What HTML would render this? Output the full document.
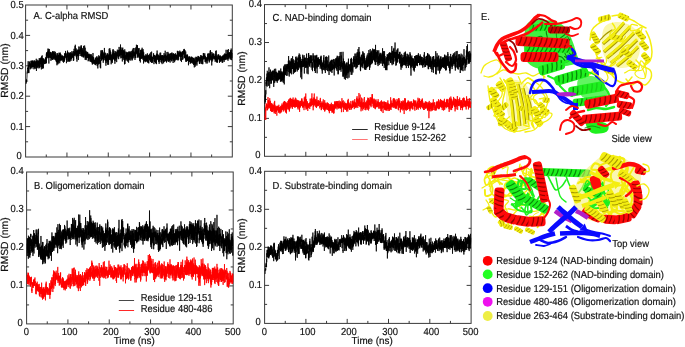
<!DOCTYPE html>
<html><head><meta charset="utf-8"><style>
html,body{margin:0;padding:0;background:#fff;}
svg{display:block;filter:blur(0.3px);}
text{font-family:"Liberation Sans", sans-serif;fill:#111;stroke:#111;stroke-width:0.18px;text-rendering:geometricPrecision;}
</style></head><body>
<svg width="685" height="347" viewBox="0 0 685 347">
<rect width="685" height="347" fill="#fff"/>
<rect x="25.6" y="5.0" width="206.70" height="152.00" fill="none" stroke="#3a3a3a" stroke-width="1.0"/>
<line x1="46.27" y1="157.0" x2="46.27" y2="154.5" stroke="#3a3a3a" stroke-width="1"/>
<line x1="46.27" y1="5.0" x2="46.27" y2="7.5" stroke="#3a3a3a" stroke-width="1"/>
<line x1="66.94" y1="157.0" x2="66.94" y2="152.5" stroke="#3a3a3a" stroke-width="1"/>
<line x1="66.94" y1="5.0" x2="66.94" y2="9.5" stroke="#3a3a3a" stroke-width="1"/>
<line x1="87.61" y1="157.0" x2="87.61" y2="154.5" stroke="#3a3a3a" stroke-width="1"/>
<line x1="87.61" y1="5.0" x2="87.61" y2="7.5" stroke="#3a3a3a" stroke-width="1"/>
<line x1="108.28" y1="157.0" x2="108.28" y2="152.5" stroke="#3a3a3a" stroke-width="1"/>
<line x1="108.28" y1="5.0" x2="108.28" y2="9.5" stroke="#3a3a3a" stroke-width="1"/>
<line x1="128.95" y1="157.0" x2="128.95" y2="154.5" stroke="#3a3a3a" stroke-width="1"/>
<line x1="128.95" y1="5.0" x2="128.95" y2="7.5" stroke="#3a3a3a" stroke-width="1"/>
<line x1="149.62" y1="157.0" x2="149.62" y2="152.5" stroke="#3a3a3a" stroke-width="1"/>
<line x1="149.62" y1="5.0" x2="149.62" y2="9.5" stroke="#3a3a3a" stroke-width="1"/>
<line x1="170.29" y1="157.0" x2="170.29" y2="154.5" stroke="#3a3a3a" stroke-width="1"/>
<line x1="170.29" y1="5.0" x2="170.29" y2="7.5" stroke="#3a3a3a" stroke-width="1"/>
<line x1="190.96" y1="157.0" x2="190.96" y2="152.5" stroke="#3a3a3a" stroke-width="1"/>
<line x1="190.96" y1="5.0" x2="190.96" y2="9.5" stroke="#3a3a3a" stroke-width="1"/>
<line x1="211.63" y1="157.0" x2="211.63" y2="154.5" stroke="#3a3a3a" stroke-width="1"/>
<line x1="211.63" y1="5.0" x2="211.63" y2="7.5" stroke="#3a3a3a" stroke-width="1"/>
<line x1="25.6" y1="141.80" x2="28.1" y2="141.80" stroke="#3a3a3a" stroke-width="1"/>
<line x1="232.3" y1="141.80" x2="229.8" y2="141.80" stroke="#3a3a3a" stroke-width="1"/>
<line x1="25.6" y1="126.60" x2="30.1" y2="126.60" stroke="#3a3a3a" stroke-width="1"/>
<line x1="232.3" y1="126.60" x2="227.8" y2="126.60" stroke="#3a3a3a" stroke-width="1"/>
<line x1="25.6" y1="111.40" x2="28.1" y2="111.40" stroke="#3a3a3a" stroke-width="1"/>
<line x1="232.3" y1="111.40" x2="229.8" y2="111.40" stroke="#3a3a3a" stroke-width="1"/>
<line x1="25.6" y1="96.20" x2="30.1" y2="96.20" stroke="#3a3a3a" stroke-width="1"/>
<line x1="232.3" y1="96.20" x2="227.8" y2="96.20" stroke="#3a3a3a" stroke-width="1"/>
<line x1="25.6" y1="81.00" x2="28.1" y2="81.00" stroke="#3a3a3a" stroke-width="1"/>
<line x1="232.3" y1="81.00" x2="229.8" y2="81.00" stroke="#3a3a3a" stroke-width="1"/>
<line x1="25.6" y1="65.80" x2="30.1" y2="65.80" stroke="#3a3a3a" stroke-width="1"/>
<line x1="232.3" y1="65.80" x2="227.8" y2="65.80" stroke="#3a3a3a" stroke-width="1"/>
<line x1="25.6" y1="50.60" x2="28.1" y2="50.60" stroke="#3a3a3a" stroke-width="1"/>
<line x1="232.3" y1="50.60" x2="229.8" y2="50.60" stroke="#3a3a3a" stroke-width="1"/>
<line x1="25.6" y1="35.40" x2="30.1" y2="35.40" stroke="#3a3a3a" stroke-width="1"/>
<line x1="232.3" y1="35.40" x2="227.8" y2="35.40" stroke="#3a3a3a" stroke-width="1"/>
<line x1="25.6" y1="20.20" x2="28.1" y2="20.20" stroke="#3a3a3a" stroke-width="1"/>
<line x1="232.3" y1="20.20" x2="229.8" y2="20.20" stroke="#3a3a3a" stroke-width="1"/>
<text transform="translate(21.70 158.70) scale(0.925 1)" text-anchor="end" font-size="10.2">0</text>
<text transform="translate(23.70 129.70) scale(0.925 1)" text-anchor="end" font-size="10.2">0.1</text>
<text transform="translate(23.70 99.30) scale(0.925 1)" text-anchor="end" font-size="10.2">0.2</text>
<text transform="translate(23.70 68.90) scale(0.925 1)" text-anchor="end" font-size="10.2">0.3</text>
<text transform="translate(23.70 38.50) scale(0.925 1)" text-anchor="end" font-size="10.2">0.4</text>
<text transform="translate(23.70 8.10) scale(0.925 1)" text-anchor="end" font-size="10.2">0.5</text>
<text transform="translate(33.50 19.20) scale(0.925 1)" font-size="10.2">A. C-alpha RMSD</text>
<text transform="translate(7.70 70.60) rotate(-90) scale(1.0 1)" text-anchor="middle" font-size="10.3">RMSD (nm)</text>
<rect x="264.5" y="4.6" width="206.50" height="151.70" fill="none" stroke="#3a3a3a" stroke-width="1.0"/>
<line x1="285.15" y1="156.3" x2="285.15" y2="153.8" stroke="#3a3a3a" stroke-width="1"/>
<line x1="285.15" y1="4.6" x2="285.15" y2="7.1" stroke="#3a3a3a" stroke-width="1"/>
<line x1="305.80" y1="156.3" x2="305.80" y2="151.8" stroke="#3a3a3a" stroke-width="1"/>
<line x1="305.80" y1="4.6" x2="305.80" y2="9.1" stroke="#3a3a3a" stroke-width="1"/>
<line x1="326.45" y1="156.3" x2="326.45" y2="153.8" stroke="#3a3a3a" stroke-width="1"/>
<line x1="326.45" y1="4.6" x2="326.45" y2="7.1" stroke="#3a3a3a" stroke-width="1"/>
<line x1="347.10" y1="156.3" x2="347.10" y2="151.8" stroke="#3a3a3a" stroke-width="1"/>
<line x1="347.10" y1="4.6" x2="347.10" y2="9.1" stroke="#3a3a3a" stroke-width="1"/>
<line x1="367.75" y1="156.3" x2="367.75" y2="153.8" stroke="#3a3a3a" stroke-width="1"/>
<line x1="367.75" y1="4.6" x2="367.75" y2="7.1" stroke="#3a3a3a" stroke-width="1"/>
<line x1="388.40" y1="156.3" x2="388.40" y2="151.8" stroke="#3a3a3a" stroke-width="1"/>
<line x1="388.40" y1="4.6" x2="388.40" y2="9.1" stroke="#3a3a3a" stroke-width="1"/>
<line x1="409.05" y1="156.3" x2="409.05" y2="153.8" stroke="#3a3a3a" stroke-width="1"/>
<line x1="409.05" y1="4.6" x2="409.05" y2="7.1" stroke="#3a3a3a" stroke-width="1"/>
<line x1="429.70" y1="156.3" x2="429.70" y2="151.8" stroke="#3a3a3a" stroke-width="1"/>
<line x1="429.70" y1="4.6" x2="429.70" y2="9.1" stroke="#3a3a3a" stroke-width="1"/>
<line x1="450.35" y1="156.3" x2="450.35" y2="153.8" stroke="#3a3a3a" stroke-width="1"/>
<line x1="450.35" y1="4.6" x2="450.35" y2="7.1" stroke="#3a3a3a" stroke-width="1"/>
<line x1="264.5" y1="137.34" x2="267.0" y2="137.34" stroke="#3a3a3a" stroke-width="1"/>
<line x1="471.0" y1="137.34" x2="468.5" y2="137.34" stroke="#3a3a3a" stroke-width="1"/>
<line x1="264.5" y1="118.38" x2="269.0" y2="118.38" stroke="#3a3a3a" stroke-width="1"/>
<line x1="471.0" y1="118.38" x2="466.5" y2="118.38" stroke="#3a3a3a" stroke-width="1"/>
<line x1="264.5" y1="99.41" x2="267.0" y2="99.41" stroke="#3a3a3a" stroke-width="1"/>
<line x1="471.0" y1="99.41" x2="468.5" y2="99.41" stroke="#3a3a3a" stroke-width="1"/>
<line x1="264.5" y1="80.45" x2="269.0" y2="80.45" stroke="#3a3a3a" stroke-width="1"/>
<line x1="471.0" y1="80.45" x2="466.5" y2="80.45" stroke="#3a3a3a" stroke-width="1"/>
<line x1="264.5" y1="61.49" x2="267.0" y2="61.49" stroke="#3a3a3a" stroke-width="1"/>
<line x1="471.0" y1="61.49" x2="468.5" y2="61.49" stroke="#3a3a3a" stroke-width="1"/>
<line x1="264.5" y1="42.53" x2="269.0" y2="42.53" stroke="#3a3a3a" stroke-width="1"/>
<line x1="471.0" y1="42.53" x2="466.5" y2="42.53" stroke="#3a3a3a" stroke-width="1"/>
<line x1="264.5" y1="23.56" x2="267.0" y2="23.56" stroke="#3a3a3a" stroke-width="1"/>
<line x1="471.0" y1="23.56" x2="468.5" y2="23.56" stroke="#3a3a3a" stroke-width="1"/>
<text transform="translate(260.60 158.00) scale(0.925 1)" text-anchor="end" font-size="10.2">0</text>
<text transform="translate(261.90 120.67) scale(0.925 1)" text-anchor="end" font-size="10.2">0.1</text>
<text transform="translate(261.90 82.75) scale(0.925 1)" text-anchor="end" font-size="10.2">0.2</text>
<text transform="translate(261.90 44.83) scale(0.925 1)" text-anchor="end" font-size="10.2">0.3</text>
<text transform="translate(261.90 6.90) scale(0.925 1)" text-anchor="end" font-size="10.2">0.4</text>
<text transform="translate(272.60 20.60) scale(0.925 1)" font-size="10.2">C. NAD-binding domain</text>
<text transform="translate(245.00 78.60) rotate(-90) scale(1.0 1)" text-anchor="middle" font-size="10.3">RMSD (nm)</text>
<rect x="26.6" y="172.0" width="206.60" height="151.90" fill="none" stroke="#3a3a3a" stroke-width="1.0"/>
<line x1="47.26" y1="323.9" x2="47.26" y2="321.4" stroke="#3a3a3a" stroke-width="1"/>
<line x1="47.26" y1="172.0" x2="47.26" y2="174.5" stroke="#3a3a3a" stroke-width="1"/>
<line x1="67.92" y1="323.9" x2="67.92" y2="319.4" stroke="#3a3a3a" stroke-width="1"/>
<line x1="67.92" y1="172.0" x2="67.92" y2="176.5" stroke="#3a3a3a" stroke-width="1"/>
<line x1="88.58" y1="323.9" x2="88.58" y2="321.4" stroke="#3a3a3a" stroke-width="1"/>
<line x1="88.58" y1="172.0" x2="88.58" y2="174.5" stroke="#3a3a3a" stroke-width="1"/>
<line x1="109.24" y1="323.9" x2="109.24" y2="319.4" stroke="#3a3a3a" stroke-width="1"/>
<line x1="109.24" y1="172.0" x2="109.24" y2="176.5" stroke="#3a3a3a" stroke-width="1"/>
<line x1="129.90" y1="323.9" x2="129.90" y2="321.4" stroke="#3a3a3a" stroke-width="1"/>
<line x1="129.90" y1="172.0" x2="129.90" y2="174.5" stroke="#3a3a3a" stroke-width="1"/>
<line x1="150.56" y1="323.9" x2="150.56" y2="319.4" stroke="#3a3a3a" stroke-width="1"/>
<line x1="150.56" y1="172.0" x2="150.56" y2="176.5" stroke="#3a3a3a" stroke-width="1"/>
<line x1="171.22" y1="323.9" x2="171.22" y2="321.4" stroke="#3a3a3a" stroke-width="1"/>
<line x1="171.22" y1="172.0" x2="171.22" y2="174.5" stroke="#3a3a3a" stroke-width="1"/>
<line x1="191.88" y1="323.9" x2="191.88" y2="319.4" stroke="#3a3a3a" stroke-width="1"/>
<line x1="191.88" y1="172.0" x2="191.88" y2="176.5" stroke="#3a3a3a" stroke-width="1"/>
<line x1="212.54" y1="323.9" x2="212.54" y2="321.4" stroke="#3a3a3a" stroke-width="1"/>
<line x1="212.54" y1="172.0" x2="212.54" y2="174.5" stroke="#3a3a3a" stroke-width="1"/>
<line x1="26.6" y1="304.91" x2="29.1" y2="304.91" stroke="#3a3a3a" stroke-width="1"/>
<line x1="233.2" y1="304.91" x2="230.7" y2="304.91" stroke="#3a3a3a" stroke-width="1"/>
<line x1="26.6" y1="285.92" x2="31.1" y2="285.92" stroke="#3a3a3a" stroke-width="1"/>
<line x1="233.2" y1="285.92" x2="228.7" y2="285.92" stroke="#3a3a3a" stroke-width="1"/>
<line x1="26.6" y1="266.94" x2="29.1" y2="266.94" stroke="#3a3a3a" stroke-width="1"/>
<line x1="233.2" y1="266.94" x2="230.7" y2="266.94" stroke="#3a3a3a" stroke-width="1"/>
<line x1="26.6" y1="247.95" x2="31.1" y2="247.95" stroke="#3a3a3a" stroke-width="1"/>
<line x1="233.2" y1="247.95" x2="228.7" y2="247.95" stroke="#3a3a3a" stroke-width="1"/>
<line x1="26.6" y1="228.96" x2="29.1" y2="228.96" stroke="#3a3a3a" stroke-width="1"/>
<line x1="233.2" y1="228.96" x2="230.7" y2="228.96" stroke="#3a3a3a" stroke-width="1"/>
<line x1="26.6" y1="209.97" x2="31.1" y2="209.97" stroke="#3a3a3a" stroke-width="1"/>
<line x1="233.2" y1="209.97" x2="228.7" y2="209.97" stroke="#3a3a3a" stroke-width="1"/>
<line x1="26.6" y1="190.99" x2="29.1" y2="190.99" stroke="#3a3a3a" stroke-width="1"/>
<line x1="233.2" y1="190.99" x2="230.7" y2="190.99" stroke="#3a3a3a" stroke-width="1"/>
<text transform="translate(22.70 325.60) scale(0.925 1)" text-anchor="end" font-size="10.2">0</text>
<text transform="translate(23.70 287.72) scale(0.925 1)" text-anchor="end" font-size="10.2">0.1</text>
<text transform="translate(23.70 249.75) scale(0.925 1)" text-anchor="end" font-size="10.2">0.2</text>
<text transform="translate(23.70 211.78) scale(0.925 1)" text-anchor="end" font-size="10.2">0.3</text>
<text transform="translate(23.70 173.80) scale(0.925 1)" text-anchor="end" font-size="10.2">0.4</text>
<text transform="translate(26.40 335.00) scale(0.925 1)" text-anchor="middle" font-size="10.2">0</text>
<text transform="translate(69.62 335.00) scale(0.925 1)" text-anchor="middle" font-size="10.2">100</text>
<text transform="translate(110.84 335.00) scale(0.925 1)" text-anchor="middle" font-size="10.2">200</text>
<text transform="translate(152.16 335.00) scale(0.925 1)" text-anchor="middle" font-size="10.2">300</text>
<text transform="translate(193.38 335.00) scale(0.925 1)" text-anchor="middle" font-size="10.2">400</text>
<text transform="translate(232.80 335.00) scale(0.925 1)" text-anchor="middle" font-size="10.2">500</text>
<text transform="translate(134.20 344.30) scale(0.965 1)" text-anchor="middle" font-size="10.2">Time (ns)</text>
<text transform="translate(34.10 189.20) scale(0.925 1)" font-size="10.2">B. Oligomerization domain</text>
<text transform="translate(7.70 244.60) rotate(-90) scale(1.0 1)" text-anchor="middle" font-size="10.3">RMSD (nm)</text>
<rect x="264.6" y="171.3" width="206.50" height="152.10" fill="none" stroke="#3a3a3a" stroke-width="1.0"/>
<line x1="285.25" y1="323.4" x2="285.25" y2="320.9" stroke="#3a3a3a" stroke-width="1"/>
<line x1="285.25" y1="171.3" x2="285.25" y2="173.8" stroke="#3a3a3a" stroke-width="1"/>
<line x1="305.90" y1="323.4" x2="305.90" y2="318.9" stroke="#3a3a3a" stroke-width="1"/>
<line x1="305.90" y1="171.3" x2="305.90" y2="175.8" stroke="#3a3a3a" stroke-width="1"/>
<line x1="326.55" y1="323.4" x2="326.55" y2="320.9" stroke="#3a3a3a" stroke-width="1"/>
<line x1="326.55" y1="171.3" x2="326.55" y2="173.8" stroke="#3a3a3a" stroke-width="1"/>
<line x1="347.20" y1="323.4" x2="347.20" y2="318.9" stroke="#3a3a3a" stroke-width="1"/>
<line x1="347.20" y1="171.3" x2="347.20" y2="175.8" stroke="#3a3a3a" stroke-width="1"/>
<line x1="367.85" y1="323.4" x2="367.85" y2="320.9" stroke="#3a3a3a" stroke-width="1"/>
<line x1="367.85" y1="171.3" x2="367.85" y2="173.8" stroke="#3a3a3a" stroke-width="1"/>
<line x1="388.50" y1="323.4" x2="388.50" y2="318.9" stroke="#3a3a3a" stroke-width="1"/>
<line x1="388.50" y1="171.3" x2="388.50" y2="175.8" stroke="#3a3a3a" stroke-width="1"/>
<line x1="409.15" y1="323.4" x2="409.15" y2="320.9" stroke="#3a3a3a" stroke-width="1"/>
<line x1="409.15" y1="171.3" x2="409.15" y2="173.8" stroke="#3a3a3a" stroke-width="1"/>
<line x1="429.80" y1="323.4" x2="429.80" y2="318.9" stroke="#3a3a3a" stroke-width="1"/>
<line x1="429.80" y1="171.3" x2="429.80" y2="175.8" stroke="#3a3a3a" stroke-width="1"/>
<line x1="450.45" y1="323.4" x2="450.45" y2="320.9" stroke="#3a3a3a" stroke-width="1"/>
<line x1="450.45" y1="171.3" x2="450.45" y2="173.8" stroke="#3a3a3a" stroke-width="1"/>
<line x1="264.6" y1="304.39" x2="267.1" y2="304.39" stroke="#3a3a3a" stroke-width="1"/>
<line x1="471.1" y1="304.39" x2="468.6" y2="304.39" stroke="#3a3a3a" stroke-width="1"/>
<line x1="264.6" y1="285.38" x2="269.1" y2="285.38" stroke="#3a3a3a" stroke-width="1"/>
<line x1="471.1" y1="285.38" x2="466.6" y2="285.38" stroke="#3a3a3a" stroke-width="1"/>
<line x1="264.6" y1="266.36" x2="267.1" y2="266.36" stroke="#3a3a3a" stroke-width="1"/>
<line x1="471.1" y1="266.36" x2="468.6" y2="266.36" stroke="#3a3a3a" stroke-width="1"/>
<line x1="264.6" y1="247.35" x2="269.1" y2="247.35" stroke="#3a3a3a" stroke-width="1"/>
<line x1="471.1" y1="247.35" x2="466.6" y2="247.35" stroke="#3a3a3a" stroke-width="1"/>
<line x1="264.6" y1="228.34" x2="267.1" y2="228.34" stroke="#3a3a3a" stroke-width="1"/>
<line x1="471.1" y1="228.34" x2="468.6" y2="228.34" stroke="#3a3a3a" stroke-width="1"/>
<line x1="264.6" y1="209.32" x2="269.1" y2="209.32" stroke="#3a3a3a" stroke-width="1"/>
<line x1="471.1" y1="209.32" x2="466.6" y2="209.32" stroke="#3a3a3a" stroke-width="1"/>
<line x1="264.6" y1="190.31" x2="267.1" y2="190.31" stroke="#3a3a3a" stroke-width="1"/>
<line x1="471.1" y1="190.31" x2="468.6" y2="190.31" stroke="#3a3a3a" stroke-width="1"/>
<text transform="translate(260.70 325.10) scale(0.925 1)" text-anchor="end" font-size="10.2">0</text>
<text transform="translate(262.00 287.77) scale(0.925 1)" text-anchor="end" font-size="10.2">0.1</text>
<text transform="translate(262.00 249.75) scale(0.925 1)" text-anchor="end" font-size="10.2">0.2</text>
<text transform="translate(262.00 211.72) scale(0.925 1)" text-anchor="end" font-size="10.2">0.3</text>
<text transform="translate(262.00 173.70) scale(0.925 1)" text-anchor="end" font-size="10.2">0.4</text>
<text transform="translate(264.40 334.50) scale(0.925 1)" text-anchor="middle" font-size="10.2">0</text>
<text transform="translate(307.60 334.50) scale(0.925 1)" text-anchor="middle" font-size="10.2">100</text>
<text transform="translate(348.80 334.50) scale(0.925 1)" text-anchor="middle" font-size="10.2">200</text>
<text transform="translate(390.10 334.50) scale(0.925 1)" text-anchor="middle" font-size="10.2">300</text>
<text transform="translate(431.30 334.50) scale(0.925 1)" text-anchor="middle" font-size="10.2">400</text>
<text transform="translate(470.70 334.50) scale(0.925 1)" text-anchor="middle" font-size="10.2">500</text>
<text transform="translate(372.15 343.80) scale(0.965 1)" text-anchor="middle" font-size="10.2">Time (ns)</text>
<text transform="translate(272.60 189.00) scale(0.925 1)" font-size="10.2">D. Substrate-binding domain</text>
<text transform="translate(245.00 245.60) rotate(-90) scale(1.0 1)" text-anchor="middle" font-size="10.3">RMSD (nm)</text>
<path d="M26.10 84.00l.08 -.89 .09 -1.02 .08 -1.80 .08 2.16 .09 -.45 .08 -2.61 .08 .80 .09 -.32 .08 -.95 .08 -1.02 .09 -.89 .08 -3.89 .08 .37 .09 -1.90 .08 1.36 .08 -3.42 .09 -.15 .08 -1.50 .08 -.27 .09 1.27 .08 -.98 .08 3.65 .09 -1.24 .08 -9.02 .08 1.14 .09 3.98 .08 -.08 .09 1.55 .08 .21 .08 4.83 .09 -7.63 .08 1.94 .08 5.89 .09 -3.67 .08 -.57 .08 -3.58 .09 -3.96 .08 3.16 .08 1.12 .09 -3.41 .08 .80 .08 2.77 .09 -1.77 .08 1.72 .08 .91 .09 -.84 .08 -1.51 .08 4.03 .09 1.01 .08 -2.48 .08 -2.96 .09 4.61 .08 -4.04 .08 2.89 .09 -3.88 .08 4.47 .08 -3.97 .09 -3.14 .08 4.37 .08 1.01 .09 .87 .08 -5.69 .08 -.76 .09 4.58 .08 -2.23 .08 2.91 .09 1.47 .08 -6.28 .08 6.03 .09 1.52 .08 -4.68 .08 -1.39 .09 4.08 .08 -2.83 .08 2.89 .09 -3.09 .08 -3.16 .08 3.97 .09 -1.34 .08 4.04 .08 -1.71 .09 -4.28 .08 .08 .09 4.99 .08 -.22 .08 -4.15 .09 1.23 .08 1.33 .08 1.14 .09 1.57 .08 -1.03 .08 -.95 .09 .03 .08 4.14 .08 -8.74 .09 5.19 .08 .48 .08 -5.67 .09 4.43 .08 -2.04 .08 4.39 .09 -2.87 .08 2.74 .08 .66 .09 -2.25 .08 -1.80 .08 -2.97 .09 8.19 .08 -4.74 .08 -1.43 .09 1.75 .08 -.14 .08 1.79 .09 -2.87 .08 .78 .08 -2.53 .09 3.70 .08 -3.50 .08 3.92 .09 2.17 .08 -7.43 .08 -1.75 .09 7.34 .08 4.88 .08 -9.85 .09 -.44 .08 3.45 .08 -3.01 .09 .93 .08 2.48 .08 3.12 .09 -2.89 .08 2.22 .08 -1.36 .09 -3.04 .08 -.71 .08 -.33 .09 2.85 .08 -4.59 .09 .92 .08 7.50 .08 -4.64 .09 .67 .08 -.10 .08 -2.43 .09 .71 .08 2.50 .08 -.14 .09 -3.83 .08 5.58 .08 -4.65 .09 -.10 .08 -.28 .08 1.80 .09 5.07 .08 -8.10 .08 3.93 .09 -6.18 .08 6.66 .08 2.84 .09 -4.27 .08 -1.03 .08 2.06 .09 .27 .08 -1.13 .08 4.05 .09 -5.28 .08 -3.27 .08 1.67 .09 .71 .08 .83 .08 -1.31 .09 .44 .08 -3.57 .08 6.40 .09 -4.09 .08 .58 .08 5.11 .09 1.15 .08 -4.25 .08 -.34 .09 -4.21 .08 11.36 .08 -6.16 .09 -6.90 .08 3.27 .08 2.58 .09 -3.77 .08 5.60 .08 -2.74 .09 4.99 .08 -1.12 .09 -9.80 .08 8.30 .08 -5.44 .09 9.49 .08 -2.74 .08 1.11 .09 -5.96 .08 8.80 .08 -1.02 .09 -8.49 .08 3.40 .08 -2.65 .09 1.79 .08 -3.19 .08 9.35 .09 -8.13 .08 1.85 .08 .92 .09 -4.43 .08 2.86 .08 -.14 .09 -.04 .08 -.78 .08 1.20 .09 1.05 .08 -.05 .08 .92 .09 -.51 .08 1.27 .08 -2.50 .09 .36 .08 -1.04 .08 .21 .09 -2.00 .08 3.69 .08 -2.80 .09 .28 .08 2.72 .08 .25 .09 -2.03 .08 -3.50 .08 5.37 .09 -1.21 .08 -3.97 .08 5.95 .09 -5.06 .08 -1.81 .08 1.93 .09 .60 .08 -.86 .08 -5.03 .09 9.35 .08 -7.70 .08 -3.05 .09 4.97 .08 -4.04 .09 2.00 .08 -1.34 .08 .39 .09 1.10 .08 -2.24 .08 5.14 .09 -4.83 .08 -.54 .08 2.11 .09 -.58 .08 -2.18 .08 -.70 .09 4.90 .08 -7.82 .08 3.98 .09 3.40 .08 -4.30 .08 3.46 .09 .20 .08 2.38 .08 -4.18 .09 .92 .08 3.13 .08 -8.71 .09 14.67 .08 -10.34 .08 -.95 .09 4.80 .08 -2.39 .08 -5.58 .09 8.11 .08 -.61 .08 -2.06 .09 -.12 .08 3.16 .08 -2.99 .09 2.65 .08 -1.45 .08 -1.56 .09 -2.00 .08 3.22 .08 -3.56 .09 4.11 .08 -1.33 .08 3.34 .09 -2.48 .08 -.29 .08 -2.42 .09 4.52 .08 3.53 .08 -6.18 .09 -2.40 .08 2.84 .09 -1.28 .08 .59 .08 .39 .09 -.54 .08 4.29 .08 -4.49 .09 2.03 .08 2.78 .08 -3.95 .09 5.00 .08 -6.38 .08 -.84 .09 1.16 .08 .58 .08 -2.53 .09 2.57 .08 -3.07 .08 8.57 .09 -4.06 .08 -2.42 .08 -2.36 .09 1.91 .08 .34 .08 -1.47 .09 -.14 .08 2.37 .08 -.50 .09 4.02 .08 .98 .08 -2.47 .09 1.98 .08 -5.35 .08 5.64 .09 -1.66 .08 .89 .08 2.07 .09 -8.45 .08 6.52 .08 -3.97 .09 4.37 .08 -4.81 .08 1.68 .09 .81 .08 1.54 .08 -1.23 .09 -2.18 .08 1.64 .08 2.60 .09 -2.74 .08 -3.72 .08 7.36 .09 -.53 .08 1.70 .08 -5.03 .09 3.74 .08 -4.39 .09 4.90 .08 -3.44 .08 3.67 .09 1.78 .08 -3.56 .08 1.66 .09 -1.29 .08 3.34 .08 -.73 .09 -5.22 .08 6.47 .08 .15 .09 2.87 .08 -12.05 .08 4.24 .09 4.98 .08 -9.15 .08 .04 .09 7.17 .08 2.00 .08 -5.71 .09 4.95 .08 -.77 .08 3.37 .09 -4.11 .08 3.35 .08 -8.58 .09 1.51 .08 1.11 .08 4.79 .09 -2.02 .08 -5.07 .08 5.06 .09 -1.34 .08 -1.63 .08 -.32 .09 .39 .08 -4.86 .08 6.54 .09 -1.99 .08 -3.40 .08 5.60 .09 -6.22 .08 3.87 .08 .49 .09 5.75 .08 -8.55 .08 5.34 .09 1.24 .08 -2.21 .08 1.43 .09 -4.80 .08 -3.11 .08 6.67 .09 -5.29 .08 2.74 .09 -.70 .08 4.30 .08 -.04 .09 -6.03 .08 3.16 .08 -.82 .09 .82 .08 .40 .08 -.30 .09 1.94 .08 -.17 .08 -2.70 .09 3.63 .08 -4.34 .08 1.83 .09 .33 .08 2.37 .08 -5.29 .09 5.36 .08 -4.31 .08 .51 .09 -.70 .08 2.53 .08 -.18 .09 -2.18 .08 -.21 .08 .48 .09 -.38 .08 4.47 .08 1.44 .09 -1.88 .08 -2.04 .08 -.34 .09 1.67 .08 1.58 .08 1.77 .09 -2.90 .08 -2.39 .08 .91 .09 -1.15 .08 -1.26 .08 1.94 .09 -.07 .08 3.44 .08 -4.98 .09 2.73 .08 2.65 .08 -5.86 .09 4.10 .08 -3.00 .08 -3.64 .09 2.18 .08 -1.59 .09 -.21 .08 2.28 .08 .63 .09 1.00 .08 -4.17 .08 2.65 .09 -5.06 .08 4.92 .08 .98 .09 .70 .08 -.08 .08 .26 .09 -3.71 .08 .18 .08 2.77 .09 2.44 .08 -2.08 .08 5.90 .09 -7.17 .08 2.98 .08 .89 .09 -4.86 .08 -2.20 .08 .09 .09 1.89 .08 2.77 .08 -2.09 .09 -.69 .08 -.94 .08 2.89 .09 -6.17 .08 3.88 .08 1.35 .09 -3.81 .08 9.86 .08 -9.11 .09 .28 .08 -.27 .08 8.36 .09 -4.33 .08 2.89 .08 -.50 .09 -.33 .08 -3.97 .08 1.30 .09 5.17 .08 -8.49 .08 1.76 .09 2.41 .08 3.87 .08 -2.49 .09 1.35 .08 -4.95 .08 5.69 .09 -1.49 .08 -6.21 .09 6.34 .08 2.67 .08 -7.44 .09 2.92 .08 2.68 .08 -5.19 .09 -2.38 .08 1.83 .08 1.81 .09 .51 .08 2.35 .08 -1.89 .09 -4.62 .08 5.30 .08 3.29 .09 -1.50 .08 -1.28 .08 -2.26 .09 2.60 .08 -4.43 .08 2.98 .09 -2.54 .08 4.70 .08 -2.12 .09 -4.01 .08 2.73 .08 1.62 .09 -6.43 .08 2.20 .08 -.80 .09 .11 .08 4.85 .08 -.50 .09 -1.08 .08 -1.92 .08 .94 .09 .54 .08 -1.85 .08 3.01 .09 1.21 .08 .30 .08 -2.82 .09 1.40 .08 -.51 .08 4.82 .09 -3.71 .08 -6.14 .08 6.12 .09 3.10 .08 -2.69 .08 .02 .09 -2.93 .08 -5.91 .08 1.78 .09 -.05 .08 1.88 .09 2.12 .08 .34 .08 -2.89 .09 3.43 .08 -1.07 .08 -2.01 .09 3.60 .08 -5.13 .08 -4.71 .09 5.11 .08 1.83 .08 -8.29 .09 9.46 .08 -1.92 .08 -2.51 .09 .44 .08 2.79 .08 -.66 .09 2.92 .08 -1.05 .08 -5.94 .09 1.99 .08 5.75 .08 1.09 .09 -4.09 .08 .60 .08 5.21 .09 -5.04 .08 .78 .08 -3.57 .09 2.94 .08 7.70 .08 -12.27 .09 3.20 .08 -2.13 .08 3.63 .09 1.77 .08 -4.54 .08 2.53 .09 -1.03 .08 -.90 .08 4.39 .09 -3.13 .08 -3.19 .08 .48 .09 -.07 .08 3.87 .08 -1.54 .09 7.32 .08 -2.91 .08 -7.28 .09 .69 .08 5.28 .09 -9.32 .08 2.96 .08 4.48 .09 -4.30 .08 1.20 .08 -1.09 .09 2.18 .08 -1.05 .08 .25 .09 1.17 .08 -.47 .08 2.09 .09 -4.82 .08 -2.29 .08 .17 .09 1.06 .08 4.66 .08 3.32 .09 -3.51 .08 -1.88 .08 -1.66 .09 1.37 .08 1.14 .08 -1.02 .09 -1.86 .08 .40 .08 4.79 .09 -7.99 .08 4.61 .08 -5.09 .09 7.03 .08 -2.88 .08 -2.32 .09 4.85 .08 4.27 .08 -3.97 .09 4.14 .08 -3.26 .08 -5.28 .09 6.20 .08 -2.63 .08 -3.06 .09 7.00 .08 -.33 .08 -2.94 .09 3.33 .08 -5.25 .08 4.53 .09 -3.34 .08 3.49 .08 -4.64 .09 6.90 .08 -2.55 .08 2.55 .09 -4.86 .08 -.33 .09 2.85 .08 -8.93 .08 4.46 .09 6.50 .08 -1.37 .08 2.02 .09 -3.27 .08 1.61 .08 -2.29 .09 -1.28 .08 .07 .08 2.96 .09 -1.08 .08 -2.28 .08 -6.44 .09 2.96 .08 2.78 .08 1.39 .09 -1.83 .08 -.20 .08 -2.88 .09 12.27 .08 -8.44 .08 6.84 .09 -1.08 .08 -3.49 .08 -1.53 .09 2.36 .08 -3.91 .08 4.70 .09 -1.26 .08 2.28 .08 .99 .09 2.65 .08 -4.91 .08 3.09 .09 -4.24 .08 -1.47 .08 -.19 .09 -.81 .08 6.32 .08 -.72 .09 .56 .08 -1.68 .08 .65 .09 -2.24 .08 -2.34 .08 4.26 .09 .17 .08 -3.50 .08 4.91 .09 -5.69 .08 4.65 .09 -.74 .08 -.19 .08 -.89 .09 6.18 .08 -1.28 .08 .11 .09 -2.53 .08 -3.75 .08 4.28 .09 -1.88 .08 2.68 .08 1.56 .09 -1.06 .08 -3.43 .08 .22 .09 1.53 .08 -3.96 .08 3.53 .09 .47 .08 -2.66 .08 .29 .09 1.40 .08 -2.10 .08 .21 .09 4.18 .08 -1.25 .08 3.43 .09 -5.63 .08 -.96 .08 7.06 .09 -.96 .08 -3.63 .08 -1.08 .09 3.01 .08 -3.58 .08 3.01 .09 -3.96 .08 3.30 .08 -3.75 .09 4.07 .08 3.67 .08 -4.04 .09 3.37 .08 -2.53 .08 -.53 .09 -.90 .08 5.28 .08 -3.53 .09 2.67 .08 -5.99 .08 2.45 .09 1.03 .08 3.35 .08 2.00 .09 -6.42 .08 -1.56 .09 .25 .08 7.46 .08 -3.74 .09 -2.89 .08 1.04 .08 -5.64 .09 2.22 .08 6.54 .08 -1.20 .09 .46 .08 -3.55 .08 3.64 .09 2.44 .08 -6.05 .08 3.05 .09 -.43 .08 1.78 .08 1.83 .09 -.58 .08 -2.92 .08 1.62 .09 -1.94 .08 1.51 .08 .67 .09 1.59 .08 -3.28 .08 -.08 .09 4.35 .08 -2.45 .08 -2.64 .09 2.87 .08 -1.81 .08 -.40 .09 1.81 .08 -4.26 .08 3.31 .09 4.08 .08 -2.26 .08 -5.14 .09 5.07 .08 -3.30 .08 1.53 .09 .93 .08 -2.12 .08 4.32 .09 -3.85 .08 2.06 .08 .42 .09 1.09 .08 .01 .08 -6.85 .09 3.33 .08 -4.24 .08 3.68 .09 4.99 .08 .09 .09 1.21 .08 -4.24 .08 -.18 .09 -2.03 .08 3.47 .08 -.10 .09 -5.25 .08 10.64 .08 -10.33 .09 .35 .08 3.17 .08 .38 .09 -.28 .08 -4.24 .08 6.38 .09 -4.76 .08 5.33 .08 -1.31 .09 -7.88 .08 1.79 .08 .23 .09 2.24 .08 -.10 .08 .38 .09 -3.15 .08 3.83 .08 2.99 .09 -7.08 .08 3.10 .08 1.02 .09 -1.61 .08 .79 .08 4.24 .09 .04 .08 .06 .08 -3.62 .09 7.15 .08 -4.38 .08 -2.82 .09 .48 .08 1.41 .08 6.07 .09 -6.25 .08 -2.66 .08 -9.00 .09 8.69 .08 -4.85 .08 .30 .09 5.07 .08 -6.45 .08 5.53 .09 1.94 .08 -7.31 .09 3.45 .08 -5.25 .08 3.90 .09 2.52 .08 -7.94 .08 9.41 .09 -4.13 .08 -3.45 .08 1.76 .09 3.21 .08 -6.35 .08 5.37 .09 -4.54 .08 8.00 .08 -3.59 .09 -2.20 .08 5.38 .08 -6.54 .09 2.93 .08 7.53 .08 -6.72 .09 4.79 .08 -3.15 .08 -1.48 .09 -.64 .08 .98 .08 -.72 .09 -1.68 .08 .49 .08 -1.30 .09 5.38 .08 -.92 .08 .27 .09 -10.14 .08 9.89 .08 -1.65 .09 -2.58 .08 4.86 .08 1.13 .09 .45 .08 -.71 .08 .98 .09 -.13 .08 -1.94 .08 -5.52 .09 3.45 .08 2.66 .08 -2.51 .09 3.11 .08 1.48 .08 -2.03 .09 6.84 .08 -6.70 .08 4.02 .09 -5.41 .08 -.73 .09 4.26 .08 -4.33 .08 2.66 .09 -3.41 .08 3.32 .08 -4.10 .09 -.42 .08 1.53 .08 -1.84 .09 5.36 .08 -6.68 .08 .94 .09 5.42 .08 -1.88 .08 2.38 .09 -.61 .08 5.25 .08 -11.25 .09 1.01 .08 1.82 .08 5.57 .09 -3.40 .08 3.27 .08 -.13 .09 -3.28 .08 -2.19 .08 -.89 .09 9.46 .08 -3.99 .08 -2.49 .09 -3.39 .08 .85 .08 -1.60 .09 .54 .08 -5.92 .08 7.98 .09 -.64 .08 1.76 .08 -.40 .09 2.44 .08 -1.66 .08 1.16 .09 -11.20 .08 4.00 .08 6.61 .09 -8.48 .08 4.39 .08 4.24 .09 -3.13 .08 4.47 .08 -6.40 .09 -2.19 .08 1.19 .08 -.59 .09 5.64 .08 -.70 .09 -.27 .08 -3.26 .08 10.57 .09 -8.22 .08 .47 .08 2.41 .09 -2.04 .08 -1.92 .08 5.27 .09 1.11 .08 -.69 .08 1.56 .09 -5.73 .08 -.33 .08 6.91 .09 -6.71 .08 1.40 .08 2.55 .09 .45 .08 -7.29 .08 2.50 .09 -1.67 .08 2.38 .08 -6.53 .09 6.39 .08 -7.54 .08 8.20 .09 .22 .08 .50 .08 -5.53 .09 6.51 .08 -3.65 .08 -1.96 .09 -.53 .08 .75 .08 3.56 .09 2.59 .08 -8.97 .08 2.47 .09 5.40 .08 -.98 .08 2.22 .09 -6.60 .08 7.15 .08 -6.14 .09 2.84 .08 4.21 .08 2.49 .09 -3.66 .08 1.00 .08 -3.90 .09 -.43 .08 2.89 .09 -3.97 .08 -.30 .08 -4.07 .09 5.45 .08 .99 .08 -3.97 .09 -.70 .08 6.46 .08 -4.23 .09 .32 .08 -3.94 .08 1.97 .09 .77 .08 4.27 .08 -3.76 .09 7.17 .08 -8.60 .08 2.64 .09 2.30 .08 -2.47 .08 -3.46 .09 1.75 .08 1.48 .08 -6.08 .09 2.81 .08 -.82 .08 -.10 .09 4.22 .08 -3.35 .08 .42 .09 -.04 .08 2.15 .08 -2.83 .09 4.72 .08 -6.39 .08 6.79 .09 -5.74 .08 1.79 .08 .81 .09 5.06 .08 -3.56 .08 -5.29 .09 5.33 .08 -5.75 .08 -2.99 .09 3.99 .08 -.80 .08 4.20 .09 -4.58 .08 3.85 .08 2.40 .09 -1.27 .08 -.85 .08 -3.18 .09 5.96 .08 -2.71 .09 1.00 .08 -4.20 .08 .34 .09 -3.88 .08 4.28 .08 -6.96 .09 6.80 .08 2.55 .08 -1.74 .09 6.24 .08 -5.60 .08 -5.39 .09 7.55 .08 -3.19 .08 -1.83 .09 3.52 .08 1.25 .08 .37 .09 -2.94 .08 .42 .08 .41 .09 5.06 .08 -7.94 .08 3.56 .09 .82 .08 -6.02 .08 .74 .09 12.34 .08 -12.15 .08 6.75 .09 -3.92 .08 .70 .08 -5.28 .09 4.37 .08 4.58 .08 -6.65 .09 5.66 .08 -2.27 .08 4.57 .09 -6.04 .08 6.35 .08 -1.04 .09 -2.77 .08 -4.01 .08 9.48 .09 -8.28 .08 2.86 .08 3.36 .09 -.14 .08 -5.95 .08 2.11 .09 .87 .08 6.83 .09 2.89 .08 -12.85 .08 7.88 .09 -10.06 .08 7.20 .08 -1.43 .09 8.85 .08 -4.66 .08 -2.95 .09 .35 .08 .31 .08 .44 .09 -1.69 .08 2.46 .08 1.24 .09 -.50 .08 -5.92 .08 -1.40 .09 2.79 .08 6.28 .08 -4.15 .09 -1.81 .08 1.38 .08 -3.86 .09 .33 .08 6.76 .08 -1.52 .09 -3.72 .08 1.56 .08 -1.77 .09 1.93 .08 -1.47 .08 2.69 .09 -.23 .08 -4.13 .08 2.57 .09 2.19 .08 4.04 .08 -9.23 .09 4.25 .08 -2.75 .08 4.20 .09 -.41 .08 2.68 .08 -2.61 .09 -2.93 .08 -.35 .08 2.74 .09 .28 .08 5.29 .08 -2.54 .09 -8.02 .08 3.88 .08 -3.97 .09 -.70 .08 8.14 .09 -1.10 .08 -4.51 .08 6.41 .09 -7.00 .08 -.95 .08 4.17 .09 -.82 .08 .43 .08 -.74 .09 .20 .08 -.88 .08 .21 .09 -3.45 .08 .65 .08 4.93 .09 -4.14 .08 2.67 .08 1.68 .09 -4.78 .08 2.47 .08 5.74 .09 -4.07 .08 2.44 .08 .46 .09 -2.34 .08 -1.10 .08 -4.59 .09 -.51 .08 3.52 .08 -.09 .09 -.60 .08 3.59 .08 -3.98 .09 5.02 .08 -3.87 .08 .04 .09 -.09 .08 -1.63 .08 7.56 .09 -10.84 .08 5.01 .08 2.09 .09 -1.03 .08 -2.02 .08 5.06 .09 -7.52 .08 -.08 .08 4.77 .09 -5.55 .08 -2.32 .08 8.12 .09 -.59 .08 .70 .08 -1.85 .09 .83 .08 -3.28 .09 5.96 .08 -3.43 .08 1.09 .09 -7.47 .08 7.48 .08 .68 .09 -.95 .08 -.39 .08 -1.51 .09 -.70 .08 2.75 .08 -.53 .09 .30 .08 -.35 .08 5.10 .09 -8.18 .08 1.75 .08 -2.00 .09 4.02 .08 2.34 .08 -2.05 .09 -1.85 .08 -6.40 .08 10.47 .09 -4.68 .08 -3.02 .08 -.86 .09 .13 .08 1.24 .08 1.41 .09 -.56 .08 -6.94 .08 6.87 .09 1.70 .08 -.93 .08 -2.42 .09 1.74 .08 2.15 .08 -3.36 .09 3.95 .08 -8.46 .08 2.21 .09 1.09 .08 -4.26 .08 5.16 .09 7.50 .08 -.70 .08 -3.38 .09 3.00 .08 -4.06 .08 -1.10 .09 2.03 .08 -.62 .09 2.29 .08 -5.97 .08 7.39 .09 -3.44 .08 1.66 .08 -6.47 .09 .79 .08 2.17 .08 2.38 .09 -5.69 .08 9.75 .08 -2.81 .09 -1.77 .08 5.05 .08 -1.88 .09 2.07 .08 2.57 .08 -4.51 .09 -1.55 .08 -.72 .08 2.39 .09 .10 .08 -2.71 .08 -.53 .09 4.75 .08 4.30 .08 -12.59 .09 8.75 .08 -2.48 .08 1.37 .09 1.10 .08 -3.27 .08 -2.99 .09 -.28 .08 -1.89 .08 8.04 .09 -3.91 .08 -.85 .08 1.07 .09 -4.20 .08 4.02 .08 4.56 .09 -2.30 .08 -7.28 .08 8.52 .09 -6.90 .08 -3.21 .08 1.63 .09 2.50 .08 1.86 .08 -1.83 .09 -1.63 .08 3.40 .08 4.83 .09 -7.43 .08 3.19 .09 -1.47 .08 7.08 .08 -10.70 .09 8.29 .08 -4.42 .08 2.79 .09 .09 .08 7.56 .08 -8.24 .09 -2.95 .08 7.45 .08 -4.35 .09 .83 .08 1.30 .08 -.05 .09 .34 .08 .73 .08 .80 .09 1.71 .08 -2.18 .08 -1.89 .09 -1.24 .08 2.82 .08 -2.55 .09 1.59 .08 .61 .08 4.02 .09 -3.69 .08 2.86 .08 -4.62 .09 .78 .08 1.35 .08 -3.13 .09 5.72 .08 -5.04 .08 3.98 .09 -6.32 .08 3.44 .08 1.46 .09 -.18 .08 -3.64 .08 4.88 .09 1.01 .08 -1.30 .08 -1.99 .09 -.32 .08 -1.07 .08 3.30 .09 2.04 .08 -3.43 .08 -2.60 .09 4.52 .08 .86 .09 -7.75 .08 5.32 .08 3.82 .09 -2.22 .08 -1.55 .08 1.21 .09 2.35 .08 -5.48 .08 -1.15 .09 1.67 .08 -1.46 .08 2.67 .09 -3.62 .08 6.58 .08 1.28 .09 -1.58 .08 -.87 .08 3.10 .09 -7.11 .08 .21 .08 -.75 .09 1.54 .08 -.25 .08 1.91 .09 -2.61 .08 -2.23 .08 -.39 .09 6.48 .08 -2.95 .08 -.50 .09 1.72 .08 .38 .08 1.24 .09 .25 .08 -1.99 .08 -1.04 .09 -1.69 .08 -.19 .08 6.38 .09 -5.66 .08 -3.77 .08 4.68 .09 -.38 .08 3.00 .08 -3.80 .09 3.59 .08 -2.29 .08 1.55 .09 .83 .08 3.39 .08 -4.40 .09 -6.94 .08 3.57 .08 1.60 .09 4.81 .08 -2.35 .09 1.73 .08 -3.32 .08 2.31 .09 -1.47 .08 -1.73 .08 4.07 .09 1.86 .08 -5.41 .08 2.23 .09 1.26 .08 -2.43 .08 .09 .09 .36 .08 -.97 .08 .93 .09 -2.73 .08 -.15 .08 .11 .09 -2.78 .08 .14 .08 3.82 .09 -2.49 .08 3.21 .08 6.25 .09 -1.19 .08 -6.73 .08 2.83 .09 -3.51 .08 5.93 .08 -6.33 .09 2.52 .08 4.30 .08 -5.76 .09 4.95 .08 -5.31 .08 2.87 .09 -.87 .08 -.44 .08 1.76 .09 -.87 .08 -2.76 .08 5.17 .09 -1.16 .08 2.10 .08 1.75 .09 -7.11 .08 6.28 .08 -.78 .09 -3.64 .08 4.40 .08 -.69 .09 -4.41 .08 -2.93 .08 1.55 .09 8.06 .08 -6.82 .09 -2.48 .08 1.37 .08 -2.67 .09 1.17 .08 1.64 .08 -5.80 .09 6.68 .08 2.45 .08 -4.89 .09 .01 .08 3.42 .08 -3.62 .09 1.60 .08 -1.47 .08 3.12 .09 1.63 .08 -1.80 .08 1.30 .09 1.29 .08 -1.12 .08 -3.51 .09 1.40 .08 4.84 .08 -6.17 .09 2.20 .08 -.38 .08 1.00 .09 -2.66 .08 -1.24 .08 9.23 .09 -3.73 .08 -4.01 .08 1.44 .09 2.08 .08 -.69 .08 2.56 .09 -5.05 .08 1.66 .08 .53 .09 -1.97 .08 -3.92 .08 5.90 .09 1.24 .08 -.27 .08 -2.98 .09 2.83 .08 .27 .08 -4.65 .09 -2.40 .08 6.94 .08 -3.35 .09 4.68 .08 1.31 .09 -6.35 .08 -.39 .08 2.81 .09 .77 .08 -3.64 .08 5.98 .09 1.28 .08 -2.21 .08 -2.49 .09 2.86 .08 -1.06 .08 -4.25 .09 8.56 .08 -5.41 .08 .02 .09 -3.17 .08 3.00 .08 1.35 .09 -3.66 .08 -.90 .08 2.53 .09 -2.40 .08 1.19 .08 1.19 .09 .07 .08 3.17 .08 -5.43 .09 3.09 .08 -2.56 .08 4.55 .09 2.55 .08 -5.39 .08 4.02 .09 -3.85 .08 -4.31 .08 -.23 .09 -.52 .08 1.80 .08 1.90 .09 5.02 .08 -2.81 .08 -.55 .09 -3.02 .08 -.61 .08 2.57 .09 -.72 .08 1.46 .08 -.28 .09 -1.78 .08 -5.29 .08 2.03 .09 .72 .08 7.32 .08 -6.07 .09 3.33 .08 2.88 .09 -2.84 .08 -1.05 .08 -.35 .09 -1.36 .08 2.92 .08 3.65 .09 -1.93 .08 .02 .08 .06 .09 2.50 .08 -6.45 .08 2.15 .09 1.90 .08 .63 .08 -8.70 .09 4.34 .08 1.26 .08 -1.46 .09 4.46 .08 -1.55 .08 -.37 .09 -4.06 .08 1.71 .08 .71 .09 1.77 .08 -3.89 .08 -3.12 .09 1.53 .08 .66 .08 6.34 .09 1.60 .08 -5.52 .08 2.74 .09 1.20 .08 -1.28 .08 -3.21 .09 -2.63 .08 2.49 .08 -1.46 .09 5.93 .08 1.25 .08 -7.53 .09 3.87 .08 .32 .08 1.55 .09 .90 .08 -1.61 .08 -3.43 .09 .42 .08 4.22 .08 -3.36 .09 1.25 .08 4.47 .08 -4.93 .09 -4.27 .08 2.35 .09 2.82 .08 -2.08 .08 2.84 .09 .62 .08 -5.12 .08 -1.03 .09 1.30 .08 -1.75 .08 3.40 .09 -.45 .08 3.06 .08 -3.84 .09 -.59 .08 6.38 .08 -6.71 .09 -.56 .08 -1.14 .08 1.99 .09 -2.36 .08 4.36 .08 -1.60 .09 1.35 .08 2.54 .08 .13 .09 -.84 .08 -2.92 .08 2.73 .09 -.22 .08 .43 .08 -4.52 .09 6.74 .08 -2.61 .08 4.88 .09 -3.08 .08 -5.07 .08 -1.63 .09 5.81 .08 -4.91 .08 4.36 .09 -4.16 .08 6.10 .08 -4.19 .09 3.61 .08 -1.15 .08 -4.88 .09 2.10 .08 3.23 .08 -3.56 .09 -1.17 .08 3.58 .08 4.26 .09 -7.28 .08 4.68 .09 -1.58 .08 2.30 .08 -3.91 .09 3.99 .08 -2.38 .08 -1.26 .09 .40 .08 -2.15 .08 -1.78 .09 .42 .08 2.91 .08 -1.53 .09 3.28 .08 -.64 .08 -.36 .09 -2.41 .08 1.22 .08 .47 .09 3.06 .08 -4.76 .08 1.03 .09 .29 .08 -.12 .08 -.78 .09 .14 .08 3.67 .08 -4.65 .09 3.26 .08 2.41 .08 -1.04 .09 -8.29 .08 6.90 .08 -.44 .09 -.27 .08 -5.46 .08 6.18 .09 -4.00 .08 4.12 .08 -.63 .09 3.16 .08 -6.38 .08 -2.74 .09 6.68 .08 -.59 .08 -2.88 .09 5.18 .08 -1.80 .08 -4.96 .09 2.27 .08 -1.13 .08 -.13 .09 1.15 .08 -2.14 .08 .47 .09 3.02 .08 -.83 .09 -.28 .08 -.51 .08 .38 .09 -4.57 .08 5.60 .08 -3.88 .09 3.04 .08 -3.56 .08 4.79 .09 -.89 .08 -3.89 .08 5.16 .09 -1.74 .08 5.47 .08 -3.65 .09 -3.68 .08 1.82 .08 -.26 .09 1.82 .08 -.99 .08 .89 .09 -4.03 .08 4.91 .08 4.50 .09 -3.76 .08 -.82 .08 -.45 .09 -3.52 .08 3.11 .08 -4.78 .09 3.41 .08 -1.15 .08 -1.49 .09 3.35 .08 -4.74 .08 4.25 .09 -2.62 .08 7.14 .08 -.12 .09 -3.49 .08 2.63 .08 -4.92 .09 1.06 .08 -2.08 .08 -2.18 .09 3.19 .08 -1.99 .08 .19 .09 1.72 .08 -1.97 .08 -2.65 .09 3.45 .08 -.75 .09 .73 .08 -1.18 .08 4.35 .09 1.55 .08 -8.59 .08 4.63 .09 .12 .08 -3.44 .08 3.67 .09 4.34 .08 -2.16 .08 1.91 .09 -7.75 .08 2.99 .08 3.61 .09 .43 .08 .03 .08 -.61 .09 -.88 .08 -.02 .08 3.32 .09 -7.57 .08 10.31 .08 -5.78 .09 -.43 .08 4.66 .08 -4.83 .09 3.00 .08 -1.43 .08 2.58 .09 -.31 .08 2.37 .08 -4.64 .09 .89 .08 .85 .08 -4.21 .09 5.12 .08 -.13 .08 -4.69 .09 5.37 .08 -.11 .08 -5.50 .09 4.29 .08 2.02 .08 -.02 .09 -5.20 .08 .26 .08 2.85 .09 -1.11 .08 2.20 .08 -.18 .09 .20 .08 -2.45 .08 .41 .09 7.36 .08 -7.12 .09 1.86 .08 -.11 .08 -1.33 .09 -1.94 .08 3.16 .08 -.83 .09 .37 .08 2.48 .08 -3.70 .09 2.81 .08 -4.50 .08 1.94 .09 3.28 .08 -2.82 .08 -1.41 .09 2.07 .08 -1.71 .08 1.41 .09 -.46 .08 5.09 .08 -4.13 .09 .18 .08 -1.35 .08 3.18 .09 -1.85 .08 3.06 .08 -2.94 .09 -.32 .08 -2.94 .08 6.31 .09 -1.02 .08 -.23 .08 -.97 .09 -1.38 .08 -2.64 .08 5.08 .09 -.98 .08 -1.22 .08 -.42 .09 1.91 .08 -1.34 .08 3.48 .09 -2.27 .08 -3.84 .08 -.22 .09 1.95 .08 -.89 .08 2.61 .09 .09 .08 1.64 .08 -.38 .09 -.74 .08 2.55 .08 -3.97 .09 1.04 .08 1.95 .09 -.47 .08 -2.86 .08 -1.51 .09 .03 .08 7.04 .08 -7.16 .09 2.07 .08 3.95 .08 -1.17 .09 -.58 .08 -3.13 .08 2.63 .09 5.77 .08 -6.86 .08 .72 .09 -.56 .08 2.33 .08 .89 .09 .63 .08 -5.39 .08 -1.50 .09 4.18 .08 .32 .08 4.46 .09 -1.64 .08 -3.32 .08 2.17 .09 .37 .08 -2.18 .08 -1.42 .09 2.82 .08 -2.56 .08 -4.13 .09 7.87 .08 -6.92 .08 1.60 .09 -.43 .08 .64 .08 .79 .09 -3.00 .08 4.60 .08 -.78 .09 -.18 .08 4.71 .08 -.51 .09 -.36 .08 -.46 .08 -3.01 .09 -3.83 .08 3.82 .08 .30 .09 -.64 .08 -1.74 .09 -.89 .08 3.20 .08 -.59 .09 -5.00 .08 2.74 .08 -.41 .09 -.28 .08 2.53 .08 -1.80 .09 -.20 .08 .74 .08 -3.10 .09 3.53 .08 -.48 .08 -2.29 .09 3.65 .08 .85 .08 -2.69 .09 .44 .08 3.42 .08 .99 .09 -3.72 .08 3.09 .08 1.07 .09 -3.18 .08 -3.13 .08 .58 .09 .02 .08 -1.00 .08 5.10 .09 -5.57 .08 2.30 .08 -1.06 .09 .97 .08 -2.41 .08 -1.48 .09 5.76 .08 -3.47 .08 1.71 .09 1.17 .08 3.39 .08 -1.28 .09 .15 .08 -.81 .08 -1.24 .09 .09 .08 -1.48 .08 -3.57 .09 3.34 .08 -3.06 .08 7.94 .09 -1.23 .08 -.91 .08 -3.38 .09 5.91 .08 -7.94 .09 .17 .08 1.21 .08 -.11 .09 3.00 .08 .72 .08 2.96 .09 -3.41 .08 .04 .08 -.76 .09 -2.15 .08 -2.17 .08 -2.53 .09 .95 .08 2.19 .08 2.35 .09 -5.70 .08 1.93 .08 4.39 .09 -2.38 .08 2.37 .08 -2.97 .09 -.24 .08 .09 .08 2.37 .09 -1.72 .08 -2.07 .08 1.76 .09 1.84 .08 -1.20 .08 -3.82 .09 3.39 .08 2.05 .08 3.10 .09 -1.41 .08 -1.23 .08 -3.35 .09 .38 .08 4.20 .08 -2.48 .09 3.88 .08 -.02 .08 -4.92 .09 3.29 .08 -.82 .08 4.04 .09 -2.62 .08 -1.92 .08 1.66 .09 -2.49 .08 1.30 .08 .55 .09 -.85 .08 2.26 .08 -2.32 .09 -1.82 .08 3.36 .09 -2.50 .08 -.43 .08 5.85 .09 -3.29 .08 -3.22 .08 -1.78 .09 -1.03 .08 3.37 .08 1.92 .09 -2.55 .08 1.18 .08 -.03 .09 2.62 .08 -7.68 .08 5.00 .09 -.21 .08 1.11 .08 -.77 .09 -1.73 .08 .47 .08 -2.83 .09 4.61 .08 .02 .08 .76 .09 -2.75 .08 .24 .08 5.61 .09 -4.54 .08 3.45 .08 -2.64 .09 -4.83 .08 4.53 .08 1.78 .09 -3.37 .08 -3.83 .08 6.36 .09 -1.65 .08 .03 .08 -6.63 .09 6.35 .08 -7.49 .08 4.91 .09 3.37 .08 -6.68 .08 .70 .09 2.83 .08 5.06 .08 .11 .09 -4.97 .08 4.29 .08 -1.19 .09 -1.16 .08 .14 .09 -1.41 .08 4.30 .08 .39 .09 4.71 .08 -4.06 .08 -9.31 .09 4.04 .08 5.49 .08 -1.18 .09 -6.64 .08 5.13 .08 -.52 .09 .21 .08 -2.11 .08 2.63 .09 1.23 .08 -2.04 .08 -4.65 .09 1.57 .08 .12 .08 1.92 .09 -2.50 .08 -.25 .08 -.99 .09 4.37 .08 .23 .08 .56 .09 -2.18 .08 1.25 .08 -2.72 .09 -1.29 .08 1.15 .08 4.32 .09 -2.22 .08 -1.22 .08 3.07 .09 .37 .08 -.72 .08 -.92 .09 1.15 .08 -2.29 .08 .68 .09 1.08 .08 2.55 .08 1.14 .09 -.27 .08 -2.23 .08 -2.71 .09 -.10 .08 .59 .08 3.39 .09 -9.46 .08 8.84 .08 -5.72 .09 3.63 .08 2.51 .09 -5.73 .08 -4.19 .08 9.89 .09 2.08 .08 -3.06 .08 2.44 .09 -5.62 .08 4.17 .08 .07 .09 -2.11 .08 .41 .08 3.32 .09 -.17 .08 -4.85 .08 5.68 .09 -.47 .08 -2.48 .08 2.58 .09 -1.16 .08 -1.06 .08 -3.75 .09 2.70 .08 -4.06 .08 2.67 .09 -3.36 .08 .98 .08 4.24 .09 -2.10 .08 -.23 .08 1.83 .09 -.71 .08 -3.71 .08 3.34 .09 .90 .08 -.97 .08 1.26 .09 -1.71 .08 -1.51 .08 1.17 .09 1.66 .08 4.09 .08 -6.48 .09 2.71 .08 -3.16 .08 6.11 .09 -4.25 .08 1.87 .08 1.71 .09 -.44 .08 -5.47 .08 5.00 .09 -3.45 .08 2.04 .09 -1.21 .08 2.43 .08 -.89 .09 -1.22 .08 3.64 .08 -5.47 .09 2.99 .08 -.64 .08 1.90 .09 -1.41 .08 .61 .08 -.72 .09 .10 .08 -2.48 .08 3.29 .09 .29 .08 -2.01 .08 -.80 .09 -.42 .08 5.68 .08 -3.28 .09 .61 .08 -1.72 .08 -1.35 .09 -.68 .08 6.50 .08 -6.90 .09 3.75 .08 -.13 .08 -.88 .09 -3.18 .08 -.27 .08 3.89 .09 -2.82 .08 3.80 .08 -.24 .09 .41 .08 .04 .08 -4.32 .09 1.02 .08 2.11 .08 -4.66 .09 7.60 .08 -4.49 .08 .28 .09 -2.36 .08 3.39 .08 -3.10 .09 1.80 .08 -2.71 .08 5.35 .09 -6.79 .08 3.70 .08 -1.40 .09 .47 .08 -1.98 .09 5.66 .08 .24 .08 -2.51 .09 .08 .08 -1.01 .08 2.27 .09 -4.87 .08 3.14 .08 -.66 .09 -3.17 .08 -3.52 .08 5.80 .09 .76 .08 3.16 .08 -2.17 .09 -2.38 .08 -.64 .08 2.86 .09 -1.45 .08 -1.80 .08 2.36 .09 2.98 .08 -2.92 .08 -2.02 .09 1.45 .08 -4.58 .08 -1.20 .09 5.77 .08 -1.29 .08 4.82 .09 -2.37 .08 -3.88 .08 4.47 .09 3.26 .08 -2.35 .08 -4.59 .09 2.20 .08 -7.03 .08 3.68 .09 -.34 .08 4.63 .08 1.48 .09 -5.21 .08 3.12 .08 -.45 .09 2.66 .08 -5.75 .08 .34 .09 2.09 .08 .32 .08 -.01 .09 1.72 .08 -5.19 .08 2.55 .09 .56 .08 .53 .09 -1.89 .08 1.12 .08 1.66 .09 .14 .08 1.83 .08 1.06 .09 -6.13 .08 5.07 .08 -7.88 .09 5.36 .08 1.80 .08 -5.46 .09 -.02 .08 -.64 .08 4.80 .09 -7.99 .08 4.72 .08 -1.68 .09 3.75 .08 4.79 .08 -2.41 .09 .24 .08 -1.28 .08 -3.69 .09 4.62 .08 -.36" fill="none" stroke="#000" stroke-width="0.8" stroke-linejoin="round"/>
<path d="M265.00 104.00l.08 -2.27 .09 -1.64 .08 -4.61 .08 6.83 .09 -2.13 .08 -6.16 .08 3.05 .09 -2.31 .08 -4.57 .08 4.19 .09 -6.17 .08 -2.40 .08 -4.58 .09 4.85 .08 -3.69 .08 1.62 .09 -6.41 .08 2.70 .08 -2.70 .09 6.73 .08 -2.88 .08 -.19 .09 -.41 .08 -7.27 .08 9.25 .09 3.74 .08 -15.79 .08 .58 .09 1.32 .08 8.22 .08 -4.31 .09 2.41 .08 1.25 .08 -2.01 .09 -.46 .08 .67 .09 2.74 .08 -8.67 .08 3.31 .09 2.72 .08 7.26 .08 -11.88 .09 -.91 .08 -.27 .08 6.41 .09 -5.02 .08 5.35 .08 -12.09 .09 12.25 .08 1.62 .08 -9.36 .09 5.14 .08 3.18 .08 -3.42 .09 2.04 .08 9.35 .08 -8.77 .09 -.60 .08 -2.55 .08 2.88 .09 -5.07 .08 -.08 .08 -.18 .09 3.00 .08 -7.25 .08 1.71 .09 -1.03 .08 10.60 .08 -3.65 .09 6.61 .08 -6.53 .08 -3.27 .09 5.74 .08 -1.84 .08 -6.35 .09 2.86 .08 9.05 .08 -3.21 .09 -1.55 .08 -5.58 .08 -.91 .09 7.86 .08 -3.24 .08 -2.52 .09 1.06 .08 -1.71 .08 1.75 .09 5.00 .08 -8.94 .08 8.40 .09 -9.18 .08 2.82 .08 -1.12 .09 1.12 .08 1.77 .08 -2.51 .09 .72 .08 -1.51 .08 -.08 .09 -1.40 .08 7.65 .08 .37 .09 .67 .08 -.92 .08 8.61 .09 -9.53 .08 -1.86 .09 7.61 .08 -11.92 .08 5.84 .09 -6.15 .08 6.40 .08 -8.44 .09 7.99 .08 -3.77 .08 -1.11 .09 10.66 .08 -3.03 .08 -1.02 .09 -4.76 .08 1.05 .08 2.59 .09 3.41 .08 -.49 .08 -5.95 .09 -2.55 .08 1.64 .08 -4.82 .09 1.20 .08 2.76 .08 5.14 .09 1.90 .08 -6.48 .08 4.18 .09 -2.70 .08 6.62 .08 -4.32 .09 .58 .08 -4.02 .08 -1.80 .09 5.65 .08 -1.54 .08 4.28 .09 -7.51 .08 7.88 .08 -5.67 .09 7.95 .08 -5.29 .08 2.94 .09 -7.22 .08 7.37 .08 -3.06 .09 1.34 .08 .92 .08 -2.84 .09 2.83 .08 .17 .08 .57 .09 -3.08 .08 -4.13 .08 1.46 .09 2.24 .08 -6.40 .08 8.58 .09 -3.53 .08 .51 .08 3.66 .09 -.56 .08 -2.29 .08 -3.16 .09 3.76 .08 .59 .08 -3.61 .09 4.43 .08 -.73 .08 -7.62 .09 6.19 .08 -5.71 .09 7.57 .08 -.11 .08 -6.12 .09 1.32 .08 2.40 .08 .36 .09 5.27 .08 -3.70 .08 -3.09 .09 .85 .08 -7.34 .08 7.56 .09 2.51 .08 -3.21 .08 -1.83 .09 3.86 .08 3.46 .08 -4.74 .09 -2.87 .08 7.49 .08 -9.33 .09 5.92 .08 -3.87 .08 4.88 .09 -3.51 .08 7.03 .08 -2.12 .09 -7.10 .08 -.29 .08 2.56 .09 5.26 .08 -6.04 .08 1.31 .09 -.58 .08 4.02 .08 -1.19 .09 -1.28 .08 -5.03 .08 7.14 .09 2.06 .08 -8.37 .08 10.58 .09 -5.95 .08 -4.74 .08 -4.76 .09 8.40 .08 -.76 .08 -3.65 .09 -5.55 .08 11.70 .08 -5.54 .09 1.78 .08 10.66 .08 -3.16 .09 -4.22 .08 -4.81 .08 2.57 .09 -10.25 .08 9.86 .08 -2.46 .09 -3.02 .08 -.89 .08 5.57 .09 -.17 .08 -1.41 .08 3.01 .09 -5.99 .08 -1.62 .09 -2.98 .08 4.42 .08 2.78 .09 -3.78 .08 3.39 .08 -3.29 .09 1.35 .08 -.34 .08 -2.22 .09 9.11 .08 -2.09 .08 -5.23 .09 .64 .08 1.76 .08 -5.14 .09 4.96 .08 -6.39 .08 4.90 .09 -5.30 .08 2.49 .08 -1.31 .09 -.38 .08 2.54 .08 .01 .09 2.17 .08 1.90 .08 4.27 .09 -1.26 .08 -5.32 .08 .04 .09 -4.86 .08 7.70 .08 -4.09 .09 -7.12 .08 7.39 .08 -1.51 .09 -10.56 .08 7.32 .08 4.31 .09 -6.09 .08 3.10 .08 -1.90 .09 6.65 .08 -2.38 .08 9.47 .09 -10.37 .08 6.38 .08 -5.62 .09 -.42 .08 -4.46 .08 -1.61 .09 5.65 .08 5.02 .08 2.42 .09 -1.99 .08 -2.01 .08 -4.71 .09 8.21 .08 -2.83 .08 -8.45 .09 2.92 .08 -3.18 .08 10.23 .09 -4.62 .08 -2.51 .08 2.49 .09 -.05 .08 -5.17 .08 -3.19 .09 2.49 .08 -2.80 .09 9.34 .08 6.64 .08 -14.27 .09 5.80 .08 -.43 .08 -4.39 .09 3.94 .08 -4.71 .08 8.78 .09 -5.44 .08 2.94 .08 2.30 .09 -5.65 .08 -7.00 .08 4.47 .09 6.76 .08 -2.14 .08 1.94 .09 -5.74 .08 3.46 .08 3.99 .09 -2.58 .08 7.75 .08 -9.62 .09 -3.99 .08 -1.16 .08 11.62 .09 -6.13 .08 4.63 .08 -3.56 .09 6.38 .08 -.67 .08 -3.84 .09 3.46 .08 1.19 .08 -9.39 .09 9.25 .08 -1.02 .08 -.17 .09 -5.02 .08 1.70 .08 -7.43 .09 5.48 .08 -2.56 .08 3.38 .09 -1.21 .08 2.61 .08 4.01 .09 -11.07 .08 9.81 .08 -12.02 .09 -1.77 .08 7.74 .08 -1.28 .09 1.37 .08 -8.37 .08 6.92 .09 1.03 .08 4.04 .08 -5.28 .09 .20 .08 -5.03 .08 4.61 .09 .29 .08 6.07 .08 -7.54 .09 .31 .08 5.03 .08 4.42 .09 -5.44 .08 1.52 .09 -5.27 .08 5.57 .08 -1.56 .09 3.84 .08 -4.85 .08 -6.98 .09 1.71 .08 -3.40 .08 .19 .09 10.19 .08 -.34 .08 -8.75 .09 11.88 .08 -6.54 .08 -4.40 .09 6.09 .08 -2.03 .08 -3.21 .09 -4.70 .08 9.90 .08 .21 .09 -11.73 .08 11.69 .08 1.93 .09 -4.26 .08 1.90 .08 -2.17 .09 -4.65 .08 2.86 .08 7.60 .09 -13.75 .08 7.55 .08 1.29 .09 -3.30 .08 1.72 .08 -4.89 .09 3.76 .08 3.60 .08 2.41 .09 -2.67 .08 13.37 .08 -16.49 .09 3.11 .08 -2.49 .08 .96 .09 6.71 .08 -5.40 .08 8.26 .09 -.95 .08 -10.09 .08 9.57 .09 -7.23 .08 15.81 .08 -13.81 .09 -1.88 .08 -4.61 .08 2.18 .09 .16 .08 -1.85 .08 -.52 .09 .52 .08 .47 .08 7.25 .09 -12.40 .08 2.94 .08 -.48 .09 -.61 .08 .77 .08 1.94 .09 7.44 .08 -4.88 .09 -.54 .08 5.27 .08 -3.29 .09 -1.23 .08 3.66 .08 -6.80 .09 7.33 .08 -1.23 .08 -5.50 .09 -4.35 .08 10.86 .08 -4.49 .09 12.02 .08 -15.46 .08 5.05 .09 -4.56 .08 1.77 .08 2.34 .09 -5.12 .08 4.16 .08 .48 .09 -.02 .08 2.87 .08 1.71 .09 .74 .08 -1.02 .08 -3.35 .09 -5.30 .08 1.42 .08 2.62 .09 5.97 .08 -3.41 .08 -3.02 .09 5.91 .08 -6.04 .08 1.00 .09 1.77 .08 3.29 .08 -13.69 .09 3.41 .08 7.97 .08 -1.69 .09 -1.85 .08 2.49 .08 9.57 .09 -5.16 .08 -.34 .08 .08 .09 -4.32 .08 .32 .08 -5.82 .09 -.31 .08 .79 .08 8.87 .09 -2.83 .08 -1.29 .08 -1.80 .09 12.49 .08 -4.86 .08 -4.53 .09 -2.85 .08 -8.51 .08 8.22 .09 -1.93 .08 -6.78 .08 11.83 .09 -.56 .08 -9.05 .08 3.02 .09 1.84 .08 2.61 .09 -.35 .08 -5.31 .08 9.63 .09 -4.47 .08 3.55 .08 -1.22 .09 -5.11 .08 1.59 .08 2.01 .09 -.45 .08 -1.69 .08 1.11 .09 1.24 .08 -3.39 .08 .82 .09 -5.23 .08 7.58 .08 -7.03 .09 2.79 .08 2.08 .08 .38 .09 6.24 .08 -6.50 .08 -5.31 .09 5.74 .08 -2.74 .08 4.20 .09 -3.56 .08 .03 .08 2.20 .09 -.44 .08 -5.66 .08 6.37 .09 2.07 .08 5.95 .08 -7.56 .09 .12 .08 5.18 .08 .57 .09 3.06 .08 -5.16 .08 -3.30 .09 4.66 .08 -.45 .08 -7.94 .09 1.58 .08 -7.26 .08 5.84 .09 -3.44 .08 3.51 .08 .45 .09 .33 .08 -.35 .08 2.81 .09 -.54 .08 -1.41 .08 -4.89 .09 9.57 .08 2.70 .08 -6.68 .09 5.58 .08 -5.54 .08 -1.77 .09 5.67 .08 5.87 .08 -9.75 .09 -.16 .08 7.98 .08 -13.54 .09 8.82 .08 .60 .09 -1.20 .08 .47 .08 8.77 .09 -12.80 .08 -.16 .08 1.41 .09 -2.82 .08 -3.09 .08 11.57 .09 -2.65 .08 -8.22 .08 2.73 .09 3.04 .08 -.10 .08 -6.12 .09 4.14 .08 .02 .08 3.19 .09 -.35 .08 -7.92 .08 13.54 .09 -5.76 .08 6.55 .08 4.10 .09 -9.26 .08 -4.45 .08 7.25 .09 -5.40 .08 -2.18 .08 -1.36 .09 8.82 .08 -5.19 .08 -3.47 .09 1.26 .08 -1.76 .08 4.23 .09 -1.34 .08 -3.01 .08 4.92 .09 -3.35 .08 5.43 .08 2.19 .09 -4.38 .08 -2.54 .08 2.63 .09 2.58 .08 -1.73 .08 .54 .09 -.94 .08 .85 .08 .85 .09 -5.47 .08 1.07 .08 2.64 .09 -1.47 .08 .48 .08 1.54 .09 -2.88 .08 -.15 .08 .16 .09 8.35 .08 -3.44 .08 -7.89 .09 .34 .08 8.58 .08 -1.97 .09 -4.40 .08 5.71 .09 -9.17 .08 5.60 .08 .70 .09 -7.12 .08 4.57 .08 5.41 .09 2.27 .08 -3.87 .08 .73 .09 4.21 .08 -5.83 .08 -2.79 .09 5.28 .08 -1.35 .08 6.01 .09 -3.09 .08 -3.66 .08 10.05 .09 -10.51 .08 3.15 .08 .59 .09 -.02 .08 -2.53 .08 2.33 .09 -2.40 .08 -2.13 .08 4.50 .09 .03 .08 -1.32 .08 1.50 .09 -2.86 .08 5.93 .08 -.67 .09 -11.55 .08 7.29 .08 -2.96 .09 -6.83 .08 9.72 .08 -4.49 .09 .74 .08 1.07 .08 5.07 .09 3.13 .08 -4.97 .08 2.54 .09 -1.76 .08 1.59 .08 -2.96 .09 .26 .08 -1.31 .08 4.40 .09 1.04 .08 -4.59 .08 4.37 .09 4.03 .08 -16.08 .08 8.66 .09 -.67 .08 .34 .08 -4.05 .09 6.39 .08 -.38 .08 -2.16 .09 -.25 .08 -.95 .08 -7.55 .09 13.75 .08 -4.41 .08 -2.93 .09 4.56 .08 -5.33 .09 -4.94 .08 10.00 .08 -10.13 .09 5.00 .08 2.25 .08 3.11 .09 -.03 .08 -4.52 .08 -2.12 .09 -.15 .08 6.93 .08 3.67 .09 -3.18 .08 -2.19 .08 5.47 .09 -5.20 .08 .19 .08 -.50 .09 .74 .08 -2.08 .08 1.80 .09 2.11 .08 -2.89 .08 -9.84 .09 3.44 .08 7.04 .08 1.63 .09 7.38 .08 -9.11 .08 1.05 .09 3.11 .08 .24 .08 -3.56 .09 2.41 .08 -5.25 .08 -.45 .09 7.29 .08 -8.75 .08 7.50 .09 -1.34 .08 .37 .08 2.39 .09 .02 .08 -10.14 .08 3.52 .09 .16 .08 6.75 .08 -7.35 .09 2.07 .08 -1.03 .08 6.82 .09 -9.99 .08 .88 .08 7.83 .09 -10.45 .08 7.89 .08 -2.29 .09 -5.79 .08 5.79 .08 -2.08 .09 2.52 .08 2.18 .08 4.76 .09 -4.19 .08 .69 .08 -2.79 .09 1.08 .08 2.01 .08 -9.97 .09 9.56 .08 -5.19 .09 2.63 .08 -.46 .08 3.06 .09 -2.33 .08 -2.27 .08 1.38 .09 -.02 .08 -.89 .08 .53 .09 2.76 .08 -3.03 .08 1.17 .09 -7.26 .08 2.99 .08 -3.47 .09 8.39 .08 -5.44 .08 7.32 .09 6.26 .08 -9.26 .08 3.10 .09 -2.77 .08 -3.60 .08 -1.18 .09 3.99 .08 2.01 .08 -1.85 .09 -6.34 .08 .04 .08 3.11 .09 4.36 .08 -.13 .08 .11 .09 .66 .08 -4.03 .08 1.01 .09 -.30 .08 -6.17 .08 7.51 .09 -.53 .08 -.31 .08 -6.11 .09 3.92 .08 6.79 .08 -2.21 .09 1.77 .08 -9.35 .08 2.46 .09 -4.62 .08 5.32 .08 -.97 .09 3.83 .08 5.23 .08 -1.42 .09 -13.81 .08 10.57 .08 -.17 .09 -6.19 .08 1.68 .08 .88 .09 4.10 .08 -6.12 .08 -4.29 .09 10.66 .08 -1.09 .08 8.63 .09 -14.99 .08 14.40 .08 -4.68 .09 -4.56 .08 3.57 .09 -7.99 .08 6.86 .08 -9.16 .09 4.46 .08 -3.11 .08 -2.85 .09 3.98 .08 -.34 .08 3.97 .09 6.27 .08 -3.74 .08 -1.58 .09 .90 .08 -9.72 .08 8.96 .09 -1.69 .08 -1.66 .08 -3.55 .09 -6.05 .08 8.67 .08 2.66 .09 3.77 .08 .91 .08 1.61 .09 -5.08 .08 3.41 .08 -5.97 .09 5.19 .08 .82 .08 3.66 .09 -13.76 .08 -6.09 .08 11.49 .09 -7.90 .08 2.75 .08 -.51 .09 .66 .08 8.47 .08 -1.01 .09 -4.85 .08 5.11 .08 -1.03 .09 4.20 .08 -3.02 .08 -1.87 .09 -1.45 .08 1.63 .08 3.67 .09 -5.48 .08 3.77 .08 1.54 .09 8.50 .08 -6.64 .08 -18.13 .09 10.66 .08 3.19 .08 4.04 .09 6.92 .08 -4.18 .08 -13.78 .09 9.27 .08 -.42 .08 2.76 .09 4.80 .08 -9.62 .08 7.90 .09 -11.52 .08 5.87 .08 2.58 .09 8.48 .08 -13.49 .09 -3.95 .08 6.80 .08 -3.93 .09 8.38 .08 -9.31 .08 .60 .09 9.76 .08 -5.69 .08 5.97 .09 -7.68 .08 13.50 .08 -8.59 .09 4.51 .08 -6.59 .08 -4.52 .09 3.23 .08 1.88 .08 5.89 .09 -6.21 .08 3.92 .08 -2.54 .09 7.36 .08 -15.52 .08 11.13 .09 -4.66 .08 1.87 .08 -3.32 .09 7.30 .08 -9.58 .08 -.49 .09 3.99 .08 -5.97 .08 8.99 .09 .31 .08 -6.02 .08 6.68 .09 -4.56 .08 1.01 .08 1.16 .09 8.10 .08 -8.00 .08 -3.96 .09 -.05 .08 6.81 .08 -11.60 .09 3.55 .08 2.39 .08 -8.95 .09 6.68 .08 6.47 .08 -1.96 .09 -4.70 .08 5.19 .08 .29 .09 7.04 .08 -12.81 .08 2.86 .09 -.53 .08 .62 .08 .47 .09 -.85 .08 -1.18 .08 -1.83 .09 6.02 .08 -2.59 .08 .91 .09 -.87 .08 3.05 .08 1.22 .09 -8.28 .08 5.82 .09 1.37 .08 -1.22 .08 -7.04 .09 -4.00 .08 10.71 .08 -.28 .09 -1.30 .08 -3.43 .08 10.41 .09 -.36 .08 -6.54 .08 -2.49 .09 -7.68 .08 10.65 .08 -9.40 .09 9.34 .08 1.45 .08 -2.67 .09 7.50 .08 -9.02 .08 3.92 .09 .24 .08 -1.25 .08 -3.22 .09 5.21 .08 -3.48 .08 -3.59 .09 -1.11 .08 2.52 .08 7.56 .09 -6.70 .08 1.48 .08 -4.63 .09 -.18 .08 -3.49 .08 5.29 .09 -.80 .08 -2.18 .08 -3.66 .09 4.29 .08 -.94 .08 -4.83 .09 7.16 .08 -.56 .08 .17 .09 3.19 .08 -7.31 .08 8.33 .09 -8.22 .08 5.59 .08 1.21 .09 -2.99 .08 -.60 .08 -5.24 .09 -3.32 .08 4.19 .08 -1.37 .09 4.69 .08 -2.44 .08 4.59 .09 -2.29 .08 1.57 .08 1.88 .09 -.68 .08 -2.70 .08 7.77 .09 -15.07 .08 9.23 .09 3.95 .08 -3.51 .08 3.75 .09 -2.61 .08 -6.21 .08 3.18 .09 -5.11 .08 10.19 .08 1.51 .09 -8.72 .08 1.60 .08 -3.37 .09 -4.83 .08 4.23 .08 -4.82 .09 3.42 .08 4.57 .08 3.82 .09 2.91 .08 -8.14 .08 2.58 .09 1.62 .08 .09 .08 -13.87 .09 6.51 .08 6.60 .08 -6.12 .09 6.88 .08 1.72 .08 -12.12 .09 9.97 .08 2.33 .08 -3.11 .09 -6.92 .08 -7.90 .08 9.86 .09 4.40 .08 -.26 .08 -1.07 .09 3.71 .08 -6.35 .08 .60 .09 -6.08 .08 6.49 .08 6.18 .09 -1.16 .08 -1.07 .08 -2.70 .09 0 .08 4.91 .08 -7.70 .09 13.38 .08 -11.49 .08 12.46 .09 -1.45 .08 -9.95 .08 6.08 .09 -1.37 .08 -.26 .08 -.14 .09 -5.37 .08 -.68 .08 2.14 .09 -5.01 .08 6.43 .08 .96 .09 2.30 .08 .44 .08 -1.63 .09 3.61 .08 -12.80 .09 6.58 .08 1.70 .08 3.77 .09 -2.16 .08 .44 .08 -2.61 .09 3.87 .08 -8.17 .08 2.86 .09 -9.41 .08 15.17 .08 1.71 .09 -8.89 .08 .12 .08 -6.94 .09 2.75 .08 7.72 .08 -2.38 .09 -5.81 .08 3.95 .08 .13 .09 5.46 .08 -.65 .08 -2.78 .09 2.01 .08 .07 .08 -9.73 .09 9.58 .08 .90 .08 4.64 .09 -12.13 .08 12.69 .08 -7.11 .09 2.18 .08 5.42 .08 -11.19 .09 3.31 .08 8.28 .08 -9.51 .09 1.13 .08 6.21 .08 -4.55 .09 3.80 .08 -2.31 .08 -1.60 .09 4.08 .08 2.93 .08 -8.07 .09 5.89 .08 -1.59 .08 -5.18 .09 1.63 .08 -4.24 .08 3.03 .09 3.79 .08 -1.64 .08 4.66 .09 -11.67 .08 4.61 .08 -1.80 .09 .71 .08 6.06 .08 -11.45 .09 12.21 .08 -6.14 .08 0 .09 6.29 .08 -6.82 .08 3.85 .09 -.13 .08 .09 .09 -3.23 .08 -7.72 .08 3.82 .09 7.47 .08 -.28 .08 -7.49 .09 9.82 .08 -.19 .08 -7.49 .09 -2.08 .08 5.60 .08 -12.23 .09 3.64 .08 2.85 .08 -1.19 .09 .58 .08 3.94 .08 -3.07 .09 1.46 .08 11.75 .08 -16.93 .09 6.22 .08 5.04 .08 -4.50 .09 7.80 .08 -5.18 .08 -.79 .09 -12.56 .08 16.11 .08 -2.70 .09 -8.18 .08 10.21 .08 -3.74 .09 .53 .08 2.96 .08 -7.56 .09 -3.90 .08 3.33 .08 -4.63 .09 1.89 .08 -1.52 .08 1.31 .09 7.97 .08 -2.08 .08 -5.59 .09 10.66 .08 -13.61 .08 4.14 .09 2.88 .08 4.79 .08 -2.77 .09 1.60 .08 1.95 .08 -2.78 .09 1.46 .08 -6.79 .08 -6.46 .09 4.18 .08 4.79 .08 -1.26 .09 3.15 .08 .65 .08 -1.12 .09 .14 .08 -5.87 .08 6.01 .09 -8.40 .08 3.26 .08 -4.18 .09 8.65 .08 -9.34 .09 10.92 .08 -10.23 .08 6.47 .09 -1.64 .08 -1.90 .08 7.90 .09 -8.53 .08 9.46 .08 -11.10 .09 3.25 .08 -4.51 .08 9.98 .09 -.67 .08 -2.11 .08 -1.66 .09 -3.82 .08 13.60 .08 -5.19 .09 -8.69 .08 3.93 .08 -9.82 .09 18.05 .08 1.92 .08 -1.35 .09 -6.99 .08 -1.87 .08 -2.42 .09 5.51 .08 -5.73 .08 1.94 .09 .74 .08 .40 .08 5.33 .09 1.74 .08 -7.31 .08 .65 .09 -5.44 .08 .03 .08 .30 .09 8.50 .08 -3.75 .08 1.61 .09 -2.91 .08 -2.30 .08 -.79 .09 4.56 .08 -3.77 .08 12.65 .09 -5.06 .08 -2.82 .08 9.80 .09 -7.72 .08 3.56 .08 -2.92 .09 1.74 .08 -3.34 .08 3.10 .09 2.05 .08 -10.79 .08 -1.46 .09 12.65 .08 -6.35 .08 4.48 .09 -2.76 .08 6.70 .08 -.82 .09 -8.55 .08 7.31 .08 -3.88 .09 -4.65 .08 4.59 .09 2.28 .08 -7.40 .08 -1.10 .09 8.26 .08 -4.38 .08 1.80 .09 -4.00 .08 2.32 .08 .62 .09 1.74 .08 -1.73 .08 5.94 .09 -4.91 .08 -5.53 .08 1.91 .09 1.94 .08 6.74 .08 -9.29 .09 .70 .08 3.32 .08 -2.11 .09 -.21 .08 1.21 .08 3.28 .09 -.54 .08 -2.50 .08 2.93 .09 -4.75 .08 5.78 .08 -1.56 .09 -1.62 .08 -5.68 .08 13.55 .09 -17.75 .08 6.69 .08 .51 .09 5.69 .08 -5.55 .08 4.94 .09 -1.09 .08 -2.92 .08 4.45 .09 2.60 .08 -2.39 .08 -2.75 .09 -7.28 .08 11.97 .08 -6.06 .09 -2.23 .08 4.94 .08 2.98 .09 -4.69 .08 -4.07 .08 13.95 .09 -7.17 .08 1.41 .08 1.86 .09 -12.84 .08 5.49 .08 -.29 .09 8.89 .08 -8.60 .08 -.73 .09 1.24 .08 2.75 .08 1.63 .09 .84 .08 1.37 .09 6.28 .08 -4.85 .08 1.74 .09 .86 .08 -2.24 .08 -5.04 .09 -2.22 .08 8.01 .08 -4.39 .09 7.23 .08 -9.45 .08 -2.60 .09 9.15 .08 3.53 .08 -3.92 .09 .25 .08 -2.29 .08 6.34 .09 -6.86 .08 -2.06 .08 -1.27 .09 -5.77 .08 11.30 .08 -1.15 .09 -8.78 .08 4.70 .08 -.64 .09 -2.39 .08 .86 .08 2.42 .09 -6.41 .08 1.44 .08 1.31 .09 2.02 .08 -1.30 .08 1.30 .09 .57 .08 -4.71 .08 4.82 .09 -2.63 .08 8.17 .08 -12.19 .09 4.98 .08 3.25 .08 -3.47 .09 -1.26 .08 -1.23 .08 3.73 .09 -6.56 .08 5.18 .08 -.52 .09 -4.27 .08 4.95 .08 -4.25 .09 4.15 .08 3.03 .08 -1.94 .09 -4.79 .08 5.18 .08 -6.39 .09 2.82 .08 7.36 .08 -4.76 .09 4.17 .08 -3.73 .08 -.15 .09 -5.59 .08 7.05 .08 -4.09 .09 3.05 .08 -.17 .09 -.57 .08 -3.11 .08 -1.75 .09 1.26 .08 -.90 .08 -7.55 .09 10.12 .08 7.41 .08 -5.33 .09 6.89 .08 -7.91 .08 -5.43 .09 -.63 .08 8.58 .08 -.85 .09 -2.31 .08 2.46 .08 -8.25 .09 5.11 .08 -3.44 .08 1.85 .09 1.89 .08 -2.71 .08 6.94 .09 1.58 .08 -9.14 .08 11.29 .09 -15.12 .08 5.54 .08 2.76 .09 -9.52 .08 12.92 .08 .68 .09 -4.84 .08 -1.04 .08 .54 .09 -3.90 .08 5.51 .08 -4.79 .09 -.29 .08 1.04 .08 2.02 .09 1.63 .08 -9.49 .08 -5.35 .09 9.63 .08 1.00 .08 -.77 .09 4.12 .08 2.99 .08 -3.04 .09 4.08 .08 -8.68 .08 4.91 .09 8.98 .08 -4.92 .08 -8.50 .09 4.89 .08 3.01 .08 4.77 .09 -5.10 .08 3.10 .08 -10.39 .09 2.80 .08 5.02 .08 -8.76 .09 3.52 .08 -5.25 .08 13.05 .09 -5.00 .08 2.52 .09 -10.63 .08 -.67 .08 12.66 .09 -6.42 .08 -.67 .08 2.42 .09 .88 .08 -9.71 .08 4.97 .09 5.18 .08 .06 .08 .42 .09 -4.19 .08 .57 .08 2.31 .09 -2.70 .08 -.93 .08 .64 .09 3.20 .08 .57 .08 -1.04 .09 -.52 .08 .61 .08 4.34 .09 -1.61 .08 -6.88 .08 10.04 .09 -11.39 .08 8.15 .08 -3.08 .09 5.99 .08 -.78 .08 -10.49 .09 9.27 .08 -2.87 .08 -1.06 .09 2.73 .08 -3.25 .08 1.53 .09 -3.17 .08 8.32 .08 .01 .09 3.14 .08 -5.66 .08 8.38 .09 .62 .08 -8.16 .08 -.90 .09 -3.43 .08 5.61 .08 3.78 .09 -6.40 .08 -6.42 .08 11.96 .09 -1.83 .08 2.49 .08 1.32 .09 -7.87 .08 1.78 .08 -1.34 .09 3.21 .08 2.60 .08 -6.34 .09 -1.90 .08 7.30 .08 -.08 .09 -4.41 .08 -5.72 .08 3.12 .09 4.48 .08 2.15 .09 -6.97 .08 3.38 .08 -4.26 .09 .69 .08 4.23 .08 -1.24 .09 .37 .08 3.82 .08 .55 .09 -7.36 .08 -.20 .08 -4.42 .09 -.53 .08 7.62 .08 -.81 .09 -4.59 .08 9.87 .08 -6.70 .09 2.81 .08 1.53 .08 -1.16 .09 -1.13 .08 -8.11 .08 10.93 .09 -4.28 .08 -3.53 .08 -3.70 .09 14.06 .08 -4.13 .08 -.03 .09 3.25 .08 -3.73 .08 -7.18 .09 7.05 .08 .70 .08 -2.20 .09 4.62 .08 4.09 .08 -11.65 .09 .65 .08 4.96 .08 -3.42 .09 -.11 .08 4.38 .08 1.13 .09 -5.55 .08 2.20 .08 -2.03 .09 2.17 .08 -4.02 .08 -3.00 .09 5.31 .08 -1.32 .08 6.43 .09 1.76 .08 -6.44 .08 2.31 .09 -5.57 .08 .13 .08 1.68 .09 -.91 .08 3.39 .08 .30 .09 7.07 .08 -5.91 .08 -7.32 .09 6.35 .08 -4.31 .08 2.76 .09 5.05 .08 -6.31 .09 2.51 .08 2.72 .08 -6.28 .09 6.00 .08 -.27 .08 1.88 .09 .25 .08 -3.10 .08 2.12 .09 -7.62 .08 -4.25 .08 5.37 .09 8.33 .08 -3.33 .08 -8.77 .09 6.91 .08 3.40 .08 -8.02 .09 9.97 .08 -6.54 .08 8.72 .09 -4.08 .08 11.44 .08 -16.09 .09 2.98 .08 -5.58 .08 10.04 .09 -3.78 .08 2.68 .08 -3.96 .09 -3.93 .08 .59 .08 -3.05 .09 .13 .08 7.27 .08 3.63 .09 -.78 .08 -2.93 .08 -3.57 .09 5.47 .08 -6.52 .08 4.51 .09 2.91 .08 -3.06 .08 .01 .09 2.16 .08 3.20 .08 -4.11 .09 -5.47 .08 4.86 .08 -2.93 .09 10.08 .08 -5.24 .08 -6.35 .09 6.08 .08 1.69 .08 -1.37 .09 -2.99 .08 1.53 .08 .30 .09 4.03 .08 -3.56 .08 7.05 .09 -9.44 .08 7.57 .08 -6.65 .09 -6.83 .08 1.31 .08 -1.39 .09 .92 .08 10.86 .09 -7.05 .08 6.78 .08 -6.01 .09 .26 .08 -5.45 .08 5.72 .09 -3.88 .08 -1.82 .08 1.88 .09 7.37 .08 -5.41 .08 1.30 .09 -6.20 .08 2.55 .08 2.46 .09 -5.23 .08 9.76 .08 -4.18 .09 -2.30 .08 .95 .08 1.00 .09 -1.22 .08 3.79 .08 -1.06 .09 3.97 .08 -6.58 .08 -1.52 .09 8.39 .08 -9.09 .08 .52 .09 4.30 .08 .66 .08 -7.28 .09 1.67 .08 1.99 .08 -.28 .09 -3.91 .08 4.53 .08 -2.79 .09 2.58 .08 -5.82 .08 9.76 .09 -6.78 .08 6.74 .08 -.92 .09 -4.22 .08 -.21 .08 1.57 .09 -1.63 .08 1.16 .08 .82 .09 -1.86 .08 -1.77 .08 9.32 .09 -2.93 .08 -3.08 .08 1.47 .09 -3.89 .08 1.30 .08 3.86 .09 2.42 .08 -2.93 .08 -7.00 .09 6.76 .08 -2.40 .08 2.99 .09 -5.31 .08 -.06 .09 2.04 .08 -1.55 .08 .32 .09 2.99 .08 4.92 .08 -4.09 .09 4.15 .08 -8.41 .08 6.65 .09 -1.68 .08 -3.94 .08 3.07 .09 -1.94 .08 .36 .08 -1.96 .09 7.69 .08 -5.34 .08 -2.60 .09 5.20 .08 2.18 .08 -2.37 .09 3.46 .08 -5.81 .08 1.20 .09 6.76 .08 -5.88 .08 2.36 .09 -1.53 .08 1.31 .08 -1.97 .09 -.43 .08 3.35 .08 -5.49 .09 3.38 .08 .50 .08 -2.45 .09 -2.84 .08 6.47 .08 -.32 .09 -3.74 .08 -5.70 .08 9.48 .09 3.03 .08 -11.46 .08 -3.65 .09 7.03 .08 1.83 .08 1.97 .09 -1.08 .08 .26 .08 .84 .09 -2.06 .08 -1.74 .08 2.48 .09 .94 .08 3.59 .08 -2.32 .09 -2.54 .08 5.61 .08 -5.88 .09 -.14 .08 2.47 .08 -6.41 .09 4.31 .08 3.55 .08 .06 .09 -8.90 .08 1.66 .08 -.73 .09 5.42 .08 -.58 .09 -5.95 .08 9.33 .08 -3.21 .09 1.18 .08 -2.89 .08 2.81 .09 -6.30 .08 8.68 .08 -4.53 .09 -1.24 .08 -6.14 .08 10.76 .09 -.26 .08 -10.81 .08 12.07 .09 -.31 .08 -10.45 .08 12.88 .09 -.19 .08 2.00 .08 -2.03 .09 -3.86 .08 1.58 .08 2.75 .09 1.44 .08 -7.82 .08 -.85 .09 2.80 .08 -8.81 .08 9.74 .09 -2.39 .08 -6.44 .08 11.15 .09 -7.71 .08 5.78 .08 2.13 .09 -8.24 .08 -.42 .08 3.99 .09 -5.62 .08 9.46 .08 -1.94 .09 3.26 .08 -8.54 .08 6.62 .09 .08 .08 -6.35 .08 8.27 .09 -10.69 .08 7.16 .08 -6.08 .09 7.86 .08 3.56 .08 -7.33 .09 .87 .08 3.32 .08 -4.91 .09 3.23 .08 1.69 .08 -.16 .09 4.02 .08 .48 .08 1.86 .09 -9.59 .08 2.04 .08 -5.27 .09 5.77 .08 3.71 .08 .90 .09 -12.96 .08 1.72 .09 4.52 .08 -4.05 .08 4.36 .09 .94 .08 -4.24 .08 .57 .09 -1.71 .08 3.53 .08 4.32 .09 -5.33 .08 11.42 .08 -16.66 .09 1.35 .08 5.59 .08 -6.92 .09 6.65 .08 .44 .08 .16 .09 .14 .08 2.61 .08 .52 .09 .10 .08 -.85 .08 -5.18 .09 -1.13 .08 2.94 .08 1.69 .09 -1.00 .08 4.01 .08 -2.00 .09 .80 .08 -3.27 .08 -3.97 .09 5.97 .08 -.86 .08 -4.58 .09 1.05 .08 13.74 .08 -22.95 .09 16.56 .08 -4.32 .08 1.33 .09 .22 .08 -.86 .08 10.32 .09 -11.45 .08 -.89 .08 4.90 .09 -1.56 .08 -3.83 .08 -.19 .09 -4.83 .08 7.50 .08 -6.73 .09 -4.08 .08 12.38 .08 -1.15 .09 -2.15 .08 -2.62 .08 6.46 .09 -8.13 .08 -.79 .08 7.68 .09 2.26 .08 -1.70 .08 5.08 .09 -4.25 .08 -3.06 .08 -3.44 .09 5.87 .08 -2.52 .09 .08 .08 -7.09 .08 3.46 .09 -4.16 .08 7.18 .08 .83 .09 2.23 .08 4.86 .08 -8.35 .09 4.81 .08 -7.48 .08 5.96 .09 3.48 .08 4.48 .08 -11.95 .09 -.08 .08 1.44 .08 .69 .09 -3.55 .08 -1.71 .08 2.02 .09 2.84 .08 -4.07 .08 11.54 .09 -3.87 .08 -10.11 .08 3.93 .09 7.60 .08 1.12 .08 -2.25 .09 -10.53 .08 4.89 .08 6.63 .09 -2.94 .08 -2.24 .08 3.94 .09 1.65 .08 -2.41 .08 -1.33 .09 .78 .08 -5.16 .08 -1.37 .09 5.85 .08 -5.14 .08 4.52 .09 -4.80 .08 7.37 .08 -8.11 .09 8.40 .08 -2.76 .08 -2.74 .09 -4.11 .08 1.69 .08 -1.31 .09 .17 .08 7.41 .08 -1.09 .09 3.45 .08 -9.15 .08 -.76 .09 1.97 .08 7.76 .08 -.25 .09 -9.76 .08 9.21 .08 -7.60 .09 -1.47 .08 5.78 .08 2.96 .09 -3.03 .08 -2.15 .09 -4.10 .08 -2.43 .08 6.64 .09 -5.23 .08 8.84 .08 -6.60 .09 10.18 .08 -13.71 .08 13.93 .09 -9.04 .08 -3.40 .08 5.34 .09 3.53 .08 -2.77 .08 -.71 .09 8.55 .08 -6.14 .08 -6.43 .09 2.89 .08 9.82 .08 -7.11 .09 2.15 .08 4.32 .08 -11.85 .09 5.96 .08 -3.77 .08 1.59 .09 1.16 .08 -7.24 .08 7.97 .09 .01 .08 2.17 .08 -6.13 .09 -3.47 .08 7.33 .08 -5.34 .09 5.84 .08 1.56 .08 -5.82 .09 1.06 .08 -3.09 .08 -5.58 .09 3.30 .08 -1.13 .08 7.29 .09 -4.90 .08 3.09 .08 1.59 .09 4.41 .08 -5.21 .08 -1.46 .09 5.69 .08 2.86 .08 -4.89 .09 2.79 .08 -1.83 .08 -4.18 .09 -3.34 .08 4.61 .08 1.28 .09 .03 .08 8.79 .08 -9.12 .09 2.53 .08 -1.74 .08 7.91 .09 -5.85 .08 8.77 .08 -8.55 .09 3.46 .08 -1.41 .09 -5.69 .08 3.33 .08 -2.27 .09 -6.86 .08 -1.52 .08 4.52 .09 7.17 .08 -8.53 .08 4.50 .09 -3.86 .08 5.98 .08 -4.32 .09 1.95 .08 3.60 .08 -4.17 .09 .24 .08 5.54 .08 -2.78 .09 -2.31 .08 -4.95 .08 4.06 .09 8.53 .08 -4.63 .08 -1.36 .09 1.83 .08 -1.03 .08 2.66 .09 -5.87 .08 -2.56 .08 -3.15 .09 3.70 .08 1.73 .08 3.76 .09 -1.10 .08 -4.16 .08 4.86 .09 -10.20 .08 1.72 .08 1.63 .09 1.09 .08 4.45 .08 -3.27 .09 -.84 .08 7.38 .08 -12.17 .09 3.23 .08 4.83 .08 1.57 .09 .71 .08 -4.85 .08 .31 .09 1.52 .08 2.86 .08 -4.95 .09 -6.54 .08 10.38 .08 -3.50 .09 1.88 .08 6.42 .08 -5.66 .09 8.82 .08 -14.33 .08 6.79 .09 1.01 .08 3.67 .08 -7.85 .09 1.99 .08 -1.17 .09 1.30 .08 -8.36 .08 -2.46 .09 9.09 .08 -1.24 .08 -.69 .09 2.19 .08 -.05 .08 -5.10 .09 9.44 .08 2.47 .08 -2.74 .09 -2.55 .08 -1.60 .08 -9.47 .09 5.13 .08 7.33 .08 4.18 .09 -4.34 .08 -4.67 .08 2.67 .09 4.73 .08 2.88 .08 -5.85 .09 -3.93 .08 3.79 .08 -.41 .09 7.11 .08 -5.71 .08 .40 .09 -3.84 .08 -6.05 .08 2.17 .09 2.95 .08 -1.48 .08 2.55 .09 -2.26 .08 3.98 .08 4.62 .09 -4.11 .08 1.65 .08 -10.25 .09 9.78 .08 1.49 .08 -3.64 .09 -.04 .08 .24 .08 4.70 .09 -.40 .08 .95 .08 -11.77 .09 17.53 .08 -15.60 .08 -.11 .09 5.18 .08 -4.20 .08 11.75 .09 -10.02 .08 -2.05 .08 6.54 .09 -1.09 .08 -9.78 .08 3.24 .09 1.62 .08 1.21 .08 10.49 .09 -2.08 .08 -.88 .08 1.62 .09 -5.27 .08 5.11 .09 -5.54 .08 -3.16 .08 10.37 .09 -15.76 .08 7.56 .08 -1.29 .09 -3.04 .08 4.85 .08 1.35 .09 1.57 .08 -4.53 .08 6.97 .09 -.47 .08 3.60 .08 -11.85 .09 4.04 .08 -2.20 .08 3.99 .09 -6.68 .08 2.21 .08 -4.04 .09 .34 .08 .27 .08 6.88 .09 -6.84 .08 -8.10 .08 13.78 .09 -5.36 .08 5.21 .08 .27 .09 -3.38 .08 -.77 .08 -1.61 .09 2.07 .08 -1.28 .08 5.05 .09 7.42 .08 -8.36 .08 -.32 .09 -.93 .08 4.08 .08 1.31 .09 1.82 .08 -4.06 .08 -3.72 .09 1.97 .08 -3.39 .08 6.09 .09 -4.78 .08 6.83 .08 -1.69 .09 -9.87 .08 .35 .08 6.98 .09 -12.51 .08 3.47 .08 6.06 .09 -.21 .08 -1.75 .08 6.70 .09 -18.66 .08 13.41 .08 -3.81 .09 -2.92 .08 2.19 .08 -1.92 .09 2.37 .08 -10.97 .08 10.79 .09 .18 .08 1.16 .09 .50 .08 -3.99 .08 6.28 .09 .16 .08 1.99 .08 2.23 .09 -2.01 .08 -4.02 .08 -5.96 .09 5.29 .08 5.09 .08 -.58 .09 -4.95 .08 3.54 .08 3.38 .09 -5.13 .08 5.26 .08 -9.27 .09 5.29 .08 1.00 .08 -3.70 .09 2.13 .08 2.34 .08 -10.41 .09 8.49 .08 1.26 .08 -2.13 .09 3.36 .08 -9.28 .08 4.37 .09 .51 .08 -3.01 .08 5.01 .09 -2.55 .08 -3.19" fill="none" stroke="#000" stroke-width="0.8" stroke-linejoin="round"/>
<path d="M265.00 120.00l.08 -4.11 .09 .98 .08 -2.89 .08 -1.56 .09 -.47 .08 -4.50 .08 3.58 .09 -2.54 .08 11.49 .08 -11.74 .09 -1.97 .08 .29 .08 -1.73 .09 -1.41 .08 .96 .08 3.47 .09 -3.00 .08 1.91 .08 -2.89 .09 .29 .08 4.12 .08 -1.21 .09 -2.95 .08 .85 .08 3.55 .09 1.96 .08 -5.37 .08 .86 .09 4.03 .08 -3.54 .08 .16 .09 2.96 .08 -1.31 .08 -1.93 .09 .74 .08 -9.97 .09 10.32 .08 -4.24 .08 -2.64 .09 5.73 .08 .65 .08 -3.57 .09 -3.37 .08 4.41 .08 .72 .09 3.57 .08 -1.81 .08 -2.22 .09 3.14 .08 -3.16 .08 -1.22 .09 4.00 .08 -1.12 .08 -2.96 .09 -.58 .08 1.55 .08 -6.10 .09 9.16 .08 -1.39 .08 -4.51 .09 4.48 .08 -2.06 .08 3.85 .09 -6.95 .08 3.29 .08 5.57 .09 1.38 .08 -8.38 .08 2.81 .09 2.35 .08 -2.97 .08 5.62 .09 -6.73 .08 4.72 .08 -3.23 .09 6.14 .08 -3.84 .08 .07 .09 -4.45 .08 8.56 .08 -1.31 .09 -.45 .08 1.46 .08 -1.57 .09 -1.32 .08 -.17 .08 -2.01 .09 5.30 .08 -7.07 .08 2.69 .09 .73 .08 2.61 .08 1.19 .09 -6.18 .08 -1.95 .08 2.69 .09 4.84 .08 -1.31 .08 -1.48 .09 -2.57 .08 1.54 .08 -.68 .09 2.55 .08 -4.17 .08 2.10 .09 1.27 .08 1.07 .09 -1.95 .08 5.77 .08 -2.61 .09 .24 .08 -8.87 .08 3.67 .09 -.42 .08 3.56 .08 -8.02 .09 10.75 .08 1.03 .08 -7.81 .09 .62 .08 1.39 .08 3.10 .09 2.59 .08 1.47 .08 -6.63 .09 2.16 .08 -.90 .08 3.21 .09 -1.97 .08 2.01 .08 -5.54 .09 1.04 .08 -1.25 .08 5.85 .09 -2.38 .08 -1.26 .08 -.76 .09 3.35 .08 -3.70 .08 .62 .09 4.28 .08 3.54 .08 -6.64 .09 -.81 .08 -2.51 .08 .18 .09 4.75 .08 -.12 .08 -1.95 .09 1.41 .08 -.83 .08 -.59 .09 -2.68 .08 1.53 .08 1.59 .09 -1.36 .08 1.05 .08 -2.51 .09 .98 .08 2.80 .08 -2.98 .09 1.17 .08 2.62 .08 -.41 .09 2.51 .08 -8.13 .08 7.40 .09 -4.88 .08 3.00 .08 .82 .09 .93 .08 -1.55 .08 -2.30 .09 2.54 .08 -3.17 .08 1.01 .09 2.00 .08 -3.26 .09 6.33 .08 -3.34 .08 2.26 .09 -5.34 .08 .03 .08 1.30 .09 .40 .08 -2.54 .08 2.71 .09 .08 .08 3.12 .08 -5.11 .09 5.38 .08 -4.71 .08 -1.35 .09 .78 .08 -1.77 .08 3.10 .09 1.67 .08 -2.64 .08 1.95 .09 2.12 .08 -4.05 .08 -.20 .09 -1.06 .08 -2.89 .08 6.66 .09 -5.01 .08 4.59 .08 -1.97 .09 1.40 .08 -2.52 .08 -1.32 .09 2.52 .08 -2.94 .08 .45 .09 -.23 .08 .65 .08 1.73 .09 -2.77 .08 3.13 .08 -5.48 .09 3.87 .08 -2.15 .08 6.78 .09 .57 .08 -9.07 .08 6.91 .09 -1.41 .08 -2.24 .08 4.49 .09 -3.89 .08 -5.30 .08 2.90 .09 .57 .08 1.53 .08 -4.97 .09 5.12 .08 2.28 .08 -6.76 .09 2.21 .08 2.16 .08 -.61 .09 5.10 .08 -3.89 .08 -4.71 .09 2.14 .08 1.22 .09 7.26 .08 -7.94 .08 1.15 .09 -.24 .08 -1.00 .08 7.56 .09 -8.32 .08 5.23 .08 -1.81 .09 1.68 .08 -5.43 .08 10.04 .09 -7.15 .08 -.31 .08 -3.50 .09 .97 .08 3.83 .08 1.75 .09 -.90 .08 .45 .08 -1.81 .09 -1.86 .08 .03 .08 .97 .09 -2.77 .08 2.29 .08 2.11 .09 -3.42 .08 -3.11 .08 3.48 .09 5.28 .08 -5.47 .08 1.24 .09 -1.18 .08 3.60 .08 -8.30 .09 7.60 .08 1.85 .08 -7.32 .09 4.86 .08 -1.15 .08 -4.65 .09 2.89 .08 -4.11 .08 5.68 .09 6.24 .08 -8.62 .08 7.78 .09 -5.52 .08 3.80 .08 -2.75 .09 -7.79 .08 2.51 .08 2.64 .09 -4.25 .08 .94 .08 3.46 .09 -2.46 .08 -3.44 .08 2.25 .09 6.03 .08 -3.60 .08 3.55 .09 2.17 .08 -4.93 .08 -3.43 .09 -.91 .08 5.29 .08 2.40 .09 -1.38 .08 1.31 .09 -3.27 .08 1.47 .08 -3.61 .09 .95 .08 -2.27 .08 -1.09 .09 3.84 .08 -3.27 .08 .94 .09 3.10 .08 -2.58 .08 7.98 .09 -3.55 .08 -4.87 .08 3.04 .09 -1.64 .08 -.44 .08 4.97 .09 -4.52 .08 -4.25 .08 9.43 .09 -5.72 .08 5.01 .08 -6.20 .09 .69 .08 5.63 .08 -6.19 .09 2.90 .08 2.98 .08 -3.14 .09 -.44 .08 .07 .08 1.11 .09 -4.24 .08 3.21 .08 -.26 .09 5.16 .08 -6.44 .08 -.71 .09 4.16 .08 -1.11 .08 .89 .09 -1.25 .08 3.64 .08 -5.26 .09 1.62 .08 -5.38 .08 3.97 .09 5.75 .08 -4.82 .08 .03 .09 -1.95 .08 3.53 .08 -1.11 .09 -4.57 .08 4.50 .08 -1.35 .09 2.15 .08 -2.48 .08 5.66 .09 -3.45 .08 -1.94 .08 -1.70 .09 .96 .08 3.81 .08 -2.17 .09 4.03 .08 -1.50 .08 -.24 .09 .01 .08 -.89 .09 -3.99 .08 6.09 .08 1.78 .09 .11 .08 .36 .08 -2.08 .09 .03 .08 -1.68 .08 4.98 .09 -3.85 .08 -2.88 .08 -1.65 .09 2.60 .08 3.04 .08 -2.87 .09 -3.64 .08 7.25 .08 -.16 .09 -.95 .08 -1.43 .08 .37 .09 -.26 .08 .50 .08 -3.62 .09 7.33 .08 -1.84 .08 4.44 .09 -10.57 .08 6.58 .08 -.02 .09 -2.03 .08 .37 .08 .44 .09 -2.21 .08 -3.68 .08 1.81 .09 3.66 .08 1.06 .08 -3.36 .09 -.60 .08 .06 .08 2.14 .09 -4.35 .08 .47 .08 3.92 .09 -4.13 .08 .42 .08 2.16 .09 .86 .08 -5.78 .08 6.72 .09 -7.03 .08 6.07 .08 -6.54 .09 .29 .08 6.46 .08 -3.67 .09 -.74 .08 1.71 .08 4.19 .09 -1.34 .08 -.43 .08 2.32 .09 -4.39 .08 1.28 .08 -1.01 .09 5.11 .08 -.97 .08 -.87 .09 -4.54 .08 .77 .09 4.37 .08 -3.26 .08 3.02 .09 -1.21 .08 -3.68 .08 1.98 .09 -1.83 .08 6.35 .08 1.89 .09 -7.16 .08 .82 .08 -6.33 .09 8.21 .08 -.45 .08 -4.78 .09 4.47 .08 -6.00 .08 4.41 .09 -.71 .08 -6.03 .08 7.97 .09 3.08 .08 -7.07 .08 -.79 .09 6.19 .08 -5.00 .08 -4.24 .09 4.48 .08 1.65 .08 -9.36 .09 11.76 .08 -.76 .08 5.15 .09 -1.71 .08 -2.28 .08 .06 .09 1.24 .08 -.92 .08 -6.79 .09 6.66 .08 -2.80 .08 5.64 .09 -3.65 .08 -1.26 .08 .19 .09 4.89 .08 -4.87 .08 -1.38 .09 1.58 .08 -2.95 .08 1.91 .09 1.20 .08 1.05 .08 5.52 .09 -5.79 .08 1.64 .08 -1.16 .09 2.40 .08 -3.62 .08 1.66 .09 1.03 .08 .18 .08 -2.60 .09 -1.00 .08 -.64 .08 1.76 .09 2.65 .08 -2.25 .08 -.03 .09 .19 .08 -1.39 .09 1.76 .08 -1.33 .08 .69 .09 -.09 .08 -2.42 .08 5.23 .09 1.10 .08 -4.78 .08 1.09 .09 -1.07 .08 1.82 .08 -7.43 .09 7.27 .08 -3.49 .08 3.68 .09 -3.54 .08 .73 .08 1.33 .09 2.16 .08 -5.01 .08 .96 .09 -.56 .08 -3.26 .08 7.10 .09 -1.19 .08 -1.98 .08 1.67 .09 -6.14 .08 2.88 .08 4.29 .09 -3.53 .08 -6.35 .08 -2.22 .09 5.85 .08 5.40 .08 -3.47 .09 1.95 .08 1.45 .08 -3.84 .09 2.32 .08 1.91 .08 -2.02 .09 -1.68 .08 -2.23 .08 3.48 .09 -1.76 .08 4.41 .08 5.13 .09 -9.74 .08 -2.96 .08 4.29 .09 3.48 .08 1.34 .08 -.22 .09 -5.05 .08 -2.30 .08 5.22 .09 -5.14 .08 4.94 .08 -4.36 .09 -6.28 .08 11.45 .08 -.59 .09 .16 .08 -6.74 .08 3.78 .09 .40 .08 1.17 .08 2.64 .09 -4.17 .08 -1.32 .09 0 .08 .77 .08 2.21 .09 -3.73 .08 4.72 .08 -1.29 .09 .47 .08 -2.28 .08 5.95 .09 -.75 .08 -7.32 .08 7.19 .09 .46 .08 -5.17 .08 -.21 .09 6.73 .08 -2.41 .08 -4.75 .09 3.20 .08 -.10 .08 -1.15 .09 -6.24 .08 8.98 .08 -2.89 .09 1.40 .08 -1.44 .08 2.23 .09 -1.67 .08 -1.12 .08 2.88 .09 1.45 .08 -4.06 .08 2.91 .09 -2.71 .08 -2.19 .08 5.08 .09 -5.36 .08 5.18 .08 -1.25 .09 1.92 .08 -4.01 .08 -.07 .09 3.21 .08 -1.04 .08 1.10 .09 -2.33 .08 1.96 .08 -3.60 .09 .50 .08 .28 .08 -.51 .09 .27 .08 2.07 .08 -.93 .09 .59 .08 5.00 .08 -2.24 .09 .82 .08 -3.40 .08 -1.39 .09 -2.65 .08 2.46 .08 -4.11 .09 4.59 .08 2.95 .08 1.23 .09 -.21 .08 -3.76 .09 3.68 .08 -3.19 .08 3.99 .09 -2.42 .08 1.36 .08 4.04 .09 -3.59 .08 3.31 .08 -4.28 .09 -2.54 .08 4.21 .08 .43 .09 -5.14 .08 2.01 .08 -3.28 .09 2.41 .08 3.23 .08 -2.24 .09 -.38 .08 -1.15 .08 3.48 .09 .03 .08 -.30 .08 -.13 .09 -3.34 .08 5.97 .08 -5.24 .09 -.46 .08 1.81 .08 -5.61 .09 5.16 .08 .70 .08 1.13 .09 3.50 .08 -2.25 .08 -5.06 .09 2.90 .08 1.48 .08 .53 .09 -3.00 .08 -.30 .08 4.16 .09 -.38 .08 .15 .08 -4.22 .09 7.53 .08 -11.18 .08 5.31 .09 5.75 .08 -4.18 .08 .97 .09 -3.52 .08 5.07 .08 -6.89 .09 5.50 .08 -.86 .08 -2.74 .09 4.01 .08 -5.11 .08 1.38 .09 1.66 .08 .23 .08 1.27 .09 1.41 .08 -2.92 .08 -.10 .09 -.59 .08 .65 .08 1.91 .09 -3.50 .08 .93 .09 -1.25 .08 -1.90 .08 4.31 .09 -2.97 .08 1.79 .08 4.07 .09 -5.53 .08 2.00 .08 -3.88 .09 3.09 .08 -1.68 .08 2.39 .09 -.37 .08 1.64 .08 2.45 .09 -2.53 .08 1.30 .08 -.23 .09 -1.54 .08 -1.85 .08 -1.89 .09 3.96 .08 3.46 .08 -2.33 .09 -2.27 .08 5.09 .08 -4.18 .09 -1.49 .08 -.59 .08 -.84 .09 3.33 .08 5.78 .08 -5.43 .09 -1.08 .08 .71 .08 1.08 .09 -2.94 .08 4.11 .08 1.04 .09 -.61 .08 .23 .08 -4.66 .09 -1.64 .08 5.52 .08 1.07 .09 -5.33 .08 2.80 .08 .01 .09 1.34 .08 -2.30 .08 -1.81 .09 1.90 .08 1.44 .08 .24 .09 -3.40 .08 -2.75 .08 5.27 .09 -3.16 .08 4.52 .08 1.33 .09 -2.19 .08 -1.25 .08 2.00 .09 3.50 .08 -3.84 .08 2.53 .09 -.93 .08 -1.65 .08 3.41 .09 -5.78 .08 2.91 .09 -5.23 .08 .86 .08 -.12 .09 3.05 .08 -3.47 .08 2.35 .09 -1.51 .08 3.94 .08 1.87 .09 -3.34 .08 3.51 .08 -1.59 .09 3.96 .08 -4.80 .08 -3.04 .09 7.20 .08 -4.00 .08 -2.37 .09 -.38 .08 -2.20 .08 2.63 .09 -2.79 .08 5.79 .08 -2.85 .09 -5.41 .08 .45 .08 2.80 .09 -3.03 .08 4.60 .08 1.35 .09 -1.28 .08 -.62 .08 1.07 .09 1.69 .08 -.11 .08 -4.27 .09 1.28 .08 -4.02 .08 3.02 .09 -1.36 .08 5.28 .08 -5.24 .09 .39 .08 1.33 .08 .45 .09 -4.02 .08 2.44 .08 1.33 .09 .94 .08 -2.53 .08 2.98 .09 -1.28 .08 4.33 .08 -2.21 .09 -4.24 .08 -1.64 .08 4.03 .09 1.98 .08 -2.14 .08 1.52 .09 -2.74 .08 -2.49 .08 3.97 .09 -1.18 .08 1.77 .08 -5.04 .09 4.57 .08 -1.37 .08 3.63 .09 -2.83 .08 -1.01 .09 1.40 .08 3.18 .08 -2.73 .09 -1.50 .08 -.66 .08 -.22 .09 4.79 .08 -7.65 .08 2.21 .09 4.26 .08 .55 .08 -2.52 .09 2.27 .08 -.17 .08 .01 .09 -2.21 .08 2.47 .08 -2.85 .09 3.50 .08 -6.22 .08 5.23 .09 -4.74 .08 -1.07 .08 5.32 .09 -3.48 .08 4.74 .08 -4.62 .09 5.54 .08 -4.08 .08 -2.32 .09 3.99 .08 1.59 .08 -4.28 .09 4.40 .08 4.01 .08 -3.43 .09 -2.43 .08 -2.64 .08 2.89 .09 -3.62 .08 -4.74 .08 4.65 .09 -.62 .08 5.21 .08 -2.23 .09 -3.66 .08 -.55 .08 4.35 .09 -1.95 .08 .95 .08 -.27 .09 -.51 .08 .74 .08 -1.16 .09 3.38 .08 .93 .08 -7.08 .09 11.67 .08 -8.01 .08 3.58 .09 -4.17 .08 2.14 .08 -.53 .09 -.91 .08 2.02 .08 .16 .09 -2.85 .08 3.26 .08 1.56 .09 -.96 .08 -1.79 .09 -2.20 .08 -.38 .08 -1.31 .09 1.58 .08 6.35 .08 -4.83 .09 .34 .08 -1.95 .08 5.20 .09 .69 .08 -4.33 .08 1.81 .09 -2.63 .08 6.07 .08 -2.95 .09 -3.98 .08 5.97 .08 -2.81 .09 1.28 .08 .04 .08 -2.97 .09 .27 .08 2.45 .08 -2.28 .09 -1.29 .08 7.87 .08 -5.94 .09 -1.04 .08 -.48 .08 3.90 .09 1.67 .08 -2.58 .08 1.59 .09 -5.84 .08 3.01 .08 .65 .09 .08 .08 -.50 .08 -5.84 .09 11.30 .08 -7.74 .08 2.41 .09 1.10 .08 .41 .08 -1.19 .09 -7.66 .08 4.38 .08 5.08 .09 -4.25 .08 1.00 .08 -3.11 .09 6.27 .08 -.82 .08 -4.53 .09 2.29 .08 1.85 .08 -1.87 .09 .72 .08 .52 .08 .75 .09 2.70 .08 -3.60 .08 -.40 .09 1.96 .08 -2.68 .08 -1.71 .09 6.57 .08 -4.94 .08 .32 .09 2.03 .08 -3.34 .09 2.87 .08 -1.02 .08 -1.85 .09 1.87 .08 -2.92 .08 -2.06 .09 4.84 .08 -1.44 .08 3.98 .09 -1.18 .08 -1.45 .08 .98 .09 2.88 .08 -.19 .08 -2.11 .09 .60 .08 -2.06 .08 -.46 .09 1.70 .08 -.52 .08 1.63 .09 -4.85 .08 -1.16 .08 -.57 .09 2.58 .08 3.77 .08 -.42 .09 -5.19 .08 -1.30 .08 5.60 .09 -1.51 .08 -4.72 .08 5.08 .09 -2.28 .08 3.55 .08 -2.66 .09 1.59 .08 -.90 .08 -2.13 .09 1.67 .08 -.25 .08 3.16 .09 -4.05 .08 -.84 .08 3.71 .09 1.37 .08 1.71 .08 -1.02 .09 -6.40 .08 3.04 .08 -.07 .09 1.73 .08 -7.29 .08 5.14 .09 .29 .08 -2.59 .08 3.42 .09 2.24 .08 -3.14 .08 .23 .09 .95 .08 -.29 .08 -.09 .09 -2.41 .08 4.34 .08 -3.64 .09 -.37 .08 4.91 .09 -4.85 .08 1.48 .08 1.99 .09 -1.68 .08 -.69 .08 1.96 .09 -1.14 .08 -7.24 .08 .21 .09 5.76 .08 -1.67 .08 -5.99 .09 2.97 .08 3.05 .08 -3.24 .09 2.82 .08 -1.86 .08 2.65 .09 -1.92 .08 3.79 .08 3.45 .09 -7.12 .08 5.31 .08 -.44 .09 -1.41 .08 -2.43 .08 -2.43 .09 .39 .08 3.63 .08 1.63 .09 .73 .08 -1.37 .08 -.83 .09 -3.29 .08 -7.30 .08 9.01 .09 2.06 .08 -1.49 .08 -3.98 .09 1.54 .08 -2.24 .08 5.59 .09 -2.04 .08 2.27 .08 2.04 .09 -1.22 .08 2.54 .08 -8.63 .09 -3.84 .08 11.06 .08 .82 .09 .44 .08 -2.52 .08 2.01 .09 -.70 .08 -3.50 .08 .51 .09 2.72 .08 -3.15 .08 9.01 .09 -10.89 .08 2.45 .08 4.73 .09 -7.16 .08 -.44 .08 -2.38 .09 2.84 .08 8.75 .08 -2.62 .09 -1.44 .08 -2.86 .09 4.28 .08 -2.46 .08 -1.42 .09 1.63 .08 .50 .08 2.31 .09 -2.84 .08 2.25 .08 3.96 .09 -10.63 .08 -1.31 .08 7.62 .09 -.30 .08 -2.11 .08 2.30 .09 -.58 .08 .98 .08 -3.16 .09 5.79 .08 -7.16 .08 1.21 .09 4.15 .08 -2.98 .08 3.48 .09 -4.07 .08 -.60 .08 2.21 .09 -2.56 .08 -5.75 .08 3.25 .09 2.20 .08 .38 .08 3.36 .09 .05 .08 -.73 .08 2.67 .09 1.79 .08 -7.50 .08 5.21 .09 -1.59 .08 -3.74 .08 3.56 .09 2.87 .08 -3.06 .08 4.51 .09 -3.23 .08 1.02 .08 -1.78 .09 .34 .08 -3.29 .08 4.33 .09 -7.12 .08 4.68 .08 2.92 .09 -.19 .08 -2.54 .08 2.20 .09 -4.50 .08 -.95 .08 2.84 .09 1.07 .08 3.85 .08 -6.43 .09 5.21 .08 -7.86 .08 2.37 .09 1.50 .08 2.82 .08 -4.07 .09 -5.83 .08 7.05 .09 -1.58 .08 -3.38 .08 -.76 .09 .73 .08 3.47 .08 1.45 .09 -6.56 .08 12.46 .08 -7.93 .09 .13 .08 3.12 .08 -2.94 .09 6.02 .08 -3.62 .08 -2.75 .09 .59 .08 -.85 .08 -.76 .09 1.44 .08 -3.33 .08 5.32 .09 -4.23 .08 .08 .08 3.64 .09 -6.91 .08 2.82 .08 4.42 .09 -1.91 .08 .68 .08 1.44 .09 -1.76 .08 1.62 .08 -4.54 .09 -3.00 .08 8.74 .08 -5.02 .09 -.35 .08 6.56 .08 -1.25 .09 -4.55 .08 .01 .08 -.26 .09 -3.50 .08 3.94 .08 -1.63 .09 .42 .08 1.95 .08 -1.85 .09 2.94 .08 .29 .08 -9.57 .09 7.14 .08 -5.49 .08 -1.54 .09 7.28 .08 -2.20 .08 .84 .09 3.35 .08 -3.01 .08 .31 .09 2.82 .08 2.77 .08 -1.97 .09 -5.75 .08 2.66 .08 .74 .09 5.68 .08 -2.96 .08 -.51 .09 .51 .08 -3.30 .09 2.78 .08 .23 .08 -4.58 .09 2.97 .08 .69 .08 -4.91 .09 4.95 .08 .81 .08 1.31 .09 -4.20 .08 3.17 .08 3.71 .09 -2.38 .08 -3.63 .08 2.03 .09 3.16 .08 -3.52 .08 .85 .09 4.21 .08 -6.53 .08 -.24 .09 -2.15 .08 .74 .08 4.78 .09 -4.96 .08 -1.50 .08 1.62 .09 2.79 .08 1.92 .08 -2.24 .09 3.87 .08 -3.40 .08 2.51 .09 0 .08 .53 .08 -2.73 .09 .80 .08 1.44 .08 -5.15 .09 4.02 .08 1.58 .08 .30 .09 -3.22 .08 -1.16 .08 1.77 .09 -2.35 .08 2.09 .08 .83 .09 .40 .08 -3.90 .08 1.50 .09 -3.98 .08 7.07 .08 -3.76 .09 2.83 .08 -3.47 .08 3.52 .09 3.07 .08 .25 .08 -6.58 .09 4.18 .08 -3.33 .08 -.75 .09 3.55 .08 -1.68 .08 .34 .09 -1.77 .08 1.13 .08 .78 .09 -.24 .08 -1.06 .09 .91 .08 2.77 .08 1.57 .09 -3.38 .08 3.48 .08 -3.32 .09 -1.71 .08 4.55 .08 -6.64 .09 3.68 .08 1.95 .08 -2.67 .09 .66 .08 5.89 .08 -6.12 .09 .05 .08 1.02 .08 -.79 .09 .48 .08 1.11 .08 -6.36 .09 11.04 .08 -7.04 .08 -.46 .09 3.56 .08 -2.41 .08 -3.59 .09 3.19 .08 -2.69 .08 1.64 .09 -1.31 .08 .98 .08 3.93 .09 -1.60 .08 .42 .08 2.65 .09 -1.65 .08 -1.07 .08 2.12 .09 4.94 .08 -5.05 .08 .03 .09 -2.00 .08 .95 .08 -.23 .09 -1.54 .08 -.96 .08 -2.57 .09 2.34 .08 3.83 .08 -.95 .09 1.04 .08 -2.53 .08 -3.70 .09 4.10 .08 .60 .08 -4.61 .09 6.85 .08 -1.34 .08 2.80 .09 -6.49 .08 -.03 .08 5.40 .09 -6.67 .08 3.52 .08 -2.25 .09 -.98 .08 -.62 .09 4.45 .08 3.79 .08 -1.51 .09 -.56 .08 -2.54 .08 4.69 .09 -2.74 .08 1.36 .08 -6.60 .09 5.54 .08 -3.26 .08 4.82 .09 -1.43 .08 -3.64 .08 3.90 .09 2.46 .08 -3.92 .08 .73 .09 -3.65 .08 .14 .08 -1.33 .09 2.79 .08 3.91 .08 -1.45 .09 -1.15 .08 -2.20 .08 4.44 .09 -2.91 .08 -5.40 .08 -.31 .09 4.45 .08 -1.46 .08 7.66 .09 -4.08 .08 -3.29 .08 .23 .09 5.38 .08 -4.80 .08 3.62 .09 -1.71 .08 2.61 .08 -1.33 .09 -2.76 .08 1.39 .08 -1.65 .09 2.49 .08 -2.58 .08 6.41 .09 -3.70 .08 1.94 .08 -3.21 .09 1.37 .08 -1.49 .08 .61 .09 2.73 .08 -3.75 .08 -1.54 .09 5.48 .08 -4.46 .08 -1.50 .09 4.59 .08 -1.10 .08 -9.62 .09 7.01 .08 2.92 .08 -.18 .09 -3.02 .08 5.99 .08 -6.01 .09 .35 .08 1.85 .09 -.85 .08 1.01 .08 .43 .09 -4.02 .08 3.45 .08 -5.75 .09 2.54 .08 4.36 .08 -3.92 .09 2.70 .08 -2.65 .08 .47 .09 .80 .08 1.72 .08 -2.83 .09 .57 .08 .54 .08 1.09 .09 -2.38 .08 1.60 .08 1.30 .09 -5.83 .08 -1.83 .08 9.06 .09 -1.35 .08 -4.12 .08 -.03 .09 -3.02 .08 -.31 .08 4.04 .09 -4.94 .08 5.24 .08 -4.63 .09 3.65 .08 4.14 .08 1.00 .09 -5.92 .08 4.51 .08 -6.10 .09 .35 .08 3.20 .08 3.87 .09 -5.78 .08 3.68 .08 -1.74 .09 -3.90 .08 4.46 .08 4.49 .09 -5.31 .08 2.30 .08 .97 .09 -4.85 .08 6.23 .08 -1.75 .09 1.33 .08 1.13 .08 -4.91 .09 -2.12 .08 .86 .08 1.70 .09 .22 .08 3.56 .08 .57 .09 -6.02 .08 4.28 .08 -4.86 .09 2.87 .08 -4.10 .08 -1.78 .09 4.87 .08 1.87 .09 -2.08 .08 -1.54 .08 -1.29 .09 2.90 .08 -2.73 .08 3.79 .09 -4.04 .08 4.89 .08 1.32 .09 2.33 .08 .40 .08 -1.50 .09 -3.52 .08 -3.74 .08 5.71 .09 3.70 .08 -.19 .08 -11.92 .09 4.19 .08 .80 .08 -4.68 .09 4.44 .08 1.76 .08 -.87 .09 1.85 .08 -4.42 .08 .90 .09 .65 .08 4.97 .08 -7.23 .09 4.13 .08 2.21 .08 -2.13 .09 2.97 .08 -3.34 .08 2.84 .09 1.73 .08 3.46 .08 -6.34 .09 .57 .08 -3.47 .08 -.20 .09 5.11 .08 -3.46 .08 2.47 .09 -1.92 .08 3.72 .08 .74 .09 -8.29 .08 7.80 .08 -4.03 .09 .57 .08 -.97 .08 2.15 .09 -5.43 .08 .69 .08 -.20 .09 2.73 .08 2.12 .08 1.93 .09 -.44 .08 -3.04 .08 -3.01 .09 5.87 .08 -.08 .08 1.15 .09 1.37 .08 -2.82 .08 -1.43 .09 -5.88 .08 6.69 .09 -3.00 .08 -2.93 .08 5.14 .09 -2.53 .08 .29 .08 5.71 .09 -1.77 .08 -.43 .08 .01 .09 1.32 .08 -.99 .08 6.18 .09 -6.61 .08 .24 .08 -3.17 .09 -1.62 .08 -4.71 .08 .58 .09 9.53 .08 -.23 .08 -5.17 .09 1.83 .08 1.48 .08 -4.54 .09 8.20 .08 -7.16 .08 -.28 .09 -3.96 .08 9.83 .08 -3.24 .09 4.55 .08 -6.85 .08 2.83 .09 -.71 .08 .26 .08 4.11 .09 1.51 .08 -2.58 .08 -4.84 .09 4.59 .08 .52 .08 -3.05 .09 .34 .08 .07 .08 -3.22 .09 4.59 .08 2.67 .08 -5.55 .09 3.00 .08 2.54 .08 -6.11 .09 2.37 .08 -4.25 .08 2.77 .09 -1.42 .08 2.18 .08 -.87 .09 1.25 .08 .19 .08 -5.61 .09 8.78 .08 -4.26 .08 -3.39 .09 2.38 .08 1.58 .08 -3.10 .09 1.45 .08 .43 .08 1.46 .09 -2.26 .08 3.23 .09 .83 .08 -1.31 .08 2.93 .09 -4.51 .08 -2.95 .08 4.94 .09 -.90 .08 -.78 .08 .61 .09 5.72 .08 -6.40 .08 2.08 .09 -1.39 .08 3.98 .08 -3.53 .09 -.57 .08 -1.82 .08 4.38 .09 .20 .08 -6.68 .08 1.93 .09 3.72 .08 .58 .08 -5.80 .09 2.15 .08 2.30 .08 -3.78 .09 .57 .08 -.63 .08 -1.03 .09 3.78 .08 1.48 .08 -3.48 .09 2.91 .08 2.38 .08 -3.11 .09 2.01 .08 -3.82 .08 5.35 .09 -5.60 .08 6.15 .08 -5.89 .09 -.09 .08 0 .08 .25 .09 1.23 .08 -.39 .08 -.47 .09 1.62 .08 -.60 .08 -3.68 .09 4.10 .08 -5.93 .08 .94 .09 -.87 .08 4.30 .08 -3.15 .09 .21 .08 6.26 .08 2.01 .09 -1.18 .08 -6.26 .08 2.80 .09 1.71 .08 -1.53 .08 -4.01 .09 2.50 .08 -2.92 .08 1.63 .09 8.60 .08 -3.68 .09 -6.06 .08 .50 .08 5.38 .09 -3.59 .08 1.22 .08 -2.75 .09 2.27 .08 1.86 .08 -4.23 .09 -1.09 .08 .99 .08 2.05 .09 .79 .08 1.12 .08 .17 .09 1.08 .08 -3.26 .08 5.23 .09 1.24 .08 -4.54 .08 -1.09 .09 3.83 .08 -.84 .08 -1.43 .09 -1.92 .08 -1.08 .08 -.99 .09 5.47 .08 1.23 .08 -6.52 .09 3.84 .08 -.06 .08 -2.09 .09 -2.53 .08 1.04 .08 -4.51 .09 5.42 .08 .18 .08 6.35 .09 -2.73 .08 -3.81 .08 .69 .09 3.39 .08 .56 .08 -3.07 .09 -1.58 .08 -3.79 .08 1.87 .09 .75 .08 -1.89 .08 7.54 .09 -9.35 .08 5.44 .08 .86 .09 -1.04 .08 3.74 .08 -8.15 .09 3.59 .08 2.33 .08 1.14 .09 -1.27 .08 -1.58 .08 3.30 .09 -5.45 .08 1.85 .08 5.14 .09 .97 .08 -2.02 .09 -5.46 .08 .43 .08 -.64 .09 -.39 .08 2.95 .08 2.52 .09 -2.49 .08 -1.86 .08 .87 .09 -1.01 .08 5.02 .08 -7.05 .09 5.80 .08 -5.49 .08 1.16 .09 -2.08 .08 4.27 .08 -2.36 .09 6.63 .08 -9.48 .08 2.12 .09 3.31 .08 .70 .08 -1.09 .09 -2.29 .08 7.29 .08 -1.00 .09 -1.54 .08 -2.33 .08 2.46 .09 -3.34 .08 1.81 .08 .92 .09 4.53 .08 -3.99 .08 -1.03 .09 2.57 .08 -1.57 .08 -.25 .09 -.27 .08 2.35 .08 -4.46 .09 3.01 .08 3.61 .08 -2.77 .09 -3.51 .08 -.42 .08 3.97 .09 -2.18 .08 -.07 .08 .39 .09 -2.08 .08 4.68 .08 -6.26 .09 5.57 .08 -3.97 .08 2.58 .09 2.10 .08 -1.11 .08 1.92 .09 -4.26 .08 -3.31 .08 6.23 .09 -5.01 .08 2.91 .08 2.31 .09 -1.53 .08 -1.32 .08 -2.33 .09 .85 .08 .60 .09 -1.58 .08 4.98 .08 -4.75 .09 1.85 .08 1.07 .08 3.04 .09 -1.46 .08 -1.71 .08 .37 .09 2.68 .08 1.98 .08 -1.51 .09 -1.74 .08 -.35 .08 3.58 .09 -8.07 .08 6.28 .08 -4.48 .09 5.17 .08 -4.40 .08 1.36 .09 -3.74 .08 2.39 .08 2.45 .09 2.15 .08 -5.45 .08 2.38 .09 11.73 .08 -8.15 .08 -2.73 .09 1.14 .08 -7.54 .08 10.24 .09 -2.70 .08 -5.14 .08 7.19 .09 -4.74 .08 -1.64 .08 5.02 .09 .01 .08 -2.87 .08 -.01 .09 -2.70 .08 -1.17 .08 6.36 .09 .20 .08 -2.11 .08 -.81 .09 -1.92 .08 2.15 .08 -.87 .09 5.96 .08 -6.40 .08 .99 .09 -.60 .08 -2.57 .08 7.64 .09 -6.56 .08 -.50 .08 1.87 .09 -2.25 .08 3.67 .08 -2.39 .09 4.12 .08 -.15 .08 -4.05 .09 6.11 .08 -2.62 .08 -4.30 .09 4.81 .08 -1.36 .09 3.63 .08 -7.88 .08 3.89 .09 -3.12 .08 2.07 .08 -1.45 .09 1.77 .08 -.17 .08 -3.80 .09 -2.45 .08 5.04 .08 -.91 .09 1.74 .08 1.47 .08 -2.05 .09 5.40 .08 -3.41 .08 .38 .09 .64 .08 .26 .08 -2.33 .09 .42 .08 -2.86 .08 .42 .09 1.22 .08 1.06 .08 -3.80 .09 3.55 .08 3.35 .08 1.50 .09 -3.92 .08 3.87 .08 -2.14 .09 -.37 .08 .67 .08 -1.67 .09 1.68 .08 -.98 .08 -2.23 .09 1.82 .08 1.54 .08 1.79 .09 -2.79 .08 .56 .08 1.96 .09 -6.77 .08 1.96 .08 1.78 .09 -1.89 .08 -3.26 .08 5.82 .09 -3.29 .08 -1.92 .08 6.05 .09 -7.74 .08 3.70 .08 -1.12 .09 2.85 .08 1.48 .08 -3.24 .09 1.36 .08 -1.01 .08 -3.03 .09 5.20 .08 -1.97 .08 -.16 .09 -.73 .08 .90 .08 1.67 .09 -2.03 .08 4.35 .09 -9.84 .08 1.10 .08 4.50 .09 -5.08 .08 4.42 .08 -1.91 .09 4.81 .08 .59 .08 1.43 .09 -1.81 .08 .90 .08 -2.98 .09 2.64 .08 -1.51 .08 -3.15 .09 -.78 .08 .94 .08 4.04 .09 -6.80 .08 4.76 .08 -2.96 .09 3.25 .08 -2.37 .08 -1.23 .09 4.00 .08 -7.15 .08 6.02 .09 1.43 .08 -6.20 .08 6.78 .09 -3.14 .08 1.11 .08 -4.77 .09 5.92 .08 .34 .08 -1.33 .09 -3.22 .08 4.29 .08 1.64 .09 -2.89 .08 .89 .08 -5.50 .09 2.10 .08 1.03 .08 .62 .09 6.00 .08 -6.85 .08 -1.01 .09 4.55 .08 -5.83 .08 3.47 .09 -.18 .08 -2.75 .08 1.84 .09 -.91 .08 1.79 .08 -1.73 .09 5.65 .08 -2.37 .08 -2.61 .09 -2.42 .08 9.88 .08 -1.88 .09 -2.11 .08 -.67 .08 .36 .09 -2.38 .08 5.76 .08 -4.59 .09 -3.29 .08 1.85 .09 -4.83 .08 7.85 .08 -.97 .09 2.54 .08 1.42 .08 -7.78 .09 2.86 .08 1.32 .08 .09 .09 -3.04 .08 3.41 .08 -1.62 .09 1.90 .08 -.51 .08 -1.23 .09 -.60 .08 .19 .08 -2.53 .09 2.21 .08 2.04 .08 -1.07 .09 2.94 .08 -1.21 .08 -1.00 .09 -5.92 .08 4.69 .08 2.34 .09 -7.04 .08 -.55 .08 .12 .09 .75 .08 .90 .08 -2.44 .09 4.86 .08 -3.95 .08 3.12 .09 -1.23 .08 -.74 .08 6.23 .09 -2.49 .08 -.24 .08 -1.64 .09 1.49 .08 1.57 .08 -2.57 .09 -3.92 .08 7.31 .08 -1.04 .09 -.38 .08 .13 .08 1.24 .09 .14 .08 -3.63 .08 4.25 .09 1.31 .08 -3.56 .08 -2.41 .09 9.15 .08 -3.14 .08 -2.28 .09 -1.65 .08 -7.10 .08 2.34 .09 4.24 .08 3.90 .08 -8.95 .09 1.67 .08 8.42 .08 -4.11 .09 -2.89 .08 1.75 .09 -2.51 .08 1.61 .08 .17 .09 -.17 .08 -4.40 .08 6.30 .09 -8.56 .08 2.62 .08 10.97 .09 -10.46 .08 3.54 .08 -4.60 .09 2.55 .08 -.71 .08 2.03 .09 3.04 .08 4.33 .08 -4.02 .09 1.65 .08 -4.74 .08 5.20 .09 -4.61 .08 2.85 .08 -4.80 .09 2.79 .08 3.81 .08 -1.60 .09 -2.34 .08 -1.50 .08 -.86 .09 1.14 .08 .84 .08 -4.07 .09 2.01 .08 2.28 .08 -2.37 .09 3.91 .08 -2.89 .08 .47 .09 -6.05 .08 2.87 .08 1.85 .09 .40 .08 -1.16 .08 4.07 .09 -.52 .08 -1.28 .08 -4.78 .09 8.33 .08 -3.28 .08 3.58 .09 -4.65 .08 .77 .08 1.69 .09 .10 .08 .93 .08 -.99 .09 6.51 .08 -11.85 .08 3.62 .09 3.90 .08 -3.51 .08 -1.95 .09 -2.69 .08 6.88 .08 -6.25 .09 6.00 .08 -1.59 .09 3.07 .08 2.37 .08 -4.52 .09 -.90 .08 1.28 .08 -3.71 .09 5.01 .08 -4.37 .08 1.64 .09 -4.28 .08 3.51 .08 -2.23 .09 1.77 .08 -2.27 .08 4.22 .09 -4.16 .08 -4.27 .08 8.75 .09 -1.81 .08 -1.54 .08 8.33 .09 -6.79 .08 -3.92 .08 1.36 .09 3.43 .08 -1.48 .08 3.59 .09 -.24 .08 -4.54 .08 2.91 .09 1.76 .08 -3.31 .08 -.90 .09 3.23 .08 -1.54 .08 -4.06 .09 2.71 .08 .36 .08 .82 .09 -1.81 .08 4.28 .08 -5.98 .09 1.00 .08 2.48 .08 -5.59 .09 3.04 .08 4.29 .08 -4.91 .09 -.04 .08 6.45 .08 -2.45 .09 -.41 .08 -.42 .08 -1.53 .09 1.55 .08 .25 .08 6.64 .09 -6.10 .08 -.69 .08 -.97 .09 .18 .08 -2.39 .08 .98 .09 6.68 .08 -7.27 .08 1.35 .09 4.82 .08 .97 .08 -6.73 .09 6.71 .08 -4.87 .09 3.74 .08 -3.22 .08 .27 .09 3.97 .08 -2.28 .08 -2.84 .09 7.85 .08 -6.82 .08 3.92 .09 -5.19 .08 -3.66 .08 2.57 .09 2.28 .08 1.67 .08 2.40 .09 -5.25 .08 -1.46 .08 -2.40 .09 3.24 .08 .49 .08 -4.38 .09 7.33 .08 -.98 .08 2.78 .09 -7.14 .08 1.46 .08 .61 .09 -3.77 .08 .95 .08 .46 .09 4.71 .08 .65 .08 1.18 .09 -3.48 .08 -1.79 .08 4.59 .09 -.10 .08 .47 .08 1.10 .09 -4.03 .08 4.51 .08 -5.23 .09 2.83 .08 1.75 .08 -3.54 .09 2.09 .08 -4.05 .08 2.66 .09 1.22 .08 -4.36 .08 .67 .09 8.30 .08 -6.16 .08 -1.82 .09 -.38 .08 4.96 .08 -9.73 .09 5.83 .08 2.38 .08 -3.19 .09 2.17 .08 -4.55 .08 2.99 .09 .44 .08 .51 .08 -.17 .09 .26 .08 3.30 .08 -4.34 .09 -.49 .08 2.49 .09 -.82 .08 -3.33 .08 -1.04 .09 .89 .08 4.60 .08 -2.44 .09 .46 .08 7.12 .08 -3.59 .09 -3.23 .08 -1.28 .08 4.57 .09 -3.76 .08 4.53 .08 -1.47 .09 2.70 .08 -5.37 .08 4.25 .09 -7.44 .08 4.21 .08 1.16 .09 -.53 .08 -6.00 .08 5.50 .09 .54 .08 -.64 .08 -1.01 .09 1.87 .08 -.75 .08 3.47 .09 -1.58 .08 2.43 .08 -.80 .09 -5.64 .08 2.31" fill="none" stroke="#ff0000" stroke-width="0.8" stroke-linejoin="round"/>
<path d="M27.10 243.66l.08 1.86 .09 10.51 .08 -4.73 .08 -12.96 .09 9.61 .08 -3.49 .08 5.50 .09 -10.21 .08 9.11 .08 -2.07 .09 6.01 .08 -6.71 .08 2.81 .09 -10.85 .08 20.71 .08 -23.06 .09 16.08 .08 -7.90 .08 -2.37 .09 .42 .08 2.24 .08 7.43 .09 -4.30 .08 9.70 .08 -19.55 .09 10.50 .08 -5.23 .08 11.40 .09 -17.31 .08 9.93 .09 4.05 .08 -9.34 .08 16.30 .09 -7.81 .08 5.17 .08 -4.50 .09 -11.24 .08 -1.19 .08 1.73 .09 6.39 .08 -.51 .08 -8.64 .09 -3.34 .08 3.20 .08 -2.73 .09 2.58 .08 5.20 .08 10.73 .09 -11.01 .08 3.11 .08 3.59 .09 -9.20 .08 2.71 .08 2.65 .09 5.90 .08 -10.22 .08 10.67 .09 -8.18 .08 3.74 .08 1.21 .09 .60 .08 3.53 .08 -4.09 .09 -2.10 .08 2.56 .08 -6.14 .09 10.05 .08 -12.56 .08 -3.95 .09 20.40 .08 -12.62 .08 -7.39 .09 14.96 .08 -13.75 .08 8.81 .09 -8.46 .08 5.28 .08 -10.05 .09 -2.80 .08 3.86 .08 4.09 .09 3.05 .08 12.45 .08 -17.59 .09 10.07 .08 -12.64 .08 5.75 .09 -5.55 .08 .08 .08 4.68 .09 -3.74 .08 7.22 .09 -4.91 .08 10.91 .08 -6.28 .09 -2.19 .08 3.74 .08 -.85 .09 -1.26 .08 -.96 .08 -1.51 .09 5.56 .08 -.73 .08 -4.34 .09 4.23 .08 -8.21 .08 3.92 .09 -9.27 .08 17.52 .08 -7.95 .09 -.19 .08 .37 .08 -2.23 .09 -.59 .08 7.31 .08 -6.01 .09 -4.49 .08 7.96 .08 -11.78 .09 16.36 .08 -10.02 .08 .60 .09 13.39 .08 -2.03 .08 -9.38 .09 4.51 .08 1.57 .08 4.13 .09 -7.81 .08 -1.01 .08 7.43 .09 -6.18 .08 3.15 .08 -2.59 .09 -10.13 .08 2.43 .08 -5.15 .09 16.16 .08 11.57 .08 -11.48 .09 12.00 .08 -1.44 .08 -5.51 .09 -1.45 .08 -.86 .08 -4.25 .09 3.36 .08 -.03 .08 1.58 .09 .41 .08 -1.70 .08 6.15 .09 -5.88 .08 4.33 .09 3.49 .08 -3.88 .08 2.12 .09 1.36 .08 -5.93 .08 -2.01 .09 2.06 .08 9.27 .08 -8.06 .09 9.14 .08 -8.21 .08 -15.14 .09 11.27 .08 9.68 .08 -8.52 .09 -.35 .08 -2.07 .08 11.36 .09 -.86 .08 -1.21 .08 .49 .09 3.93 .08 -2.97 .08 -11.46 .09 12.01 .08 -1.69 .08 -2.05 .09 6.47 .08 -4.59 .08 -13.49 .09 22.28 .08 -3.78 .08 -8.60 .09 -2.42 .08 3.34 .08 -10.66 .09 9.75 .08 -.42 .08 .62 .09 -2.64 .08 2.32 .08 8.11 .09 .38 .08 -2.87 .08 -3.33 .09 -2.90 .08 7.03 .08 5.52 .09 -15.24 .08 13.50 .08 -15.24 .09 10.80 .08 -1.62 .08 -5.00 .09 -4.55 .08 12.41 .08 .93 .09 -10.88 .08 7.60 .08 -9.35 .09 11.78 .08 -8.57 .09 3.22 .08 .39 .08 -.31 .09 9.86 .08 -1.54 .08 -9.90 .09 -2.54 .08 -4.67 .08 2.90 .09 .84 .08 -1.02 .08 1.86 .09 1.71 .08 4.60 .08 -10.25 .09 .36 .08 9.38 .08 -2.39 .09 -9.35 .08 13.03 .08 -10.28 .09 1.36 .08 -8.38 .08 14.81 .09 -3.97 .08 4.25 .08 .06 .09 -2.87 .08 -.26 .08 5.07 .09 -5.21 .08 .54 .08 .20 .09 4.85 .08 -3.71 .08 6.44 .09 -11.83 .08 6.12 .08 -9.99 .09 9.89 .08 -3.29 .08 7.81 .09 -5.16 .08 -9.29 .08 5.45 .09 .28 .08 -5.16 .08 1.42 .09 -4.71 .08 17.50 .08 -11.72 .09 4.83 .08 -10.12 .08 .43 .09 2.91 .08 1.91 .08 5.55 .09 -9.54 .08 7.21 .08 3.21 .09 -10.58 .08 10.88 .09 -10.64 .08 5.55 .08 2.13 .09 5.37 .08 -15.01 .08 8.54 .09 5.06 .08 -11.67 .08 6.61 .09 -2.31 .08 -.16 .08 7.04 .09 -2.77 .08 9.83 .08 -9.84 .09 -.92 .08 -7.78 .08 .72 .09 4.58 .08 -15.20 .08 19.59 .09 -12.13 .08 -3.58 .08 6.57 .09 9.00 .08 -.54 .08 -8.78 .09 6.29 .08 -5.05 .08 -6.18 .09 6.24 .08 1.54 .08 -8.30 .09 13.28 .08 -14.38 .08 9.40 .09 -7.05 .08 1.69 .08 .50 .09 8.18 .08 -11.23 .08 4.74 .09 8.57 .08 -14.87 .08 3.31 .09 7.28 .08 -7.10 .08 6.27 .09 -5.08 .08 5.77 .08 -4.30 .09 -4.61 .08 10.63 .08 -6.42 .09 -.18 .08 -3.55 .08 2.32 .09 2.68 .08 .91 .08 .28 .09 -11.35 .08 3.82 .09 7.87 .08 -5.43 .08 1.11 .09 4.13 .08 -8.54 .08 2.16 .09 -1.35 .08 11.04 .08 -5.31 .09 -8.87 .08 8.66 .08 -9.19 .09 11.04 .08 1.55 .08 -7.45 .09 -2.24 .08 -8.45 .08 13.30 .09 1.29 .08 -3.33 .08 4.81 .09 -8.00 .08 -.60 .08 1.22 .09 -4.10 .08 21.25 .08 -11.45 .09 -2.36 .08 8.24 .08 -23.52 .09 16.32 .08 1.57 .08 -7.27 .09 7.15 .08 -11.98 .08 11.03 .09 4.57 .08 -13.18 .08 2.53 .09 7.59 .08 2.88 .08 -5.88 .09 3.38 .08 -2.88 .08 -7.05 .09 8.14 .08 -9.51 .08 -5.46 .09 -2.27 .08 21.26 .08 -6.90 .09 10.82 .08 -19.39 .08 7.11 .09 1.65 .08 -2.27 .08 1.83 .09 -1.37 .08 -3.59 .08 -7.82 .09 7.40 .08 16.10 .09 -6.53 .08 4.85 .08 -9.91 .09 1.05 .08 -3.32 .08 6.20 .09 -.76 .08 2.50 .08 6.51 .09 -13.13 .08 4.55 .08 -9.09 .09 13.53 .08 -7.58 .08 1.60 .09 -.85 .08 7.53 .08 -7.02 .09 -4.67 .08 -3.87 .08 6.43 .09 -3.22 .08 .81 .08 -.38 .09 4.16 .08 -4.23 .08 6.12 .09 4.44 .08 -14.95 .08 15.79 .09 2.67 .08 -13.61 .08 5.99 .09 -10.68 .08 5.58 .08 -2.26 .09 2.80 .08 -4.72 .08 .80 .09 2.54 .08 -2.89 .08 1.14 .09 .68 .08 -3.29 .08 3.92 .09 5.42 .08 -14.33 .08 8.20 .09 -3.33 .08 -1.81 .08 -1.75 .09 3.21 .08 3.15 .08 4.39 .09 -8.27 .08 12.29 .08 -7.14 .09 5.97 .08 .50 .08 -9.45 .09 8.74 .08 3.98 .09 -12.46 .08 5.61 .08 -.98 .09 .58 .08 .85 .08 -4.88 .09 5.37 .08 -1.60 .08 -2.12 .09 8.57 .08 -4.66 .08 -2.43 .09 -5.77 .08 10.00 .08 -3.05 .09 -16.12 .08 5.69 .08 2.45 .09 5.54 .08 1.21 .08 -6.15 .09 3.26 .08 2.29 .08 -6.87 .09 7.90 .08 -3.93 .08 3.07 .09 -1.78 .08 -3.40 .08 1.41 .09 5.24 .08 -1.61 .08 -2.30 .09 6.80 .08 -5.46 .08 -5.53 .09 3.08 .08 -1.10 .08 -1.48 .09 8.51 .08 -2.82 .08 3.56 .09 -.53 .08 -4.20 .08 5.57 .09 -7.96 .08 1.72 .08 -5.03 .09 7.38 .08 -1.00 .08 1.64 .09 5.56 .08 3.78 .08 -6.03 .09 -4.62 .08 4.07 .08 -1.46 .09 -4.48 .08 4.08 .08 -1.18 .09 -2.71 .08 7.32 .09 -9.14 .08 1.29 .08 5.66 .09 -8.83 .08 -5.03 .08 1.74 .09 9.87 .08 -2.39 .08 -.82 .09 -3.18 .08 -.58 .08 7.39 .09 -11.44 .08 6.72 .08 -7.31 .09 5.60 .08 -.11 .08 7.63 .09 -19.15 .08 21.20 .08 -13.10 .09 7.34 .08 3.68 .08 -7.82 .09 4.36 .08 1.73 .08 -4.51 .09 -3.16 .08 5.51 .08 .89 .09 -9.42 .08 14.53 .08 -5.50 .09 -14.08 .08 4.99 .08 10.95 .09 1.97 .08 -8.28 .08 -11.46 .09 6.44 .08 7.53 .08 -.10 .09 -2.58 .08 -2.51 .08 7.66 .09 -4.16 .08 2.85 .08 -1.73 .09 8.25 .08 -5.83 .08 -1.51 .09 -10.40 .08 15.34 .08 -.69 .09 -5.11 .08 -11.12 .08 11.24 .09 2.07 .08 11.18 .08 -7.81 .09 -1.30 .08 1.08 .09 2.86 .08 -10.92 .08 3.14 .09 -1.17 .08 3.74 .08 -.59 .09 2.57 .08 -7.89 .08 3.61 .09 -3.55 .08 12.95 .08 -13.46 .09 18.49 .08 -3.65 .08 -13.07 .09 9.92 .08 -.70 .08 -13.12 .09 9.32 .08 -3.81 .08 1.27 .09 -3.83 .08 3.59 .08 .55 .09 -1.31 .08 -1.14 .08 3.88 .09 -6.81 .08 5.53 .08 -18.44 .09 23.05 .08 -7.00 .08 1.83 .09 4.81 .08 -12.34 .08 18.17 .09 -19.04 .08 7.49 .08 .08 .09 5.70 .08 -7.05 .08 -8.74 .09 8.08 .08 -14.86 .08 13.32 .09 -1.93 .08 11.34 .08 -9.64 .09 -1.60 .08 -3.10 .08 .61 .09 5.43 .08 7.38 .08 -10.80 .09 5.03 .08 -7.67 .08 9.54 .09 -.05 .08 -4.26 .09 3.48 .08 4.09 .08 2.88 .09 2.61 .08 -4.66 .08 -6.69 .09 -.50 .08 12.68 .08 .25 .09 -4.62 .08 6.96 .08 -10.72 .09 1.60 .08 11.83 .08 -16.40 .09 8.23 .08 -1.30 .08 -1.01 .09 5.59 .08 -12.46 .08 3.03 .09 -5.20 .08 3.71 .08 2.08 .09 1.62 .08 1.00 .08 3.99 .09 -3.31 .08 -8.62 .08 10.85 .09 2.19 .08 -9.47 .08 5.24 .09 12.34 .08 -4.26 .08 -2.72 .09 -3.15 .08 -5.45 .08 -1.45 .09 4.54 .08 -3.26 .08 -.34 .09 2.47 .08 -1.06 .08 6.01 .09 -11.23 .08 14.59 .08 -18.96 .09 5.12 .08 9.47 .08 -10.14 .09 .99 .08 3.35 .08 -17.06 .09 11.95 .08 -4.01 .08 4.51 .09 -.13 .08 -.13 .08 3.30 .09 1.42 .08 .04 .09 -4.63 .08 9.12 .08 -10.53 .09 2.73 .08 7.11 .08 -2.00 .09 -10.40 .08 7.08 .08 6.84 .09 -3.73 .08 .37 .08 -12.99 .09 -1.94 .08 6.66 .08 -1.86 .09 4.15 .08 .80 .08 3.76 .09 -.62 .08 4.73 .08 1.39 .09 -4.79 .08 -9.87 .08 9.33 .09 -2.14 .08 2.43 .08 -3.91 .09 -7.47 .08 10.20 .08 -7.38 .09 -4.78 .08 16.77 .08 -10.89 .09 1.48 .08 4.81 .08 5.25 .09 -17.31 .08 3.53 .08 7.19 .09 -8.30 .08 -13.98 .08 21.28 .09 .52 .08 3.88 .08 -5.06 .09 -4.53 .08 4.29 .08 .53 .09 -3.34 .08 6.08 .08 3.54 .09 -11.83 .08 10.36 .08 -20.43 .09 18.98 .08 -16.33 .08 14.52 .09 -1.40 .08 -7.86 .08 10.18 .09 -11.79 .08 15.12 .09 -5.08 .08 -5.83 .08 10.14 .09 -6.81 .08 -.32 .08 -6.12 .09 11.16 .08 2.74 .08 -.10 .09 -13.28 .08 12.95 .08 2.34 .09 -2.80 .08 -7.66 .08 -4.24 .09 2.74 .08 4.91 .08 1.05 .09 .92 .08 -7.11 .08 -5.80 .09 4.60 .08 -1.88 .08 14.28 .09 -15.23 .08 8.47 .08 1.83 .09 -8.03 .08 8.96 .08 -2.83 .09 -3.31 .08 1.43 .08 5.65 .09 3.86 .08 -15.62 .08 13.15 .09 -3.86 .08 -2.88 .08 4.21 .09 1.90 .08 -2.61 .08 1.65 .09 -9.51 .08 17.04 .08 -5.60 .09 -8.28 .08 -5.76 .08 10.85 .09 -3.80 .08 4.60 .08 .48 .09 6.33 .08 -10.93 .08 8.72 .09 -4.56 .08 -.72 .08 10.10 .09 -10.82 .08 1.60 .08 -1.84 .09 2.18 .08 -.58 .09 -1.64 .08 -4.82 .08 6.68 .09 -3.94 .08 1.84 .08 3.29 .09 -.63 .08 -12.09 .08 18.33 .09 -4.72 .08 6.26 .08 2.02 .09 -17.57 .08 3.65 .08 3.55 .09 5.43 .08 -6.71 .08 .78 .09 4.49 .08 -7.04 .08 7.51 .09 4.11 .08 -7.15 .08 4.79 .09 -5.50 .08 -7.87 .08 5.83 .09 -.75 .08 -.27 .08 2.80 .09 -.71 .08 -.78 .08 -2.11 .09 -4.05 .08 3.35 .08 -1.69 .09 4.05 .08 9.33 .08 -17.67 .09 10.47 .08 -9.05 .08 5.85 .09 7.54 .08 -5.01 .08 9.90 .09 -10.42 .08 2.52 .08 -1.76 .09 1.45 .08 -2.73 .08 -.80 .09 4.61 .08 3.66 .08 -4.43 .09 -.34 .08 -.61 .08 -3.35 .09 -4.32 .08 3.78 .08 5.47 .09 -10.83 .08 14.58 .09 -5.64 .08 -3.73 .08 3.29 .09 8.32 .08 -3.00 .08 -2.57 .09 3.88 .08 6.65 .08 -18.84 .09 10.60 .08 -9.40 .08 -2.67 .09 3.23 .08 10.92 .08 -5.44 .09 -1.82 .08 7.66 .08 -3.00 .09 -3.99 .08 11.94 .08 -6.25 .09 -6.27 .08 -3.70 .08 4.12 .09 1.16 .08 6.34 .08 -3.41 .09 -3.37 .08 -2.06 .08 9.40 .09 -3.15 .08 -4.67 .08 -.88 .09 6.38 .08 1.69 .08 3.15 .09 -12.00 .08 17.41 .08 -17.62 .09 5.97 .08 7.01 .08 -1.32 .09 -10.39 .08 6.16 .08 .97 .09 -1.45 .08 -10.90 .08 12.70 .09 -18.48 .08 8.27 .08 -4.12 .09 1.75 .08 2.68 .08 5.90 .09 -7.97 .08 7.99 .08 6.99 .09 -5.68 .08 -1.20 .08 -.89 .09 -6.97 .08 2.10 .09 -.30 .08 2.85 .08 7.57 .09 -.72 .08 -11.35 .08 .18 .09 -5.48 .08 -5.41 .08 17.99 .09 -5.06 .08 -10.88 .08 7.98 .09 12.74 .08 -9.53 .08 .13 .09 1.58 .08 -3.88 .08 -.01 .09 2.35 .08 3.59 .08 -.20 .09 3.85 .08 4.22 .08 -6.62 .09 -.74 .08 -4.52 .08 -4.69 .09 17.11 .08 -6.94 .08 3.10 .09 -8.31 .08 -5.73 .08 15.73 .09 -14.82 .08 8.75 .08 -3.51 .09 5.72 .08 4.09 .08 -1.61 .09 -12.21 .08 14.71 .08 -15.58 .09 12.26 .08 -7.10 .08 -3.43 .09 2.76 .08 -3.32 .08 8.18 .09 2.38 .08 -4.49 .08 -1.10 .09 5.48 .08 -.67 .08 9.32 .09 -5.43 .08 -8.66 .08 3.93 .09 -2.59 .08 1.33 .08 2.98 .09 5.20 .08 -2.27 .09 -4.39 .08 4.02 .08 -7.82 .09 1.70 .08 -8.25 .08 7.63 .09 .58 .08 15.89 .08 -19.06 .09 5.32 .08 -.66 .08 -8.06 .09 8.67 .08 .04 .08 -8.78 .09 -1.33 .08 11.41 .08 -6.77 .09 8.55 .08 -3.93 .08 3.60 .09 -3.21 .08 8.17 .08 -3.43 .09 1.97 .08 -8.42 .08 -5.65 .09 -3.84 .08 5.52 .08 5.12 .09 -6.09 .08 15.96 .08 -12.22 .09 2.52 .08 1.02 .08 -6.83 .09 11.64 .08 -2.61 .08 .75 .09 -8.48 .08 5.17 .08 -.29 .09 7.87 .08 -13.06 .08 10.05 .09 5.60 .08 -8.58 .08 -1.20 .09 10.99 .08 -6.67 .08 5.96 .09 -2.24 .08 1.17 .08 -6.63 .09 -9.55 .08 14.39 .08 -10.23 .09 8.89 .08 -9.08 .08 9.55 .09 -7.59 .08 5.59 .09 2.85 .08 -7.76 .08 2.60 .09 -.50 .08 -5.82 .08 11.41 .09 -11.40 .08 -2.25 .08 1.61 .09 3.62 .08 .92 .08 .59 .09 -2.60 .08 -8.37 .08 12.65 .09 4.71 .08 -13.12 .08 -2.33 .09 14.01 .08 -3.64 .08 -20.89 .09 18.22 .08 -4.48 .08 1.99 .09 13.69 .08 -6.76 .08 -4.73 .09 4.33 .08 10.51 .08 -17.52 .09 8.85 .08 -8.41 .08 11.85 .09 -5.85 .08 -5.65 .08 11.20 .09 -2.73 .08 3.97 .08 -9.39 .09 -1.61 .08 -4.19 .08 9.75 .09 -13.39 .08 4.05 .08 7.25 .09 -5.78 .08 -1.43 .08 .31 .09 1.36 .08 -1.58 .08 -5.16 .09 -8.43 .08 21.43 .08 -11.65 .09 13.14 .08 -9.51 .08 17.64 .09 -32.14 .08 20.93 .08 1.57 .09 -15.80 .08 9.38 .09 -2.39 .08 1.18 .08 -12.86 .09 .95 .08 14.52 .08 -3.93 .09 -1.38 .08 2.77 .08 -2.62 .09 -.32 .08 1.17 .08 -4.54 .09 8.03 .08 -5.07 .08 -2.93 .09 6.91 .08 4.73 .08 -6.12 .09 4.09 .08 2.23 .08 5.27 .09 -1.94 .08 3.01 .08 -9.02 .09 2.44 .08 7.13 .08 -7.37 .09 -2.34 .08 -1.66 .08 8.89 .09 -2.80 .08 6.04 .08 -5.16 .09 6.37 .08 -9.81 .08 -4.80 .09 7.06 .08 .93 .08 4.42 .09 -8.38 .08 -.46 .08 1.16 .09 -2.14 .08 -7.81 .08 13.05 .09 4.22 .08 -10.49 .08 -1.46 .09 2.44 .08 -3.00 .08 9.10 .09 -8.31 .08 8.16 .08 -8.85 .09 -1.22 .08 .39 .08 .85 .09 5.76 .08 3.88 .08 -2.55 .09 -.01 .08 -16.44 .09 11.38 .08 -11.87 .08 15.61 .09 8.11 .08 -10.54 .08 3.07 .09 -2.98 .08 -8.34 .08 .29 .09 2.78 .08 3.28 .08 5.36 .09 -3.55 .08 5.66 .08 -7.66 .09 -5.27 .08 5.09 .08 -1.47 .09 -6.84 .08 12.99 .08 -5.83 .09 1.54 .08 4.14 .08 -5.10 .09 6.05 .08 -.64 .08 .68 .09 -5.58 .08 -1.19 .08 -1.85 .09 5.47 .08 5.10 .08 -2.19 .09 -2.87 .08 4.78 .08 3.07 .09 -14.19 .08 6.33 .08 5.79 .09 -7.03 .08 -.64 .08 5.45 .09 -4.36 .08 4.88 .08 -5.24 .09 4.87 .08 7.45 .08 -5.00 .09 -10.79 .08 -1.14 .08 .10 .09 4.58 .08 -6.62 .08 9.82 .09 5.40 .08 -3.05 .08 -10.48 .09 1.07 .08 .01 .09 -.86 .08 15.91 .08 -10.00 .09 -3.88 .08 6.79 .08 1.86 .09 6.23 .08 .79 .08 -10.62 .09 -8.98 .08 14.51 .08 2.25 .09 6.79 .08 -19.30 .08 3.47 .09 12.23 .08 -.21 .08 .02 .09 -7.31 .08 6.71 .08 -7.59 .09 -1.25 .08 5.29 .08 -2.37 .09 3.01 .08 -.19 .08 -15.57 .09 10.80 .08 .29 .08 -9.16 .09 4.76 .08 1.26 .08 -1.04 .09 -6.47 .08 1.60 .08 .29 .09 8.42 .08 -3.60 .08 -2.77 .09 6.92 .08 -6.84 .08 -4.01 .09 10.89 .08 -1.69 .08 -.43 .09 -7.90 .08 10.76 .08 -10.75 .09 -4.15 .08 4.76 .08 11.65 .09 -10.83 .08 6.32 .08 3.06 .09 -7.62 .08 .79 .08 2.17 .09 4.04 .08 -9.02 .08 6.22 .09 3.18 .08 -4.37 .09 2.02 .08 -2.78 .08 -8.48 .09 2.48 .08 4.02 .08 -.68 .09 -1.08 .08 -5.61 .08 7.78 .09 1.66 .08 3.03 .08 -7.25 .09 9.04 .08 -.47 .08 -9.26 .09 7.93 .08 -5.58 .08 -1.54 .09 2.94 .08 -3.88 .08 -9.47 .09 11.09 .08 -9.72 .08 5.99 .09 4.79 .08 -4.65 .08 -.54 .09 3.78 .08 2.65 .08 -6.90 .09 1.05 .08 3.37 .08 7.29 .09 -6.45 .08 3.78 .08 -9.85 .09 5.81 .08 -.78 .08 -6.64 .09 7.60 .08 .83 .08 -7.89 .09 10.97 .08 -4.60 .08 .39 .09 -.58 .08 -5.94 .08 2.72 .09 4.32 .08 -4.04 .08 3.28 .09 7.42 .08 -10.10 .08 .46 .09 9.94 .08 -10.13 .08 -3.18 .09 4.98 .08 -.05 .08 1.10 .09 -8.35 .08 7.94 .09 3.80 .08 7.57 .08 -6.85 .09 -3.72 .08 1.73 .08 -1.73 .09 -1.75 .08 -1.99 .08 8.13 .09 -5.75 .08 3.94 .08 -7.48 .09 9.83 .08 -12.36 .08 14.49 .09 -7.89 .08 3.25 .08 2.87 .09 -11.35 .08 12.70 .08 -7.03 .09 4.54 .08 -8.24 .08 -3.76 .09 12.91 .08 -6.72 .08 -1.65 .09 -5.91 .08 13.32 .08 -13.74 .09 2.30 .08 -2.52 .08 6.86 .09 .73 .08 -1.04 .08 .91 .09 -3.92 .08 11.20 .08 1.85 .09 -12.37 .08 -5.65 .08 6.31 .09 -7.77 .08 10.62 .08 .39 .09 -1.49 .08 6.84 .08 3.11 .09 -6.34 .08 -1.65 .08 7.33 .09 -.11 .08 -13.41 .08 1.94 .09 4.62 .08 -8.86 .08 1.84 .09 14.31 .08 -14.31 .08 12.57 .09 -9.54 .08 12.16 .09 -4.66 .08 2.27 .08 -12.08 .09 10.03 .08 -4.02 .08 5.87 .09 -2.99 .08 -5.30 .08 -.81 .09 1.10 .08 .99 .08 -3.52 .09 -.90 .08 -.47 .08 .09 .09 10.84 .08 -12.34 .08 -14.85 .09 26.21 .08 -13.87 .08 -1.50 .09 8.20 .08 -7.96 .08 9.25 .09 5.54 .08 -4.32 .08 .39 .09 -1.49 .08 9.07 .08 -10.69 .09 13.11 .08 2.05 .08 -11.52 .09 3.87 .08 10.34 .08 -17.36 .09 5.02 .08 3.55 .08 -9.60 .09 7.00 .08 -1.21 .08 -1.84 .09 11.84 .08 -10.00 .08 14.30 .09 -8.46 .08 -7.25 .08 8.10 .09 -3.85 .08 3.57 .08 .22 .09 -8.32 .08 3.86 .08 2.90 .09 .11 .08 -6.89 .08 10.28 .09 -.07 .08 -14.84 .08 12.93 .09 -15.39 .08 8.88 .09 -2.28 .08 .21 .08 6.70 .09 -3.75 .08 5.19 .08 8.51 .09 -6.76 .08 3.02 .08 -5.01 .09 -13.52 .08 18.14 .08 -5.56 .09 -.97 .08 -4.79 .08 .66 .09 -2.51 .08 3.58 .08 1.48 .09 -3.41 .08 2.62 .08 -7.98 .09 6.63 .08 -3.43 .08 5.48 .09 -3.19 .08 -.37 .08 4.29 .09 -5.37 .08 2.53 .08 9.25 .09 -7.57 .08 -4.73 .08 6.08 .09 2.59 .08 -.93 .08 -9.77 .09 10.71 .08 -3.31 .08 .65 .09 -.40 .08 1.44 .08 1.04 .09 4.45 .08 -7.16 .08 -2.07 .09 3.44 .08 -5.11 .08 10.03 .09 -2.19 .08 -.32 .08 -7.40 .09 6.59 .08 1.46 .08 -8.40 .09 3.29 .08 .93 .08 -7.29 .09 2.96 .08 11.51 .08 -.54 .09 5.91 .08 -11.86 .09 5.41 .08 -7.97 .08 16.35 .09 -14.90 .08 4.64 .08 6.90 .09 -1.47 .08 -11.75 .08 14.41 .09 -7.89 .08 -9.02 .08 6.05 .09 1.34 .08 2.65 .08 -15.25 .09 23.04 .08 -17.28 .08 8.45 .09 7.49 .08 -5.98 .08 -2.55 .09 -2.13 .08 5.78 .08 4.65 .09 -12.36 .08 6.38 .08 -2.22 .09 -.18 .08 -8.41 .08 11.32 .09 1.50 .08 -7.67 .08 5.71 .09 -4.15 .08 4.86 .08 -4.61 .09 -3.68 .08 -.63 .08 1.47 .09 -.48 .08 -2.22 .08 3.56 .09 -6.20 .08 -1.65 .08 10.81 .09 1.64 .08 .71 .08 -4.50 .09 1.08 .08 6.02 .08 -16.07 .09 7.48 .08 6.33 .08 4.23 .09 -5.92 .08 -3.60 .08 -7.27 .09 6.59 .08 1.96 .08 -.79 .09 2.13 .08 .01 .09 -4.52 .08 -4.26 .08 3.25 .09 1.91 .08 4.82 .08 -15.12 .09 12.61 .08 -5.86 .08 6.81 .09 3.00 .08 -5.17 .08 -7.05 .09 2.82 .08 2.56 .08 -.76 .09 -1.27 .08 -2.19 .08 1.57 .09 -.39 .08 6.74 .08 .19 .09 2.12 .08 -12.52 .08 4.17 .09 -.43 .08 1.17 .08 -4.93 .09 -.66 .08 9.18 .08 -5.00 .09 -2.17 .08 4.20 .08 13.96 .09 -8.29 .08 -8.56 .08 2.92 .09 1.81 .08 -.69 .08 -8.54 .09 4.22 .08 .73 .08 -9.13 .09 9.81 .08 1.41 .08 3.11 .09 1.81 .08 -6.19 .08 2.40 .09 4.00 .08 .82 .08 -3.94 .09 -2.45 .08 6.59 .08 -2.50 .09 -.86 .08 .25 .08 4.64 .09 -8.89 .08 2.22 .08 -1.41 .09 6.58 .08 1.80 .09 -8.43 .08 9.94 .08 -10.15 .09 4.08 .08 -1.70 .08 5.26 .09 -9.22 .08 9.06 .08 -7.39 .09 -2.35 .08 1.96 .08 .22 .09 11.95 .08 -11.88 .08 4.51 .09 7.96 .08 -8.88 .08 -2.35 .09 -.31 .08 -6.11 .08 5.29 .09 5.25 .08 -8.28 .08 -2.37 .09 10.05 .08 -4.05 .08 -.82 .09 4.53 .08 1.22 .08 -2.58 .09 8.06 .08 -16.55 .08 3.40 .09 3.97 .08 -4.49 .08 13.70 .09 -18.85 .08 15.80 .08 -1.17 .09 -1.79 .08 .47 .08 -5.46 .09 .62 .08 10.95 .08 -9.75 .09 -6.61 .08 -1.71 .08 -2.37 .09 9.63 .08 6.93 .08 -6.60 .09 3.67 .08 -4.80 .08 8.73 .09 .22 .08 -1.28 .08 3.23 .09 -15.10 .08 7.65 .08 -13.18 .09 10.87 .08 1.88 .09 .05 .08 3.53 .08 -3.16 .09 -3.57 .08 8.23 .08 -7.98 .09 5.70 .08 -6.77 .08 9.16 .09 -1.64 .08 -3.22 .08 .79 .09 6.68 .08 -3.42 .08 2.07 .09 -5.20 .08 1.57 .08 -10.78 .09 3.36 .08 9.59 .08 -.60 .09 -3.06 .08 .51 .08 -6.73 .09 6.66 .08 -7.69 .08 3.71 .09 5.92 .08 -8.95 .08 1.25 .09 3.70 .08 .36 .08 4.92 .09 -13.28 .08 3.47 .08 5.12 .09 -4.97 .08 -.70 .08 -1.71 .09 4.34 .08 5.88 .08 2.70 .09 -2.96 .08 5.14 .08 -8.86 .09 -7.09 .08 11.05 .08 -13.55 .09 9.41 .08 2.25 .08 -6.99 .09 5.01 .08 -2.24 .08 2.11 .09 -4.74 .08 6.10 .08 -5.46 .09 4.50 .08 -2.73 .08 .56 .09 -2.73 .08 .59 .09 8.94 .08 -1.61 .08 -13.98 .09 4.58 .08 14.36 .08 -9.39 .09 15.48 .08 -9.49 .08 -2.54 .09 -7.07 .08 .72 .08 3.23 .09 4.04 .08 -7.13 .08 .95 .09 -2.06 .08 1.74 .08 1.16 .09 1.37 .08 -4.47 .08 .13 .09 3.30 .08 -13.27 .08 6.47 .09 -.20 .08 9.83 .08 -9.41 .09 -2.53 .08 6.34 .08 -1.83 .09 10.19 .08 -9.92 .08 -1.21 .09 -.11 .08 8.27 .08 .30 .09 -4.04 .08 4.57 .08 -11.58 .09 14.43 .08 -4.17 .08 -.99 .09 1.41 .08 1.09 .08 -3.34 .09 .64 .08 -5.04 .08 12.33 .09 -13.19 .08 4.83 .08 4.56 .09 2.60 .08 2.59 .08 -10.49 .09 .08 .08 3.68 .08 -8.96 .09 15.26 .08 -15.04 .09 4.29 .08 5.42 .08 .04 .09 -6.65 .08 4.18 .08 1.43 .09 -13.18 .08 8.11 .08 4.90 .09 -2.18 .08 -3.32 .08 2.14 .09 10.98 .08 -13.64 .08 6.36 .09 -7.45 .08 10.95 .08 2.08 .09 -6.65 .08 -1.26 .08 11.04 .09 -13.54 .08 9.24 .08 -12.66 .09 14.87 .08 -16.91 .08 3.05 .09 -.84 .08 3.87 .08 1.76 .09 7.57 .08 4.52 .08 -3.43 .09 -6.32 .08 -2.27 .08 -9.20 .09 10.85 .08 -4.50 .08 4.95 .09 -8.77 .08 -.48 .08 1.43 .09 4.79 .08 -.75 .08 -6.85 .09 .02 .08 4.30 .08 1.01 .09 1.71 .08 1.57 .08 3.49 .09 .36 .08 -8.74 .08 -.92 .09 14.42 .08 -8.68 .08 4.81 .09 -6.26 .08 -2.12 .08 7.45 .09 -9.14 .08 4.75 .09 -3.33 .08 -3.52 .08 -3.66 .09 2.39 .08 5.66 .08 3.81 .09 -11.84 .08 5.75 .08 -8.86 .09 10.11 .08 11.71 .08 -17.46 .09 4.24 .08 -2.14 .08 2.53 .09 -4.70 .08 8.71 .08 -10.14 .09 5.96 .08 .58 .08 -1.35 .09 9.85 .08 -16.90 .08 5.83 .09 -2.96 .08 7.87 .08 -.53 .09 -7.57 .08 13.07 .08 -4.47 .09 6.62 .08 -1.50 .08 -5.68 .09 -3.06 .08 -6.30 .08 7.95 .09 6.41 .08 -6.26 .08 -4.01 .09 6.44 .08 -.68 .08 10.73 .09 -19.29 .08 1.98 .08 -.76 .09 .63 .08 7.94 .08 -3.46 .09 -7.87 .08 16.14 .08 .65 .09 -6.02 .08 -8.86 .08 -.26 .09 14.85 .08 -9.84 .08 1.23 .09 -3.18 .08 14.54 .08 -11.93 .09 2.05 .08 -3.83 .09 2.62 .08 -2.11 .08 11.04 .09 -11.60 .08 10.33 .08 -12.55 .09 5.21 .08 4.65 .08 -10.19 .09 7.15 .08 -5.34 .08 -5.02 .09 3.82 .08 -6.55 .08 8.22 .09 -2.10 .08 9.99 .08 7.16 .09 -2.01 .08 -9.15 .08 1.28 .09 9.41 .08 -.71 .08 -2.77 .09 -16.20 .08 9.89 .08 13.62 .09 -8.45 .08 -6.20 .08 1.96 .09 12.02 .08 -5.35 .08 -12.72 .09 -1.32 .08 8.81 .08 6.96 .09 -12.34 .08 -1.56 .08 -8.02 .09 9.38 .08 2.72 .08 1.17 .09 -9.38 .08 10.23 .08 -8.94 .09 -.95 .08 8.15 .08 -12.29 .09 3.50 .08 -.42 .08 7.05 .09 2.27 .08 -5.59 .08 -.89 .09 3.51 .08 -10.69 .08 12.61 .09 11.11 .08 -5.08 .08 2.05 .09 -9.05 .08 .22 .09 4.80 .08 1.12 .08 1.61 .09 -7.75 .08 6.03 .08 -9.19 .09 11.43 .08 -7.34 .08 -2.01 .09 -4.33 .08 11.01 .08 1.58 .09 -.37 .08 1.90 .08 -8.35 .09 7.47 .08 -5.36 .08 -13.29 .09 15.30 .08 -1.78 .08 4.03 .09 -2.55 .08 -4.15 .08 9.46 .09 -6.76 .08 5.14 .08 2.66 .09 -6.25 .08 -6.77 .08 7.16 .09 -2.31 .08 -6.56 .08 5.81 .09 9.82 .08 -2.38 .08 3.97 .09 -2.66 .08 -6.78 .08 1.23 .09 -5.97 .08 11.62 .08 -7.59 .09 5.90 .08 6.93 .08 -5.58 .09 -6.40 .08 -1.45 .08 3.28 .09 6.64 .08 -9.57 .08 1.53 .09 -6.43 .08 10.10 .08 -2.10 .09 .57 .08 -9.19 .08 6.57 .09 -11.41 .08 3.43 .08 1.56 .09 -.47 .08 3.64 .09 -13.59 .08 11.93 .08 -3.77 .09 -3.13 .08 6.26 .08 2.89 .09 -6.35 .08 .52 .08 8.64 .09 -9.44 .08 10.14 .08 -.26 .09 .19 .08 1.34 .08 3.62 .09 -8.49 .08 8.15 .08 -11.19 .09 7.06 .08 2.31 .08 -3.21 .09 -11.07 .08 -1.45 .08 1.63 .09 9.07 .08 -.44 .08 5.01 .09 -12.39 .08 11.15 .08 4.23 .09 -6.77 .08 -.39 .08 3.73 .09 6.68 .08 1.39 .08 .10 .09 -15.84 .08 14.88 .08 -8.06 .09 5.92 .08 -10.96 .08 5.96 .09 .02 .08 -1.66 .08 12.93 .09 -18.05 .08 13.85 .08 -3.91 .09 -8.36 .08 14.16 .08 -10.15 .09 -3.02 .08 1.97 .08 -4.18 .09 12.85 .08 -16.79 .08 4.28 .09 -6.97 .08 12.55 .08 1.75 .09 1.46 .08 3.50 .09 -9.99 .08 -3.10 .08 9.03 .09 -9.97 .08 6.77 .08 -3.48 .09 -2.11 .08 4.84 .08 4.91 .09 -.52 .08 -5.06 .08 -13.91 .09 16.30 .08 5.87 .08 -1.14 .09 -6.64 .08 8.57 .08 -3.16 .09 -9.83 .08 15.99 .08 3.77 .09 -9.01 .08 -9.05 .08 12.23 .09 -3.98 .08 -17.26 .08 18.58 .09 -4.36 .08 1.32 .08 -13.27 .09 -.73 .08 14.33 .08 8.56 .09 -10.30 .08 -.16 .08 -3.39 .09 -3.01 .08 10.05 .08 -12.02 .09 13.22 .08 -5.47 .08 -2.47 .09 -.34 .08 -.90 .08 2.11 .09 -7.31 .08 5.73 .08 -11.95 .09 28.15 .08 -12.27 .08 -7.56 .09 11.17 .08 -.59 .08 -3.58 .09 5.04 .08 -9.85 .08 1.10 .09 -.45 .08 5.58 .08 -8.25 .09 6.82 .08 -19.25 .09 26.31 .08 -3.85 .08 5.67 .09 -3.81 .08 2.21 .08 -5.92 .09 2.05 .08 -.26 .08 -4.95 .09 -4.96 .08 7.01 .08 .69 .09 -3.38 .08 6.96 .08 -6.64 .09 2.50 .08 5.19 .08 -3.41 .09 -4.56 .08 -3.30 .08 .62 .09 -1.86 .08 8.33 .08 -23.94 .09 31.91 .08 -14.37 .08 11.39 .09 -6.27 .08 2.36 .08 -11.72 .09 12.70 .08 -6.49 .08 8.53 .09 -6.47 .08 1.78 .08 -2.95 .09 7.48 .08 3.09 .08 -5.79 .09 3.35 .08 -.17 .08 -3.54 .09 -1.82 .08 -11.17 .08 18.46 .09 -5.72 .08 1.46 .08 2.35 .09 -4.25 .08 2.58 .08 4.38 .09 -11.50 .08 4.06 .08 1.04 .09 -11.63 .08 5.35 .08 12.15 .09 5.58 .08 -9.58 .08 .66 .09 -7.94 .08 11.63 .09 -8.82 .08 .91 .08 .62 .09 -4.55 .08 -.28 .08 4.47 .09 -2.50 .08 2.13 .08 -8.79 .09 9.81 .08 6.11 .08 1.67 .09 -3.71 .08 -6.34 .08 5.12 .09 -4.89 .08 .10 .08 11.41 .09 -5.73 .08 -3.62 .08 2.49 .09 1.99 .08 -1.51 .08 -1.86 .09 3.41 .08 -4.11 .08 -.54 .09 -8.67 .08 6.62 .08 4.56 .09 -4.32 .08 13.18 .08 3.01 .09 -3.20 .08 -14.67 .08 10.04 .09 .69 .08 -.78 .08 -10.97 .09 14.90 .08 2.19 .08 -3.63 .09 8.69 .08 -15.54 .08 5.07 .09 .69 .08 -6.26 .08 3.23 .09 -2.94 .08 10.46 .08 -12.73 .09 7.92 .08 -6.26 .08 10.50 .09 -8.13 .08 2.20 .08 1.74 .09 -2.24 .08 1.14 .08 -.43 .09 -3.21 .08 4.56 .09 -7.43 .08 5.04 .08 -2.35 .09 -1.54 .08 -3.88 .08 -4.60 .09 5.15 .08 7.36 .08 -1.60 .09 10.80 .08 -11.91 .08 5.20 .09 -10.44 .08 16.25 .08 -15.21 .09 11.00 .08 -1.46 .08 12.71 .09 -11.43 .08 -3.66 .08 -2.49 .09 11.01 .08 -12.73 .08 -8.10 .09 10.64 .08 -4.70 .08 -.66 .09 4.15 .08 3.72 .08 -10.21 .09 13.38 .08 6.16 .08 -10.91 .09 -5.63 .08 8.20 .08 -2.74 .09 4.77 .08 .86 .08 -6.58 .09 9.32 .08 -18.16 .08 6.62 .09 4.54 .08 -1.38 .08 -2.94 .09 3.33 .08 -9.62 .08 -4.72 .09 17.93 .08 6.22 .08 -5.50 .09 -8.47 .08 1.65 .08 6.06 .09 -3.32 .08 4.68 .08 1.59 .09 -1.02 .08 -5.57 .08 10.24 .09 -2.03 .08 -4.01 .09 -1.38 .08 -.61 .08 -4.28 .09 8.41 .08 -9.89 .08 4.84 .09 3.82 .08 1.31 .08 -15.94 .09 7.10 .08 -3.82 .08 9.38 .09 -6.22 .08 12.19 .08 -11.39 .09 2.53 .08 -5.35 .08 1.67 .09 2.36 .08 2.80 .08 -12.81 .09 12.62 .08 -8.84 .08 9.83 .09 -7.87 .08 6.94 .08 10.45 .09 -.53 .08 -15.34" fill="none" stroke="#000" stroke-width="0.8" stroke-linejoin="round"/>
<path d="M27.10 276.84l.08 -1.40 .09 3.96 .08 2.86 .08 1.81 .09 -5.03 .08 -3.35 .08 -.93 .09 4.92 .08 2.13 .08 -4.00 .09 -5.25 .08 2.58 .08 9.10 .09 -3.41 .08 -7.73 .08 4.88 .09 -4.62 .08 3.02 .08 4.36 .09 -.84 .08 3.54 .08 -1.93 .09 -1.89 .08 4.32 .08 1.14 .09 -9.42 .08 2.80 .08 -1.47 .09 4.14 .08 -3.57 .09 3.49 .08 -.40 .08 -.91 .09 -1.55 .08 2.25 .08 -1.00 .09 -1.28 .08 4.56 .08 -2.43 .09 6.25 .08 -2.34 .08 -6.71 .09 7.54 .08 -3.07 .08 .53 .09 1.48 .08 -6.96 .08 5.82 .09 .33 .08 1.02 .08 -7.42 .09 7.48 .08 -2.34 .08 1.26 .09 .57 .08 7.44 .08 -2.52 .09 4.35 .08 -5.52 .08 -.57 .09 -1.27 .08 -3.11 .08 .95 .09 4.21 .08 -4.70 .08 1.10 .09 -1.69 .08 2.76 .08 -2.51 .09 2.39 .08 -.05 .08 .40 .09 -2.42 .08 4.95 .08 -7.13 .09 .38 .08 -1.22 .08 6.09 .09 -2.91 .08 -2.68 .08 -.98 .09 6.25 .08 -4.84 .08 -.70 .09 4.89 .08 -6.15 .08 2.17 .09 .60 .08 .88 .08 .78 .09 2.69 .08 -5.74 .09 -.57 .08 -2.26 .08 5.72 .09 -.77 .08 .90 .08 -1.83 .09 -.18 .08 .30 .08 1.93 .09 2.35 .08 1.12 .08 .05 .09 6.77 .08 -4.31 .08 -5.32 .09 10.10 .08 -6.95 .08 -4.10 .09 6.85 .08 -2.81 .08 -3.26 .09 -.30 .08 -.44 .08 4.57 .09 2.43 .08 -4.13 .08 1.44 .09 3.58 .08 -9.50 .08 6.31 .09 -.97 .08 -2.69 .08 .08 .09 3.63 .08 1.16 .08 -3.42 .09 1.60 .08 2.81 .08 -1.71 .09 2.59 .08 -3.13 .08 -.27 .09 4.17 .08 -2.66 .08 -2.18 .09 1.68 .08 -4.27 .08 1.95 .09 3.08 .08 -.47 .08 2.29 .09 -3.46 .08 -3.91 .08 11.35 .09 -.62 .08 -6.05 .08 7.22 .09 -4.87 .08 -3.97 .08 3.66 .09 -1.14 .08 7.25 .09 -7.52 .08 .88 .08 .03 .09 1.23 .08 -2.19 .08 3.33 .09 1.35 .08 -1.95 .08 -3.87 .09 -.92 .08 3.94 .08 -1.57 .09 -.36 .08 -1.88 .08 10.10 .09 -4.06 .08 -6.50 .08 4.62 .09 2.41 .08 -11.14 .08 7.18 .09 -.34 .08 3.98 .08 -1.21 .09 -.93 .08 .14 .08 3.40 .09 3.29 .08 -8.44 .08 -.58 .09 10.46 .08 -10.94 .08 .08 .09 2.81 .08 1.46 .08 1.29 .09 -1.49 .08 -5.63 .08 4.76 .09 -.97 .08 6.65 .08 -5.22 .09 -4.52 .08 .45 .08 10.42 .09 -7.81 .08 -3.33 .08 4.85 .09 1.78 .08 1.11 .08 -6.10 .09 4.41 .08 -.55 .08 -3.89 .09 .87 .08 6.69 .08 -1.07 .09 -1.90 .08 -1.19 .08 1.58 .09 -4.71 .08 -.19 .09 -2.46 .08 2.51 .08 1.93 .09 9.07 .08 -9.62 .08 4.14 .09 -.57 .08 -4.16 .08 4.20 .09 -10.83 .08 6.54 .08 2.29 .09 -10.65 .08 4.42 .08 6.30 .09 -3.05 .08 -2.66 .08 2.98 .09 -1.01 .08 2.30 .08 -1.52 .09 -1.82 .08 -.23 .08 2.63 .09 4.94 .08 -2.40 .08 1.07 .09 -2.30 .08 -4.14 .08 2.19 .09 3.95 .08 -2.03 .08 -3.20 .09 -.21 .08 3.42 .08 -2.12 .09 -.34 .08 .52 .08 1.94 .09 1.62 .08 .14 .08 1.77 .09 -.38 .08 -2.53 .08 -3.13 .09 .99 .08 1.77 .08 -2.73 .09 3.28 .08 2.92 .08 -6.69 .09 -5.12 .08 9.50 .08 -2.44 .09 4.25 .08 -6.85 .08 11.15 .09 -4.06 .08 -1.57 .08 -2.59 .09 .57 .08 -2.34 .09 1.17 .08 -4.18 .08 8.91 .09 -6.65 .08 -1.15 .08 1.61 .09 -8.21 .08 11.31 .08 -3.42 .09 -.68 .08 .49 .08 -5.34 .09 6.31 .08 -4.10 .08 -1.36 .09 -1.67 .08 3.54 .08 1.07 .09 -6.01 .08 -3.08 .08 8.88 .09 -8.92 .08 10.57 .08 -2.76 .09 -2.84 .08 1.29 .08 2.59 .09 .89 .08 -3.08 .08 3.68 .09 4.30 .08 -12.42 .08 -3.11 .09 -.27 .08 -1.42 .08 .96 .09 -.90 .08 -1.15 .08 7.52 .09 -10.77 .08 5.33 .08 12.90 .09 -3.85 .08 -2.81 .08 -1.30 .09 4.18 .08 -5.61 .08 -2.54 .09 -4.43 .08 2.02 .08 -2.91 .09 .20 .08 1.52 .08 4.21 .09 -.57 .08 4.31 .08 -8.60 .09 5.58 .08 7.97 .08 -7.79 .09 4.09 .08 .14 .09 1.48 .08 -2.91 .08 -6.29 .09 4.78 .08 -1.68 .08 -4.98 .09 2.60 .08 -3.88 .08 -.92 .09 8.55 .08 .34 .08 -2.81 .09 -1.94 .08 .44 .08 .95 .09 -.76 .08 2.08 .08 -1.76 .09 3.18 .08 -.29 .08 1.64 .09 -3.05 .08 -.51 .08 2.24 .09 -1.89 .08 1.10 .08 -10.64 .09 -.65 .08 13.39 .08 -.36 .09 3.03 .08 -1.95 .08 -.02 .09 -1.88 .08 -6.03 .08 7.99 .09 -5.25 .08 5.33 .08 -.99 .09 -2.44 .08 3.15 .08 -4.25 .09 1.17 .08 -1.42 .08 1.48 .09 7.81 .08 -8.04 .08 3.79 .09 -1.06 .08 -.97 .08 2.82 .09 -6.39 .08 6.71 .08 2.53 .09 -9.11 .08 3.21 .08 -3.78 .09 3.52 .08 -6.19 .08 10.85 .09 -7.98 .08 -3.14 .09 10.47 .08 -1.20 .08 .31 .09 .47 .08 -3.86 .08 1.36 .09 4.52 .08 1.42 .08 1.16 .09 -.91 .08 -2.87 .08 .03 .09 3.35 .08 .99 .08 -6.31 .09 -.97 .08 6.30 .08 .32 .09 -1.37 .08 -7.36 .08 2.79 .09 -1.39 .08 3.83 .08 -6.43 .09 10.45 .08 -4.95 .08 1.35 .09 -5.34 .08 2.48 .08 5.80 .09 -8.41 .08 6.24 .08 1.62 .09 -5.68 .08 6.01 .08 -4.12 .09 5.46 .08 -1.84 .08 -.76 .09 4.72 .08 -3.55 .08 1.58 .09 -6.93 .08 .67 .08 5.60 .09 .41 .08 -3.31 .08 4.25 .09 -5.66 .08 2.84 .08 -4.35 .09 3.64 .08 -3.77 .08 -.71 .09 2.04 .08 7.50 .08 -8.19 .09 -1.30 .08 5.42 .08 -4.95 .09 7.07 .08 -4.28 .09 -.16 .08 1.35 .08 3.53 .09 -1.86 .08 -.80 .08 .18 .09 -6.22 .08 2.24 .08 6.13 .09 -1.09 .08 -1.07 .08 -.33 .09 -3.59 .08 3.03 .08 -5.85 .09 3.54 .08 -4.34 .08 2.86 .09 2.45 .08 -3.24 .08 2.63 .09 -.41 .08 -2.47 .08 3.75 .09 -7.20 .08 -1.89 .08 6.54 .09 .47 .08 4.78 .08 -4.67 .09 2.68 .08 -6.25 .08 5.01 .09 -1.40 .08 -4.97 .08 1.71 .09 2.64 .08 2.52 .08 -10.62 .09 10.22 .08 -.07 .08 -2.61 .09 1.52 .08 0 .08 -3.79 .09 5.43 .08 -3.22 .08 -3.41 .09 4.42 .08 5.54 .08 -11.01 .09 -.07 .08 -1.18 .08 13.25 .09 -7.84 .08 .48 .08 -2.67 .09 .17 .08 -4.67 .08 8.85 .09 -.89 .08 -8.14 .09 2.59 .08 .49 .08 3.35 .09 2.28 .08 2.66 .08 .65 .09 .11 .08 -.51 .08 -8.68 .09 .51 .08 4.25 .08 -2.32 .09 -1.08 .08 -7.94 .08 -2.01 .09 11.30 .08 -1.44 .08 -3.26 .09 .17 .08 -5.88 .08 7.96 .09 2.40 .08 4.35 .08 -5.98 .09 .81 .08 -4.64 .08 7.69 .09 4.40 .08 -10.95 .08 5.22 .09 -2.31 .08 -1.58 .08 -8.57 .09 10.35 .08 5.87 .08 -7.70 .09 1.86 .08 -10.92 .08 18.51 .09 -1.15 .08 -3.41 .08 -3.26 .09 .60 .08 1.31 .08 -.39 .09 -.02 .08 .76 .08 -.08 .09 5.13 .08 -13.56 .08 6.35 .09 -3.87 .08 .07 .08 -4.84 .09 11.61 .08 -7.80 .08 1.58 .09 6.77 .08 -5.69 .08 5.04 .09 -1.05 .08 2.41 .09 1.94 .08 -7.60 .08 5.35 .09 -3.51 .08 .65 .08 .28 .09 4.32 .08 -8.96 .08 6.11 .09 1.86 .08 -4.59 .08 9.11 .09 -10.29 .08 3.00 .08 -1.32 .09 -.75 .08 -2.81 .08 4.17 .09 2.51 .08 -2.40 .08 5.83 .09 2.91 .08 -10.84 .08 8.49 .09 -2.35 .08 -.97 .08 8.40 .09 -4.46 .08 -4.10 .08 -1.01 .09 -10.17 .08 8.73 .08 -5.61 .09 4.80 .08 1.00 .08 4.25 .09 3.80 .08 -1.90 .08 -.11 .09 -5.99 .08 1.24 .08 1.36 .09 -7.67 .08 10.46 .08 -8.98 .09 -1.23 .08 8.24 .08 2.00 .09 -8.57 .08 2.17 .08 11.61 .09 -10.84 .08 -6.13 .08 4.50 .09 6.88 .08 -6.76 .08 1.92 .09 1.80 .08 -1.94 .09 -2.76 .08 -2.25 .08 7.94 .09 -5.65 .08 4.55 .08 5.10 .09 -4.12 .08 -1.84 .08 -.21 .09 1.85 .08 -.10 .08 -6.91 .09 3.87 .08 5.74 .08 -3.56 .09 -4.13 .08 .22 .08 -6.13 .09 5.75 .08 8.16 .08 -5.49 .09 -2.87 .08 2.81 .08 .92 .09 .77 .08 -1.00 .08 -3.06 .09 5.47 .08 1.34 .08 -6.27 .09 .59 .08 5.98 .08 -9.83 .09 4.44 .08 2.21 .08 .14 .09 -2.28 .08 -.62 .08 3.02 .09 -4.54 .08 -3.56 .08 -1.91 .09 9.92 .08 -8.33 .08 5.84 .09 -.17 .08 1.42 .08 -1.98 .09 -1.06 .08 2.26 .08 -2.38 .09 -4.33 .08 9.55 .08 -6.96 .09 10.02 .08 -6.48 .08 -4.72 .09 4.70 .08 1.14 .08 -10.67 .09 3.87 .08 -1.67 .09 3.77 .08 1.88 .08 -.53 .09 -3.34 .08 -1.11 .08 6.14 .09 .22 .08 -4.70 .08 -6.34 .09 9.43 .08 -.68 .08 .59 .09 6.39 .08 -5.34 .08 -6.63 .09 1.14 .08 9.41 .08 -6.73 .09 .60 .08 -4.61 .08 -2.23 .09 5.00 .08 5.65 .08 -6.35 .09 -4.40 .08 2.42 .08 .91 .09 2.49 .08 -.38 .08 4.34 .09 -7.28 .08 -2.84 .08 2.62 .09 1.70 .08 -.55 .08 3.29 .09 -.64 .08 -7.26 .08 6.32 .09 -4.30 .08 -2.72 .08 9.51 .09 -3.21 .08 6.98 .08 -3.61 .09 -2.36 .08 -5.08 .08 2.94 .09 4.07 .08 -5.80 .08 8.22 .09 -12.93 .08 9.79 .08 1.48 .09 -3.44 .08 -1.52 .08 4.22 .09 -6.86 .08 -2.32 .08 5.55 .09 3.23 .08 -2.28 .09 -2.02 .08 1.25 .08 1.40 .09 -7.27 .08 -6.83 .08 5.48 .09 -3.22 .08 3.69 .08 -3.88 .09 2.21 .08 5.36 .08 1.61 .09 -1.53 .08 8.11 .08 -7.43 .09 .57 .08 5.24 .08 -9.70 .09 -2.01 .08 11.11 .08 -2.71 .09 .40 .08 2.05 .08 2.55 .09 -8.56 .08 1.77 .08 -3.84 .09 3.59 .08 -2.32 .08 -3.41 .09 5.15 .08 10.10 .08 -13.88 .09 8.08 .08 .25 .08 1.72 .09 -6.42 .08 8.22 .08 -2.61 .09 -3.88 .08 -2.54 .08 4.21 .09 1.69 .08 -1.27 .08 3.02 .09 -7.98 .08 2.46 .08 -2.92 .09 5.17 .08 -.43 .08 -3.51 .09 -4.61 .08 3.53 .08 4.07 .09 3.75 .08 -2.25 .08 -4.72 .09 2.20 .08 .82 .08 -.72 .09 1.25 .08 2.69 .09 -1.86 .08 -3.09 .08 -5.85 .09 6.26 .08 -3.64 .08 5.62 .09 1.13 .08 -6.14 .08 4.11 .09 -.86 .08 5.79 .08 -4.84 .09 -6.46 .08 7.51 .08 -.68 .09 -1.34 .08 -.57 .08 2.52 .09 .53 .08 1.07 .08 -3.35 .09 1.90 .08 -5.23 .08 1.04 .09 3.02 .08 -1.70 .08 1.51 .09 7.96 .08 -8.19 .08 -4.36 .09 -5.14 .08 5.78 .08 -.89 .09 -1.19 .08 9.46 .08 -2.44 .09 3.61 .08 8.40 .08 -9.51 .09 -1.90 .08 -2.96 .08 -.51 .09 -1.30 .08 3.74 .08 4.58 .09 -5.45 .08 -4.54 .08 -.36 .09 .97 .08 1.62 .08 .88 .09 1.50 .08 .53 .08 -5.60 .09 3.84 .08 -1.27 .08 2.10 .09 -7.16 .08 10.91 .08 -8.74 .09 .70 .08 6.52 .09 -4.62 .08 7.37 .08 -4.63 .09 -3.51 .08 1.89 .08 -2.69 .09 9.24 .08 -1.96 .08 -2.48 .09 -4.75 .08 1.97 .08 3.11 .09 -5.69 .08 -.79 .08 7.19 .09 2.02 .08 -6.30 .08 -.73 .09 -6.85 .08 11.43 .08 -2.44 .09 -2.99 .08 2.03 .08 .40 .09 7.68 .08 -2.51 .08 -7.99 .09 9.77 .08 -1.64 .08 -9.39 .09 -5.29 .08 11.56 .08 -4.73 .09 2.89 .08 -1.91 .08 6.65 .09 1.71 .08 -3.36 .08 -3.34 .09 1.02 .08 3.19 .08 -8.36 .09 9.48 .08 -6.92 .08 1.23 .09 .62 .08 2.44 .08 1.51 .09 3.86 .08 -6.00 .08 -2.84 .09 4.01 .08 -4.03 .08 4.39 .09 -7.33 .08 6.23 .08 .10 .09 .58 .08 -3.08 .08 5.11 .09 -1.05 .08 -8.02 .09 7.71 .08 -.66 .08 -1.69 .09 -.62 .08 2.04 .08 2.17 .09 -.35 .08 2.74 .08 -1.46 .09 -5.73 .08 .15 .08 4.46 .09 -5.56 .08 1.23 .08 1.79 .09 1.98 .08 -2.60 .08 4.95 .09 -6.81 .08 2.28 .08 -3.23 .09 2.39 .08 -3.59 .08 -2.50 .09 -5.25 .08 12.38 .08 -2.00 .09 -1.39 .08 -2.36 .08 -.28 .09 3.07 .08 -.07 .08 5.02 .09 -4.17 .08 -1.12 .08 4.67 .09 -5.08 .08 2.84 .08 -7.76 .09 5.90 .08 1.91 .08 -4.72 .09 1.19 .08 1.77 .08 -1.48 .09 8.37 .08 -6.81 .08 1.40 .09 -.27 .08 -5.54 .08 -.06 .09 5.86 .08 -.74 .08 6.04 .09 -7.06 .08 .51 .08 3.94 .09 -2.85 .08 5.62 .08 -10.70 .09 6.78 .08 .98 .09 -1.12 .08 .65 .08 1.86 .09 -4.06 .08 -3.61 .08 5.61 .09 -2.44 .08 4.02 .08 2.95 .09 -3.90 .08 -4.43 .08 4.41 .09 5.07 .08 -6.05 .08 5.56 .09 -5.38 .08 1.65 .08 -4.41 .09 1.99 .08 5.80 .08 -5.40 .09 .70 .08 -3.10 .08 3.90 .09 -9.52 .08 4.22 .08 5.07 .09 3.80 .08 -6.53 .08 5.79 .09 -10.73 .08 8.36 .08 -1.61 .09 -4.97 .08 -1.61 .08 4.31 .09 3.92 .08 1.06 .08 -.46 .09 .82 .08 -2.98 .08 -6.66 .09 2.82 .08 -.79 .08 5.75 .09 -4.88 .08 3.67 .08 -2.90 .09 10.33 .08 -10.48 .08 .25 .09 1.59 .08 1.77 .08 8.75 .09 -11.05 .08 -3.35 .08 2.72 .09 2.16 .08 -5.66 .08 5.88 .09 -1.11 .08 -2.83 .09 1.33 .08 -2.51 .08 2.25 .09 -1.06 .08 7.93 .08 -.31 .09 -7.52 .08 1.56 .08 -6.71 .09 7.09 .08 3.39 .08 -1.77 .09 .07 .08 3.63 .08 -2.59 .09 -1.79 .08 5.10 .08 -13.06 .09 3.44 .08 .89 .08 -.40 .09 .40 .08 1.19 .08 -2.71 .09 2.55 .08 2.55 .08 -.87 .09 .11 .08 -5.25 .08 .12 .09 2.28 .08 5.59 .08 -2.67 .09 3.42 .08 -.04 .08 .12 .09 -8.55 .08 7.36 .08 .19 .09 4.90 .08 -4.29 .08 -1.33 .09 -2.01 .08 -.28 .08 -6.13 .09 4.15 .08 .04 .08 5.35 .09 -7.14 .08 5.78 .08 5.77 .09 -9.56 .08 6.46 .08 -6.57 .09 1.70 .08 2.03 .08 2.56 .09 -3.36 .08 -2.26 .08 7.19 .09 -6.46 .08 1.96 .09 1.73 .08 -.37 .08 -3.40 .09 .04 .08 -3.59 .08 4.69 .09 -.12 .08 2.49 .08 6.99 .09 -5.05 .08 -3.18 .08 -5.45 .09 6.76 .08 2.39 .08 -9.33 .09 5.72 .08 -3.28 .08 1.83 .09 -1.73 .08 -5.79 .08 3.38 .09 -3.16 .08 9.95 .08 .04 .09 -4.38 .08 .84 .08 -.03 .09 -.52 .08 -1.77 .08 .74 .09 .51 .08 -4.60 .08 3.51 .09 3.79 .08 2.29 .08 -2.26 .09 10.74 .08 -9.36 .08 .12 .09 3.14 .08 .63 .08 1.38 .09 -4.12 .08 -5.33 .08 2.00 .09 7.32 .08 -4.76 .08 1.91 .09 -4.28 .08 7.07 .08 -.27 .09 -2.90 .08 -3.81 .08 -6.02 .09 1.96 .08 6.59 .08 1.77 .09 -13.12 .08 9.22 .08 5.61 .09 .13 .08 -5.03 .09 2.58 .08 -2.36 .08 -1.82 .09 4.85 .08 .88 .08 -5.90 .09 -1.67 .08 -1.97 .08 1.44 .09 9.65 .08 .67 .08 -6.38 .09 4.33 .08 -4.03 .08 3.02 .09 2.35 .08 -1.70 .08 -3.76 .09 -4.89 .08 .28 .08 3.94 .09 -2.03 .08 2.40 .08 -3.37 .09 .09 .08 3.48 .08 .41 .09 -.08 .08 -2.72 .08 1.09 .09 4.45 .08 -2.57 .08 -2.46 .09 -1.45 .08 4.10 .08 2.68 .09 3.72 .08 -6.83 .08 6.98 .09 -7.01 .08 1.22 .08 -3.08 .09 4.94 .08 .95 .08 -5.80 .09 -.85 .08 -3.38 .08 4.56 .09 -4.52 .08 1.32 .08 -.45 .09 -1.30 .08 2.34 .08 3.29 .09 1.72 .08 -3.05 .08 3.16 .09 -1.83 .08 -.50 .09 -6.35 .08 9.83 .08 -4.20 .09 4.53 .08 -8.56 .08 3.54 .09 -4.67 .08 5.08 .08 -3.35 .09 5.14 .08 -3.81 .08 3.85 .09 -5.58 .08 3.11 .08 -2.43 .09 -.61 .08 2.35 .08 2.16 .09 -5.66 .08 -1.14 .08 8.35 .09 1.08 .08 -10.83 .08 -6.14 .09 12.30 .08 5.88 .08 -1.30 .09 4.44 .08 -1.26 .08 4.43 .09 -18.70 .08 6.19 .08 6.89 .09 -10.24 .08 -.06 .08 6.51 .09 3.90 .08 1.05 .08 -13.44 .09 1.38 .08 4.37 .08 -3.32 .09 5.25 .08 .69 .08 9.42 .09 -13.13 .08 2.60 .08 .32 .09 7.83 .08 -11.20 .08 4.73 .09 -4.85 .08 -4.88 .08 9.41 .09 -1.30 .08 1.76 .08 -5.43 .09 4.15 .08 -1.03 .08 .14 .09 -1.76 .08 8.62 .09 -11.10 .08 10.71 .08 -7.85 .09 5.76 .08 -2.57 .08 -.35 .09 3.39 .08 -4.24 .08 -5.17 .09 3.51 .08 -.97 .08 -9.97 .09 13.73 .08 .53 .08 -11.64 .09 6.01 .08 4.19 .08 -8.37 .09 3.55 .08 2.77 .08 2.57 .09 2.08 .08 -2.38 .08 .01 .09 4.57 .08 -.97 .08 -2.16 .09 4.13 .08 -11.11 .08 6.83 .09 -2.57 .08 -.96 .08 -.33 .09 -.41 .08 11.98 .08 -6.39 .09 .41 .08 4.12 .08 -4.70 .09 -10.60 .08 9.17 .08 1.85 .09 -5.86 .08 2.79 .08 -4.35 .09 2.84 .08 -7.06 .08 .03 .09 5.90 .08 1.23 .08 1.91 .09 -5.86 .08 -2.14 .08 7.83 .09 -4.30 .08 7.80 .08 -7.48 .09 -5.45 .08 4.23 .08 -3.08 .09 -4.01 .08 3.71 .09 -.23 .08 3.47 .08 -.76 .09 5.98 .08 -.38 .08 -2.09 .09 -2.33 .08 -6.81 .08 .84 .09 2.91 .08 7.88 .08 -6.27 .09 2.20 .08 3.14 .08 4.46 .09 -7.29 .08 -1.76 .08 4.70 .09 -3.09 .08 -1.63 .08 5.89 .09 -9.06 .08 2.94 .08 .22 .09 4.50 .08 -9.10 .08 .82 .09 4.97 .08 .54 .08 2.16 .09 -1.03 .08 3.93 .08 .41 .09 -2.30 .08 -5.36 .08 9.61 .09 -12.22 .08 6.61 .08 2.36 .09 -3.97 .08 7.55 .08 4.98 .09 -2.54 .08 -4.96 .08 -.91 .09 -6.76 .08 3.70 .08 .50 .09 -.96 .08 -.04 .08 -1.95 .09 -6.25 .08 7.14 .08 -.87 .09 8.13 .08 -5.68 .08 -1.18 .09 1.99 .08 -1.65 .08 -1.82 .09 .55 .08 -6.86 .09 4.19 .08 5.05 .08 -15.32 .09 4.99 .08 8.82 .08 -2.25 .09 1.32 .08 -8.68 .08 5.51 .09 4.60 .08 .31 .08 -.11 .09 -7.02 .08 5.16 .08 -6.85 .09 4.52 .08 -2.94 .08 -8.17 .09 10.47 .08 1.61 .08 -10.41 .09 16.38 .08 -2.52 .08 -9.78 .09 1.36 .08 12.17 .08 -10.38 .09 9.62 .08 -9.45 .08 -7.36 .09 15.23 .08 -3.45 .08 .10 .09 -6.46 .08 -.49 .08 5.79 .09 -4.60 .08 -3.46 .08 12.42 .09 -6.02 .08 7.51 .08 -6.93 .09 2.33 .08 -.15 .08 -6.97 .09 11.61 .08 -8.25 .08 2.01 .09 4.98 .08 -2.66 .08 3.39 .09 -1.63 .08 1.05 .08 -1.22 .09 2.53 .08 -3.44 .08 3.83 .09 -5.73 .08 5.97 .08 -14.24 .09 7.78 .08 2.98 .09 1.14 .08 .54 .08 5.18 .09 3.45 .08 -9.81 .08 -6.00 .09 2.98 .08 1.83 .08 2.23 .09 -1.17 .08 3.11 .08 -1.91 .09 -.15 .08 -.41 .08 -3.60 .09 2.05 .08 12.88 .08 -11.49 .09 -2.59 .08 -4.76 .08 12.20 .09 -5.56 .08 -2.27 .08 11.47 .09 -4.92 .08 -12.08 .08 6.01 .09 5.92 .08 -1.74 .08 -7.97 .09 11.54 .08 2.48 .08 -11.31 .09 -2.17 .08 2.85 .08 8.29 .09 .55 .08 -1.70 .08 -3.90 .09 3.03 .08 2.45 .08 -6.97 .09 -1.00 .08 5.05 .08 3.05 .09 -3.77 .08 -.10 .08 -3.87 .09 6.60 .08 -12.65 .08 7.24 .09 -2.12 .08 2.58 .08 -3.10 .09 6.66 .08 -2.33 .08 -.78 .09 4.15 .08 -3.65 .08 -2.73 .09 1.55 .08 3.43 .09 -6.77 .08 3.65 .08 .53 .09 -.20 .08 -1.28 .08 7.52 .09 -16.39 .08 9.56 .08 -4.36 .09 8.44 .08 -11.72 .08 10.38 .09 -11.72 .08 9.55 .08 .88 .09 -1.68 .08 -4.55 .08 2.26 .09 4.22 .08 -1.60 .08 -3.86 .09 .12 .08 11.81 .08 -1.02 .09 -.67 .08 -4.85 .08 -1.06 .09 -.43 .08 .35 .08 -3.73 .09 -.45 .08 -2.05 .08 5.08 .09 -3.94 .08 5.07 .08 7.09 .09 -7.42 .08 5.18 .08 2.91 .09 -15.16 .08 1.69 .08 8.39 .09 -4.26 .08 4.16 .08 -.35 .09 -5.69 .08 7.42 .08 3.53 .09 -4.66 .08 -9.27 .08 3.71 .09 .89 .08 7.86 .08 -7.80 .09 -.64 .08 2.47 .08 1.71 .09 -2.97 .08 1.46 .08 .47 .09 3.63 .08 .43 .09 -3.55 .08 -2.46 .08 .25 .09 -4.72 .08 7.35 .08 -1.28 .09 -1.38 .08 -8.23 .08 17.72 .09 -2.87 .08 .72 .08 -4.48 .09 .97 .08 8.31 .08 -12.91 .09 7.29 .08 -1.30 .08 -1.16 .09 1.68 .08 -4.58 .08 4.88 .09 -9.36 .08 12.91 .08 -2.33 .09 -6.29 .08 -4.15 .08 7.62 .09 1.79 .08 -4.98 .08 9.30 .09 -4.68 .08 -3.78 .08 -5.37 .09 5.17 .08 -.80 .08 3.68 .09 1.97 .08 -4.57 .08 1.95 .09 2.96 .08 -2.29 .08 -4.89 .09 1.83 .08 -2.86 .08 1.46 .09 -1.34 .08 -4.35 .08 8.29 .09 -2.33 .08 2.44 .08 -10.45 .09 11.71 .08 -.95 .08 -5.70 .09 .36 .08 2.48 .08 -1.45 .09 2.09 .08 -4.11 .08 -2.59 .09 4.27 .08 9.53 .09 -11.51 .08 -.84 .08 -1.01 .09 4.93 .08 5.02 .08 -8.15 .09 2.71 .08 1.68 .08 -.16 .09 -2.86 .08 5.98 .08 .13 .09 -8.39 .08 13.08 .08 -15.91 .09 -3.29 .08 10.48 .08 -1.09 .09 -2.78 .08 4.30 .08 4.75 .09 -5.55 .08 -2.25 .08 -1.72 .09 -1.13 .08 2.39 .08 8.85 .09 -5.75 .08 .39 .08 -4.60 .09 8.72 .08 -9.91 .08 7.49 .09 1.19 .08 -5.97 .08 -1.13 .09 6.09 .08 -2.37 .08 -.80 .09 2.69 .08 -6.31 .08 2.36 .09 10.47 .08 -9.04 .08 7.48 .09 -10.07 .08 5.57 .08 -3.37 .09 1.48 .08 4.45 .08 5.80 .09 -10.03 .08 5.20 .08 -4.30 .09 -.67 .08 -3.31 .08 -2.04 .09 2.92 .08 -1.96 .08 4.38 .09 -4.12 .08 4.38 .09 1.09 .08 7.83 .08 -1.22 .09 -6.15 .08 -3.86 .08 4.50 .09 1.91 .08 -3.69 .08 -2.61 .09 -2.56 .08 6.94 .08 8.20 .09 -9.53 .08 3.98 .08 .09 .09 -1.35 .08 -.15 .08 -8.76 .09 7.22 .08 3.82 .08 .21 .09 4.02 .08 -6.97 .08 5.26 .09 1.35 .08 -10.63 .08 3.66 .09 -2.64 .08 4.02 .08 -9.68 .09 2.35 .08 5.44 .08 4.48 .09 -3.18 .08 -6.53 .08 9.99 .09 -6.96 .08 -1.31 .08 5.05 .09 1.03 .08 -4.46 .08 -6.24 .09 3.73 .08 3.74 .08 1.08 .09 -8.30 .08 6.06 .08 -7.11 .09 7.36 .08 -9.43 .08 5.90 .09 -2.79 .08 1.51 .08 -2.03 .09 -2.21 .08 15.38 .08 -.50 .09 -2.38 .08 -3.29 .08 5.23 .09 -9.15 .08 3.75 .09 5.05 .08 -2.89 .08 4.53 .09 -6.04 .08 -.70 .08 2.65 .09 -4.81 .08 .19 .08 9.47 .09 -11.67 .08 9.64 .08 -3.84 .09 2.93 .08 -2.25 .08 .39 .09 5.21 .08 -9.49 .08 -.54 .09 4.76 .08 -8.84 .08 8.86 .09 -1.10 .08 -3.81 .08 -3.79 .09 -3.46 .08 16.21 .08 -13.17 .09 .67 .08 9.10 .08 -2.44 .09 .29 .08 -.15 .08 -3.04 .09 -3.63 .08 1.46 .08 6.96 .09 1.78 .08 2.03 .08 -4.61 .09 -8.08 .08 8.45 .08 -3.75 .09 -10.25 .08 16.97 .08 -5.06 .09 -1.70 .08 -1.62 .08 1.86 .09 1.65 .08 -1.22 .08 -.27 .09 1.49 .08 .58 .08 8.15 .09 -8.03 .08 -3.80 .08 -1.71 .09 2.17 .08 .10 .09 .05 .08 -.72 .08 1.63 .09 4.12 .08 4.25 .08 -5.55 .09 -3.38 .08 -4.16 .08 -.36 .09 7.13 .08 -4.13 .08 -.69 .09 -2.20 .08 3.06 .08 -7.98 .09 2.76 .08 1.94 .08 8.92 .09 -4.26 .08 -2.20 .08 7.19 .09 -3.93 .08 4.16 .08 -.48 .09 -3.13 .08 -3.30 .08 2.48 .09 -6.13 .08 -2.02 .08 12.51 .09 -4.92 .08 3.25 .08 1.96 .09 .10 .08 -18.58 .08 7.92 .09 8.54 .08 -14.00 .08 10.69 .09 -4.50 .08 -2.22 .08 6.46 .09 -6.44 .08 9.28 .08 2.50 .09 -12.72 .08 4.09 .08 7.36 .09 -3.78 .08 -3.75 .08 8.34 .09 -13.04 .08 3.08 .08 1.00 .09 -1.20 .08 7.93 .08 -12.04 .09 8.12 .08 -2.09 .08 9.67 .09 -1.96 .08 -6.82 .09 -1.71 .08 4.15 .08 -4.56 .09 -1.23 .08 4.08 .08 -5.37 .09 11.82 .08 -6.58 .08 -.09 .09 -5.02 .08 .59 .08 7.32 .09 -1.64 .08 5.24 .08 -2.11 .09 -5.34 .08 -5.88 .08 7.74 .09 -.81 .08 -8.22 .08 9.86 .09 -5.21 .08 3.24 .08 -5.99 .09 6.51 .08 8.64 .08 -14.12 .09 5.16 .08 9.63 .08 -15.48 .09 3.66 .08 .78 .08 1.51 .09 -7.35 .08 9.23 .08 .66 .09 9.31 .08 -9.41 .08 -2.00 .09 2.27 .08 -11.81 .08 12.08 .09 5.42 .08 -6.04 .08 -.88 .09 -.21 .08 3.48 .08 -7.05 .09 10.49 .08 -9.31 .08 .94 .09 9.43 .08 -8.09 .08 -5.35 .09 10.46 .08 -5.25 .08 4.06 .09 -7.39 .08 -7.85 .08 8.82 .09 5.25 .08 -6.51 .09 6.09 .08 2.56 .08 -2.75 .09 .06 .08 1.95 .08 -1.52 .09 -3.43 .08 5.97 .08 -.59 .09 -1.76 .08 3.20 .08 -15.15 .09 11.99 .08 .65 .08 -8.90 .09 17.30 .08 -5.26 .08 -7.67 .09 -1.63 .08 2.55 .08 1.17 .09 -4.78 .08 5.25 .08 2.46 .09 -1.16 .08 2.30 .08 -7.63 .09 1.13 .08 5.97 .08 -2.16 .09 1.73 .08 -4.27 .08 4.21 .09 -1.68 .08 .71 .08 -1.75 .09 -.63 .08 -2.99 .08 7.37 .09 -1.55 .08 -3.01 .08 2.52 .09 3.28 .08 2.00 .08 -1.21 .09 1.63 .08 -8.62 .08 -.38 .09 1.18 .08 -2.46 .08 11.67 .09 -5.77 .08 2.63 .08 9.86 .09 -4.91 .08 -12.27 .08 7.48 .09 -6.67 .08 7.24 .08 -11.36 .09 4.43 .08 -1.05 .09 13.95 .08 -16.08 .08 12.72 .09 -1.21 .08 -3.40 .08 2.16 .09 9.12 .08 -10.03 .08 -5.86 .09 8.25 .08 -1.69 .08 -8.39 .09 6.78 .08 -1.88 .08 -5.46 .09 -.09 .08 1.86 .08 -3.12 .09 6.12 .08 -.66 .08 -12.50 .09 8.89 .08 4.24 .08 -4.48 .09 5.03 .08 1.60 .08 -8.91 .09 5.94 .08 -7.22 .08 11.91 .09 -7.08 .08 -5.63 .08 .75 .09 -.52 .08 11.59 .08 -10.96 .09 2.77 .08 1.26 .08 -4.59 .09 8.70 .08 -13.98 .08 17.19 .09 -8.92 .08 4.35 .08 3.37 .09 .78 .08 -7.87 .08 8.95 .09 -4.12 .08 -.46 .08 .44 .09 7.12 .08 -3.97 .08 1.47 .09 -.91 .08 -12.16 .08 9.22 .09 6.58 .08 -7.39 .08 -2.99 .09 -3.93 .08 19.85 .09 -11.99 .08 3.34 .08 -6.70 .09 4.47 .08 4.99 .08 -13.23 .09 6.03 .08 -2.01 .08 -4.80 .09 3.18 .08 5.97 .08 2.88 .09 1.99 .08 -5.61 .08 -6.84 .09 9.19 .08 -2.61 .08 2.16 .09 -6.26 .08 4.62 .08 9.29 .09 -6.31 .08 -.85 .08 -1.40 .09 -5.05 .08 2.13 .08 -.41 .09 4.01 .08 -2.79 .08 -2.57 .09 7.78 .08 -5.03 .08 5.42 .09 -3.50 .08 4.19 .08 -2.95 .09 1.75 .08 -3.44 .08 -9.98 .09 -.74 .08 9.12 .08 8.43 .09 -10.05 .08 -1.67 .08 13.88 .09 -15.71 .08 1.46 .08 .37 .09 -1.03 .08 2.03 .08 9.27 .09 -4.71 .08 1.91 .08 -8.12 .09 10.04 .08 -1.23 .08 -1.66 .09 1.84 .08 -3.70 .08 -2.00 .09 -.35 .08 -.43 .09 .14 .08 .40 .08 7.13 .09 -9.20 .08 5.92 .08 3.53 .09 2.57 .08 -9.54 .08 .78 .09 -.57 .08 -2.46 .08 1.97 .09 15.75 .08 -11.68 .08 8.34 .09 -3.21 .08 2.18 .08 -.92 .09 -4.42 .08 -3.09 .08 10.39 .09 -2.72 .08 -1.71 .08 1.19 .09 -7.21 .08 3.12 .08 .31 .09 -6.33 .08 1.23 .08 4.91 .09 -10.04 .08 11.34 .08 .38 .09 -3.03 .08 3.29 .08 -11.84 .09 7.16 .08 1.42 .08 -.41 .09 1.71 .08 -5.75 .08 7.92 .09 -6.59 .08 .22 .08 1.12 .09 -7.01 .08 .94 .08 8.34 .09 -8.50 .08 2.14 .08 6.68 .09 -6.46 .08 2.03 .08 -2.49 .09 .32 .08 12.04 .08 -4.96 .09 .30 .08 -10.74 .08 -.87 .09 5.94 .08 10.72 .09 .82 .08 -13.91 .08 -1.49 .09 9.54 .08 -2.48 .08 2.27 .09 .59 .08 -8.42 .08 4.25 .09 .54 .08 5.12 .08 -5.93 .09 -5.12 .08 12.85 .08 .17 .09 -4.94 .08 -5.74 .08 -1.28 .09 8.58 .08 -6.94 .08 4.63 .09 1.62 .08 -5.62 .08 -8.48 .09 11.03 .08 -4.11 .08 -2.39 .09 6.51 .08 2.61 .08 -2.33 .09 2.84 .08 -10.67 .08 12.39 .09 3.07 .08 -8.17 .08 -.42 .09 4.69 .08 5.74 .08 -5.19 .09 -2.04 .08 -4.25 .08 11.19 .09 1.50 .08 -6.21 .08 5.96 .09 -10.89 .08 4.36 .08 -9.25 .09 1.35 .08 3.64 .08 1.67 .09 -.92 .08 -3.56 .08 .16 .09 .47 .08 .78 .08 .16 .09 4.37 .08 3.79 .08 -13.09 .09 10.88 .08 -5.14 .09 .33 .08 .95 .08 3.34 .09 .56 .08 -9.46 .08 9.88 .09 -9.10 .08 5.46 .08 -.25 .09 -8.00 .08 8.49 .08 -1.71 .09 -2.67 .08 9.62 .08 -6.46 .09 .23 .08 6.27 .08 -6.46 .09 -1.33 .08 -5.86 .08 9.35 .09 -.88 .08 2.89 .08 -10.58 .09 8.22 .08 3.79 .08 -2.03 .09 -4.00 .08 -5.09 .08 6.76 .09 -.43 .08 -5.37 .08 7.75 .09 -2.45 .08 1.47 .08 7.22 .09 -7.99 .08 -6.37 .08 -.78 .09 11.25 .08 -2.23 .08 -2.16 .09 -3.73 .08 3.16 .08 -4.58 .09 4.75 .08 -2.61 .08 -.40 .09 4.42 .08 -5.59 .08 4.14 .09 -12.05 .08 8.33 .08 10.38 .09 -3.91 .08 -6.58 .08 2.00 .09 -.87 .08 -.49 .08 9.05 .09 -7.89 .08 .51 .09 -3.57 .08 1.58 .08 -2.80 .09 3.34 .08 .63 .08 -1.32 .09 2.28 .08 1.58 .08 1.15 .09 -2.24 .08 3.91 .08 -1.76 .09 2.11 .08 -3.76 .08 3.30 .09 -4.95 .08 -6.08 .08 6.70 .09 -.39 .08 -3.46 .08 1.91 .09 1.21 .08 12.83 .08 -6.55 .09 5.38 .08 -3.29 .08 -1.94 .09 -2.23 .08 -5.58 .08 8.26 .09 -6.99 .08 5.76 .08 -2.62 .09 9.27 .08 -2.60 .08 3.56 .09 -6.47 .08 -1.81 .08 2.81 .09 5.84 .08 -5.92 .08 -1.98 .09 -6.60 .08 1.98 .08 .40 .09 4.76 .08 .84 .08 -1.92 .09 .11 .08 5.32 .08 -1.71 .09 -2.68 .08 1.77 .08 -3.29 .09 3.12 .08 -10.89 .08 3.56 .09 2.36 .08 2.46 .08 3.24 .09 -9.99 .08 7.68 .09 -1.44 .08 -5.67 .08 2.09 .09 4.87 .08 -1.20 .08 -2.46 .09 3.81 .08 -1.69 .08 5.07 .09 -6.08 .08 4.32 .08 -5.63 .09 2.93 .08 -1.39 .08 1.55 .09 2.51 .08 -6.75 .08 1.85 .09 1.55 .08 -1.53 .08 3.48 .09 -6.97 .08 7.08 .08 3.14 .09 .28 .08 -5.05 .08 -2.12 .09 -2.78 .08 8.59" fill="none" stroke="#ff0000" stroke-width="0.8" stroke-linejoin="round"/>
<path d="M265.10 274.00l.08 -.96 .09 -3.42 .08 .76 .08 -.22 .09 -.35 .08 -1.43 .08 2.02 .09 -2.12 .08 -.45 .08 -1.56 .09 -2.69 .08 -.03 .08 3.52 .09 -4.36 .08 4.03 .08 -1.45 .09 .72 .08 -7.48 .08 3.68 .09 -9.04 .08 .22 .08 3.91 .09 .06 .08 -6.60 .08 -.97 .09 5.39 .08 -4.79 .08 6.84 .09 -3.64 .08 1.28 .08 -2.33 .09 1.65 .08 -4.00 .08 4.53 .09 -6.20 .08 .15 .09 -2.10 .08 4.53 .08 -2.60 .09 -.94 .08 10.22 .08 -6.44 .09 .13 .08 2.45 .08 4.44 .09 -6.29 .08 4.47 .08 -1.76 .09 -5.56 .08 6.97 .08 -1.41 .09 -4.26 .08 .29 .08 -2.76 .09 -.83 .08 3.89 .08 3.19 .09 -4.32 .08 3.72 .08 .95 .09 -2.12 .08 -.40 .08 2.72 .09 -6.63 .08 6.24 .08 -8.35 .09 7.78 .08 -.82 .08 -5.17 .09 -2.71 .08 5.00 .08 -.60 .09 .48 .08 -4.03 .08 6.65 .09 -5.30 .08 2.45 .08 -.41 .09 4.91 .08 -8.11 .08 4.31 .09 5.06 .08 -5.86 .08 -2.56 .09 6.63 .08 -3.40 .08 4.31 .09 -4.85 .08 4.80 .08 1.34 .09 1.55 .08 -7.54 .08 7.41 .09 -7.46 .08 -.90 .08 2.38 .09 2.16 .08 -1.43 .08 3.98 .09 .34 .08 .66 .08 -2.40 .09 6.42 .08 -17.38 .08 3.68 .09 2.61 .08 -2.45 .09 -4.88 .08 5.92 .08 1.74 .09 -7.12 .08 12.23 .08 .62 .09 .39 .08 -4.92 .08 2.26 .09 -4.27 .08 4.54 .08 -2.84 .09 4.44 .08 -2.04 .08 4.02 .09 1.61 .08 .13 .08 -7.58 .09 -1.44 .08 8.03 .08 -2.69 .09 2.07 .08 .03 .08 1.09 .09 -.09 .08 -2.65 .08 -.92 .09 -2.20 .08 8.36 .08 -5.84 .09 2.80 .08 -2.11 .08 2.01 .09 -3.51 .08 .41 .08 .22 .09 -1.82 .08 -.45 .08 .85 .09 -1.33 .08 -2.75 .08 10.49 .09 -10.55 .08 2.44 .08 7.43 .09 -8.75 .08 4.41 .08 .52 .09 -4.36 .08 -4.46 .08 -.54 .09 4.16 .08 2.44 .08 -9.00 .09 5.92 .08 -1.70 .08 4.31 .09 -2.24 .08 -2.72 .08 -.24 .09 2.97 .08 4.88 .08 3.70 .09 -8.29 .08 -2.22 .08 1.07 .09 -.56 .08 .42 .08 -3.69 .09 -.49 .08 -2.66 .09 2.86 .08 4.40 .08 -4.57 .09 4.72 .08 -.55 .08 -4.46 .09 6.19 .08 -10.43 .08 7.59 .09 1.80 .08 -7.06 .08 .67 .09 4.34 .08 1.40 .08 -2.82 .09 .12 .08 3.59 .08 -3.26 .09 -6.20 .08 2.72 .08 1.47 .09 -4.30 .08 8.17 .08 -3.74 .09 6.52 .08 -7.17 .08 1.44 .09 -2.19 .08 8.77 .08 .07 .09 1.35 .08 -1.26 .08 -.15 .09 -.19 .08 -9.84 .08 7.32 .09 -1.62 .08 -.18 .08 -3.40 .09 9.20 .08 -5.82 .08 -7.10 .09 6.76 .08 -2.86 .08 -2.87 .09 1.65 .08 -2.30 .08 -5.06 .09 4.18 .08 7.53 .08 -1.51 .09 -2.14 .08 -4.87 .08 1.23 .09 2.08 .08 3.60 .08 -6.80 .09 -.17 .08 9.32 .08 -5.42 .09 -1.99 .08 .06 .08 .37 .09 8.93 .08 -4.49 .08 -5.61 .09 -1.72 .08 11.19 .09 -.05 .08 -.50 .08 1.00 .09 -13.81 .08 3.41 .08 8.20 .09 -3.91 .08 3.92 .08 -5.41 .09 -2.51 .08 4.69 .08 -2.62 .09 .28 .08 1.25 .08 -.44 .09 6.03 .08 -.17 .08 -8.62 .09 1.36 .08 -1.17 .08 5.37 .09 -7.81 .08 6.83 .08 .58 .09 -.46 .08 -5.71 .08 2.96 .09 -2.22 .08 5.83 .08 1.29 .09 -7.42 .08 2.17 .08 4.83 .09 -1.97 .08 6.75 .08 -7.19 .09 2.96 .08 -5.41 .08 9.49 .09 -4.10 .08 1.34 .08 -2.41 .09 -8.63 .08 .94 .08 -.13 .09 4.67 .08 -3.85 .08 2.29 .09 1.62 .08 -.66 .08 6.52 .09 -3.08 .08 -7.73 .08 5.58 .09 9.00 .08 -10.99 .08 9.04 .09 2.86 .08 -10.08 .08 2.19 .09 -6.78 .08 9.30 .08 -8.63 .09 -3.06 .08 3.50 .08 .10 .09 .26 .08 1.45 .08 -.96 .09 -3.44 .08 8.76 .09 6.31 .08 -8.03 .08 -1.19 .09 -1.14 .08 6.33 .08 -4.55 .09 .44 .08 -7.34 .08 4.66 .09 1.85 .08 6.94 .08 -6.62 .09 -6.70 .08 11.75 .08 .97 .09 1.97 .08 -17.66 .08 11.46 .09 1.11 .08 .61 .08 -2.37 .09 -4.72 .08 5.17 .08 -.61 .09 3.63 .08 .27 .08 -4.45 .09 2.72 .08 -9.09 .08 1.99 .09 2.69 .08 5.20 .08 -3.78 .09 6.15 .08 -4.39 .08 -4.84 .09 4.09 .08 -2.90 .08 -.50 .09 -.82 .08 11.35 .08 -1.58 .09 -9.63 .08 10.30 .08 .80 .09 -6.58 .08 6.01 .08 8.33 .09 -8.33 .08 .51 .08 4.04 .09 -11.57 .08 -.76 .08 -1.78 .09 5.45 .08 4.18 .08 -6.79 .09 -4.05 .08 5.12 .08 -4.44 .09 5.55 .08 -3.69 .08 .91 .09 1.85 .08 1.76 .08 -7.71 .09 -.34 .08 12.20 .08 5.27 .09 -10.55 .08 -10.91 .09 10.82 .08 3.01 .08 -12.68 .09 5.81 .08 -3.17 .08 .86 .09 -.83 .08 10.04 .08 -2.84 .09 .28 .08 6.39 .08 -11.84 .09 -5.65 .08 12.40 .08 4.57 .09 -6.36 .08 -.75 .08 -2.60 .09 -1.44 .08 11.55 .08 -3.35 .09 -1.20 .08 -5.72 .08 -5.32 .09 -.18 .08 -.75 .08 6.72 .09 -5.07 .08 .57 .08 5.96 .09 1.30 .08 -2.29 .08 1.62 .09 -2.20 .08 -7.25 .08 7.42 .09 -1.29 .08 -2.47 .08 2.24 .09 -1.90 .08 7.99 .08 -5.21 .09 1.94 .08 2.78 .08 -3.16 .09 1.23 .08 2.57 .08 -.23 .09 -6.62 .08 -2.23 .08 -.70 .09 2.49 .08 -6.86 .08 6.73 .09 -1.50 .08 1.94 .08 -1.62 .09 5.88 .08 -.27 .08 2.79 .09 -7.83 .08 2.18 .08 .05 .09 8.30 .08 -.01 .08 -8.05 .09 4.09 .08 5.87 .08 -12.96 .09 4.04 .08 5.79 .09 -2.51 .08 -7.81 .08 9.55 .09 -.81 .08 -1.72 .08 -5.90 .09 6.66 .08 7.19 .08 -3.42 .09 1.04 .08 -4.07 .08 6.36 .09 -7.63 .08 4.12 .08 -3.59 .09 -5.58 .08 11.94 .08 -12.66 .09 .77 .08 1.65 .08 -4.26 .09 1.20 .08 7.79 .08 -2.02 .09 1.34 .08 3.13 .08 7.21 .09 -12.07 .08 12.10 .08 -9.75 .09 -.89 .08 -9.37 .08 5.31 .09 8.67 .08 2.09 .08 -6.65 .09 6.39 .08 -.83 .08 -6.86 .09 -3.97 .08 3.08 .08 2.43 .09 2.07 .08 3.71 .08 -9.30 .09 3.62 .08 -1.91 .08 1.43 .09 3.85 .08 1.77 .08 -5.41 .09 1.27 .08 -3.63 .08 .21 .09 2.24 .08 .93 .08 -1.77 .09 -2.35 .08 .86 .08 4.52 .09 9.67 .08 -7.93 .08 .44 .09 -.84 .08 .31 .08 8.89 .09 -9.72 .08 -1.78 .08 -3.74 .09 5.22 .08 -4.57 .09 -.91 .08 .16 .08 -1.85 .09 5.75 .08 -7.89 .08 16.67 .09 -19.10 .08 4.94 .08 6.43 .09 1.97 .08 -4.14 .08 2.33 .09 .80 .08 -2.44 .08 2.22 .09 -1.35 .08 -2.19 .08 -2.91 .09 6.15 .08 -1.08 .08 2.44 .09 5.19 .08 -5.44 .08 3.40 .09 -8.11 .08 3.25 .08 -.70 .09 -1.36 .08 1.20 .08 4.25 .09 -9.06 .08 -.37 .08 2.23 .09 -9.67 .08 7.53 .08 3.49 .09 -1.60 .08 .60 .08 -1.14 .09 6.09 .08 -5.33 .08 1.05 .09 -14.81 .08 13.75 .08 4.61 .09 -2.70 .08 -4.06 .08 7.84 .09 -10.32 .08 3.24 .08 4.86 .09 -5.28 .08 3.33 .08 -3.21 .09 -4.27 .08 1.95 .08 .30 .09 -.98 .08 6.02 .08 -3.89 .09 -3.36 .08 -2.56 .08 3.90 .09 5.17 .08 -5.58 .08 3.82 .09 -.96 .08 -4.94 .08 -3.86 .09 7.17 .08 -11.31 .09 8.46 .08 -10.72 .08 11.54 .09 -6.66 .08 3.02 .08 7.74 .09 -9.22 .08 5.21 .08 .52 .09 .83 .08 .56 .08 -2.58 .09 -.28 .08 -2.65 .08 5.93 .09 -3.35 .08 3.64 .08 1.65 .09 -5.60 .08 -.99 .08 3.35 .09 -2.24 .08 5.02 .08 -13.35 .09 9.11 .08 2.96 .08 -1.72 .09 1.47 .08 -3.51 .08 -.19 .09 3.34 .08 -6.51 .08 -2.35 .09 7.63 .08 -1.03 .08 -.82 .09 1.00 .08 .55 .08 -4.71 .09 3.10 .08 .10 .08 -6.06 .09 4.15 .08 1.55 .08 -3.81 .09 6.90 .08 -3.77 .08 3.40 .09 -1.13 .08 -10.09 .08 2.53 .09 5.46 .08 -1.72 .08 .90 .09 7.15 .08 -8.45 .08 5.56 .09 -4.36 .08 -.95 .08 5.19 .09 -.97 .08 1.58 .08 -.87 .09 1.51 .08 .20 .08 -8.88 .09 4.12 .08 .91 .09 5.01 .08 -6.32 .08 3.01 .09 -1.63 .08 -6.69 .08 7.03 .09 2.93 .08 -2.66 .08 3.85 .09 -2.09 .08 .43 .08 -4.52 .09 .98 .08 3.64 .08 -.82 .09 -5.01 .08 3.13 .08 .99 .09 2.80 .08 .22 .08 -6.26 .09 4.91 .08 -8.96 .08 4.77 .09 -3.02 .08 11.23 .08 -6.23 .09 -.46 .08 -3.48 .08 6.79 .09 -5.56 .08 3.79 .08 2.71 .09 -5.17 .08 5.51 .08 -9.16 .09 9.39 .08 -10.47 .08 8.14 .09 -.11 .08 1.65 .08 7.10 .09 -18.38 .08 10.70 .08 -2.08 .09 2.29 .08 -1.15 .08 .99 .09 -5.77 .08 1.47 .08 4.76 .09 -6.79 .08 8.74 .08 -7.10 .09 3.17 .08 -1.67 .08 4.60 .09 -.15 .08 2.80 .08 .03 .09 -6.11 .08 1.90 .08 -.65 .09 4.29 .08 -9.45 .08 6.86 .09 -3.01 .08 -4.13 .08 4.03 .09 -2.91 .08 8.73 .09 -9.24 .08 7.64 .08 -4.22 .09 4.86 .08 -9.68 .08 3.11 .09 3.67 .08 -2.66 .08 -2.78 .09 7.23 .08 2.27 .08 -.80 .09 -1.44 .08 3.21 .08 -5.56 .09 4.81 .08 1.29 .08 -11.67 .09 8.38 .08 -2.29 .08 -.21 .09 .83 .08 3.49 .08 2.05 .09 -1.00 .08 -8.88 .08 7.50 .09 -13.47 .08 12.00 .08 -.34 .09 .20 .08 -7.02 .08 7.26 .09 -.49 .08 -3.27 .08 -2.96 .09 4.81 .08 -4.42 .08 -3.62 .09 4.29 .08 13.65 .08 -16.14 .09 4.68 .08 3.40 .08 2.13 .09 -7.80 .08 -.35 .08 7.35 .09 -1.98 .08 2.83 .08 -9.25 .09 3.02 .08 4.72 .08 -2.56 .09 -3.30 .08 4.46 .08 -7.99 .09 2.65 .08 7.29 .08 .81 .09 -2.32 .08 1.79 .08 -6.86 .09 3.78 .08 6.74 .08 5.21 .09 -8.45 .08 -5.31 .08 .37 .09 6.38 .08 -.37 .09 -6.55 .08 3.70 .08 4.44 .09 .37 .08 -5.59 .08 -.04 .09 3.52 .08 -3.86 .08 -1.96 .09 2.05 .08 8.68 .08 -.07 .09 -1.92 .08 -4.61 .08 -2.81 .09 2.37 .08 1.71 .08 5.48 .09 -6.95 .08 2.87 .08 -5.92 .09 -.32 .08 5.73 .08 -4.21 .09 -.29 .08 -5.37 .08 10.32 .09 -9.34 .08 6.49 .08 -6.57 .09 3.54 .08 7.60 .08 -5.21 .09 -.08 .08 1.73 .08 -1.30 .09 3.82 .08 -9.03 .08 11.24 .09 -5.90 .08 -2.46 .08 4.23 .09 1.25 .08 -3.80 .08 2.31 .09 -6.96 .08 -1.48 .08 5.05 .09 6.44 .08 -2.09 .08 -.92 .09 -3.26 .08 1.60 .08 4.76 .09 -6.58 .08 .09 .08 4.29 .09 1.60 .08 -3.32 .08 2.69 .09 -4.32 .08 -3.52 .08 -4.44 .09 11.19 .08 -6.84 .08 .51 .09 1.76 .08 3.12 .08 .65 .09 2.18 .08 -2.20 .09 -2.11 .08 1.44 .08 -3.95 .09 6.10 .08 1.21 .08 -3.34 .09 -1.64 .08 -2.60 .08 -1.89 .09 -1.07 .08 -.61 .08 3.49 .09 -.91 .08 2.67 .08 .42 .09 -5.36 .08 2.92 .08 .19 .09 1.51 .08 -3.18 .08 .45 .09 5.49 .08 -2.05 .08 -.90 .09 -2.58 .08 -2.64 .08 2.12 .09 .14 .08 -1.09 .08 2.05 .09 -2.18 .08 3.25 .08 -3.54 .09 1.77 .08 .85 .08 -6.89 .09 1.03 .08 3.34 .08 1.19 .09 2.32 .08 5.04 .08 -5.25 .09 -.99 .08 .80 .08 -4.94 .09 4.80 .08 -3.81 .08 4.04 .09 -2.61 .08 .46 .08 10.09 .09 -.79 .08 2.87 .08 -8.09 .09 -4.21 .08 -2.04 .08 3.16 .09 -6.53 .08 7.00 .08 -1.96 .09 -1.25 .08 -2.27 .08 2.04 .09 2.24 .08 3.65 .08 -7.10 .09 7.25 .08 1.16 .08 5.01 .09 -7.11 .08 1.46 .09 -5.27 .08 .87 .08 -2.08 .09 -.14 .08 2.39 .08 -2.22 .09 6.22 .08 -3.71 .08 2.60 .09 -5.30 .08 .61 .08 4.86 .09 -3.66 .08 8.07 .08 -8.48 .09 -.53 .08 11.57 .08 -13.38 .09 3.86 .08 3.11 .08 1.35 .09 -7.06 .08 11.56 .08 -10.13 .09 -6.22 .08 11.17 .08 -5.93 .09 2.09 .08 3.34 .08 -7.01 .09 .02 .08 2.78 .08 2.57 .09 -8.34 .08 10.54 .08 -3.64 .09 -5.32 .08 4.31 .08 3.86 .09 1.04 .08 -1.71 .08 2.65 .09 -5.71 .08 3.04 .08 -14.26 .09 14.56 .08 -2.29 .08 5.68 .09 -9.64 .08 .33 .08 .32 .09 2.59 .08 1.61 .08 .88 .09 -5.19 .08 4.16 .08 6.09 .09 -5.52 .08 .57 .08 -6.88 .09 6.52 .08 3.04 .08 -3.96 .09 5.61 .08 -13.71 .08 5.78 .09 -1.82 .08 6.04 .08 -5.09 .09 .69 .08 9.51 .09 -12.09 .08 4.41 .08 3.19 .09 -4.31 .08 -1.32 .08 2.63 .09 -1.47 .08 -1.08 .08 3.51 .09 -3.06 .08 11.85 .08 -6.86 .09 -5.70 .08 2.14 .08 3.79 .09 -.35 .08 -3.52 .08 -4.90 .09 8.03 .08 -4.96 .08 2.95 .09 5.40 .08 -6.77 .08 5.65 .09 -6.30 .08 3.10 .08 -1.56 .09 7.96 .08 -13.83 .08 5.59 .09 -2.45 .08 -1.58 .08 -2.28 .09 2.57 .08 7.87 .08 .64 .09 -8.09 .08 -3.98 .08 1.59 .09 8.43 .08 -6.22 .08 -7.21 .09 10.37 .08 -4.22 .08 2.12 .09 -.31 .08 -5.87 .08 9.78 .09 -.49 .08 -4.54 .08 -5.59 .09 5.28 .08 .76 .08 5.64 .09 -7.17 .08 -.11 .08 1.88 .09 -1.78 .08 2.21 .08 .88 .09 .27 .08 -7.77 .08 5.80 .09 -.70 .08 8.97 .08 -3.49 .09 -8.61 .08 4.37 .09 -8.52 .08 2.30 .08 3.68 .09 2.44 .08 -5.20 .08 5.39 .09 3.33 .08 -10.16 .08 1.85 .09 -2.22 .08 10.95 .08 -9.01 .09 1.36 .08 -1.38 .08 3.21 .09 -1.53 .08 1.58 .08 .04 .09 5.76 .08 -7.41 .08 4.05 .09 -1.23 .08 -.97 .08 3.61 .09 3.88 .08 -10.85 .08 12.79 .09 -7.24 .08 -1.53 .08 -9.99 .09 9.68 .08 .92 .08 -.97 .09 3.23 .08 -2.93 .08 .68 .09 -3.16 .08 -2.04 .08 4.36 .09 1.98 .08 -1.26 .08 -1.71 .09 -2.90 .08 2.78 .08 -1.30 .09 -2.51 .08 7.65 .08 -2.28 .09 -1.96 .08 1.90 .08 2.87 .09 3.75 .08 -12.16 .08 4.45 .09 1.73 .08 3.86 .08 -4.56 .09 -4.35 .08 1.59 .08 1.75 .09 -3.53 .08 -.55 .08 -.08 .09 12.08 .08 -9.07 .08 .14 .09 3.69 .08 -1.81 .08 .11 .09 .95 .08 -4.00 .09 .56 .08 5.13 .08 -2.21 .09 -5.63 .08 7.09 .08 -6.16 .09 -2.17 .08 7.97 .08 -.66 .09 -2.32 .08 -5.09 .08 6.44 .09 -1.49 .08 -.96 .08 .77 .09 -.46 .08 8.48 .08 -8.74 .09 3.05 .08 2.83 .08 -2.07 .09 -5.87 .08 1.35 .08 -1.10 .09 -1.02 .08 3.95 .08 4.17 .09 -3.50 .08 2.31 .08 -2.64 .09 -5.88 .08 2.05 .08 -7.26 .09 10.27 .08 -6.20 .08 9.30 .09 -8.46 .08 -.16 .08 3.48 .09 .88 .08 -5.97 .08 -.42 .09 6.60 .08 -5.54 .08 6.91 .09 4.30 .08 -10.65 .08 6.92 .09 7.85 .08 -2.02 .08 -9.02 .09 5.83 .08 4.15 .08 -14.32 .09 7.72 .08 4.65 .08 -7.48 .09 1.11 .08 4.95 .08 -8.37 .09 6.13 .08 1.13 .08 -2.39 .09 -11.70 .08 16.21 .08 -7.51 .09 1.65 .08 -5.84 .08 4.80 .09 6.89 .08 -9.64 .09 1.43 .08 -2.72 .08 8.17 .09 0 .08 -4.61 .08 5.42 .09 -2.25 .08 7.98 .08 -10.36 .09 7.42 .08 -2.75 .08 6.13 .09 -6.27 .08 -5.73 .08 5.02 .09 -2.86 .08 -2.05 .08 3.28 .09 1.12 .08 -5.17 .08 2.44 .09 5.81 .08 -1.40 .08 -2.23 .09 -.24 .08 1.75 .08 -.57 .09 -4.28 .08 6.16 .08 -6.52 .09 9.74 .08 -4.47 .08 -.18 .09 -5.19 .08 1.96 .08 -4.45 .09 .44 .08 -1.26 .08 10.14 .09 -6.41 .08 9.43 .08 -4.44 .09 -6.77 .08 9.08 .08 -3.32 .09 -5.46 .08 4.25 .08 -2.06 .09 -1.44 .08 2.03 .08 2.51 .09 -2.47 .08 1.38 .08 2.48 .09 -1.50 .08 -1.95 .08 -2.71 .09 2.05 .08 .30 .08 -.84 .09 2.86 .08 .35 .08 -1.94 .09 -2.70 .08 3.70 .08 1.17 .09 .59 .08 -7.86 .08 5.65 .09 -5.38 .08 5.33 .09 .63 .08 -.23 .08 4.32 .09 -3.15 .08 .17 .08 -5.84 .09 3.68 .08 .30 .08 1.46 .09 -1.71 .08 -11.45 .08 14.21 .09 .18 .08 -8.01 .08 7.91 .09 2.19 .08 -4.06 .08 -.74 .09 -3.06 .08 -.68 .08 12.25 .09 -3.34 .08 3.29 .08 -6.13 .09 5.07 .08 -.32 .08 .39 .09 -5.77 .08 13.48 .08 -8.97 .09 -3.76 .08 2.04 .08 -8.81 .09 11.69 .08 -7.68 .08 1.72 .09 -1.05 .08 -8.85 .08 6.35 .09 6.52 .08 -10.10 .08 5.90 .09 4.55 .08 2.87 .08 -9.26 .09 7.13 .08 -1.64 .08 -1.75 .09 1.03 .08 -2.06 .08 -7.18 .09 3.98 .08 -3.39 .08 4.18 .09 -.40 .08 7.18 .08 -1.96 .09 -2.93 .08 -4.59 .08 2.62 .09 -4.97 .08 4.52 .08 -10.29 .09 12.34 .08 -3.02 .08 6.05 .09 -.69 .08 -.04 .08 -5.76 .09 7.52 .08 -2.14 .09 -8.10 .08 7.24 .08 -3.93 .09 3.21 .08 4.96 .08 -3.66 .09 4.18 .08 -3.72 .08 .95 .09 3.31 .08 -.26 .08 -1.57 .09 1.62 .08 -1.17 .08 -8.74 .09 1.43 .08 4.96 .08 3.77 .09 -4.55 .08 -4.30 .08 4.35 .09 -2.59 .08 7.43 .08 -12.92 .09 11.40 .08 -.25 .08 -12.94 .09 7.75 .08 2.23 .08 1.40 .09 -.32 .08 1.00 .08 -1.20 .09 -3.65 .08 7.15 .08 -5.21 .09 -2.27 .08 4.88 .08 -1.61 .09 -.90 .08 -1.24 .08 -2.05 .09 2.28 .08 .55 .08 -2.93 .09 8.57 .08 -1.41 .08 -1.46 .09 -3.47 .08 4.33 .08 8.87 .09 -8.48 .08 6.63 .08 -.41 .09 .69 .08 -6.17 .08 1.92 .09 .35 .08 -3.89 .08 9.14 .09 -7.45 .08 1.45 .08 4.65 .09 -.83 .08 -5.73 .08 4.24 .09 -.59 .08 -9.61 .09 12.17 .08 -6.19 .08 -2.98 .09 .72 .08 -6.38 .08 10.47 .09 5.34 .08 -4.76 .08 6.56 .09 -2.90 .08 -5.18 .08 8.58 .09 -8.15 .08 -.86 .08 6.52 .09 -.65 .08 -1.23 .08 -.86 .09 -5.62 .08 8.51 .08 -.85 .09 -1.05 .08 11.69 .08 -10.01 .09 -1.43 .08 6.30 .08 -4.00 .09 -3.37 .08 6.43 .08 -4.59 .09 -1.61 .08 .80 .08 -1.77 .09 3.63 .08 1.52 .08 -7.55 .09 6.77 .08 -6.40 .08 1.18 .09 -5.60 .08 11.96 .08 -3.69 .09 -2.36 .08 -.43 .08 3.62 .09 -1.75 .08 -8.99 .08 9.37 .09 -.40 .08 -1.57 .08 -1.13 .09 3.40 .08 -3.81 .08 8.21 .09 -4.61 .08 -1.24 .08 1.94 .09 -4.81 .08 4.79 .08 -3.59 .09 -.50 .08 4.81 .08 -1.89 .09 -4.02 .08 -.87 .08 3.26 .09 7.90 .08 -7.78 .08 .69 .09 .01 .08 -4.26 .09 2.65 .08 3.09 .08 -.17 .09 -1.84 .08 -4.96 .08 4.91 .09 4.73 .08 1.83 .08 -4.80 .09 -6.02 .08 .77 .08 -.39 .09 5.99 .08 -10.17 .08 3.35 .09 -3.08 .08 5.13 .08 .62 .09 5.23 .08 -.76 .08 -1.32 .09 -1.93 .08 -3.36 .08 7.74 .09 -7.32 .08 -3.33 .08 2.90 .09 1.86 .08 -1.60 .08 -1.72 .09 11.10 .08 -5.73 .08 -.05 .09 .50 .08 -3.08 .08 .68 .09 -9.05 .08 11.55 .08 -1.42 .09 -1.81 .08 .49 .08 8.70 .09 -3.23 .08 -3.15 .08 3.49 .09 -7.68 .08 .61 .08 2.46 .09 2.33 .08 1.16 .08 3.81 .09 -6.47 .08 3.64 .08 -6.22 .09 2.08 .08 -6.60 .08 9.47 .09 -6.57 .08 8.68 .08 -11.56 .09 15.02 .08 -7.46 .08 .84 .09 .31 .08 -7.80 .08 4.33 .09 .05 .08 1.93 .08 -5.32 .09 3.77 .08 2.08 .09 2.45 .08 -.94 .08 -7.79 .09 7.71 .08 3.42 .08 -3.96 .09 -4.23 .08 -1.90 .08 3.14 .09 10.46 .08 -10.93 .08 -5.84 .09 12.27 .08 -4.77 .08 2.02 .09 -.54 .08 6.99 .08 -4.14 .09 -2.72 .08 -2.61 .08 9.55 .09 -3.27 .08 -3.08 .08 -1.20 .09 .52 .08 4.06 .08 -6.60 .09 10.44 .08 -7.18 .08 -13.56 .09 7.05 .08 1.42 .08 9.82 .09 -1.16 .08 -5.94 .08 -5.12 .09 4.00 .08 2.09 .08 -2.00 .09 1.96 .08 1.66 .08 -4.13 .09 -1.71 .08 3.25 .08 -5.47 .09 4.03 .08 6.95 .08 -3.25 .09 -6.56 .08 2.18 .08 -2.42 .09 3.71 .08 5.59 .08 -2.57 .09 -4.24 .08 11.74 .08 -10.84 .09 4.32 .08 .09 .08 -2.89 .09 3.88 .08 -1.18 .08 -.06 .09 1.77 .08 -5.19 .08 5.85 .09 -8.44 .08 9.51 .08 3.13 .09 -8.67 .08 9.15 .09 -11.66 .08 -1.07 .08 -4.55 .09 5.84 .08 -.95 .08 -1.76 .09 7.74 .08 -8.16 .08 5.69 .09 -6.61 .08 1.91 .08 4.31 .09 .58 .08 -2.97 .08 4.24 .09 -1.51 .08 -5.34 .08 1.12 .09 -3.43 .08 -1.16 .08 2.75 .09 2.07 .08 5.42 .08 -.19 .09 -1.02 .08 -9.96 .08 5.05 .09 4.98 .08 1.65 .08 -4.80 .09 -6.72 .08 -4.45 .08 3.27 .09 11.13 .08 2.04 .08 4.37 .09 -10.39 .08 4.31 .08 -5.32 .09 1.65 .08 2.07 .08 -3.94 .09 4.16 .08 -6.88 .08 9.31 .09 -5.07 .08 1.14 .08 4.60 .09 -6.72 .08 3.28 .08 -1.02 .09 1.28 .08 -7.07 .08 7.26 .09 .24 .08 -4.48 .08 -.91 .09 .60 .08 3.95 .08 -2.86 .09 4.95 .08 -3.85 .08 -4.18 .09 3.84 .08 .45 .08 .93 .09 2.96 .08 1.35 .08 -2.23 .09 -.36 .08 4.11 .09 -2.41 .08 -4.73 .08 -4.17 .09 7.76 .08 -6.85 .08 1.40 .09 -.93 .08 .08 .08 -7.95 .09 6.42 .08 8.01 .08 7.28 .09 -9.95 .08 3.12 .08 -1.21 .09 -4.03 .08 -.69 .08 4.98 .09 4.17 .08 -3.52 .08 2.99 .09 -2.10 .08 -1.80 .08 -.28 .09 5.07 .08 -2.57 .08 -4.74 .09 .98 .08 .67 .08 -.36 .09 6.47 .08 -.90 .08 -6.24 .09 2.02 .08 -1.45 .08 2.54 .09 .44 .08 -9.14 .08 6.52 .09 5.29 .08 -10.52 .08 12.23 .09 -2.04 .08 -5.36 .08 -3.29 .09 8.95 .08 -8.51 .08 -1.95 .09 5.26 .08 -6.34 .08 1.41 .09 10.55 .08 -6.71 .08 .83 .09 -3.90 .08 .83 .08 6.71 .09 -1.78 .08 2.61 .08 -2.49 .09 -.59 .08 -2.29 .08 -7.63 .09 11.25 .08 -3.36 .08 10.47 .09 -10.18 .08 .12 .08 -1.99 .09 -1.34 .08 5.28 .09 1.33 .08 -.75 .08 -1.75 .09 -1.33 .08 8.56 .08 -1.60 .09 -7.47 .08 -3.88 .08 1.28 .09 1.66 .08 9.19 .08 -7.98 .09 3.94 .08 -4.45 .08 5.90 .09 9.15 .08 -13.22 .08 3.04 .09 -3.47 .08 5.04 .08 -4.31 .09 -2.05 .08 7.29 .08 -2.19 .09 -.48 .08 -7.19 .08 .96 .09 9.65 .08 -10.81 .08 12.94 .09 1.20 .08 -7.45 .08 -1.86 .09 -2.00 .08 6.88 .08 -1.61 .09 -5.33 .08 -2.39 .08 4.03 .09 -3.44 .08 3.40 .08 -7.51 .09 9.83 .08 -2.24 .08 -2.32 .09 -3.30 .08 3.10 .08 2.24 .09 -.69 .08 -.27 .08 -2.94 .09 4.89 .08 2.98 .08 -6.02 .09 -2.89 .08 9.54 .08 -4.81 .09 -7.22 .08 8.40 .08 -3.80 .09 -2.52 .08 2.66 .08 -3.33 .09 .50 .08 -2.93 .08 10.06 .09 -5.24 .08 2.93 .09 .69 .08 -9.98 .08 7.62 .09 -2.82 .08 8.01 .08 -8.66 .09 5.45 .08 3.17 .08 -4.16 .09 3.21 .08 1.73 .08 -5.72 .09 -2.55 .08 -.72 .08 9.60 .09 -2.30 .08 -.64 .08 -8.13 .09 7.71 .08 -5.15 .08 2.47 .09 -1.58 .08 4.41 .08 -4.00 .09 -1.34 .08 3.78 .08 -1.44 .09 -.73 .08 10.55 .08 -2.58 .09 -8.60 .08 -3.84 .08 1.48 .09 5.02 .08 3.16 .08 3.57 .09 -5.01 .08 -3.41 .08 3.97 .09 -.33 .08 -1.95 .08 3.78 .09 -7.32 .08 6.03 .08 3.68 .09 -2.79 .08 2.77 .08 1.28 .09 -1.53 .08 -.02 .08 .52 .09 -3.72 .08 2.74 .08 -1.93 .09 -4.99 .08 6.43 .08 -4.40 .09 -8.29 .08 17.24 .08 -5.67 .09 -3.31 .08 5.84 .08 -1.54 .09 -.30 .08 7.00 .08 -.16 .09 -8.06 .08 -2.33 .08 -1.87 .09 5.47 .08 -.82 .09 4.17 .08 -2.48 .08 1.22 .09 1.15 .08 -8.41 .08 .23 .09 5.62 .08 -2.70 .08 3.55 .09 -1.87 .08 4.62 .08 -4.47 .09 5.84 .08 -2.80 .08 1.69 .09 -2.48 .08 2.38 .08 -2.74 .09 -2.14 .08 -1.65 .08 8.50 .09 -3.79 .08 5.04 .08 -.84 .09 -8.31 .08 11.65 .08 -9.09 .09 -3.86 .08 -.17 .08 1.85 .09 -7.70 .08 8.49 .08 -3.57 .09 4.45 .08 -.19 .08 .90 .09 4.24 .08 -.83 .08 -5.88 .09 10.69 .08 -8.38 .08 1.72 .09 .62 .08 -6.03 .08 .48 .09 -3.35 .08 9.76 .08 .30 .09 -5.02 .08 -1.25 .08 -8.09 .09 15.31 .08 -5.91 .08 -1.01 .09 1.48 .08 -.87 .08 3.08 .09 1.25 .08 -3.15 .08 -3.69 .09 3.30 .08 2.80 .08 -2.17 .09 .04 .08 5.00 .08 -3.22 .09 -.58 .08 .35 .08 -8.15 .09 6.75 .08 3.97 .09 -7.13 .08 1.18 .08 -1.06 .09 4.24 .08 -1.00 .08 -3.91 .09 5.33 .08 -1.62 .08 2.63 .09 .81 .08 -5.92 .08 4.36 .09 -1.27 .08 .10 .08 -2.77 .09 2.43 .08 -2.20 .08 -3.69 .09 7.10 .08 -6.86 .08 4.41 .09 2.12 .08 -2.34 .08 -2.79 .09 .63 .08 -3.84 .08 5.72 .09 -5.30 .08 1.18 .08 -1.09 .09 6.45 .08 -2.49 .08 .97 .09 5.91 .08 -8.76 .08 2.94 .09 -8.30 .08 3.64 .08 .58 .09 -1.02 .08 4.50 .08 2.79 .09 -3.06 .08 .02 .08 .04 .09 -4.58 .08 -1.05 .08 4.08 .09 4.51 .08 -5.12 .08 -3.04 .09 6.47 .08 1.95 .08 -.30 .09 -.28 .08 -2.44 .08 3.06 .09 -4.54 .08 4.74 .08 1.06 .09 -1.82 .08 1.41 .08 .84 .09 -8.03 .08 2.47 .08 -2.38 .09 -2.85 .08 1.42 .08 1.86 .09 3.27 .08 .04 .09 -8.11 .08 8.70 .08 -4.22 .09 5.45 .08 -5.22 .08 6.08 .09 1.69 .08 -2.02 .08 -6.93 .09 1.67 .08 0 .08 .44 .09 5.07 .08 -11.81 .08 3.87 .09 3.43 .08 -3.57 .08 .47 .09 7.63 .08 -2.74 .08 -1.74 .09 -2.99 .08 1.67 .08 3.97 .09 -3.42 .08 5.53 .08 -4.97 .09 -1.63 .08 3.15 .08 -4.69 .09 -1.26 .08 9.07 .08 .68 .09 3.13 .08 -12.37 .08 10.53 .09 0 .08 -2.83 .08 -.28 .09 .61 .08 -.89 .08 -.74 .09 -3.61 .08 4.76 .08 -5.70 .09 3.56 .08 -2.55 .08 1.87 .09 -1.21 .08 .88 .08 2.76 .09 -7.71 .08 10.27 .08 -6.54 .09 8.31 .08 -8.80 .08 2.10 .09 2.54 .08 -6.84 .08 2.81 .09 -.61 .08 .82 .08 -1.32 .09 -2.13 .08 -2.25 .08 4.12 .09 .74 .08 .25 .08 3.93 .09 -1.14 .08 -5.37 .09 2.43 .08 4.26 .08 -1.81 .09 -1.60 .08 -.79 .08 4.11 .09 -6.58 .08 1.02 .08 5.79 .09 -8.97 .08 7.34 .08 -4.92 .09 2.50 .08 -2.69 .08 -2.69 .09 5.66 .08 -5.71 .08 2.95 .09 1.45 .08 -.04 .08 1.64 .09 2.08 .08 -8.97 .08 10.86 .09 -11.38 .08 4.34 .08 -.14 .09 -2.64 .08 6.28 .08 -4.19 .09 1.43 .08 10.03 .08 -12.10 .09 7.82 .08 -10.83 .08 6.95 .09 -1.17 .08 2.53 .08 -11.25 .09 1.53 .08 9.80 .08 .72 .09 .22 .08 -4.54 .08 .83 .09 1.69 .08 -3.04 .08 7.76 .09 -8.05 .08 -2.69 .08 2.29 .09 -3.13 .08 3.92 .08 -3.14 .09 1.02 .08 1.88 .08 5.13 .09 -3.91 .08 6.07 .08 -.22 .09 -6.03 .08 -.59 .08 4.92 .09 -4.41 .08 -.44 .08 8.06 .09 -2.10 .08 -2.65 .08 -9.77 .09 6.75 .08 -6.55 .09 7.32 .08 -.42 .08 4.90 .09 -10.13 .08 7.59 .08 .76 .09 .54 .08 -.15 .08 1.97 .09 -2.60 .08 -2.87 .08 2.37 .09 3.42 .08 -6.08 .08 -6.93 .09 2.49 .08 1.06 .08 -.16 .09 7.06 .08 2.03 .08 -6.89 .09 1.31 .08 5.94 .08 -.62 .09 -1.09 .08 7.48 .08 -11.34 .09 5.31 .08 -2.83 .08 -8.20 .09 4.84 .08 3.09 .08 -3.37 .09 -.20 .08 .20 .08 2.38 .09 -2.54 .08 4.15 .08 -3.85 .09 -2.68 .08 2.91 .08 -1.33 .09 6.08 .08 -10.47 .08 5.11 .09 1.34 .08 2.76 .08 5.05 .09 -9.08 .08 2.74 .08 -1.36 .09 -1.47 .08 -3.86 .08 6.11 .09 -5.40 .08 12.10 .08 -2.30 .09 1.48 .08 2.60 .08 -8.01 .09 -3.16 .08 -6.75 .08 11.54 .09 .24 .08 -3.87 .08 -.78 .09 5.76 .08 .62 .09 -6.58 .08 9.02 .08 -6.22 .09 2.37 .08 -9.34 .08 2.76 .09 4.23 .08 -3.31 .08 11.29 .09 -12.67 .08 4.00 .08 -3.58 .09 4.65 .08 6.47 .08 -3.75 .09 -.86 .08 3.61 .08 -9.07 .09 3.45 .08 -1.87 .08 7.90 .09 -11.13 .08 11.97 .08 -7.65 .09 2.24 .08 -.63 .08 4.41 .09 -2.36 .08 -3.12 .08 .70 .09 1.72 .08 -3.01 .08 1.41 .09 -3.46 .08 5.36 .08 -3.71 .09 8.16 .08 -11.20 .08 5.02 .09 .99 .08 6.10 .08 -4.87 .09 -1.44 .08 -.95 .08 -1.30 .09 9.14 .08 -.43 .08 -8.93 .09 -2.62 .08 7.31 .08 1.28 .09 -7.97 .08 .97 .08 -.51 .09 1.96 .08 1.60 .08 -3.97 .09 -4.05 .08 12.42 .08 -8.30 .09 2.97 .08 -4.79 .08 3.30 .09 1.07 .08 -.79 .08 9.55 .09 -6.06 .08 -1.49 .08 .14 .09 -.09 .08 -1.20 .09 5.03 .08 .49 .08 -4.87 .09 2.25 .08 -5.02 .08 5.31 .09 -1.56 .08 -3.85 .08 4.89 .09 4.81 .08 -7.27 .08 -.02 .09 4.62 .08 .40 .08 -3.38 .09 -4.63 .08 2.49 .08 8.47 .09 -12.45 .08 7.23 .08 3.90 .09 -2.14 .08 6.31 .08 -6.51 .09 -3.83 .08 -.85 .08 -1.55 .09 7.59 .08 -7.42 .08 5.33 .09 -5.23 .08 2.82 .08 6.80 .09 -7.41 .08 -.34 .08 -3.43 .09 -3.53 .08 1.20 .08 2.25 .09 2.08 .08 -5.04 .08 6.33 .09 6.31 .08 -5.82 .08 2.02 .09 -.82 .08 -2.38 .08 0 .09 3.32 .08 2.12 .08 -10.79 .09 8.62 .08 -5.61 .08 2.02 .09 .66 .08 -1.06 .08 7.56 .09 -2.11 .08 -3.74 .08 3.64 .09 -8.67 .08 5.18 .08 -5.47 .09 -.99 .08 5.49 .08 -1.76 .09 -2.38 .08 2.60 .08 1.09 .09 1.11 .08 -7.02 .09 2.88 .08 2.62 .08 .32 .09 .58 .08 -4.24 .08 2.66 .09 -7.33 .08 3.97 .08 7.62 .09 3.45 .08 -5.09 .08 -2.52 .09 -6.83 .08 6.37 .08 .30 .09 9.39 .08 -7.55 .08 -1.35 .09 -5.77 .08 10.69 .08 -5.06 .09 6.20 .08 -6.65 .08 -1.24 .09 4.21 .08 .63 .08 -5.77 .09 6.76 .08 2.41 .08 -8.36 .09 -6.39 .08 10.19 .08 -1.66 .09 0 .08 -4.57" fill="none" stroke="#000" stroke-width="0.8" stroke-linejoin="round"/>
<rect x="350" y="119" width="100" height="26" fill="#fff"/>
<line x1="352.1" y1="129.5" x2="367.7" y2="129.5" stroke="#111" stroke-width="0.9"/>
<line x1="352.1" y1="139.5" x2="367.7" y2="139.5" stroke="#ff5050" stroke-width="0.8"/>
<text transform="translate(374.30 129.80) scale(0.925 1)" font-size="10.2">Residue 9-124</text>
<text transform="translate(374.30 141.30) scale(0.925 1)" font-size="10.2">Residue 152-262</text>
<rect x="116" y="290" width="100" height="26" fill="#fff"/>
<line x1="118.8" y1="300.5" x2="134.1" y2="300.5" stroke="#333" stroke-width="0.9"/>
<line x1="118.8" y1="310.5" x2="134.1" y2="310.5" stroke="#ff1010" stroke-width="0.9"/>
<text transform="translate(140.70 300.90) scale(0.925 1)" font-size="10.2">Residue 129-151</text>
<text transform="translate(140.70 312.40) scale(0.925 1)" font-size="10.2">Residue 480-486</text>
<path d="M481.0 73.0 C481.5 71.8 482.5 67.8 484.0 66.0 C485.5 64.2 487.8 63.0 490.0 62.0 C492.2 61.0 495.2 59.3 497.0 60.0 C498.8 60.7 501.2 63.7 501.0 66.0 C500.8 68.3 498.0 72.2 496.0 74.0 C494.0 75.8 491.0 76.7 489.0 77.0 C487.0 77.3 484.8 76.2 484.0 76.0" fill="none" stroke="#f4ee10" stroke-width="1.30" stroke-linecap="round" stroke-linejoin="round"/>
<path d="M497.0 74.0 C498.0 73.3 500.8 70.3 503.0 70.0 C505.2 69.7 507.5 71.3 510.0 72.0 C512.5 72.7 515.3 73.8 518.0 74.0 C520.7 74.2 523.5 72.7 526.0 73.0 C528.5 73.3 530.7 76.0 533.0 76.0 C535.3 76.0 538.0 72.8 540.0 73.0 C542.0 73.2 544.2 76.3 545.0 77.0" fill="none" stroke="#f4ee10" stroke-width="1.30" stroke-linecap="round" stroke-linejoin="round"/>
<path d="M528.0 78.0 C529.7 79.0 535.2 81.7 538.0 84.0 C540.8 86.3 543.3 89.3 545.0 92.0 C546.7 94.7 547.8 97.3 548.0 100.0 C548.2 102.7 546.3 106.7 546.0 108.0" fill="none" stroke="#f4ee10" stroke-width="1.30" stroke-linecap="round" stroke-linejoin="round"/>
<path d="M540.0 72.0 C540.7 73.0 544.3 75.3 544.0 78.0 C543.7 80.7 540.3 84.7 538.0 88.0 C535.7 91.3 531.3 96.3 530.0 98.0" fill="none" stroke="#f4ee10" stroke-width="1.40" stroke-linecap="round" stroke-linejoin="round"/>
<path d="M507.0 82.0 C508.8 78.7 513.7 79.3 517.0 80.0 C520.3 80.7 524.5 82.7 527.0 86.0 C529.5 89.3 531.2 94.7 532.0 100.0 C532.8 105.3 533.0 113.3 532.0 118.0 C531.0 122.7 528.7 126.3 526.0 128.0 C523.3 129.7 518.8 129.7 516.0 128.0 C513.2 126.3 510.7 122.7 509.0 118.0 C507.3 113.3 506.3 106.0 506.0 100.0 C505.7 94.0 505.2 85.3 507.0 82.0Z" fill="#f4ee30" opacity="0.4"/>
<path d="M508.0 84.0 C508.7 87.3 511.0 97.3 512.0 104.0 C513.0 110.7 513.7 120.7 514.0 124.0" fill="none" stroke="#a89a00" stroke-width="3.0" stroke-linecap="butt" stroke-linejoin="round"/>
<path d="M507.3 84.0 C508.0 87.3 510.3 97.3 511.3 104.0 C512.3 110.7 513.0 120.7 513.3 124.0" fill="none" stroke="#f4ee10" stroke-width="2.3" stroke-linecap="butt" stroke-linejoin="round"/>
<path d="M513.0 82.0 C513.8 85.7 516.3 96.7 517.5 104.0 C518.7 111.3 519.6 122.3 520.0 126.0" fill="none" stroke="#a89a00" stroke-width="3.0" stroke-linecap="butt" stroke-linejoin="round"/>
<path d="M512.3 82.0 C513.0 85.7 515.6 96.7 516.8 104.0 C518.0 111.3 518.9 122.3 519.3 126.0" fill="none" stroke="#f4ee10" stroke-width="2.3" stroke-linecap="butt" stroke-linejoin="round"/>
<path d="M518.0 84.0 C518.8 87.3 521.3 97.3 522.5 104.0 C523.7 110.7 524.6 120.7 525.0 124.0" fill="none" stroke="#a89a00" stroke-width="3.0" stroke-linecap="butt" stroke-linejoin="round"/>
<path d="M517.3 84.0 C518.0 87.3 520.6 97.3 521.8 104.0 C523.0 110.7 523.9 120.7 524.3 124.0" fill="none" stroke="#f4ee10" stroke-width="2.3" stroke-linecap="butt" stroke-linejoin="round"/>
<path d="M523.0 88.0 C523.6 90.7 525.7 98.7 526.5 104.0 C527.3 109.3 527.8 117.3 528.0 120.0" fill="none" stroke="#a89a00" stroke-width="3.0" stroke-linecap="butt" stroke-linejoin="round"/>
<path d="M522.3 88.0 C522.9 90.7 525.0 98.7 525.8 104.0 C526.6 109.3 527.0 117.3 527.3 120.0" fill="none" stroke="#f4ee10" stroke-width="2.3" stroke-linecap="butt" stroke-linejoin="round"/>
<path d="M527.0 95.0 C527.5 96.7 529.3 101.7 530.0 105.0 C530.7 108.3 530.8 113.3 531.0 115.0" fill="none" stroke="#a89a00" stroke-width="3.0" stroke-linecap="butt" stroke-linejoin="round"/>
<path d="M526.3 95.0 C526.8 96.7 528.6 101.7 529.3 105.0 C530.0 108.3 530.1 113.3 530.3 115.0" fill="none" stroke="#f4ee10" stroke-width="2.3" stroke-linecap="butt" stroke-linejoin="round"/>
<g transform="translate(490.0 89.0) rotate(48.8)"><rect x="-1.05" y="-3.50" width="12.73" height="7.00" rx="2.45" fill="#f4ee10"/><path d="M1.24 2.62Q2.66 0.35 3.01 -2.62M4.78 2.62Q6.20 0.35 6.56 -2.62M8.33 2.62Q9.74 0.35 10.10 -2.62" stroke="#a89a00" stroke-width="0.99" stroke-linecap="round" fill="none"/></g>
<g transform="translate(492.0 99.0) rotate(48.8)"><rect x="-1.05" y="-3.50" width="12.73" height="7.00" rx="2.45" fill="#f4ee10"/><path d="M1.24 2.62Q2.66 0.35 3.01 -2.62M4.78 2.62Q6.20 0.35 6.56 -2.62M8.33 2.62Q9.74 0.35 10.10 -2.62" stroke="#a89a00" stroke-width="0.99" stroke-linecap="round" fill="none"/></g>
<g transform="translate(495.0 109.0) rotate(41.2)"><rect x="-1.05" y="-3.50" width="12.73" height="7.00" rx="2.45" fill="#f4ee10"/><path d="M1.24 2.62Q2.66 0.35 3.01 -2.62M4.78 2.62Q6.20 0.35 6.56 -2.62M8.33 2.62Q9.74 0.35 10.10 -2.62" stroke="#a89a00" stroke-width="0.99" stroke-linecap="round" fill="none"/></g>
<g transform="translate(500.0 119.0) rotate(33.7)"><rect x="-1.05" y="-3.50" width="12.92" height="7.00" rx="2.45" fill="#f4ee10"/><path d="M1.26 2.62Q2.70 0.35 3.06 -2.62M4.87 2.62Q6.31 0.35 6.67 -2.62M8.47 2.62Q9.92 0.35 10.28 -2.62" stroke="#a89a00" stroke-width="1.01" stroke-linecap="round" fill="none"/></g>
<g transform="translate(508.0 125.0) rotate(32.0)"><rect x="-1.05" y="-3.50" width="11.53" height="7.00" rx="2.45" fill="#f4ee10"/><path d="M1.10 2.62Q2.36 0.35 2.67 -2.62M4.25 2.62Q5.50 0.35 5.82 -2.62M7.39 2.62Q8.65 0.35 8.96 -2.62" stroke="#a89a00" stroke-width="0.88" stroke-linecap="round" fill="none"/></g>
<g transform="translate(509.0 79.0) rotate(66.0)"><rect x="-1.05" y="-3.50" width="11.95" height="7.00" rx="2.45" fill="#f4ee10"/><path d="M1.15 2.62Q2.46 0.35 2.79 -2.62M4.43 2.62Q5.75 0.35 6.07 -2.62M7.71 2.62Q9.03 0.35 9.36 -2.62" stroke="#a89a00" stroke-width="0.92" stroke-linecap="round" fill="none"/></g>
<g transform="translate(511.0 90.0) rotate(63.4)"><rect x="-1.05" y="-3.50" width="11.04" height="7.00" rx="2.45" fill="#f4ee10"/><path d="M1.04 2.62Q2.24 0.35 2.53 -2.62M4.02 2.62Q5.22 0.35 5.52 -2.62M7.01 2.62Q8.20 0.35 8.50 -2.62" stroke="#a89a00" stroke-width="0.83" stroke-linecap="round" fill="none"/></g>
<g transform="translate(533.0 108.0) rotate(53.1)"><rect x="-1.05" y="-3.50" width="12.10" height="7.00" rx="2.45" fill="#f4ee10"/><path d="M1.17 2.62Q2.50 0.35 2.83 -2.62M4.50 2.62Q5.83 0.35 6.17 -2.62M7.83 2.62Q9.17 0.35 9.50 -2.62" stroke="#a89a00" stroke-width="0.93" stroke-linecap="round" fill="none"/></g>
<g transform="translate(535.0 118.0) rotate(49.4)"><rect x="-1.05" y="-3.50" width="11.32" height="7.00" rx="2.45" fill="#f4ee10"/><path d="M1.08 2.62Q2.30 0.35 2.61 -2.62M4.15 2.62Q5.38 0.35 5.69 -2.62M7.22 2.62Q8.45 0.35 8.76 -2.62" stroke="#a89a00" stroke-width="0.86" stroke-linecap="round" fill="none"/></g>
<g transform="translate(541.0 110.0) rotate(23.2)"><rect x="-1.05" y="-3.50" width="9.72" height="7.00" rx="2.45" fill="#f4ee10"/><path d="M1.33 2.62Q2.86 0.35 3.24 -2.62M5.14 2.62Q6.66 0.35 7.04 -2.62" stroke="#a89a00" stroke-width="1.07" stroke-linecap="round" fill="none"/></g>
<g transform="translate(498.0 83.0) rotate(49.4)"><rect x="-1.05" y="-3.50" width="11.32" height="7.00" rx="2.45" fill="#f4ee10"/><path d="M1.08 2.62Q2.30 0.35 2.61 -2.62M4.15 2.62Q5.38 0.35 5.69 -2.62M7.22 2.62Q8.45 0.35 8.76 -2.62" stroke="#a89a00" stroke-width="0.86" stroke-linecap="round" fill="none"/></g>
<path d="M488.0 86.0 C488.3 88.3 489.0 95.7 490.0 100.0 C491.0 104.3 492.3 108.0 494.0 112.0 C495.7 116.0 497.3 120.8 500.0 124.0 C502.7 127.2 506.7 129.8 510.0 131.0 C513.3 132.2 516.7 131.5 520.0 131.0 C523.3 130.5 528.3 128.5 530.0 128.0" fill="none" stroke="#f4ee10" stroke-width="1.30" stroke-linecap="round" stroke-linejoin="round"/>
<path d="M535.0 100.0 C535.8 101.0 538.2 104.0 540.0 106.0 C541.8 108.0 544.0 110.7 546.0 112.0 C548.0 113.3 551.7 112.7 552.0 114.0 C552.3 115.3 550.0 118.3 548.0 120.0 C546.0 121.7 542.3 122.3 540.0 124.0 C537.7 125.7 536.5 128.7 534.0 130.0 C531.5 131.3 526.5 131.7 525.0 132.0" fill="none" stroke="#f4ee10" stroke-width="1.30" stroke-linecap="round" stroke-linejoin="round"/>
<path d="M500.0 78.0 C500.8 79.7 504.5 84.3 505.0 88.0 C505.5 91.7 503.5 96.3 503.0 100.0 C502.5 103.7 502.2 108.3 502.0 110.0" fill="none" stroke="#f4ee10" stroke-width="1.40" stroke-linecap="round" stroke-linejoin="round"/>
<path d="M521.0 84.0 C522.2 83.0 525.8 78.3 528.0 78.0 C530.2 77.7 533.0 81.3 534.0 82.0" fill="none" stroke="#f4ee10" stroke-width="1.30" stroke-linecap="round" stroke-linejoin="round"/>
<path d="M544.4 91.2 C543.5 91.5 540.5 92.0 538.7 92.9 C536.9 93.8 534.4 94.8 533.8 96.3 C533.1 97.9 533.7 100.7 534.6 102.3 C535.6 103.9 539.4 104.6 539.5 105.8 C539.5 107.1 536.2 108.3 535.0 109.8 C533.8 111.4 532.7 114.3 532.2 115.1" fill="none" stroke="#f4ee10" stroke-width="1.30" stroke-linecap="round" stroke-linejoin="round"/>
<path d="M542.4 118.3 C541.4 118.6 538.5 119.3 536.7 120.1 C534.8 120.9 531.8 121.7 531.4 123.0 C531.0 124.4 534.0 128.4 534.2 128.4 C534.3 128.3 532.7 124.6 532.5 122.6 C532.2 120.7 533.1 118.4 532.5 116.6 C531.9 114.8 529.4 112.7 528.8 111.9" fill="none" stroke="#f4ee10" stroke-width="1.44" stroke-linecap="round" stroke-linejoin="round"/>
<path d="M523.5 87.0 C524.2 86.2 526.2 82.8 527.7 82.6 C529.2 82.5 531.1 84.8 532.5 86.2 C533.8 87.6 534.4 90.1 535.9 91.1 C537.4 92.2 540.2 91.6 541.7 92.6 C543.2 93.7 545.5 96.5 545.1 97.6 C544.7 98.6 540.3 98.7 539.3 98.9" fill="none" stroke="#f4ee10" stroke-width="1.34" stroke-linecap="round" stroke-linejoin="round"/>
<path d="M507.3 105.1 C506.3 105.4 503.1 105.5 501.5 106.6 C499.8 107.6 498.9 109.6 497.6 111.2 C496.3 112.7 493.5 114.9 493.9 115.8 C494.2 116.8 498.0 115.9 499.8 116.6 C501.6 117.3 503.0 120.2 504.6 120.2 C506.3 120.2 508.7 117.2 509.5 116.7" fill="none" stroke="#f4ee10" stroke-width="1.32" stroke-linecap="round" stroke-linejoin="round"/>
<path d="M489.5 98.6 C490.2 99.3 492.8 101.1 493.8 102.8 C494.8 104.4 494.2 107.6 495.5 108.5 C496.8 109.5 500.9 107.5 501.5 108.4 C502.1 109.3 499.3 112.0 499.1 113.9 C499.0 115.8 501.4 119.2 500.9 119.7 C500.3 120.1 496.6 117.1 495.7 116.6" fill="none" stroke="#f4ee10" stroke-width="1.19" stroke-linecap="round" stroke-linejoin="round"/>
<path d="M539.1 115.4 C540.0 115.7 543.5 117.9 544.8 117.3 C546.1 116.6 546.7 113.4 546.6 111.6 C546.5 109.7 545.6 107.1 544.3 106.0 C542.9 105.0 539.7 106.4 538.3 105.4 C536.8 104.5 536.9 101.3 535.4 100.2 C534.0 99.1 530.6 99.1 529.6 98.9" fill="none" stroke="#f4ee10" stroke-width="1.43" stroke-linecap="round" stroke-linejoin="round"/>
<path d="M546.4 109.6 C545.9 110.5 544.6 113.2 543.5 114.9 C542.4 116.5 541.4 118.5 539.8 119.6 C538.2 120.6 535.9 120.8 533.9 121.0 C532.0 121.2 528.8 119.8 528.0 120.7 C527.1 121.7 529.9 125.9 529.1 126.6 C528.3 127.3 524.3 125.1 523.4 124.8" fill="none" stroke="#f4ee10" stroke-width="1.50" stroke-linecap="round" stroke-linejoin="round"/>
<path d="M518.4 76.6 C518.7 77.6 521.0 81.3 520.4 82.3 C519.7 83.3 516.4 82.7 514.4 82.9 C512.4 83.0 510.2 83.6 508.4 83.0 C506.6 82.5 503.8 79.2 503.6 79.4 C503.4 79.6 505.6 83.2 507.2 84.3 C508.7 85.4 511.9 85.7 512.9 86.0" fill="none" stroke="#f4ee10" stroke-width="1.33" stroke-linecap="round" stroke-linejoin="round"/>
<path d="M496.1 105.9 C496.5 105.0 497.7 102.2 498.7 100.5 C499.7 98.8 501.5 97.3 501.9 95.4 C502.4 93.6 502.4 90.7 501.4 89.5 C500.3 88.2 497.5 87.8 495.6 87.9 C493.7 88.1 490.0 89.9 490.1 90.2 C490.1 90.6 495.1 90.2 496.1 90.2" fill="none" stroke="#f4ee10" stroke-width="1.20" stroke-linecap="round" stroke-linejoin="round"/>
<g transform="translate(523.9 108.7) rotate(-173.0)"><rect x="-0.76" y="-2.53" width="6.53" height="5.05" rx="1.77" fill="#f4ee10"/><path d="M0.88 1.89Q1.88 0.25 2.13 -1.89M3.39 1.89Q4.39 0.25 4.64 -1.89" stroke="#a89a00" stroke-width="0.70" stroke-linecap="round" fill="none"/></g>
<g transform="translate(543.3 99.9) rotate(5.7)"><rect x="-0.82" y="-2.72" width="7.37" height="5.45" rx="1.91" fill="#f4ee10"/><path d="M1.00 2.04Q2.15 0.27 2.44 -2.04M3.87 2.04Q5.01 0.27 5.30 -2.04" stroke="#a89a00" stroke-width="0.80" stroke-linecap="round" fill="none"/></g>
<g transform="translate(539.3 103.7) rotate(42.2)"><rect x="-0.82" y="-2.74" width="6.88" height="5.48" rx="1.92" fill="#f4ee10"/><path d="M0.92 2.06Q1.96 0.27 2.23 -2.06M3.53 2.06Q4.58 0.27 4.84 -2.06" stroke="#a89a00" stroke-width="0.73" stroke-linecap="round" fill="none"/></g>
<g transform="translate(493.5 104.5) rotate(147.2)"><rect x="-0.69" y="-2.29" width="8.67" height="4.57" rx="1.60" fill="#f4ee10"/><path d="M1.28 1.71Q2.74 0.23 3.10 -1.71M4.92 1.71Q6.38 0.23 6.75 -1.71" stroke="#a89a00" stroke-width="1.02" stroke-linecap="round" fill="none"/></g>
<g transform="translate(517.4 123.1) rotate(148.3)"><rect x="-0.76" y="-2.52" width="8.84" height="5.04" rx="1.77" fill="#f4ee10"/><path d="M1.28 1.89Q2.75 0.25 3.12 -1.89M4.95 1.89Q6.41 0.25 6.78 -1.89" stroke="#a89a00" stroke-width="1.03" stroke-linecap="round" fill="none"/></g>
<g transform="translate(500.3 118.7) rotate(90.6)"><rect x="-0.72" y="-2.39" width="8.25" height="4.78" rx="1.67" fill="#f4ee10"/><path d="M1.19 1.79Q2.56 0.24 2.90 -1.79M4.60 1.79Q5.97 0.24 6.31 -1.79" stroke="#a89a00" stroke-width="0.95" stroke-linecap="round" fill="none"/></g>
<g transform="translate(507.1 103.8) rotate(134.7)"><rect x="-0.76" y="-2.54" width="8.55" height="5.07" rx="1.78" fill="#f4ee10"/><path d="M1.23 1.90Q2.63 0.25 2.99 -1.90M4.74 1.90Q6.15 0.25 6.50 -1.90" stroke="#a89a00" stroke-width="0.98" stroke-linecap="round" fill="none"/></g>
<g transform="translate(512.9 88.6) rotate(52.4)"><rect x="-0.82" y="-2.73" width="7.44" height="5.46" rx="1.91" fill="#f4ee10"/><path d="M1.01 2.05Q2.17 0.27 2.46 -2.05M3.91 2.05Q5.07 0.27 5.36 -2.05" stroke="#a89a00" stroke-width="0.81" stroke-linecap="round" fill="none"/></g>
<path d="M604.0 28.0 C606.3 23.7 611.7 22.5 616.0 22.0 C620.3 21.5 626.3 23.0 630.0 25.0 C633.7 27.0 636.3 29.8 638.0 34.0 C639.7 38.2 640.7 45.0 640.0 50.0 C639.3 55.0 637.3 61.0 634.0 64.0 C630.7 67.0 624.3 68.3 620.0 68.0 C615.7 67.7 611.0 65.3 608.0 62.0 C605.0 58.7 602.7 53.7 602.0 48.0 C601.3 42.3 601.7 32.3 604.0 28.0Z" fill="#f4ee30" opacity="0.4"/>
<path d="M630.0 27.0 C627.8 29.2 621.3 36.3 617.0 40.5 C612.7 44.7 606.2 50.1 604.0 52.0" fill="none" stroke="#a89a00" stroke-width="3.2" stroke-linecap="butt" stroke-linejoin="round"/>
<path d="M630.0 26.2 C627.8 28.4 621.3 35.5 617.0 39.7 C612.7 43.9 606.2 49.3 604.0 51.2" fill="none" stroke="#f4ee10" stroke-width="2.4" stroke-linecap="butt" stroke-linejoin="round"/>
<path d="M634.0 33.0 C631.8 35.2 625.0 42.3 620.5 46.5 C616.0 50.7 609.2 56.1 607.0 58.0" fill="none" stroke="#a89a00" stroke-width="3.2" stroke-linecap="butt" stroke-linejoin="round"/>
<path d="M634.0 32.2 C631.8 34.5 625.0 41.5 620.5 45.7 C616.0 49.9 609.2 55.3 607.0 57.2" fill="none" stroke="#f4ee10" stroke-width="2.4" stroke-linecap="butt" stroke-linejoin="round"/>
<path d="M637.0 40.0 C634.8 42.1 628.3 48.7 624.0 52.5 C619.7 56.3 613.2 61.2 611.0 63.0" fill="none" stroke="#a89a00" stroke-width="3.2" stroke-linecap="butt" stroke-linejoin="round"/>
<path d="M637.0 39.2 C634.8 41.3 628.3 47.9 624.0 51.7 C619.7 55.5 613.2 60.5 611.0 62.2" fill="none" stroke="#f4ee10" stroke-width="2.4" stroke-linecap="butt" stroke-linejoin="round"/>
<path d="M638.0 47.0 C636.2 48.8 631.0 54.3 627.5 57.5 C624.0 60.7 618.8 64.6 617.0 66.0" fill="none" stroke="#a89a00" stroke-width="3.2" stroke-linecap="butt" stroke-linejoin="round"/>
<path d="M638.0 46.2 C636.2 48.0 631.0 53.5 627.5 56.7 C624.0 59.9 618.8 63.8 617.0 65.2" fill="none" stroke="#f4ee10" stroke-width="2.4" stroke-linecap="butt" stroke-linejoin="round"/>
<path d="M624.0 23.0 C622.2 24.9 617.0 31.0 613.5 34.5 C610.0 38.0 604.8 42.4 603.0 44.0" fill="none" stroke="#a89a00" stroke-width="3.2" stroke-linecap="butt" stroke-linejoin="round"/>
<path d="M624.0 22.2 C622.2 24.1 617.0 30.2 613.5 33.7 C610.0 37.2 604.8 41.6 603.0 43.2" fill="none" stroke="#f4ee10" stroke-width="2.4" stroke-linecap="butt" stroke-linejoin="round"/>
<g transform="translate(599.0 20.0) rotate(-15.3)"><rect x="-0.90" y="-3.00" width="13.20" height="6.00" rx="2.10" fill="#f4ee10"/><path d="M1.33 2.25Q2.85 0.30 3.23 -2.25M5.13 2.25Q6.65 0.30 7.03 -2.25M8.93 2.25Q10.45 0.30 10.83 -2.25" stroke="#a89a00" stroke-width="1.06" stroke-linecap="round" fill="none"/></g>
<g transform="translate(592.0 33.0) rotate(59.0)"><rect x="-0.90" y="-3.00" width="13.46" height="6.00" rx="2.10" fill="#f4ee10"/><path d="M1.02 2.25Q2.19 0.30 2.48 -2.25M3.94 2.25Q5.10 0.30 5.39 -2.25M6.85 2.25Q8.02 0.30 8.31 -2.25M9.77 2.25Q10.93 0.30 11.22 -2.25" stroke="#a89a00" stroke-width="0.82" stroke-linecap="round" fill="none"/></g>
<g transform="translate(592.0 45.0) rotate(48.8)"><rect x="-0.90" y="-3.00" width="12.43" height="6.00" rx="2.10" fill="#f4ee10"/><path d="M1.24 2.25Q2.66 0.30 3.01 -2.25M4.78 2.25Q6.20 0.30 6.56 -2.25M8.33 2.25Q9.74 0.30 10.10 -2.25" stroke="#a89a00" stroke-width="0.99" stroke-linecap="round" fill="none"/></g>
<g transform="translate(637.0 31.0) rotate(48.8)"><rect x="-0.90" y="-3.00" width="12.43" height="6.00" rx="2.10" fill="#f4ee10"/><path d="M1.24 2.25Q2.66 0.30 3.01 -2.25M4.78 2.25Q6.20 0.30 6.56 -2.25M8.33 2.25Q9.74 0.30 10.10 -2.25" stroke="#a89a00" stroke-width="0.99" stroke-linecap="round" fill="none"/></g>
<g transform="translate(641.0 42.0) rotate(49.4)"><rect x="-0.90" y="-3.00" width="11.02" height="6.00" rx="2.10" fill="#f4ee10"/><path d="M1.08 2.25Q2.30 0.30 2.61 -2.25M4.15 2.25Q5.38 0.30 5.69 -2.25M7.22 2.25Q8.45 0.30 8.76 -2.25" stroke="#a89a00" stroke-width="0.86" stroke-linecap="round" fill="none"/></g>
<g transform="translate(643.0 54.0) rotate(49.4)"><rect x="-0.90" y="-3.00" width="11.02" height="6.00" rx="2.10" fill="#f4ee10"/><path d="M1.08 2.25Q2.30 0.30 2.61 -2.25M4.15 2.25Q5.38 0.30 5.69 -2.25M7.22 2.25Q8.45 0.30 8.76 -2.25" stroke="#a89a00" stroke-width="0.86" stroke-linecap="round" fill="none"/></g>
<g transform="translate(605.0 69.0) rotate(24.0)"><rect x="-0.90" y="-3.00" width="11.65" height="6.00" rx="2.10" fill="#f4ee10"/><path d="M1.15 2.25Q2.46 0.30 2.79 -2.25M4.43 2.25Q5.75 0.30 6.07 -2.25M7.71 2.25Q9.03 0.30 9.36 -2.25" stroke="#a89a00" stroke-width="0.92" stroke-linecap="round" fill="none"/></g>
<g transform="translate(619.0 15.0) rotate(24.0)"><rect x="-0.90" y="-3.00" width="11.65" height="6.00" rx="2.10" fill="#f4ee10"/><path d="M1.15 2.25Q2.46 0.30 2.79 -2.25M4.43 2.25Q5.75 0.30 6.07 -2.25M7.71 2.25Q9.03 0.30 9.36 -2.25" stroke="#a89a00" stroke-width="0.92" stroke-linecap="round" fill="none"/></g>
<g transform="translate(612.0 36.0) rotate(21.8)"><rect x="-0.90" y="-3.00" width="12.57" height="6.00" rx="2.10" fill="#f4ee10"/><path d="M1.26 2.25Q2.69 0.30 3.05 -2.25M4.85 2.25Q6.28 0.30 6.64 -2.25M8.44 2.25Q9.87 0.30 10.23 -2.25" stroke="#a89a00" stroke-width="1.01" stroke-linecap="round" fill="none"/></g>
<g transform="translate(622.0 50.0) rotate(33.7)"><rect x="-0.90" y="-3.00" width="12.62" height="6.00" rx="2.10" fill="#f4ee10"/><path d="M1.26 2.25Q2.70 0.30 3.06 -2.25M4.87 2.25Q6.31 0.30 6.67 -2.25M8.47 2.25Q9.92 0.30 10.28 -2.25" stroke="#a89a00" stroke-width="1.01" stroke-linecap="round" fill="none"/></g>
<g transform="translate(628.0 62.0) rotate(36.9)"><rect x="-0.90" y="-3.00" width="11.80" height="6.00" rx="2.10" fill="#f4ee10"/><path d="M1.17 2.25Q2.50 0.30 2.83 -2.25M4.50 2.25Q5.83 0.30 6.17 -2.25M7.83 2.25Q9.17 0.30 9.50 -2.25" stroke="#a89a00" stroke-width="0.93" stroke-linecap="round" fill="none"/></g>
<path d="M612.0 16.0 C613.3 15.8 617.5 14.7 620.0 15.0 C622.5 15.3 624.7 17.0 627.0 18.0 C629.3 19.0 631.8 19.8 634.0 21.0 C636.2 22.2 638.0 23.8 640.0 25.0 C642.0 26.2 645.0 27.5 646.0 28.0" fill="none" stroke="#f4ee10" stroke-width="1.50" stroke-linecap="round" stroke-linejoin="round"/>
<path d="M590.0 40.0 C590.3 38.3 590.7 32.7 592.0 30.0 C593.3 27.3 595.8 25.7 598.0 24.0 C600.2 22.3 603.8 20.7 605.0 20.0" fill="none" stroke="#f4ee10" stroke-width="1.50" stroke-linecap="round" stroke-linejoin="round"/>
<path d="M636.0 60.0 C637.0 61.0 639.7 64.3 642.0 66.0 C644.3 67.7 648.5 68.0 650.0 70.0 C651.5 72.0 651.8 75.5 651.0 78.0 C650.2 80.5 647.2 84.5 645.0 85.0 C642.8 85.5 640.2 81.0 638.0 81.0 C635.8 81.0 634.0 85.3 632.0 85.0 C630.0 84.7 627.0 80.0 626.0 79.0" fill="none" stroke="#f4ee10" stroke-width="1.50" stroke-linecap="round" stroke-linejoin="round"/>
<path d="M608.0 68.0 C608.7 69.2 610.3 72.8 612.0 75.0 C613.7 77.2 615.7 79.7 618.0 81.0 C620.3 82.3 623.7 83.7 626.0 83.0 C628.3 82.3 631.0 78.0 632.0 77.0" fill="none" stroke="#f4ee10" stroke-width="1.50" stroke-linecap="round" stroke-linejoin="round"/>
<path d="M600.0 58.0 C599.3 59.3 597.3 63.7 596.0 66.0 C594.7 68.3 593.3 70.3 592.0 72.0 C590.7 73.7 588.7 75.3 588.0 76.0" fill="none" stroke="#f4ee10" stroke-width="1.50" stroke-linecap="round" stroke-linejoin="round"/>
<path d="M644.0 66.0 C645.0 65.2 648.7 63.3 650.0 61.0 C651.3 58.7 652.0 55.5 652.0 52.0 C652.0 48.5 651.0 43.5 650.0 40.0 C649.0 36.5 646.7 32.5 646.0 31.0" fill="none" stroke="#f4ee10" stroke-width="1.50" stroke-linecap="round" stroke-linejoin="round"/>
<path d="M596.0 54.0 C596.7 55.3 598.3 60.0 600.0 62.0 C601.7 64.0 605.0 65.3 606.0 66.0" fill="none" stroke="#f4ee10" stroke-width="1.50" stroke-linecap="round" stroke-linejoin="round"/>
<path d="M600.0 40.0 C601.0 39.0 604.0 35.7 606.0 34.0 C608.0 32.3 611.0 30.7 612.0 30.0" fill="none" stroke="#a89a00" stroke-width="1.20" stroke-linecap="round" stroke-linejoin="round"/>
<path d="M598.1 61.3 C599.1 61.5 603.0 61.0 604.0 62.2 C605.1 63.3 605.3 67.5 604.5 68.1 C603.6 68.8 598.8 66.5 598.8 66.1 C598.9 65.8 602.8 66.0 604.8 66.0 C606.8 66.0 609.0 66.8 610.8 66.3 C612.6 65.7 614.8 63.2 615.6 62.6" fill="none" stroke="#f4ee10" stroke-width="1.47" stroke-linecap="round" stroke-linejoin="round"/>
<path d="M644.0 63.9 C644.8 63.3 648.4 59.8 648.6 60.0 C648.7 60.1 646.0 63.1 644.9 64.7 C643.8 66.4 643.4 69.0 642.0 70.0 C640.5 71.0 638.0 70.6 636.0 70.6 C634.0 70.6 631.9 69.8 630.0 70.2 C628.1 70.6 625.6 72.5 624.7 72.9" fill="none" stroke="#f4ee10" stroke-width="1.30" stroke-linecap="round" stroke-linejoin="round"/>
<path d="M612.4 23.3 C612.9 24.2 615.5 27.1 615.2 28.7 C614.8 30.2 611.3 30.9 610.5 32.5 C609.8 34.1 609.6 37.3 610.6 38.5 C611.6 39.7 614.5 39.4 616.4 39.9 C618.4 40.4 620.8 42.0 622.3 41.4 C623.7 40.8 624.9 37.2 625.4 36.3" fill="none" stroke="#f4ee10" stroke-width="1.40" stroke-linecap="round" stroke-linejoin="round"/>
<path d="M627.4 50.8 C627.6 49.8 629.5 45.5 628.8 45.0 C628.2 44.5 624.9 46.4 623.4 47.6 C622.0 48.9 620.8 50.7 620.0 52.5 C619.2 54.3 619.8 56.9 618.8 58.4 C617.7 59.9 615.0 60.0 613.5 61.4 C612.1 62.7 610.6 65.4 610.0 66.2" fill="none" stroke="#f4ee10" stroke-width="1.39" stroke-linecap="round" stroke-linejoin="round"/>
<path d="M627.3 63.9 C628.2 64.2 631.0 65.2 633.0 65.6 C634.9 66.1 637.6 67.4 638.9 66.6 C640.2 65.8 639.8 61.1 640.8 60.9 C641.8 60.7 644.0 63.6 644.9 65.3 C645.8 67.0 646.2 69.2 646.3 71.2 C646.3 73.1 645.5 76.1 645.4 77.1" fill="none" stroke="#f4ee10" stroke-width="1.26" stroke-linecap="round" stroke-linejoin="round"/>
<path d="M601.9 57.3 C600.9 57.5 596.0 57.7 596.0 58.2 C595.9 58.8 600.6 59.1 601.5 60.5 C602.5 61.9 600.6 66.1 601.4 66.5 C602.2 66.9 605.3 64.4 606.2 62.8 C607.0 61.2 605.6 58.2 606.6 56.8 C607.6 55.4 611.2 54.8 612.1 54.4" fill="none" stroke="#f4ee10" stroke-width="1.09" stroke-linecap="round" stroke-linejoin="round"/>
<path d="M641.4 66.7 C641.9 67.6 643.5 70.2 644.0 72.1 C644.6 74.0 645.8 77.1 644.9 78.1 C644.1 79.0 640.6 78.5 638.9 77.7 C637.3 76.9 634.9 74.8 634.9 73.3 C634.9 71.7 638.1 70.4 638.8 68.7 C639.5 66.9 639.0 63.7 639.1 62.7" fill="none" stroke="#f4ee10" stroke-width="1.03" stroke-linecap="round" stroke-linejoin="round"/>
<path d="M644.3 37.9 C643.7 37.1 641.1 34.8 640.8 33.1 C640.4 31.3 642.8 27.8 642.1 27.2 C641.4 26.7 638.6 29.2 636.7 29.8 C634.8 30.3 631.6 31.4 630.7 30.5 C629.8 29.6 630.3 25.4 631.4 24.5 C632.5 23.7 636.3 25.4 637.3 25.6" fill="none" stroke="#f4ee10" stroke-width="1.32" stroke-linecap="round" stroke-linejoin="round"/>
<path d="M527.0 24.0 C529.7 20.0 535.2 20.3 540.0 20.0 C544.8 19.7 551.7 20.7 556.0 22.0 C560.3 23.3 563.3 25.0 566.0 28.0 C568.7 31.0 570.3 36.0 572.0 40.0 C573.7 44.0 575.0 48.3 576.0 52.0 C577.0 55.7 579.7 59.7 578.0 62.0 C576.3 64.3 570.7 65.0 566.0 66.0 C561.3 67.0 555.0 67.7 550.0 68.0 C545.0 68.3 540.0 69.3 536.0 68.0 C532.0 66.7 528.0 64.0 526.0 60.0 C524.0 56.0 523.8 50.0 524.0 44.0 C524.2 38.0 524.3 28.0 527.0 24.0Z" fill="#1ef01e" opacity="0.85"/>
<path d="M573.6 57.3 C572.8 56.4 569.3 54.0 569.0 52.1 C568.7 50.1 572.3 46.3 571.6 45.6 C571.0 44.9 566.1 46.4 565.1 48.0 C564.1 49.5 564.7 53.0 565.7 55.0 C566.6 56.9 570.9 59.6 570.7 59.8 C570.5 60.1 565.5 57.1 564.5 56.5" fill="none" stroke="#078a07" stroke-width="1.01" stroke-linecap="round" stroke-linejoin="round"/>
<path d="M538.4 48.8 C539.0 47.9 540.4 44.4 542.1 42.9 C543.8 41.4 546.3 40.0 548.4 39.9 C550.6 39.7 552.8 42.1 555.0 42.2 C557.3 42.2 559.6 41.0 561.7 40.1 C563.9 39.2 566.7 36.1 567.8 36.7 C569.0 37.2 568.5 42.5 568.6 43.6" fill="none" stroke="#078a07" stroke-width="0.88" stroke-linecap="round" stroke-linejoin="round"/>
<path d="M528.2 48.1 C528.8 49.1 531.1 54.4 531.4 54.3 C531.6 54.2 530.3 49.8 529.7 47.5 C529.2 45.3 527.2 42.2 528.1 40.7 C528.9 39.3 532.6 39.5 534.8 38.8 C537.0 38.0 539.7 35.6 541.3 36.3 C542.9 36.9 543.9 41.5 544.5 42.5" fill="none" stroke="#078a07" stroke-width="1.08" stroke-linecap="round" stroke-linejoin="round"/>
<path d="M569.9 39.1 C569.3 40.1 566.3 43.5 566.6 45.3 C567.0 47.0 571.2 47.9 572.0 49.8 C572.8 51.7 572.3 54.7 571.4 56.8 C570.5 58.8 568.3 61.9 566.6 61.9 C565.0 62.0 563.6 58.0 561.6 57.0 C559.7 56.0 555.9 55.9 554.8 55.7" fill="none" stroke="#078a07" stroke-width="1.20" stroke-linecap="round" stroke-linejoin="round"/>
<path d="M552.7 26.4 C553.8 26.6 559.0 26.0 559.6 27.2 C560.3 28.4 556.8 31.2 556.4 33.4 C556.0 35.6 557.0 38.0 557.2 40.4 C557.4 42.7 557.7 45.0 557.5 47.3 C557.4 49.7 557.7 52.8 556.4 54.3 C555.1 55.7 550.8 55.7 549.6 56.0" fill="none" stroke="#078a07" stroke-width="0.84" stroke-linecap="round" stroke-linejoin="round"/>
<path d="M530.6 52.0 C531.6 51.5 534.6 49.6 536.7 48.6 C538.8 47.5 541.4 47.3 543.2 45.9 C545.0 44.5 546.8 42.4 547.4 40.3 C547.9 38.2 546.8 35.6 546.4 33.3 C546.1 31.0 546.5 27.1 545.3 26.4 C544.0 25.8 540.1 29.1 539.0 29.6" fill="none" stroke="#078a07" stroke-width="1.12" stroke-linecap="round" stroke-linejoin="round"/>
<path d="M547.5 54.8 C548.7 54.8 553.9 55.8 554.5 54.8 C555.1 53.8 550.9 50.5 551.2 48.6 C551.5 46.8 554.8 45.6 556.3 43.9 C557.8 42.1 558.8 39.9 560.3 38.2 C561.9 36.4 565.4 35.1 565.5 33.4 C565.6 31.7 561.7 29.0 560.9 28.1" fill="none" stroke="#078a07" stroke-width="1.19" stroke-linecap="round" stroke-linejoin="round"/>
<path d="M545.9 59.9 C546.4 58.9 549.0 55.8 549.1 53.7 C549.1 51.6 547.5 47.7 546.0 47.3 C544.6 47.0 542.4 51.6 540.6 51.7 C538.7 51.8 536.8 49.0 534.8 47.8 C532.8 46.5 529.1 45.9 528.7 44.3 C528.3 42.7 531.6 39.2 532.2 38.2" fill="none" stroke="#078a07" stroke-width="1.12" stroke-linecap="round" stroke-linejoin="round"/>
<g transform="translate(530.0 28.0) rotate(-2.2)"><rect x="-1.05" y="-3.50" width="28.12" height="7.00" rx="2.45" fill="#1ef01e"/><path d="M1.52 2.62Q3.25 0.35 3.69 -2.62M5.85 2.62Q7.59 0.35 8.02 -2.62M10.19 2.62Q11.93 0.35 12.36 -2.62M14.53 2.62Q16.26 0.35 16.70 -2.62M18.86 2.62Q20.60 0.35 21.03 -2.62M23.20 2.62Q24.94 0.35 25.37 -2.62" stroke="#078a07" stroke-width="1.21" stroke-linecap="round" fill="none"/></g>
<g transform="translate(526.0 49.0) rotate(1.3)"><rect x="-0.90" y="-3.00" width="45.81" height="6.00" rx="2.10" fill="#1ef01e"/><path d="M1.54 2.25Q3.30 0.30 3.74 -2.25M5.94 2.25Q7.70 0.30 8.14 -2.25M10.34 2.25Q12.10 0.30 12.54 -2.25M14.74 2.25Q16.50 0.30 16.94 -2.25M19.14 2.25Q20.91 0.30 21.35 -2.25M23.55 2.25Q25.31 0.30 25.75 -2.25M27.95 2.25Q29.71 0.30 30.15 -2.25M32.35 2.25Q34.11 0.30 34.55 -2.25M36.75 2.25Q38.51 0.30 38.95 -2.25M41.15 2.25Q42.91 0.30 43.35 -2.25" stroke="#078a07" stroke-width="1.23" stroke-linecap="round" fill="none"/></g>
<g transform="translate(540.0 71.0) rotate(-16.9)"><rect x="-1.50" y="-5.00" width="27.04" height="10.00" rx="3.50" fill="#1ef01e"/><path d="M1.68 3.75Q3.61 0.50 4.09 -3.75M6.49 3.75Q8.41 0.50 8.90 -3.75M11.30 3.75Q13.22 0.50 13.70 -3.75M16.11 3.75Q18.03 0.50 18.51 -3.75M20.92 3.75Q22.84 0.50 23.32 -3.75" stroke="#078a07" stroke-width="1.35" stroke-linecap="round" fill="none"/></g>
<g transform="translate(556.0 81.0) rotate(-16.2)"><rect x="-1.50" y="-5.00" width="35.28" height="10.00" rx="3.50" fill="#1ef01e"/><path d="M1.61 3.75Q3.46 0.50 3.92 -3.75M6.23 3.75Q8.07 0.50 8.53 -3.75M10.84 3.75Q12.68 0.50 13.14 -3.75M15.45 3.75Q17.29 0.50 17.75 -3.75M20.06 3.75Q21.90 0.50 22.37 -3.75M24.67 3.75Q26.52 0.50 26.98 -3.75M29.28 3.75Q31.13 0.50 31.59 -3.75" stroke="#078a07" stroke-width="1.29" stroke-linecap="round" fill="none"/></g>
<g transform="translate(570.0 92.0) rotate(-10.3)"><rect x="-1.50" y="-5.00" width="36.54" height="10.00" rx="3.50" fill="#1ef01e"/><path d="M1.68 3.75Q3.59 0.50 4.07 -3.75M6.47 3.75Q8.39 0.50 8.86 -3.75M11.26 3.75Q13.18 0.50 13.66 -3.75M16.05 3.75Q17.97 0.50 18.45 -3.75M20.84 3.75Q22.76 0.50 23.24 -3.75M25.63 3.75Q27.55 0.50 28.03 -3.75M30.43 3.75Q32.34 0.50 32.82 -3.75" stroke="#078a07" stroke-width="1.34" stroke-linecap="round" fill="none"/></g>
<g transform="translate(574.0 103.0) rotate(-7.1)"><rect x="-1.20" y="-4.00" width="34.65" height="8.00" rx="2.80" fill="#1ef01e"/><path d="M1.61 3.00Q3.46 0.40 3.92 -3.00M6.22 3.00Q8.06 0.40 8.52 -3.00M10.83 3.00Q12.67 0.40 13.13 -3.00M15.43 3.00Q17.28 0.40 17.74 -3.00M20.04 3.00Q21.88 0.40 22.34 -3.00M24.65 3.00Q26.49 0.40 26.95 -3.00M29.25 3.00Q31.10 0.40 31.56 -3.00" stroke="#078a07" stroke-width="1.29" stroke-linecap="round" fill="none"/></g>
<path d="M562.0 64.0 C563.3 63.3 567.3 60.0 570.0 60.0 C572.7 60.0 575.3 62.3 578.0 64.0 C580.7 65.7 584.7 69.0 586.0 70.0" fill="none" stroke="#1ef01e" stroke-width="2.40" stroke-linecap="round" stroke-linejoin="round"/>
<path d="M586.0 72.0 C587.3 72.3 591.7 72.7 594.0 74.0 C596.3 75.3 598.3 78.0 600.0 80.0 C601.7 82.0 603.3 85.0 604.0 86.0" fill="none" stroke="#1ef01e" stroke-width="2.20" stroke-linecap="round" stroke-linejoin="round"/>
<path d="M548.0 76.0 C549.3 76.7 554.0 78.3 556.0 80.0 C558.0 81.7 559.3 85.0 560.0 86.0" fill="none" stroke="#1ef01e" stroke-width="2.00" stroke-linecap="round" stroke-linejoin="round"/>
<path d="M578.0 80.0 C580.0 77.0 588.0 75.7 592.0 76.0 C596.0 76.3 599.3 79.3 602.0 82.0 C604.7 84.7 607.7 89.0 608.0 92.0 C608.3 95.0 607.0 98.7 604.0 100.0 C601.0 101.3 594.0 101.0 590.0 100.0 C586.0 99.0 582.0 97.3 580.0 94.0 C578.0 90.7 576.0 83.0 578.0 80.0Z" fill="#1ef01e" opacity="0.7"/>
<path d="M603.0 86.0 C603.8 87.0 606.8 89.7 608.0 92.0 C609.2 94.3 610.3 97.7 610.0 100.0 C609.7 102.3 606.7 105.0 606.0 106.0" fill="none" stroke="#1ef01e" stroke-width="2.20" stroke-linecap="round" stroke-linejoin="round"/>
<path d="M560.0 86.0 C561.0 87.0 564.0 90.3 566.0 92.0 C568.0 93.7 571.0 95.3 572.0 96.0" fill="none" stroke="#1ef01e" stroke-width="2.00" stroke-linecap="round" stroke-linejoin="round"/>
<path d="M586.0 123.0 C587.0 121.0 594.3 120.7 598.0 121.0 C601.7 121.3 606.7 123.2 608.0 125.0 C609.3 126.8 608.7 130.7 606.0 132.0 C603.3 133.3 595.3 134.5 592.0 133.0 C588.7 131.5 585.0 125.0 586.0 123.0Z" fill="#1ef01e"/>
<path d="M585.0 128.0 C586.2 127.7 589.5 126.0 592.0 126.0 C594.5 126.0 598.7 127.7 600.0 128.0" fill="none" stroke="#078a07" stroke-width="0.80" stroke-linecap="round" stroke-linejoin="round"/>
<path d="M494.0 52.0 C494.5 50.8 495.7 47.2 497.0 45.0 C498.3 42.8 499.7 40.7 502.0 39.0 C504.3 37.3 507.8 36.3 511.0 35.0 C514.2 33.7 518.0 32.7 521.0 31.0 C524.0 29.3 526.7 27.2 529.0 25.0 C531.3 22.8 533.3 19.7 535.0 18.0 C536.7 16.3 538.3 15.5 539.0 15.0" fill="none" stroke="#ff0a0a" stroke-width="3.6" stroke-linecap="butt" stroke-linejoin="round"/>
<path d="M500.0 44.0 C501.3 43.3 505.0 41.2 508.0 40.0 C511.0 38.8 514.7 38.2 518.0 37.0 C521.3 35.8 524.8 34.7 528.0 33.0 C531.2 31.3 534.5 28.8 537.0 27.0 C539.5 25.2 542.0 22.8 543.0 22.0" fill="none" stroke="#ff0a0a" stroke-width="2.6" stroke-linecap="butt" stroke-linejoin="round"/>
<path d="M539.0 15.0 C540.0 15.2 543.0 15.2 545.0 16.0 C547.0 16.8 549.2 19.0 551.0 20.0 C552.8 21.0 555.2 21.7 556.0 22.0" fill="none" stroke="#ff0a0a" stroke-width="2.40" stroke-linecap="round" stroke-linejoin="round"/>
<path d="M532.0 24.0 C533.0 23.2 535.7 19.5 538.0 19.0 C540.3 18.5 543.7 19.8 546.0 21.0 C548.3 22.2 551.0 25.2 552.0 26.0" fill="none" stroke="#9a0000" stroke-width="1.60" stroke-linecap="round" stroke-linejoin="round"/>
<g transform="translate(503.0 43.0) rotate(70.6)"><rect x="-1.05" y="-3.50" width="20.13" height="7.00" rx="2.45" fill="#ff0a0a"/><path d="M1.26 2.62Q2.70 0.35 3.06 -2.62M4.87 2.62Q6.31 0.35 6.67 -2.62M8.47 2.62Q9.92 0.35 10.28 -2.62M12.08 2.62Q13.52 0.35 13.88 -2.62M15.68 2.62Q17.13 0.35 17.49 -2.62" stroke="#9a0000" stroke-width="1.01" stroke-linecap="round" fill="none"/></g>
<path d="M497.0 53.0 C497.5 54.2 498.7 57.7 500.0 60.0 C501.3 62.3 503.3 65.0 505.0 67.0 C506.7 69.0 508.3 71.5 510.0 72.0 C511.7 72.5 514.0 71.3 515.0 70.0 C516.0 68.7 515.8 65.0 516.0 64.0" fill="none" stroke="#ff0a0a" stroke-width="2.60" stroke-linecap="round" stroke-linejoin="round"/>
<path d="M506.0 62.0 C507.0 62.7 510.3 66.3 512.0 66.0 C513.7 65.7 515.7 62.3 516.0 60.0 C516.3 57.7 515.0 54.2 514.0 52.0 C513.0 49.8 510.7 47.8 510.0 47.0" fill="none" stroke="#ff0a0a" stroke-width="2.20" stroke-linecap="round" stroke-linejoin="round"/>
<path d="M509.0 40.0 C509.8 40.7 512.7 42.0 514.0 44.0 C515.3 46.0 516.5 50.7 517.0 52.0" fill="none" stroke="#9a0000" stroke-width="1.80" stroke-linecap="round" stroke-linejoin="round"/>
<path d="M495.0 52.0 C495.5 52.7 496.7 55.7 498.0 56.0 C499.3 56.3 502.2 54.3 503.0 54.0" fill="none" stroke="#ff0a0a" stroke-width="2.20" stroke-linecap="round" stroke-linejoin="round"/>
<path d="M545.0 24.0 C546.8 24.0 552.5 24.3 556.0 24.0 C559.5 23.7 563.3 22.7 566.0 22.0 C568.7 21.3 570.2 20.7 572.0 20.0 C573.8 19.3 575.5 17.8 577.0 18.0 C578.5 18.2 580.5 19.5 581.0 21.0 C581.5 22.5 581.0 25.7 580.0 27.0 C579.0 28.3 576.7 29.0 575.0 29.0 C573.3 29.0 570.8 27.3 570.0 27.0" fill="none" stroke="#ff0a0a" stroke-width="2.00" stroke-linecap="round" stroke-linejoin="round"/>
<path d="M566.0 34.0 C567.0 34.3 570.0 36.0 572.0 36.0 C574.0 36.0 577.0 34.3 578.0 34.0" fill="none" stroke="#ff0a0a" stroke-width="1.80" stroke-linecap="round" stroke-linejoin="round"/>
<g transform="translate(517.0 41.0) rotate(2.8)"><rect x="-1.50" y="-5.00" width="54.06" height="10.00" rx="3.50" fill="#ff0a0a"/><path d="M1.79 3.75Q3.83 0.50 4.34 -3.75M6.89 3.75Q8.94 0.50 9.45 -3.75M12.00 3.75Q14.04 0.50 14.55 -3.75M17.11 3.75Q19.15 0.50 19.66 -3.75M22.21 3.75Q24.25 0.50 24.76 -3.75M27.32 3.75Q29.36 0.50 29.87 -3.75M32.42 3.75Q34.47 0.50 34.98 -3.75M37.53 3.75Q39.57 0.50 40.08 -3.75M42.64 3.75Q44.68 0.50 45.19 -3.75M47.74 3.75Q49.78 0.50 50.30 -3.75" stroke="#9a0000" stroke-width="1.43" stroke-linecap="round" fill="none"/></g>
<g transform="translate(522.0 57.0) rotate(0.0)"><rect x="-1.50" y="-5.00" width="38.00" height="10.00" rx="3.50" fill="#ff0a0a"/><path d="M1.75 3.75Q3.75 0.50 4.25 -3.75M6.75 3.75Q8.75 0.50 9.25 -3.75M11.75 3.75Q13.75 0.50 14.25 -3.75M16.75 3.75Q18.75 0.50 19.25 -3.75M21.75 3.75Q23.75 0.50 24.25 -3.75M26.75 3.75Q28.75 0.50 29.25 -3.75M31.75 3.75Q33.75 0.50 34.25 -3.75" stroke="#9a0000" stroke-width="1.40" stroke-linecap="round" fill="none"/></g>
<g transform="translate(549.0 30.0) rotate(0.0)"><rect x="-1.05" y="-3.50" width="22.10" height="7.00" rx="2.45" fill="#c80000"/><path d="M1.40 2.62Q3.00 0.35 3.40 -2.62M5.40 2.62Q7.00 0.35 7.40 -2.62M9.40 2.62Q11.00 0.35 11.40 -2.62M13.40 2.62Q15.00 0.35 15.40 -2.62M17.40 2.62Q19.00 0.35 19.40 -2.62" stroke="#700000" stroke-width="1.12" stroke-linecap="round" fill="none"/></g>
<path d="M566.0 44.0 C567.0 44.7 570.5 46.0 572.0 48.0 C573.5 50.0 574.5 54.7 575.0 56.0" fill="none" stroke="#ff0a0a" stroke-width="1.60" stroke-linecap="round" stroke-linejoin="round"/>
<path d="M532.0 92.0 C533.7 91.9 538.5 91.6 542.0 91.5 C545.5 91.4 549.7 90.6 553.0 91.5 C556.3 92.4 559.0 95.1 562.0 97.0 C565.0 98.9 568.8 101.5 571.0 103.0 C573.2 104.5 574.3 105.5 575.0 106.0" fill="none" stroke="#0a0aff" stroke-width="4" stroke-linecap="butt" stroke-linejoin="round"/>
<path d="M530.0 93.0 C530.3 91.8 531.0 88.0 532.0 86.0 C533.0 84.0 533.8 81.9 536.0 81.0 C538.2 80.1 542.3 79.5 545.0 80.5 C547.7 81.5 550.3 85.1 552.0 87.0 C553.7 88.9 554.5 91.2 555.0 92.0" fill="none" stroke="#0a0aff" stroke-width="2.60" stroke-linecap="round" stroke-linejoin="round"/>
<path d="M567.0 57.0 C568.3 57.4 571.2 58.3 575.0 59.5 C578.8 60.7 585.5 62.7 590.0 64.0 C594.5 65.3 598.0 66.4 602.0 67.5 C606.0 68.6 612.0 70.0 614.0 70.5" fill="none" stroke="#0a0aff" stroke-width="5" stroke-linecap="butt" stroke-linejoin="round"/>
<path d="M569.0 56.0 C570.0 57.2 572.7 61.3 575.0 63.0 C577.3 64.7 580.2 65.3 583.0 66.0 C585.8 66.7 589.8 66.0 592.0 67.0 C594.2 68.0 595.3 71.2 596.0 72.0" fill="none" stroke="#0a0aff" stroke-width="3.4" stroke-linecap="butt" stroke-linejoin="round"/>
<polygon points="593.6,73.9 599.1,75.8 598.4,70.1" fill="#0a0aff"/>
<path d="M614.0 70.0 C614.3 71.3 616.2 75.3 616.0 78.0 C615.8 80.7 614.7 85.2 613.0 86.0 C611.3 86.8 608.2 84.2 606.0 83.0 C603.8 81.8 601.7 80.2 600.0 79.0 C598.3 77.8 596.7 76.5 596.0 76.0" fill="none" stroke="#0a0aff" stroke-width="2.20" stroke-linecap="round" stroke-linejoin="round"/>
<path d="M572.0 49.0 C572.5 49.8 575.7 52.7 575.0 54.0 C574.3 55.3 569.2 56.5 568.0 57.0" fill="none" stroke="#0a0aff" stroke-width="2.60" stroke-linecap="round" stroke-linejoin="round"/>
<polygon points="573.0,103.0 578.0,103.0 578.0,110.0 573.0,110.0" fill="#0a0aff"/>
<path d="M556.0 93.0 C556.7 94.0 558.3 97.3 560.0 99.0 C561.7 100.7 564.0 102.3 566.0 103.0 C568.0 103.7 571.0 103.0 572.0 103.0" fill="none" stroke="#0a0aff" stroke-width="1.80" stroke-linecap="round" stroke-linejoin="round"/>
<path d="M575.0 60.8 C579.8 60.8 599.2 61.0 604.0 61.0" fill="none" stroke="#b020c8" stroke-width="2.8" stroke-linecap="butt" stroke-linejoin="round"/>
<ellipse cx="566.5" cy="94.2" rx="10" ry="2.3" fill="#b020c8"/>
<path d="M592.0 72.0 C593.0 72.7 596.0 74.3 598.0 76.0 C600.0 77.7 602.3 81.7 604.0 82.0 C605.7 82.3 607.7 79.7 608.0 78.0 C608.3 76.3 606.3 73.0 606.0 72.0" fill="none" stroke="#f4ee10" stroke-width="1.20" stroke-linecap="round" stroke-linejoin="round"/>
<path d="M588.0 110.0 C589.3 109.7 593.0 108.2 596.0 108.0 C599.0 107.8 603.0 109.2 606.0 109.0 C609.0 108.8 612.7 107.3 614.0 107.0" fill="none" stroke="#1ef01e" stroke-width="2.50" stroke-linecap="round" stroke-linejoin="round"/>
<g transform="translate(586.0 104.6) rotate(-11.9)"><rect x="-1.35" y="-4.50" width="34.79" height="9.00" rx="3.15" fill="#ff0a0a"/><path d="M1.87 3.38Q4.01 0.45 4.55 -3.38M7.22 3.38Q9.36 0.45 9.89 -3.38M12.57 3.38Q14.71 0.45 15.24 -3.38M17.91 3.38Q20.05 0.45 20.59 -3.38M23.26 3.38Q25.40 0.45 25.94 -3.38M28.61 3.38Q30.75 0.45 31.28 -3.38" stroke="#9a0000" stroke-width="1.50" stroke-linecap="round" fill="none"/></g>
<g transform="translate(583.0 119.4) rotate(-5.2)"><rect x="-1.35" y="-4.50" width="40.55" height="9.00" rx="3.15" fill="#ff0a0a"/><path d="M1.66 3.38Q3.55 0.45 4.02 -3.38M6.39 3.38Q8.28 0.45 8.75 -3.38M11.12 3.38Q13.01 0.45 13.49 -3.38M15.85 3.38Q17.74 0.45 18.22 -3.38M20.58 3.38Q22.48 0.45 22.95 -3.38M25.31 3.38Q27.21 0.45 27.68 -3.38M30.05 3.38Q31.94 0.45 32.41 -3.38M34.78 3.38Q36.67 0.45 37.14 -3.38" stroke="#9a0000" stroke-width="1.32" stroke-linecap="round" fill="none"/></g>
<g transform="translate(616.0 93.0) rotate(14.0)"><rect x="-1.05" y="-3.50" width="14.47" height="7.00" rx="2.45" fill="#ff0a0a"/><path d="M1.44 2.62Q3.09 0.35 3.50 -2.62M5.57 2.62Q7.22 0.35 7.63 -2.62M9.69 2.62Q11.34 0.35 11.75 -2.62" stroke="#9a0000" stroke-width="1.15" stroke-linecap="round" fill="none"/></g>
<g transform="translate(618.0 104.0) rotate(8.7)"><rect x="-1.05" y="-3.50" width="15.25" height="7.00" rx="2.45" fill="#ff0a0a"/><path d="M1.53 2.62Q3.29 0.35 3.73 -2.62M5.92 2.62Q7.67 0.35 8.11 -2.62M10.30 2.62Q12.06 0.35 12.50 -2.62" stroke="#9a0000" stroke-width="1.23" stroke-linecap="round" fill="none"/></g>
<g transform="translate(620.0 110.0) rotate(21.8)"><rect x="-0.90" y="-3.00" width="12.57" height="6.00" rx="2.10" fill="#ff0a0a"/><path d="M1.26 2.25Q2.69 0.30 3.05 -2.25M4.85 2.25Q6.28 0.30 6.64 -2.25M8.44 2.25Q9.87 0.30 10.23 -2.25" stroke="#9a0000" stroke-width="1.01" stroke-linecap="round" fill="none"/></g>
<path d="M616.0 92.0 C616.7 91.0 618.3 87.3 620.0 86.0 C621.7 84.7 624.0 84.5 626.0 84.0 C628.0 83.5 630.0 83.3 632.0 83.0 C634.0 82.7 636.3 81.5 638.0 82.0 C639.7 82.5 641.7 84.5 642.0 86.0 C642.3 87.5 641.3 90.2 640.0 91.0 C638.7 91.8 635.5 91.8 634.0 91.0 C632.5 90.2 631.5 86.8 631.0 86.0" fill="none" stroke="#ff0a0a" stroke-width="2.20" stroke-linecap="round" stroke-linejoin="round"/>
<path d="M628.0 96.0 C629.0 96.7 633.3 98.0 634.0 100.0 C634.7 102.0 632.3 106.7 632.0 108.0" fill="none" stroke="#ff0a0a" stroke-width="2.20" stroke-linecap="round" stroke-linejoin="round"/>
<path d="M560.0 130.0 C560.3 128.8 560.7 124.7 562.0 123.0 C563.3 121.3 566.0 119.8 568.0 120.0 C570.0 120.2 573.2 122.2 574.0 124.0 C574.8 125.8 574.3 129.3 573.0 131.0 C571.7 132.7 567.2 133.5 566.0 134.0" fill="none" stroke="#ff0a0a" stroke-width="2.00" stroke-linecap="round" stroke-linejoin="round"/>
<path d="M570.0 118.0 C571.0 117.2 573.7 114.2 576.0 113.0 C578.3 111.8 582.7 111.3 584.0 111.0" fill="none" stroke="#ff0a0a" stroke-width="2.50" stroke-linecap="round" stroke-linejoin="round"/>
<g transform="translate(572.0 112.0) rotate(47.5)"><rect x="-1.05" y="-3.50" width="18.38" height="7.00" rx="2.45" fill="#ff0a0a"/><path d="M1.42 2.62Q3.05 0.35 3.46 -2.62M5.49 2.62Q7.12 0.35 7.53 -2.62M9.56 2.62Q11.19 0.35 11.60 -2.62M13.63 2.62Q15.26 0.35 15.67 -2.62" stroke="#9a0000" stroke-width="1.14" stroke-linecap="round" fill="none"/></g>
<path d="M576.0 126.0 C577.0 126.7 579.7 129.5 582.0 130.0 C584.3 130.5 588.7 129.2 590.0 129.0" fill="none" stroke="#9a0000" stroke-width="1.80" stroke-linecap="round" stroke-linejoin="round"/>
<path d="M566.0 110.0 C567.0 109.3 570.0 106.3 572.0 106.0 C574.0 105.7 577.0 107.7 578.0 108.0" fill="none" stroke="#ff0a0a" stroke-width="2.00" stroke-linecap="round" stroke-linejoin="round"/>
<path d="M598.0 124.0 C599.3 124.3 603.7 126.3 606.0 126.0 C608.3 125.7 610.3 122.3 612.0 122.0 C613.7 121.7 615.3 123.7 616.0 124.0" fill="none" stroke="#ff0a0a" stroke-width="2.00" stroke-linecap="round" stroke-linejoin="round"/>
<path d="M533.8 205.6 C534.8 205.5 537.7 205.1 539.7 204.8 C541.7 204.5 545.1 203.0 545.6 203.7 C546.1 204.4 543.4 207.1 542.7 208.9 C541.9 210.7 542.1 213.3 540.9 214.7 C539.7 216.1 537.4 217.0 535.5 217.2 C533.6 217.5 530.5 216.5 529.6 216.4" fill="none" stroke="#f4ee10" stroke-width="1.67" stroke-linecap="round" stroke-linejoin="round"/>
<path d="M538.5 212.3 C537.6 212.8 534.2 213.9 533.4 215.4 C532.5 216.9 534.3 220.1 533.3 221.4 C532.3 222.7 529.4 223.1 527.5 223.0 C525.6 223.0 523.7 221.9 521.9 221.0 C520.1 220.1 518.6 218.1 516.8 217.8 C515.0 217.5 512.0 219.0 511.0 219.3" fill="none" stroke="#f4ee10" stroke-width="1.00" stroke-linecap="round" stroke-linejoin="round"/>
<path d="M499.9 196.0 C500.9 196.1 504.1 197.1 505.9 196.5 C507.7 196.0 508.8 193.5 510.5 192.7 C512.3 191.8 514.4 191.3 516.4 191.4 C518.3 191.4 520.4 193.3 522.1 193.0 C523.9 192.8 526.5 191.3 527.2 189.7 C527.8 188.2 526.2 184.8 526.0 183.9" fill="none" stroke="#f4ee10" stroke-width="1.50" stroke-linecap="round" stroke-linejoin="round"/>
<path d="M518.9 189.6 C519.7 190.2 522.4 191.7 523.8 193.0 C525.3 194.3 526.2 196.5 527.9 197.5 C529.5 198.5 531.8 198.2 533.7 198.9 C535.6 199.5 538.1 199.9 539.2 201.3 C540.2 202.7 539.5 205.4 540.1 207.3 C540.8 209.1 542.5 211.6 543.0 212.5" fill="none" stroke="#f4ee10" stroke-width="1.71" stroke-linecap="round" stroke-linejoin="round"/>
<path d="M520.7 190.9 C521.0 190.0 521.9 187.1 522.6 185.2 C523.4 183.4 524.4 181.6 525.0 179.7 C525.6 177.8 526.1 175.8 526.2 173.8 C526.4 171.9 526.5 168.0 525.9 167.9 C525.3 167.7 522.6 171.3 522.7 173.0 C522.8 174.6 525.8 176.9 526.4 177.7" fill="none" stroke="#f4ee10" stroke-width="1.59" stroke-linecap="round" stroke-linejoin="round"/>
<path d="M489.3 186.4 C489.4 185.4 490.4 182.4 490.1 180.5 C489.7 178.6 487.5 177.1 487.2 175.2 C486.9 173.4 487.1 170.8 488.2 169.3 C489.2 167.9 492.8 166.0 493.5 166.6 C494.2 167.1 492.9 170.5 492.6 172.5 C492.3 174.5 492.0 177.5 491.8 178.4" fill="none" stroke="#f4ee10" stroke-width="1.57" stroke-linecap="round" stroke-linejoin="round"/>
<path d="M501.2 174.9 C500.3 175.5 497.7 177.0 496.1 178.2 C494.5 179.4 493.2 181.0 491.6 182.1 C490.0 183.3 487.6 185.5 486.4 185.1 C485.2 184.6 484.4 181.2 484.5 179.4 C484.7 177.5 486.1 175.6 487.1 173.9 C488.2 172.2 490.1 170.0 490.7 169.2" fill="none" stroke="#f4ee10" stroke-width="1.70" stroke-linecap="round" stroke-linejoin="round"/>
<path d="M503.9 221.6 C503.5 220.7 501.3 218.2 501.0 216.3 C500.8 214.5 501.2 211.7 502.4 210.5 C503.6 209.2 506.2 208.8 508.2 208.8 C510.1 208.7 512.1 209.9 514.0 210.0 C516.0 210.2 519.2 210.7 520.0 209.6 C520.8 208.6 519.1 204.7 518.9 203.7" fill="none" stroke="#f4ee10" stroke-width="1.43" stroke-linecap="round" stroke-linejoin="round"/>
<path d="M502.2 224.6 C503.2 224.4 507.2 224.7 508.1 223.6 C509.1 222.4 508.1 219.6 508.0 217.6 C507.9 215.6 507.8 213.5 507.3 211.6 C506.8 209.7 504.8 207.8 505.0 206.1 C505.2 204.3 508.8 202.2 508.5 201.1 C508.1 200.0 503.6 199.7 502.7 199.5" fill="none" stroke="#f4ee10" stroke-width="1.28" stroke-linecap="round" stroke-linejoin="round"/>
<path d="M532.5 170.1 C532.3 171.1 530.6 174.7 531.3 176.0 C532.1 177.4 536.9 177.5 536.9 178.2 C536.9 178.9 532.5 181.0 531.3 180.4 C530.2 179.8 530.1 176.5 530.1 174.5 C530.1 172.6 531.3 168.6 531.3 168.6 C531.3 168.6 530.3 173.5 530.1 174.5" fill="none" stroke="#f4ee10" stroke-width="1.77" stroke-linecap="round" stroke-linejoin="round"/>
<path d="M521.2 166.2 C521.4 167.2 521.4 170.6 522.5 172.0 C523.6 173.5 526.3 173.6 527.8 174.8 C529.4 176.0 531.7 177.8 531.8 179.3 C531.8 180.9 529.8 183.2 528.3 184.2 C526.7 185.2 524.3 185.8 522.4 185.6 C520.6 185.4 517.9 183.4 517.0 183.0" fill="none" stroke="#f4ee10" stroke-width="1.35" stroke-linecap="round" stroke-linejoin="round"/>
<path d="M531.4 194.7 C530.8 195.5 528.2 197.9 528.0 199.7 C527.8 201.4 529.6 203.4 530.3 205.2 C531.0 207.1 530.9 210.0 532.2 210.9 C533.6 211.8 536.4 211.2 538.2 210.7 C540.1 210.2 543.5 208.9 543.5 207.9 C543.6 206.8 539.5 205.0 538.6 204.4" fill="none" stroke="#f4ee10" stroke-width="1.24" stroke-linecap="round" stroke-linejoin="round"/>
<path d="M520.0 164.2 C519.8 165.1 519.6 168.3 518.6 170.0 C517.6 171.6 515.8 172.9 514.2 174.1 C512.6 175.3 510.9 176.8 509.1 177.2 C507.2 177.5 505.0 175.9 503.2 176.2 C501.3 176.5 498.4 177.6 497.8 179.0 C497.3 180.4 499.5 183.7 499.9 184.6" fill="none" stroke="#f4ee10" stroke-width="1.37" stroke-linecap="round" stroke-linejoin="round"/>
<path d="M501.1 163.8 C500.4 164.6 498.3 166.7 497.1 168.3 C496.0 170.0 495.6 172.7 494.1 173.5 C492.6 174.3 488.3 173.8 488.1 173.1 C487.9 172.4 491.0 170.3 492.6 169.2 C494.3 168.1 496.1 166.4 497.9 166.3 C499.7 166.2 502.6 168.0 503.5 168.4" fill="none" stroke="#f4ee10" stroke-width="1.31" stroke-linecap="round" stroke-linejoin="round"/>
<path d="M527.9 180.8 C527.0 181.3 524.4 183.1 522.5 183.5 C520.6 183.8 518.3 182.5 516.5 183.0 C514.7 183.5 513.4 185.7 511.7 186.5 C509.9 187.3 507.6 187.1 505.8 187.9 C504.0 188.7 502.5 190.1 500.9 191.3 C499.3 192.4 496.9 194.4 496.2 195.0" fill="none" stroke="#f4ee10" stroke-width="1.88" stroke-linecap="round" stroke-linejoin="round"/>
<path d="M510.0 228.0 C509.0 227.7 505.4 227.5 504.2 226.2 C503.1 224.9 503.8 222.2 503.2 220.3 C502.6 218.4 502.0 215.4 500.7 214.9 C499.3 214.3 496.6 217.4 495.0 216.9 C493.5 216.5 492.7 213.7 491.5 212.1 C490.4 210.5 488.7 208.0 488.1 207.2" fill="none" stroke="#f4ee10" stroke-width="1.42" stroke-linecap="round" stroke-linejoin="round"/>
<path d="M484.9 189.9 C485.0 190.9 484.6 195.1 485.7 195.8 C486.7 196.6 490.3 195.5 491.4 194.2 C492.6 192.9 492.6 190.3 492.5 188.3 C492.5 186.3 490.4 183.7 491.1 182.5 C491.8 181.2 495.1 180.7 496.9 181.0 C498.8 181.2 501.3 183.5 502.1 184.0" fill="none" stroke="#f4ee10" stroke-width="1.93" stroke-linecap="round" stroke-linejoin="round"/>
<path d="M516.8 210.7 C516.2 211.4 513.6 213.5 512.9 215.2 C512.2 217.0 513.0 219.3 512.5 221.2 C511.9 223.1 510.5 226.6 509.7 226.5 C508.8 226.5 508.7 222.4 507.4 221.0 C506.2 219.5 503.1 219.6 502.1 218.1 C501.2 216.6 501.6 213.1 501.4 212.1" fill="none" stroke="#f4ee10" stroke-width="1.35" stroke-linecap="round" stroke-linejoin="round"/>
<path d="M526.2 182.0 C527.2 182.2 531.4 183.9 532.1 183.2 C532.8 182.4 531.0 179.3 530.4 177.4 C529.7 175.5 527.6 172.5 528.1 171.8 C528.7 171.2 533.8 173.7 534.0 173.3 C534.2 172.9 530.9 170.8 529.3 169.5 C527.7 168.3 525.3 166.5 524.5 165.9" fill="none" stroke="#f4ee10" stroke-width="1.27" stroke-linecap="round" stroke-linejoin="round"/>
<path d="M537.5 227.2 C538.0 226.3 539.6 223.7 540.6 222.0 C541.6 220.3 543.2 218.8 543.7 216.9 C544.2 215.0 543.4 212.9 543.6 210.9 C543.9 208.9 544.8 205.1 545.3 205.1 C545.7 205.1 546.9 209.5 546.2 211.0 C545.5 212.6 542.0 213.8 541.1 214.3" fill="none" stroke="#f4ee10" stroke-width="1.84" stroke-linecap="round" stroke-linejoin="round"/>
<path d="M502.2 168.8 C503.1 168.5 507.0 166.2 507.9 166.9 C508.7 167.6 507.1 170.9 507.2 172.9 C507.3 174.9 507.4 177.3 508.6 178.7 C509.7 180.2 512.1 180.9 514.0 181.3 C515.9 181.8 518.7 182.5 520.0 181.5 C521.2 180.6 521.1 176.6 521.3 175.7" fill="none" stroke="#f4ee10" stroke-width="1.21" stroke-linecap="round" stroke-linejoin="round"/>
<path d="M513.3 181.5 C512.5 180.9 510.2 178.5 508.4 178.0 C506.6 177.6 504.4 178.5 502.5 178.9 C500.5 179.4 498.6 180.1 496.8 181.0 C495.1 181.9 493.0 182.9 491.9 184.4 C490.8 186.0 490.0 188.4 490.2 190.2 C490.5 192.0 492.8 194.5 493.4 195.3" fill="none" stroke="#f4ee10" stroke-width="1.40" stroke-linecap="round" stroke-linejoin="round"/>
<path d="M516.7 201.0 C517.4 201.7 519.4 204.8 521.1 205.1 C522.8 205.4 525.4 204.2 526.7 202.9 C528.0 201.7 528.3 199.2 528.8 197.3 C529.2 195.4 529.0 193.3 529.3 191.3 C529.6 189.4 529.5 186.9 530.6 185.5 C531.7 184.1 535.2 183.5 536.1 183.1" fill="none" stroke="#f4ee10" stroke-width="1.82" stroke-linecap="round" stroke-linejoin="round"/>
<path d="M519.7 181.0 C518.8 180.5 516.2 178.0 514.5 178.0 C512.7 178.0 510.8 179.7 509.2 180.8 C507.5 181.9 505.4 183.1 504.6 184.7 C503.8 186.3 505.1 189.1 504.2 190.7 C503.4 192.3 501.3 193.5 499.5 194.4 C497.7 195.2 494.6 195.4 493.6 195.6" fill="none" stroke="#f4ee10" stroke-width="1.40" stroke-linecap="round" stroke-linejoin="round"/>
<path d="M519.3 183.8 C518.4 183.4 515.7 181.9 513.8 181.4 C511.8 181.0 509.8 181.2 507.8 181.0 C505.8 180.7 503.8 180.2 501.9 179.8 C499.9 179.4 497.8 179.3 496.0 178.6 C494.2 177.9 492.6 175.6 490.9 175.5 C489.1 175.4 486.4 177.7 485.5 178.1" fill="none" stroke="#f4ee10" stroke-width="1.31" stroke-linecap="round" stroke-linejoin="round"/>
<path d="M489.5 199.2 C490.5 199.1 493.8 199.4 495.5 198.6 C497.2 197.8 498.2 195.0 499.9 194.5 C501.6 194.0 503.9 195.3 505.8 195.4 C507.8 195.6 511.2 196.5 511.8 195.5 C512.5 194.6 509.6 191.4 510.0 189.8 C510.5 188.2 513.8 186.5 514.6 185.9" fill="none" stroke="#f4ee10" stroke-width="1.87" stroke-linecap="round" stroke-linejoin="round"/>
<path d="M482.0 188.0 C483.0 187.3 486.7 185.7 488.0 184.0 C489.3 182.3 489.7 179.0 490.0 178.0" fill="none" stroke="#f4ee10" stroke-width="1.20" stroke-linecap="round" stroke-linejoin="round"/>
<path d="M483.0 210.0 C484.0 209.3 488.5 207.7 489.0 206.0 C489.5 204.3 486.5 201.0 486.0 200.0" fill="none" stroke="#f4ee10" stroke-width="1.20" stroke-linecap="round" stroke-linejoin="round"/>
<g transform="translate(491.2 212.5) rotate(-118.4)"><rect x="-0.67" y="-2.22" width="7.46" height="4.43" rx="1.55" fill="#f4ee10"/><path d="M1.07 1.66Q2.30 0.22 2.60 -1.66M4.14 1.66Q5.36 0.22 5.67 -1.66" stroke="#a89a00" stroke-width="0.86" stroke-linecap="round" fill="none"/></g>
<g transform="translate(500.0 224.9) rotate(-18.8)"><rect x="-0.70" y="-2.34" width="5.98" height="4.69" rx="1.64" fill="#f4ee10"/><path d="M0.80 1.76Q1.72 0.23 1.95 -1.76M3.09 1.76Q4.00 0.23 4.23 -1.76" stroke="#a89a00" stroke-width="0.64" stroke-linecap="round" fill="none"/></g>
<g transform="translate(495.4 203.3) rotate(-153.7)"><rect x="-0.64" y="-2.12" width="7.24" height="4.24" rx="1.48" fill="#f4ee10"/><path d="M1.04 1.59Q2.24 0.21 2.54 -1.59M4.03 1.59Q5.22 0.21 5.52 -1.59" stroke="#a89a00" stroke-width="0.84" stroke-linecap="round" fill="none"/></g>
<g transform="translate(492.5 174.3) rotate(-57.9)"><rect x="-0.60" y="-2.01" width="5.27" height="4.02" rx="1.41" fill="#f4ee10"/><path d="M1.42 1.51Q3.04 0.20 3.45 -1.51" stroke="#a89a00" stroke-width="1.14" stroke-linecap="round" fill="none"/></g>
<g transform="translate(499.1 223.4) rotate(-50.9)"><rect x="-0.62" y="-2.08" width="7.32" height="4.16" rx="1.46" fill="#f4ee10"/><path d="M1.06 1.56Q2.28 0.21 2.58 -1.56M4.10 1.56Q5.31 0.21 5.62 -1.56" stroke="#a89a00" stroke-width="0.85" stroke-linecap="round" fill="none"/></g>
<g transform="translate(515.0 228.0) rotate(29.7)"><rect x="-0.67" y="-2.25" width="9.41" height="4.50" rx="1.57" fill="#f4ee10"/><path d="M0.94 1.69Q2.02 0.23 2.28 -1.69M3.63 1.69Q4.70 0.23 4.97 -1.69M6.32 1.69Q7.39 0.23 7.66 -1.69" stroke="#a89a00" stroke-width="0.75" stroke-linecap="round" fill="none"/></g>
<g transform="translate(526.0 229.0) rotate(26.6)"><rect x="-0.67" y="-2.25" width="10.29" height="4.50" rx="1.57" fill="#f4ee10"/><path d="M1.04 1.69Q2.24 0.23 2.53 -1.69M4.02 1.69Q5.22 0.23 5.52 -1.69M7.01 1.69Q8.20 0.23 8.50 -1.69" stroke="#a89a00" stroke-width="0.83" stroke-linecap="round" fill="none"/></g>
<g transform="translate(504.0 226.0) rotate(14.0)"><rect x="-0.67" y="-2.25" width="9.60" height="4.50" rx="1.57" fill="#f4ee10"/><path d="M0.96 1.69Q2.06 0.23 2.34 -1.69M3.71 1.69Q4.81 0.23 5.09 -1.69M6.46 1.69Q7.56 0.23 7.83 -1.69" stroke="#a89a00" stroke-width="0.77" stroke-linecap="round" fill="none"/></g>
<path d="M521.9 191.0 C520.9 190.7 518.1 189.6 516.1 189.3 C514.2 189.1 510.3 190.3 510.1 189.7 C509.9 189.1 513.0 186.5 514.8 185.9 C516.6 185.4 519.4 187.2 520.8 186.3 C522.1 185.4 521.5 181.8 522.8 180.6 C524.2 179.5 527.7 179.4 528.7 179.1" fill="none" stroke="#1ef01e" stroke-width="1.91" stroke-linecap="round" stroke-linejoin="round"/>
<path d="M525.2 213.6 C526.1 213.1 530.3 210.5 530.5 210.7 C530.7 211.0 527.2 215.3 526.3 215.0 C525.3 214.7 525.0 211.1 525.0 209.1 C525.1 207.2 527.1 204.7 526.4 203.3 C525.7 201.9 522.5 201.9 521.0 200.6 C519.6 199.4 518.1 196.6 517.5 195.8" fill="none" stroke="#1ef01e" stroke-width="1.57" stroke-linecap="round" stroke-linejoin="round"/>
<path d="M527.5 193.1 C527.7 194.1 528.7 197.2 528.4 199.1 C528.1 201.0 527.3 203.8 525.9 204.5 C524.5 205.3 521.7 203.0 520.0 203.5 C518.2 204.0 515.3 207.2 515.4 207.4 C515.6 207.6 519.4 206.1 520.8 204.8 C522.3 203.5 523.5 200.6 524.0 199.7" fill="none" stroke="#1ef01e" stroke-width="1.46" stroke-linecap="round" stroke-linejoin="round"/>
<path d="M516.5 207.7 C516.4 206.7 515.4 203.5 516.0 201.7 C516.5 200.0 518.4 197.7 520.0 197.3 C521.6 196.9 524.2 199.9 525.6 199.4 C527.1 198.9 529.1 194.7 528.7 194.3 C528.3 193.8 525.1 196.4 523.2 196.7 C521.3 197.0 518.2 196.1 517.2 196.0" fill="none" stroke="#1ef01e" stroke-width="1.92" stroke-linecap="round" stroke-linejoin="round"/>
<path d="M542.7 202.9 C543.6 202.3 547.9 200.0 547.8 199.6 C547.6 199.2 543.8 200.0 541.8 200.2 C539.8 200.5 537.8 201.4 535.9 201.3 C534.0 201.1 531.5 198.8 530.2 199.4 C528.9 200.0 528.4 203.1 528.0 205.0 C527.6 207.0 527.8 210.0 527.8 211.0" fill="none" stroke="#1ef01e" stroke-width="1.53" stroke-linecap="round" stroke-linejoin="round"/>
<path d="M543.7 209.8 C542.9 209.3 540.5 207.4 538.7 206.6 C536.9 205.7 535.0 204.7 533.0 204.6 C531.1 204.4 529.0 205.5 527.1 205.4 C525.1 205.3 523.2 204.0 521.2 204.0 C519.3 204.1 515.8 206.2 515.5 205.7 C515.2 205.3 518.9 202.1 519.6 201.4" fill="none" stroke="#1ef01e" stroke-width="1.75" stroke-linecap="round" stroke-linejoin="round"/>
<path d="M509.5 182.9 C510.2 183.7 511.9 186.5 513.5 187.4 C515.2 188.3 517.4 188.3 519.4 188.5 C521.4 188.7 524.6 189.8 525.4 188.8 C526.2 187.9 525.5 184.3 524.5 182.9 C523.4 181.5 520.0 180.0 518.9 180.6 C517.8 181.2 518.0 185.6 517.9 186.5" fill="none" stroke="#1ef01e" stroke-width="2.09" stroke-linecap="round" stroke-linejoin="round"/>
<path d="M542.9 192.8 C542.2 193.5 540.0 195.6 538.8 197.2 C537.6 198.8 537.1 200.9 535.9 202.4 C534.6 203.9 531.8 204.4 531.1 206.0 C530.4 207.6 532.6 211.0 531.7 212.0 C530.8 212.9 527.4 212.4 525.7 211.6 C523.9 210.9 522.0 208.2 521.3 207.5" fill="none" stroke="#1ef01e" stroke-width="1.81" stroke-linecap="round" stroke-linejoin="round"/>
<path d="M530.0 180.0 C529.1 179.7 524.3 178.3 524.4 178.1 C524.4 177.9 529.4 177.9 530.3 179.0 C531.2 180.2 529.5 183.1 529.8 185.0 C530.1 186.9 531.6 188.6 532.2 190.5 C532.7 192.4 533.3 196.4 533.0 196.5 C532.7 196.6 530.7 192.0 530.2 191.1" fill="none" stroke="#1ef01e" stroke-width="1.57" stroke-linecap="round" stroke-linejoin="round"/>
<path d="M526.1 188.0 C526.9 188.6 529.6 190.1 530.9 191.5 C532.3 193.0 534.5 195.4 534.1 196.7 C533.7 197.9 530.4 198.3 528.6 199.0 C526.7 199.8 524.9 200.6 523.0 201.2 C521.1 201.9 519.1 202.2 517.2 202.8 C515.3 203.4 512.5 204.4 511.5 204.7" fill="none" stroke="#1ef01e" stroke-width="1.61" stroke-linecap="round" stroke-linejoin="round"/>
<path d="M517.9 179.1 C518.4 180.0 520.3 182.5 520.9 184.3 C521.5 186.2 520.8 188.5 521.5 190.3 C522.2 192.1 524.9 193.7 524.8 195.3 C524.8 196.9 522.8 199.1 521.2 200.1 C519.6 201.1 517.1 201.5 515.3 201.1 C513.5 200.8 511.1 198.5 510.2 197.9" fill="none" stroke="#1ef01e" stroke-width="1.22" stroke-linecap="round" stroke-linejoin="round"/>
<path d="M532.3 183.9 C533.2 183.5 536.0 181.3 537.8 181.4 C539.5 181.5 542.5 183.2 542.9 184.6 C543.2 186.0 540.4 187.9 540.0 189.8 C539.5 191.7 540.2 193.8 540.4 195.8 C540.5 197.8 540.7 199.8 540.8 201.8 C540.8 203.8 540.6 206.8 540.5 207.8" fill="none" stroke="#1ef01e" stroke-width="1.32" stroke-linecap="round" stroke-linejoin="round"/>
<g transform="translate(509.0 183.0) rotate(50.5)"><rect x="-1.50" y="-5.00" width="25.02" height="10.00" rx="3.50" fill="#1ef01e"/><path d="M1.54 3.75Q3.30 0.50 3.74 -3.75M5.95 3.75Q7.71 0.50 8.15 -3.75M10.35 3.75Q12.11 0.50 12.55 -3.75M14.76 3.75Q16.52 0.50 16.96 -3.75M19.16 3.75Q20.92 0.50 21.36 -3.75" stroke="#078a07" stroke-width="1.23" stroke-linecap="round" fill="none"/></g>
<g transform="translate(526.0 199.0) rotate(27.6)"><rect x="-1.35" y="-4.50" width="26.41" height="9.00" rx="3.15" fill="#1ef01e"/><path d="M1.38 3.38Q2.96 0.45 3.36 -3.38M5.33 3.38Q6.91 0.45 7.31 -3.38M9.29 3.38Q10.87 0.45 11.26 -3.38M13.24 3.38Q14.82 0.45 15.21 -3.38M17.19 3.38Q18.77 0.45 19.16 -3.38M21.14 3.38Q22.72 0.45 23.11 -3.38" stroke="#078a07" stroke-width="1.11" stroke-linecap="round" fill="none"/></g>
<g transform="translate(528.0 180.0) rotate(32.7)"><rect x="-1.05" y="-3.50" width="18.74" height="7.00" rx="2.45" fill="#1ef01e"/><path d="M1.46 2.62Q3.12 0.35 3.54 -2.62M5.62 2.62Q7.28 0.35 7.70 -2.62M9.78 2.62Q11.44 0.35 11.86 -2.62M13.94 2.62Q15.60 0.35 16.02 -2.62" stroke="#078a07" stroke-width="1.17" stroke-linecap="round" fill="none"/></g>
<path d="M512.0 204.0 C513.0 205.0 515.7 208.7 518.0 210.0 C520.3 211.3 524.7 211.7 526.0 212.0" fill="none" stroke="#1ef01e" stroke-width="2.00" stroke-linecap="round" stroke-linejoin="round"/>
<g transform="translate(541.0 172.0) rotate(1.8)"><rect x="-1.20" y="-4.00" width="51.42" height="8.00" rx="2.80" fill="#1ef01e"/><path d="M1.56 3.00Q3.34 0.40 3.79 -3.00M6.02 3.00Q7.80 0.40 8.24 -3.00M10.47 3.00Q12.26 0.40 12.70 -3.00M14.93 3.00Q16.71 0.40 17.16 -3.00M19.39 3.00Q21.17 0.40 21.61 -3.00M23.84 3.00Q25.63 0.40 26.07 -3.00M28.30 3.00Q30.08 0.40 30.53 -3.00M32.76 3.00Q34.54 0.40 34.98 -3.00M37.21 3.00Q39.00 0.40 39.44 -3.00M41.67 3.00Q43.45 0.40 43.90 -3.00M46.13 3.00Q47.91 0.40 48.35 -3.00" stroke="#078a07" stroke-width="1.25" stroke-linecap="round" fill="none"/></g>
<path d="M548.0 176.0 C548.7 177.3 550.7 181.7 552.0 184.0 C553.3 186.3 554.3 189.7 556.0 190.0 C557.7 190.3 560.3 187.7 562.0 186.0 C563.7 184.3 565.3 181.0 566.0 180.0" fill="none" stroke="#1ef01e" stroke-width="1.60" stroke-linecap="round" stroke-linejoin="round"/>
<path d="M566.0 176.0 C566.7 177.7 568.3 183.0 570.0 186.0 C571.7 189.0 574.0 193.7 576.0 194.0 C578.0 194.3 580.3 190.7 582.0 188.0 C583.7 185.3 585.3 179.7 586.0 178.0" fill="none" stroke="#1ef01e" stroke-width="1.60" stroke-linecap="round" stroke-linejoin="round"/>
<path d="M556.0 178.0 C556.7 181.0 558.3 192.0 560.0 196.0 C561.7 200.0 565.0 201.0 566.0 202.0" fill="none" stroke="#1ef01e" stroke-width="1.40" stroke-linecap="round" stroke-linejoin="round"/>
<path d="M490.0 171.0 C491.3 170.3 495.3 168.2 498.0 167.0 C500.7 165.8 503.3 165.0 506.0 164.0 C508.7 163.0 511.5 162.0 514.0 161.0 C516.5 160.0 519.0 158.7 521.0 158.0 C523.0 157.3 525.2 157.2 526.0 157.0" fill="none" stroke="#ff0a0a" stroke-width="4.2" stroke-linecap="butt" stroke-linejoin="round"/>
<path d="M526.0 157.0 C526.7 157.5 529.8 158.5 530.0 160.0 C530.2 161.5 528.7 164.5 527.0 166.0 C525.3 167.5 522.2 168.2 520.0 169.0 C517.8 169.8 515.0 170.7 514.0 171.0" fill="none" stroke="#ff0a0a" stroke-width="2.80" stroke-linecap="round" stroke-linejoin="round"/>
<path d="M492.0 177.0 C493.3 176.8 497.3 176.2 500.0 176.0 C502.7 175.8 505.3 175.8 508.0 175.5 C510.7 175.2 514.7 174.7 516.0 174.5" fill="none" stroke="#ff0a0a" stroke-width="3.0" stroke-linecap="butt" stroke-linejoin="round"/>
<path d="M485.0 172.0 C485.8 171.8 489.2 171.2 490.0 171.0" fill="none" stroke="#ff0a0a" stroke-width="2.50" stroke-linecap="round" stroke-linejoin="round"/>
<g transform="translate(537.0 163.0) rotate(78.1)"><rect x="-1.35" y="-4.50" width="41.53" height="9.00" rx="3.15" fill="#ff0a0a"/><path d="M1.51 3.38Q3.24 0.45 3.67 -3.38M5.82 3.38Q7.55 0.45 7.98 -3.38M10.14 3.38Q11.87 0.45 12.30 -3.38M14.45 3.38Q16.18 0.45 16.61 -3.38M18.77 3.38Q20.50 0.45 20.93 -3.38M23.08 3.38Q24.81 0.45 25.24 -3.38M27.40 3.38Q29.12 0.45 29.56 -3.38M31.71 3.38Q33.44 0.45 33.87 -3.38M36.03 3.38Q37.75 0.45 38.19 -3.38" stroke="#9a0000" stroke-width="1.21" stroke-linecap="round" fill="none"/></g>
<g transform="translate(499.5 189.0) rotate(92.6)"><rect x="-1.50" y="-5.00" width="25.02" height="10.00" rx="3.50" fill="#ff0a0a"/><path d="M1.54 3.75Q3.30 0.50 3.74 -3.75M5.95 3.75Q7.71 0.50 8.15 -3.75M10.35 3.75Q12.11 0.50 12.55 -3.75M14.76 3.75Q16.52 0.50 16.96 -3.75M19.16 3.75Q20.92 0.50 21.36 -3.75" stroke="#9a0000" stroke-width="1.23" stroke-linecap="round" fill="none"/></g>
<g transform="translate(497.0 210.0) rotate(41.2)"><rect x="-1.50" y="-5.00" width="13.63" height="10.00" rx="3.50" fill="#ff0a0a"/><path d="M1.86 3.75Q3.99 0.50 4.52 -3.75M7.18 3.75Q9.30 0.50 9.83 -3.75" stroke="#9a0000" stroke-width="1.49" stroke-linecap="round" fill="none"/></g>
<g transform="translate(505.0 217.0) rotate(15.3)"><rect x="-1.50" y="-5.00" width="14.40" height="10.00" rx="3.50" fill="#ff0a0a"/><path d="M2.00 3.75Q4.28 0.50 4.85 -3.75M7.70 3.75Q9.98 0.50 10.55 -3.75" stroke="#9a0000" stroke-width="1.60" stroke-linecap="round" fill="none"/></g>
<g transform="translate(516.0 220.0) rotate(8.1)"><rect x="-1.50" y="-5.00" width="17.14" height="10.00" rx="3.50" fill="#ff0a0a"/><path d="M1.65 3.75Q3.54 0.50 4.01 -3.75M6.36 3.75Q8.25 0.50 8.72 -3.75M11.08 3.75Q12.96 0.50 13.44 -3.75" stroke="#9a0000" stroke-width="1.32" stroke-linecap="round" fill="none"/></g>
<g transform="translate(530.0 222.0) rotate(-4.1)"><rect x="-1.50" y="-5.00" width="17.04" height="10.00" rx="3.50" fill="#ff0a0a"/><path d="M1.64 3.75Q3.51 0.50 3.98 -3.75M6.32 3.75Q8.19 0.50 8.66 -3.75M10.99 3.75Q12.87 0.50 13.33 -3.75" stroke="#9a0000" stroke-width="1.31" stroke-linecap="round" fill="none"/></g>
<path d="M520.0 176.0 C521.0 177.0 524.3 179.7 526.0 182.0 C527.7 184.3 529.3 188.7 530.0 190.0" fill="none" stroke="#ff0a0a" stroke-width="2.00" stroke-linecap="round" stroke-linejoin="round"/>
<path d="M546.0 196.0 C546.7 197.3 549.7 201.3 550.0 204.0 C550.3 206.7 549.0 209.7 548.0 212.0 C547.0 214.3 544.7 217.0 544.0 218.0" fill="none" stroke="#ff0a0a" stroke-width="2.00" stroke-linecap="round" stroke-linejoin="round"/>
<path d="M574.0 192.0 C574.8 186.7 577.0 180.7 580.0 176.0 C583.0 171.3 588.2 167.3 592.0 164.0 C595.8 160.7 598.7 157.3 603.0 156.0 C607.3 154.7 613.5 155.0 618.0 156.0 C622.5 157.0 626.3 159.3 630.0 162.0 C633.7 164.7 638.3 167.3 640.0 172.0 C641.7 176.7 640.7 184.5 640.0 190.0 C639.3 195.5 638.0 200.7 636.0 205.0 C634.0 209.3 631.5 213.2 628.0 216.0 C624.5 218.8 620.0 221.0 615.0 222.0 C610.0 223.0 603.2 222.7 598.0 222.0 C592.8 221.3 587.8 220.3 584.0 218.0 C580.2 215.7 576.7 212.3 575.0 208.0 C573.3 203.7 573.2 197.3 574.0 192.0Z" fill="#f6f070" opacity="0.55"/>
<path d="M619.8 198.3 C619.9 197.2 619.6 193.5 620.2 191.3 C620.8 189.2 624.1 186.1 623.5 185.2 C622.9 184.2 618.5 186.4 616.5 185.6 C614.6 184.8 612.8 182.4 611.9 180.4 C611.0 178.4 610.4 175.5 611.1 173.4 C611.7 171.4 614.9 169.0 615.6 168.1" fill="none" stroke="#f4ee10" stroke-width="1.91" stroke-linecap="round" stroke-linejoin="round"/>
<path d="M601.4 179.0 C601.0 180.1 599.2 183.4 599.1 185.6 C599.0 187.9 600.0 190.3 600.8 192.4 C601.6 194.6 602.3 197.2 604.0 198.7 C605.6 200.1 608.2 201.0 610.5 201.2 C612.7 201.5 615.2 200.9 617.4 200.2 C619.6 199.6 622.6 197.7 623.7 197.2" fill="none" stroke="#f4ee10" stroke-width="2.15" stroke-linecap="round" stroke-linejoin="round"/>
<path d="M609.8 212.2 C610.9 211.9 615.4 211.7 616.5 210.2 C617.5 208.7 616.1 205.5 616.0 203.2 C615.9 200.8 614.8 197.7 615.9 196.2 C617.0 194.7 620.9 195.6 622.6 194.3 C624.4 193.0 625.0 190.3 626.2 188.2 C627.3 186.2 628.9 183.1 629.4 182.0" fill="none" stroke="#f4ee10" stroke-width="2.42" stroke-linecap="round" stroke-linejoin="round"/>
<path d="M606.8 171.4 C605.7 171.8 601.2 174.4 600.2 173.7 C599.3 172.9 602.0 168.4 601.2 166.7 C600.3 165.0 596.6 163.0 595.0 163.4 C593.4 163.9 590.8 168.2 591.4 169.4 C591.9 170.6 596.7 169.3 598.3 170.6 C599.9 171.9 600.4 176.0 600.9 177.1" fill="none" stroke="#f4ee10" stroke-width="2.25" stroke-linecap="round" stroke-linejoin="round"/>
<path d="M625.5 181.3 C625.2 182.4 622.9 186.1 623.5 188.0 C624.0 189.9 626.8 191.3 628.7 192.6 C630.7 193.9 633.9 194.0 635.0 195.6 C636.2 197.3 636.6 201.0 635.6 202.6 C634.6 204.3 631.4 204.8 629.2 205.5 C627.0 206.2 623.5 206.6 622.3 206.8" fill="none" stroke="#f4ee10" stroke-width="2.07" stroke-linecap="round" stroke-linejoin="round"/>
<path d="M596.9 172.0 C596.5 173.1 596.1 177.2 594.6 178.6 C593.1 180.1 590.2 180.1 587.9 180.7 C585.7 181.3 581.3 182.7 581.0 182.1 C580.7 181.5 584.1 178.1 586.1 177.3 C588.2 176.5 590.8 177.4 593.1 177.2 C595.5 177.1 598.9 176.6 600.1 176.5" fill="none" stroke="#f4ee10" stroke-width="2.23" stroke-linecap="round" stroke-linejoin="round"/>
<path d="M604.8 169.8 C605.9 169.4 609.6 168.7 611.4 167.4 C613.2 166.0 615.7 163.5 615.6 161.8 C615.4 160.0 610.2 157.7 610.5 156.9 C610.8 156.2 615.2 156.8 617.5 157.3 C619.8 157.7 623.4 158.0 624.1 159.5 C624.9 161.0 622.5 165.1 622.1 166.2" fill="none" stroke="#f4ee10" stroke-width="2.59" stroke-linecap="round" stroke-linejoin="round"/>
<path d="M603.5 200.4 C602.4 200.6 598.9 202.0 596.7 201.9 C594.4 201.9 591.1 199.3 589.9 200.2 C588.7 201.1 589.2 204.9 589.3 207.2 C589.4 209.5 589.4 212.0 590.3 214.1 C591.2 216.2 592.7 219.1 594.5 219.7 C596.3 220.3 600.1 217.9 601.2 217.6" fill="none" stroke="#f4ee10" stroke-width="2.27" stroke-linecap="round" stroke-linejoin="round"/>
<path d="M629.9 207.3 C629.2 206.3 627.7 203.0 626.0 201.4 C624.4 199.9 622.0 198.0 620.0 197.9 C617.9 197.8 615.1 199.2 613.6 200.8 C612.1 202.4 610.5 205.7 611.1 207.3 C611.7 209.0 615.1 210.1 617.2 210.7 C619.4 211.3 623.1 210.9 624.2 210.9" fill="none" stroke="#f4ee10" stroke-width="1.88" stroke-linecap="round" stroke-linejoin="round"/>
<path d="M590.4 197.9 C590.1 196.8 588.0 193.1 588.4 191.2 C588.9 189.2 592.0 188.0 593.2 186.1 C594.4 184.1 594.9 181.7 595.8 179.6 C596.7 177.4 597.9 175.3 598.6 173.1 C599.2 170.9 598.5 167.9 599.8 166.2 C601.0 164.5 604.9 163.4 605.9 162.9" fill="none" stroke="#f4ee10" stroke-width="2.18" stroke-linecap="round" stroke-linejoin="round"/>
<path d="M607.1 210.4 C606.0 210.4 600.9 211.4 600.1 210.2 C599.4 209.1 601.6 205.8 602.7 203.7 C603.7 201.6 605.0 197.8 606.3 197.7 C607.6 197.7 609.6 201.2 610.6 203.3 C611.5 205.3 612.1 207.9 612.0 210.1 C612.0 212.4 610.6 215.8 610.3 216.9" fill="none" stroke="#f4ee10" stroke-width="2.38" stroke-linecap="round" stroke-linejoin="round"/>
<path d="M582.3 213.7 C583.5 213.6 587.2 213.8 589.3 213.0 C591.4 212.3 593.4 209.1 595.2 209.3 C597.0 209.5 598.3 213.0 600.2 214.1 C602.2 215.2 607.0 215.8 607.0 215.9 C607.0 216.0 602.1 215.6 600.1 214.6 C598.2 213.5 596.2 210.3 595.4 209.5" fill="none" stroke="#f4ee10" stroke-width="1.93" stroke-linecap="round" stroke-linejoin="round"/>
<path d="M619.8 157.0 C619.7 158.2 620.2 162.5 618.9 164.0 C617.7 165.5 614.1 166.4 612.2 165.8 C610.3 165.3 607.6 162.1 607.8 160.4 C607.9 158.8 612.9 155.7 613.2 156.0 C613.5 156.3 609.4 160.3 609.7 162.1 C610.0 163.9 614.0 166.0 614.9 166.8" fill="none" stroke="#f4ee10" stroke-width="2.50" stroke-linecap="round" stroke-linejoin="round"/>
<path d="M580.5 179.2 C581.6 179.4 585.1 180.2 587.4 180.0 C589.7 179.8 592.1 179.0 594.1 177.9 C596.1 176.8 597.5 174.7 599.4 173.3 C601.2 171.9 603.2 170.2 605.4 169.7 C607.5 169.1 610.1 170.2 612.4 169.8 C614.6 169.4 617.7 167.6 618.8 167.1" fill="none" stroke="#f4ee10" stroke-width="1.91" stroke-linecap="round" stroke-linejoin="round"/>
<path d="M622.4 183.6 C622.1 182.5 620.9 179.1 620.8 176.8 C620.7 174.5 621.6 172.2 621.7 169.9 C621.8 167.6 620.8 163.2 621.5 162.9 C622.3 162.6 626.2 166.1 626.4 168.0 C626.6 169.8 623.4 171.7 622.6 173.9 C621.9 176.0 622.0 179.7 621.9 180.8" fill="none" stroke="#f4ee10" stroke-width="1.79" stroke-linecap="round" stroke-linejoin="round"/>
<path d="M610.6 220.2 C610.3 219.1 609.9 215.4 608.9 213.4 C607.8 211.4 605.6 210.0 604.1 208.2 C602.7 206.4 600.4 204.6 600.1 202.5 C599.8 200.5 603.1 196.9 602.3 195.9 C601.5 194.8 597.6 195.9 595.3 196.2 C593.0 196.6 589.6 197.7 588.5 197.9" fill="none" stroke="#f4ee10" stroke-width="2.33" stroke-linecap="round" stroke-linejoin="round"/>
<path d="M631.5 204.6 C630.4 204.3 626.8 203.9 624.7 203.0 C622.5 202.2 620.4 201.0 618.6 199.6 C616.7 198.2 615.0 196.5 613.6 194.7 C612.1 192.9 611.6 190.1 609.9 188.8 C608.1 187.5 605.3 187.8 603.1 187.1 C600.9 186.3 597.7 184.8 596.7 184.3" fill="none" stroke="#f4ee10" stroke-width="2.21" stroke-linecap="round" stroke-linejoin="round"/>
<path d="M592.0 177.8 C593.1 177.4 597.2 174.7 598.6 175.5 C599.9 176.2 600.5 180.3 600.0 182.3 C599.6 184.4 597.4 187.5 595.7 187.9 C594.0 188.2 591.6 185.6 589.7 184.3 C587.8 183.0 586.2 180.0 584.3 179.9 C582.3 179.7 579.2 182.7 578.1 183.2" fill="none" stroke="#f4ee10" stroke-width="2.14" stroke-linecap="round" stroke-linejoin="round"/>
<path d="M630.5 205.3 C630.8 204.1 632.2 200.7 632.1 198.5 C632.0 196.2 631.1 193.8 630.0 191.8 C628.9 189.8 626.3 188.6 625.3 186.6 C624.4 184.5 625.4 181.4 624.3 179.6 C623.2 177.8 618.7 177.2 618.5 175.7 C618.4 174.2 622.5 171.4 623.3 170.5" fill="none" stroke="#f4ee10" stroke-width="2.02" stroke-linecap="round" stroke-linejoin="round"/>
<path d="M633.6 167.8 C633.0 168.8 631.1 171.7 630.0 173.8 C629.0 175.9 627.2 178.3 627.4 180.3 C627.7 182.3 630.2 184.1 631.7 185.9 C633.1 187.7 636.6 190.2 636.2 191.2 C635.8 192.3 629.9 190.9 629.3 192.1 C628.6 193.3 631.8 197.4 632.3 198.4" fill="none" stroke="#f4ee10" stroke-width="1.79" stroke-linecap="round" stroke-linejoin="round"/>
<path d="M622.6 162.7 C623.4 163.5 627.1 165.6 627.7 167.5 C628.3 169.5 626.7 172.1 626.3 174.4 C625.9 176.7 625.9 179.1 625.2 181.3 C624.5 183.5 622.8 185.4 622.2 187.6 C621.6 189.8 623.0 193.0 621.8 194.6 C620.7 196.2 616.4 196.7 615.3 197.2" fill="none" stroke="#f4ee10" stroke-width="2.41" stroke-linecap="round" stroke-linejoin="round"/>
<path d="M579.7 194.1 C580.8 194.6 583.9 196.5 586.1 196.9 C588.4 197.3 591.0 197.3 593.1 196.6 C595.3 195.9 597.3 194.3 598.9 192.7 C600.5 191.0 601.8 188.9 602.7 186.8 C603.6 184.7 604.9 181.8 604.2 180.0 C603.5 178.1 599.6 176.4 598.7 175.6" fill="none" stroke="#f4ee10" stroke-width="1.87" stroke-linecap="round" stroke-linejoin="round"/>
<path d="M599.8 200.9 C599.6 200.0 599.6 196.5 598.5 195.1 C597.3 193.7 594.9 193.2 593.0 192.7 C591.1 192.1 587.1 192.5 587.0 191.9 C586.9 191.3 591.7 190.4 592.3 188.9 C592.8 187.5 591.5 183.5 590.5 183.2 C589.5 183.0 587.0 186.8 586.3 187.5" fill="none" stroke="#1ef01e" stroke-width="2.21" stroke-linecap="round" stroke-linejoin="round"/>
<path d="M584.6 186.0 C585.0 185.1 585.9 180.9 587.2 180.6 C588.4 180.3 590.1 183.5 591.8 184.4 C593.6 185.3 595.6 185.6 597.6 186.0 C599.5 186.5 601.7 186.2 603.5 186.9 C605.3 187.7 608.0 189.0 608.4 190.5 C608.7 191.9 606.0 194.9 605.6 195.8" fill="none" stroke="#1ef01e" stroke-width="1.33" stroke-linecap="round" stroke-linejoin="round"/>
<path d="M586.9 195.8 C586.7 194.8 584.8 190.7 585.6 189.9 C586.4 189.1 589.7 190.1 591.5 190.9 C593.3 191.6 595.0 193.1 596.2 194.6 C597.4 196.1 597.3 198.8 598.7 200.1 C600.0 201.3 602.9 201.0 604.3 202.2 C605.7 203.5 606.5 206.7 607.0 207.6" fill="none" stroke="#1ef01e" stroke-width="2.29" stroke-linecap="round" stroke-linejoin="round"/>
<path d="M602.1 197.1 C602.6 197.9 605.7 200.6 605.5 202.0 C605.3 203.5 601.7 206.2 600.9 205.8 C600.1 205.4 600.9 201.8 600.8 199.8 C600.7 197.8 599.9 195.7 600.3 193.8 C600.6 191.9 602.4 190.3 602.8 188.4 C603.2 186.5 602.6 183.4 602.5 182.4" fill="none" stroke="#1ef01e" stroke-width="1.78" stroke-linecap="round" stroke-linejoin="round"/>
<path d="M592.4 205.7 C592.1 204.8 591.5 201.7 590.6 200.0 C589.7 198.3 586.9 196.9 586.9 195.3 C586.8 193.7 589.2 192.1 590.5 190.5 C591.8 189.0 592.9 187.3 594.4 186.0 C595.9 184.7 597.8 182.6 599.4 182.7 C601.0 182.7 603.3 185.8 604.1 186.4" fill="none" stroke="#1ef01e" stroke-width="1.42" stroke-linecap="round" stroke-linejoin="round"/>
<path d="M601.3 202.9 C600.7 202.1 598.6 198.0 597.7 198.2 C596.8 198.3 597.1 202.4 596.0 203.9 C594.8 205.4 590.8 206.9 590.8 207.0 C590.9 207.2 595.8 206.0 596.4 204.7 C596.9 203.3 593.9 200.7 594.2 199.1 C594.5 197.4 597.7 195.5 598.3 194.7" fill="none" stroke="#1ef01e" stroke-width="1.43" stroke-linecap="round" stroke-linejoin="round"/>
<path d="M603.5 188.0 C603.6 189.0 603.7 192.1 604.3 194.0 C604.9 195.9 606.8 197.6 606.8 199.4 C606.9 201.2 605.5 204.9 604.6 205.0 C603.8 205.1 603.0 201.0 601.5 199.9 C600.0 198.7 597.6 198.1 595.7 198.3 C593.9 198.5 591.3 200.6 590.4 201.1" fill="none" stroke="#1ef01e" stroke-width="2.08" stroke-linecap="round" stroke-linejoin="round"/>
<path d="M603.6 191.7 C602.9 192.4 601.0 195.3 599.3 195.8 C597.6 196.2 594.9 195.5 593.4 194.3 C592.0 193.2 592.1 190.3 590.7 189.0 C589.3 187.7 585.3 187.6 585.2 186.5 C585.1 185.5 588.4 182.8 589.9 182.8 C591.5 182.9 593.7 186.1 594.5 186.7" fill="none" stroke="#1ef01e" stroke-width="1.94" stroke-linecap="round" stroke-linejoin="round"/>
<path d="M593.4 203.7 C594.1 203.0 595.5 199.9 597.2 199.0 C598.8 198.1 601.1 198.1 603.1 198.2 C605.1 198.3 608.2 198.2 609.0 199.4 C609.8 200.6 608.4 205.3 608.0 205.4 C607.5 205.4 606.8 201.5 606.5 199.5 C606.1 197.6 606.0 194.6 605.8 193.6" fill="none" stroke="#1ef01e" stroke-width="2.07" stroke-linecap="round" stroke-linejoin="round"/>
<path d="M594.6 200.2 C594.4 201.2 594.9 205.3 593.7 206.2 C592.6 207.1 587.8 205.2 587.8 205.5 C587.7 205.8 591.4 207.4 593.3 207.8 C595.2 208.1 597.9 208.5 599.3 207.6 C600.7 206.6 601.9 203.5 601.5 202.0 C601.1 200.4 597.6 198.7 596.9 198.1" fill="none" stroke="#1ef01e" stroke-width="1.87" stroke-linecap="round" stroke-linejoin="round"/>
<g transform="translate(584.0 188.0) rotate(26.6)"><rect x="-0.90" y="-3.00" width="19.69" height="6.00" rx="2.10" fill="#1ef01e"/><path d="M1.25 2.25Q2.68 0.30 3.04 -2.25M4.83 2.25Q6.26 0.30 6.62 -2.25M8.41 2.25Q9.84 0.30 10.20 -2.25M11.99 2.25Q13.42 0.30 13.77 -2.25M15.56 2.25Q16.99 0.30 17.35 -2.25" stroke="#078a07" stroke-width="1.00" stroke-linecap="round" fill="none"/></g>
<path d="M614.0 168.0 C615.3 167.7 619.3 166.7 622.0 166.0 C624.7 165.3 627.3 164.0 630.0 164.0 C632.7 164.0 635.8 165.0 638.0 166.0 C640.2 167.0 642.2 169.3 643.0 170.0" fill="none" stroke="#ff0a0a" stroke-width="4.50" stroke-linecap="round" stroke-linejoin="round"/>
<g transform="translate(636.0 170.0) rotate(12.5)"><rect x="-1.05" y="-3.50" width="11.32" height="7.00" rx="2.45" fill="#ff0a0a"/><path d="M1.61 2.62Q3.46 0.35 3.92 -2.62M6.22 2.62Q8.07 0.35 8.53 -2.62" stroke="#9a0000" stroke-width="1.29" stroke-linecap="round" fill="none"/></g>
<g transform="translate(635.0 182.0) rotate(76.0)"><rect x="-1.35" y="-4.50" width="15.07" height="9.00" rx="3.15" fill="#ff0a0a"/><path d="M1.44 3.38Q3.09 0.45 3.50 -3.38M5.57 3.38Q7.22 0.45 7.63 -3.38M9.69 3.38Q11.34 0.45 11.75 -3.38" stroke="#9a0000" stroke-width="1.15" stroke-linecap="round" fill="none"/></g>
<g transform="translate(638.0 194.0) rotate(90.0)"><rect x="-1.35" y="-4.50" width="13.70" height="9.00" rx="3.15" fill="#ff0a0a"/><path d="M1.92 3.38Q4.12 0.45 4.67 -3.38M7.42 3.38Q9.62 0.45 10.18 -3.38" stroke="#9a0000" stroke-width="1.54" stroke-linecap="round" fill="none"/></g>
<g transform="translate(638.0 205.0) rotate(122.5)"><rect x="-1.35" y="-4.50" width="15.74" height="9.00" rx="3.15" fill="#ff0a0a"/><path d="M1.52 3.38Q3.26 0.45 3.69 -3.38M5.87 3.38Q7.61 0.45 8.04 -3.38M10.21 3.38Q11.95 0.45 12.39 -3.38" stroke="#9a0000" stroke-width="1.22" stroke-linecap="round" fill="none"/></g>
<g transform="translate(604.0 219.0) rotate(4.8)"><rect x="-1.35" y="-4.50" width="14.74" height="9.00" rx="3.15" fill="#ff0a0a"/><path d="M1.40 3.38Q3.01 0.45 3.41 -3.38M5.42 3.38Q7.02 0.45 7.43 -3.38M9.43 3.38Q11.04 0.45 11.44 -3.38" stroke="#9a0000" stroke-width="1.12" stroke-linecap="round" fill="none"/></g>
<g transform="translate(616.0 220.0) rotate(-12.1)"><rect x="-1.35" y="-4.50" width="17.02" height="9.00" rx="3.15" fill="#ff0a0a"/><path d="M1.67 3.38Q3.58 0.45 4.06 -3.38M6.44 3.38Q8.35 0.45 8.83 -3.38M11.22 3.38Q13.12 0.45 13.60 -3.38" stroke="#9a0000" stroke-width="1.34" stroke-linecap="round" fill="none"/></g>
<g transform="translate(584.0 210.0) rotate(36.9)"><rect x="-1.20" y="-4.00" width="12.40" height="8.00" rx="2.80" fill="#ff0a0a"/><path d="M1.75 3.00Q3.75 0.40 4.25 -3.00M6.75 3.00Q8.75 0.40 9.25 -3.00" stroke="#9a0000" stroke-width="1.40" stroke-linecap="round" fill="none"/></g>
<g transform="translate(592.0 216.0) rotate(20.6)"><rect x="-1.20" y="-4.00" width="10.94" height="8.00" rx="2.80" fill="#ff0a0a"/><path d="M1.50 3.00Q3.20 0.40 3.63 -3.00M5.77 3.00Q7.48 0.40 7.90 -3.00" stroke="#9a0000" stroke-width="1.20" stroke-linecap="round" fill="none"/></g>
<g transform="translate(600.0 168.0) rotate(48.8)"><rect x="-1.05" y="-3.50" width="12.73" height="7.00" rx="2.45" fill="#ff0a0a"/><path d="M1.24 2.62Q2.66 0.35 3.01 -2.62M4.78 2.62Q6.20 0.35 6.56 -2.62M8.33 2.62Q9.74 0.35 10.10 -2.62" stroke="#9a0000" stroke-width="0.99" stroke-linecap="round" fill="none"/></g>
<path d="M620.0 178.0 C621.3 178.7 626.0 180.0 628.0 182.0 C630.0 184.0 632.3 187.7 632.0 190.0 C631.7 192.3 627.0 195.0 626.0 196.0" fill="none" stroke="#ff0a0a" stroke-width="2.50" stroke-linecap="round" stroke-linejoin="round"/>
<path d="M590.0 178.0 C590.7 175.7 596.2 174.7 598.0 176.0 C599.8 177.3 601.7 183.7 601.0 186.0 C600.3 188.3 595.8 191.3 594.0 190.0 C592.2 188.7 589.3 180.3 590.0 178.0Z" fill="#ff0a0a"/>
<g transform="translate(602.0 156.0) rotate(26.6)"><rect x="-1.50" y="-5.00" width="23.12" height="10.00" rx="3.50" fill="#f4ee10"/><path d="M1.41 3.75Q3.02 0.50 3.42 -3.75M5.43 3.75Q7.04 0.50 7.45 -3.75M9.46 3.75Q11.07 0.50 11.47 -3.75M13.48 3.75Q15.09 0.50 15.50 -3.75M17.51 3.75Q19.12 0.50 19.52 -3.75" stroke="#a89a00" stroke-width="1.13" stroke-linecap="round" fill="none"/></g>
<path d="M578.0 198.0 C580.0 197.3 586.0 195.5 590.0 194.0 C594.0 192.5 598.0 190.5 602.0 189.0 C606.0 187.5 612.0 185.7 614.0 185.0" fill="none" stroke="#f4ee10" stroke-width="5" stroke-linecap="butt" stroke-linejoin="round"/>
<polygon points="615.4,189.3 620.8,182.7 612.6,180.7" fill="#f4ee10"/>
<path d="M582.0 206.0 C584.0 205.3 590.0 203.5 594.0 202.0 C598.0 200.5 604.0 197.8 606.0 197.0" fill="none" stroke="#f4ee10" stroke-width="4" stroke-linecap="butt" stroke-linejoin="round"/>
<polygon points="607.4,200.3 611.3,194.8 604.6,193.7" fill="#f4ee10"/>
<path d="M590.0 172.0 C592.0 173.0 598.3 176.5 602.0 178.0 C605.7 179.5 610.3 180.5 612.0 181.0" fill="none" stroke="#f4ee10" stroke-width="3.5" stroke-linecap="butt" stroke-linejoin="round"/>
<g transform="translate(609.0 192.0) rotate(63.4)"><rect x="-1.05" y="-3.50" width="17.75" height="7.00" rx="2.45" fill="#f4ee10"/><path d="M1.37 2.62Q2.93 0.35 3.33 -2.62M5.28 2.62Q6.85 0.35 7.24 -2.62M9.20 2.62Q10.76 0.35 11.15 -2.62M13.11 2.62Q14.67 0.35 15.07 -2.62" stroke="#a89a00" stroke-width="1.10" stroke-linecap="round" fill="none"/></g>
<g transform="translate(617.0 194.0) rotate(63.4)"><rect x="-1.05" y="-3.50" width="17.75" height="7.00" rx="2.45" fill="#f4ee10"/><path d="M1.37 2.62Q2.93 0.35 3.33 -2.62M5.28 2.62Q6.85 0.35 7.24 -2.62M9.20 2.62Q10.76 0.35 11.15 -2.62M13.11 2.62Q14.67 0.35 15.07 -2.62" stroke="#a89a00" stroke-width="1.10" stroke-linecap="round" fill="none"/></g>
<g transform="translate(572.0 186.0) rotate(69.4)"><rect x="-1.05" y="-3.50" width="19.19" height="7.00" rx="2.45" fill="#f4ee10"/><path d="M1.50 2.62Q3.20 0.35 3.63 -2.62M5.77 2.62Q7.48 0.35 7.90 -2.62M10.04 2.62Q11.75 0.35 12.18 -2.62M14.31 2.62Q16.02 0.35 16.45 -2.62" stroke="#a89a00" stroke-width="1.20" stroke-linecap="round" fill="none"/></g>
<g transform="translate(586.0 208.0) rotate(33.7)"><rect x="-1.05" y="-3.50" width="23.73" height="7.00" rx="2.45" fill="#f4ee10"/><path d="M1.26 2.62Q2.70 0.35 3.06 -2.62M4.87 2.62Q6.31 0.35 6.67 -2.62M8.47 2.62Q9.92 0.35 10.28 -2.62M12.08 2.62Q13.52 0.35 13.88 -2.62M15.68 2.62Q17.13 0.35 17.49 -2.62M19.29 2.62Q20.73 0.35 21.09 -2.62" stroke="#a89a00" stroke-width="1.01" stroke-linecap="round" fill="none"/></g>
<g transform="translate(620.0 172.0) rotate(33.7)"><rect x="-1.05" y="-3.50" width="16.52" height="7.00" rx="2.45" fill="#f4ee10"/><path d="M1.26 2.62Q2.70 0.35 3.06 -2.62M4.87 2.62Q6.31 0.35 6.67 -2.62M8.47 2.62Q9.92 0.35 10.28 -2.62M12.08 2.62Q13.52 0.35 13.88 -2.62" stroke="#a89a00" stroke-width="1.01" stroke-linecap="round" fill="none"/></g>
<g transform="translate(598.0 200.0) rotate(56.3)"><rect x="-1.05" y="-3.50" width="16.52" height="7.00" rx="2.45" fill="#f4ee10"/><path d="M1.26 2.62Q2.70 0.35 3.06 -2.62M4.87 2.62Q6.31 0.35 6.67 -2.62M8.47 2.62Q9.92 0.35 10.28 -2.62M12.08 2.62Q13.52 0.35 13.88 -2.62" stroke="#a89a00" stroke-width="1.01" stroke-linecap="round" fill="none"/></g>
<g transform="translate(624.0 200.0) rotate(63.4)"><rect x="-1.05" y="-3.50" width="15.52" height="7.00" rx="2.45" fill="#f4ee10"/><path d="M1.17 2.62Q2.52 0.35 2.85 -2.62M4.53 2.62Q5.87 0.35 6.21 -2.62M7.88 2.62Q9.22 0.35 9.56 -2.62M11.24 2.62Q12.58 0.35 12.91 -2.62" stroke="#a89a00" stroke-width="0.94" stroke-linecap="round" fill="none"/></g>
<path d="M637.0 186.0 C638.2 185.7 642.0 183.3 644.0 184.0 C646.0 184.7 648.7 187.7 649.0 190.0 C649.3 192.3 647.5 196.3 646.0 198.0 C644.5 199.7 641.0 199.7 640.0 200.0" fill="none" stroke="#f4ee10" stroke-width="1.40" stroke-linecap="round" stroke-linejoin="round"/>
<path d="M643.0 164.0 C643.8 164.3 647.0 164.8 648.0 166.0 C649.0 167.2 649.7 170.0 649.0 171.0 C648.3 172.0 644.8 171.8 644.0 172.0" fill="none" stroke="#f4ee10" stroke-width="1.40" stroke-linecap="round" stroke-linejoin="round"/>
<path d="M622.0 170.0 C623.3 171.0 627.7 174.3 630.0 176.0 C632.3 177.7 635.0 179.3 636.0 180.0" fill="none" stroke="#f4ee10" stroke-width="1.60" stroke-linecap="round" stroke-linejoin="round"/>
<path d="M612.0 210.0 C613.3 210.7 617.7 213.7 620.0 214.0 C622.3 214.3 625.0 212.3 626.0 212.0" fill="none" stroke="#f4ee10" stroke-width="1.80" stroke-linecap="round" stroke-linejoin="round"/>
<path d="M555.0 211.0 C556.2 211.8 559.2 214.3 562.0 216.0 C564.8 217.7 570.3 220.2 572.0 221.0" fill="none" stroke="#b020c8" stroke-width="4.5" stroke-linecap="butt" stroke-linejoin="round"/>
<path d="M576.0 211.0 C577.0 211.5 580.0 212.8 582.0 214.0 C584.0 215.2 587.0 217.3 588.0 218.0" fill="none" stroke="#b020c8" stroke-width="4.5" stroke-linecap="butt" stroke-linejoin="round"/>
<path d="M558.0 207.0 C559.3 208.2 563.3 211.7 566.0 214.0 C568.7 216.3 571.3 218.8 574.0 221.0 C576.7 223.2 580.7 226.0 582.0 227.0" fill="none" stroke="#0a0aff" stroke-width="5" stroke-linecap="butt" stroke-linejoin="round"/>
<polygon points="579.3,230.6 587.8,231.3 584.7,223.4" fill="#0a0aff"/>
<path d="M576.0 207.0 C574.8 208.2 571.3 211.8 569.0 214.0 C566.7 216.2 564.5 217.8 562.0 220.0 C559.5 222.2 556.2 225.0 554.0 227.0 C551.8 229.0 549.8 231.2 549.0 232.0" fill="none" stroke="#0a0aff" stroke-width="5" stroke-linecap="butt" stroke-linejoin="round"/>
<path d="M530.0 242.0 C531.3 241.5 535.3 240.0 538.0 239.0 C540.7 238.0 543.2 236.9 546.0 236.0 C548.8 235.1 553.5 233.9 555.0 233.5" fill="none" stroke="#0a0aff" stroke-width="4.5" stroke-linecap="butt" stroke-linejoin="round"/>
<path d="M560.0 233.5 C562.0 233.4 568.0 233.1 572.0 233.0 C576.0 232.9 580.3 232.8 584.0 233.0 C587.7 233.2 591.3 233.5 594.0 234.0 C596.7 234.5 599.0 235.7 600.0 236.0" fill="none" stroke="#0a0aff" stroke-width="4.5" stroke-linecap="butt" stroke-linejoin="round"/>
<path d="M540.0 240.0 C541.3 240.5 545.0 242.8 548.0 243.0 C551.0 243.2 555.0 242.0 558.0 241.0 C561.0 240.0 564.7 237.7 566.0 237.0" fill="none" stroke="#0a0aff" stroke-width="2.40" stroke-linecap="round" stroke-linejoin="round"/>
<path d="M578.0 237.0 C579.7 237.5 584.7 239.5 588.0 240.0 C591.3 240.5 595.0 240.3 598.0 240.0 C601.0 239.7 604.0 237.8 606.0 238.0 C608.0 238.2 609.3 240.5 610.0 241.0" fill="none" stroke="#0a0aff" stroke-width="2.20" stroke-linecap="round" stroke-linejoin="round"/>
<path d="M584.0 229.0 C585.7 229.5 590.7 231.2 594.0 232.0 C597.3 232.8 601.3 233.3 604.0 234.0 C606.7 234.7 609.0 235.7 610.0 236.0" fill="none" stroke="#0a0aff" stroke-width="2.00" stroke-linecap="round" stroke-linejoin="round"/>
<path d="M566.0 226.0 C567.0 226.7 570.0 229.0 572.0 230.0 C574.0 231.0 577.0 231.7 578.0 232.0" fill="none" stroke="#0a0aff" stroke-width="3" stroke-linecap="butt" stroke-linejoin="round"/>
<path d="M550.0 244.0 C549.0 244.3 546.3 245.8 544.0 246.0 C541.7 246.2 537.3 245.2 536.0 245.0" fill="none" stroke="#0a0aff" stroke-width="1.80" stroke-linecap="round" stroke-linejoin="round"/>
<text transform="translate(480.90 19.60) scale(0.925 1)" font-size="10.2">E.</text>
<text transform="translate(611.40 141.60) scale(0.925 1)" font-size="10.2">Side view</text>
<text transform="translate(612.30 246.50) scale(0.925 1)" font-size="10.2">Top view</text>
<circle cx="487.7" cy="260.8" r="4.9" fill="#ff0000"/>
<text transform="translate(496.30 264.20) scale(0.925 1)" font-size="10.2">Residue 9-124 (NAD-binding domain)</text>
<circle cx="487.7" cy="274.4" r="4.9" fill="#22ff22"/>
<text transform="translate(496.30 277.80) scale(0.925 1)" font-size="10.2">Residue 152-262 (NAD-binding domain)</text>
<circle cx="487.7" cy="288.2" r="4.9" fill="#0000ff"/>
<text transform="translate(496.30 291.60) scale(0.925 1)" font-size="10.2">Residue 129-151 (Oligomerization domain)</text>
<circle cx="487.7" cy="301.8" r="4.9" fill="#ee11ee"/>
<text transform="translate(496.30 305.20) scale(0.925 1)" font-size="10.2">Residue 480-486 (Oligomerization domain)</text>
<circle cx="487.7" cy="316.0" r="4.9" fill="#eeee44"/>
<text transform="translate(496.30 319.40) scale(0.925 1)" font-size="10.2">Residue 263-464 (Substrate-binding domain)</text>
</svg>
</body></html>
